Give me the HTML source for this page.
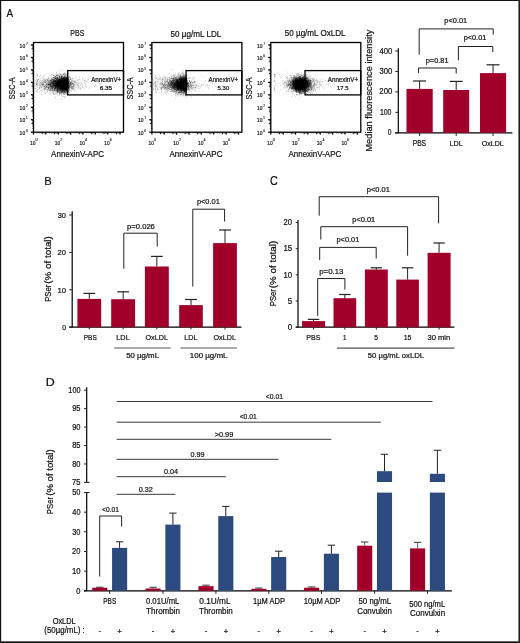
<!DOCTYPE html>
<html><head><meta charset="utf-8"><style>
html,body{margin:0;padding:0;background:#fff;width:520px;height:643px;overflow:hidden}
svg{display:block;will-change:transform}
text{font-family:"Liberation Sans",sans-serif;stroke:#111;stroke-width:0.22px}
</style></head><body>
<svg width="520" height="643" viewBox="0 0 520 643">
<rect width="520" height="643" fill="#fff"/>
<rect x="0.00" y="0.00" width="520.00" height="1.00" fill="#111"/>
<rect x="0.00" y="0.00" width="1.00" height="643.00" fill="#151515"/>
<rect x="1.00" y="1.00" width="0.40" height="641.00" fill="#888"/>
<rect x="519.00" y="0.00" width="1.00" height="643.00" fill="#222"/>
<rect x="518.30" y="0.00" width="0.70" height="643.00" fill="#444"/>
<rect x="0.00" y="642.00" width="520.00" height="1.00" fill="#111"/>
<rect x="0.00" y="641.20" width="520.00" height="0.80" fill="#444"/>
<text transform="translate(6.50,17.10) scale(0.856,1)" font-size="11.59" fill="#111">A</text>
<text transform="translate(44.20,184.60) scale(0.955,1)" font-size="11.74" fill="#111">B</text>
<text transform="translate(269.96,184.90) scale(0.903,1)" font-size="12.03" fill="#111">C</text>
<text transform="translate(45.71,385.80) scale(1.073,1)" font-size="11.59" fill="#111">D</text>
<path d="M60.0 90.1h.4M60.1 84.4h.4M55.9 80.9h.4M64.5 76.6h.4M59.9 81.1h.4M61.9 89.4h.4M65.2 82.4h.4M64.3 87.4h.4M61.8 85.3h.4M65.4 84.2h.4M62.0 82.9h.4M52.4 83.4h.4M62.9 82.5h.4M60.8 81.2h.4M62.7 84.2h.4M66.3 88.0h.4M43.9 86.2h.4M57.8 78.0h.4M67.4 86.3h.4M61.4 85.5h.4M65.0 81.8h.4M65.9 87.4h.4M61.5 86.5h.4M64.4 91.4h.4M56.0 75.7h.4M65.5 87.0h.4M64.4 79.8h.4M66.2 84.6h.4M62.2 86.1h.4M63.6 89.9h.4M60.5 84.9h.4M66.3 81.0h.4M64.2 87.3h.4M57.1 86.1h.4M60.6 88.7h.4M63.5 73.6h.4M57.2 84.3h.4M56.0 72.4h.4M67.2 85.1h.4M64.1 84.0h.4M61.0 80.9h.4M66.6 85.7h.4M57.7 84.9h.4M62.1 88.3h.4M59.2 89.7h.4M60.6 84.6h.4M63.3 83.4h.4M68.1 81.2h.4M61.9 89.0h.4M60.1 83.9h.4M56.3 83.3h.4M57.8 86.6h.4M59.8 81.9h.4M67.2 83.3h.4M62.6 84.2h.4M61.2 88.0h.4M56.4 80.1h.4M62.0 79.6h.4M59.2 81.8h.4M57.8 81.4h.4M67.2 81.1h.4M58.2 87.1h.4M66.0 82.2h.4M58.4 91.3h.4M64.4 88.0h.4M58.8 84.3h.4M60.4 83.7h.4M65.6 86.9h.4M65.9 93.6h.4M66.4 85.9h.4M50.8 80.5h.4M62.3 84.4h.4M64.0 97.5h.4M59.5 80.6h.4M66.5 83.1h.4M64.7 84.5h.4M65.8 82.1h.4M48.9 89.5h.4M61.2 81.7h.4M62.1 83.9h.4M63.2 86.3h.4M60.7 86.5h.4M57.8 83.3h.4M60.9 84.9h.4M62.7 84.0h.4M61.4 70.9h.4M61.1 87.2h.4M56.5 85.1h.4M66.5 83.7h.4M52.2 87.8h.4M61.1 77.3h.4M66.4 89.2h.4M61.6 82.0h.4M61.1 80.5h.4M53.1 80.2h.4M68.4 85.8h.4M67.4 81.8h.4M61.1 87.2h.4M66.2 78.7h.4M44.2 89.0h.4M59.8 83.5h.4M62.2 91.5h.4M46.1 85.9h.4M63.5 82.6h.4M64.9 83.3h.4M64.6 76.9h.4M66.5 83.3h.4M63.1 79.4h.4M61.7 81.7h.4M57.1 92.7h.4M62.7 80.1h.4M64.5 86.5h.4M58.9 86.4h.4M65.3 83.1h.4M59.7 83.9h.4M60.6 81.7h.4M57.0 91.4h.4M66.4 86.5h.4M63.0 88.4h.4M67.4 77.3h.4M64.8 83.7h.4M58.2 79.9h.4M60.2 88.6h.4M62.4 83.2h.4M65.3 81.2h.4M64.2 84.6h.4M61.6 84.9h.4M63.2 83.9h.4M58.1 90.6h.4M66.1 88.2h.4M66.9 85.1h.4M62.3 86.7h.4M65.8 82.9h.4M60.1 78.7h.4M65.2 74.9h.4M62.3 87.9h.4M58.1 82.6h.4M64.2 76.8h.4M59.1 84.8h.4M59.4 94.8h.4M65.0 81.6h.4M63.2 83.8h.4M55.1 86.2h.4M56.9 79.6h.4M60.5 90.4h.4M57.8 82.8h.4M63.6 85.7h.4M62.9 87.7h.4M65.1 83.9h.4M63.5 87.2h.4M62.0 78.2h.4M55.5 78.8h.4M51.0 85.1h.4M65.5 81.7h.4M62.6 81.9h.4M62.2 84.4h.4M51.4 86.8h.4M64.9 89.6h.4M63.9 92.0h.4M66.2 90.1h.4M63.0 88.2h.4M55.6 81.2h.4M62.0 81.0h.4M66.9 79.6h.4M62.2 82.9h.4M49.2 85.5h.4M60.6 92.6h.4M58.3 81.7h.4M64.3 87.2h.4M58.2 82.5h.4M65.4 84.4h.4M56.1 77.6h.4M67.5 94.3h.4M59.6 85.6h.4M63.7 84.6h.4M66.2 84.9h.4M64.3 79.0h.4M55.1 88.1h.4M62.3 86.2h.4M53.4 88.4h.4M66.6 91.2h.4M57.2 88.0h.4M67.5 82.9h.4M52.0 83.7h.4M66.6 79.1h.4M55.0 94.2h.4M58.7 79.3h.4M50.1 89.8h.4M55.2 81.3h.4M63.0 85.9h.4M53.9 84.8h.4M65.3 81.0h.4M57.0 88.6h.4M63.3 87.9h.4M67.5 85.4h.4M60.7 88.4h.4M57.2 91.9h.4M64.6 80.4h.4M58.6 82.9h.4M59.8 79.5h.4M66.1 81.8h.4M57.0 83.7h.4M63.6 83.7h.4M54.7 85.1h.4M65.2 91.4h.4M61.4 88.3h.4M61.7 83.3h.4M58.2 87.0h.4M63.7 82.5h.4M64.8 88.7h.4M59.5 83.1h.4M64.4 84.2h.4M61.1 79.2h.4M65.0 82.7h.4M61.8 92.6h.4M66.4 74.6h.4M65.0 84.2h.4M51.6 82.0h.4M59.9 82.4h.4M61.8 89.5h.4M42.7 81.5h.4M63.4 78.3h.4M64.3 83.6h.4M63.0 83.9h.4M46.5 87.0h.4M51.8 90.0h.4M61.6 87.3h.4M57.4 87.8h.4M60.5 81.8h.4M63.2 80.9h.4M61.2 85.5h.4M65.7 86.5h.4M67.2 87.6h.4M58.1 86.4h.4M60.4 82.1h.4M65.0 81.6h.4M58.9 89.1h.4M59.7 87.9h.4M62.5 76.9h.4M52.7 86.4h.4M65.5 86.1h.4M61.1 81.1h.4M60.5 79.4h.4M63.9 87.7h.4M68.0 86.1h.4M61.9 78.9h.4M42.1 84.1h.4M66.3 89.1h.4M54.1 82.6h.4M57.8 91.0h.4M60.6 78.9h.4M64.8 89.6h.4M66.8 83.5h.4M62.9 80.6h.4M60.6 83.1h.4M66.2 87.8h.4M58.5 79.2h.4M49.9 88.8h.4M65.3 87.1h.4M51.4 75.0h.4M64.6 85.5h.4M58.2 89.2h.4M66.7 81.4h.4M46.0 73.8h.4M55.2 87.6h.4M55.3 88.5h.4M57.2 90.5h.4M54.0 80.5h.4M66.3 80.1h.4M53.1 82.0h.4M64.6 89.4h.4M67.2 80.5h.4M52.2 84.6h.4M60.7 77.6h.4M60.7 90.3h.4M56.0 84.3h.4M55.7 84.8h.4M61.1 98.0h.4M62.9 88.5h.4M54.6 86.7h.4M61.0 84.4h.4M59.7 83.6h.4M57.7 78.3h.4M61.9 88.0h.4M67.7 83.5h.4M62.7 83.6h.4M57.6 78.0h.4M55.5 89.4h.4M65.1 85.0h.4M65.8 85.1h.4M66.2 82.4h.4M68.5 86.7h.4M63.7 88.0h.4M67.2 86.8h.4M64.5 80.1h.4M59.8 77.3h.4M65.6 83.9h.4M45.8 86.4h.4M60.2 74.3h.4M62.2 80.6h.4M67.0 82.2h.4M42.1 84.5h.4M62.0 88.8h.4M61.3 82.6h.4M63.3 88.0h.4M57.4 83.0h.4M47.9 88.2h.4M63.5 81.7h.4M65.6 84.3h.4M63.6 87.9h.4M46.4 84.3h.4M63.6 74.6h.4M67.8 83.0h.4M55.5 86.1h.4M64.3 84.4h.4M57.8 79.9h.4M59.7 82.2h.4M61.9 87.1h.4M65.2 87.8h.4M67.6 86.1h.4M64.6 81.4h.4M61.1 80.5h.4M66.2 92.9h.4M64.0 79.7h.4M67.1 89.1h.4M55.0 84.8h.4M63.2 86.6h.4M61.0 85.8h.4M68.0 83.2h.4M46.7 86.9h.4M53.7 80.5h.4M64.0 82.8h.4M56.9 85.0h.4M64.5 73.8h.4M65.7 89.7h.4M65.9 83.5h.4M66.3 83.1h.4M60.6 79.9h.4M65.5 83.4h.4M56.5 78.4h.4M66.2 79.9h.4M59.2 81.2h.4M63.6 84.1h.4M65.2 83.8h.4M67.5 81.3h.4M64.6 82.0h.4M64.5 86.4h.4M64.7 81.0h.4M66.3 90.1h.4M49.6 86.6h.4M64.6 81.4h.4M66.4 78.6h.4M62.0 84.5h.4M55.5 88.2h.4M63.9 84.6h.4M65.4 84.4h.4M64.8 78.1h.4M55.3 87.3h.4M56.5 79.6h.4M52.6 90.3h.4M60.5 84.3h.4M66.4 90.6h.4M60.5 86.8h.4M58.4 76.2h.4M63.0 83.7h.4M64.5 86.5h.4M55.5 89.8h.4M53.5 83.6h.4M66.8 86.2h.4M66.5 77.4h.4M53.3 84.9h.4M64.8 83.3h.4M61.0 86.6h.4M61.3 83.8h.4M64.6 83.2h.4M61.2 83.6h.4M65.6 86.7h.4M60.9 89.9h.4M66.1 87.8h.4M55.8 88.6h.4M65.3 80.2h.4M62.4 78.5h.4M63.8 79.8h.4M63.4 79.9h.4M63.4 86.4h.4M63.5 83.7h.4M65.0 83.1h.4M67.3 93.3h.4M62.5 83.2h.4M66.6 87.8h.4M61.9 84.5h.4M47.2 79.9h.4M66.5 77.5h.4M52.5 81.9h.4M65.1 86.0h.4M56.1 86.4h.4M61.5 89.4h.4M58.8 86.4h.4M66.7 91.8h.4M64.3 81.5h.4M62.3 81.6h.4M65.9 87.5h.4M65.0 83.8h.4M62.7 88.7h.4M64.9 90.9h.4M55.0 85.9h.4M63.6 83.1h.4M60.8 74.5h.4M61.1 83.4h.4M59.6 85.6h.4M58.8 79.1h.4M60.7 86.2h.4M63.4 85.5h.4M66.6 85.2h.4M62.6 88.2h.4M58.3 90.7h.4M53.8 80.4h.4M62.0 83.9h.4M64.3 85.8h.4M56.1 90.8h.4M64.0 84.9h.4M61.7 87.1h.4M49.7 85.0h.4M63.9 85.4h.4M57.3 85.6h.4M65.0 89.2h.4M61.9 86.7h.4M51.7 88.3h.4M66.1 85.1h.4M60.8 83.4h.4M60.6 84.3h.4M59.6 88.5h.4M66.9 85.0h.4M60.7 78.4h.4M63.1 86.4h.4M52.7 79.9h.4M65.4 75.5h.4M60.0 84.0h.4M63.7 91.2h.4M43.1 87.8h.4M61.8 86.8h.4M57.4 81.1h.4M66.4 80.0h.4M65.7 80.2h.4M54.2 82.7h.4M62.8 81.3h.4M62.4 84.7h.4M67.0 85.2h.4M63.6 80.7h.4M62.8 86.4h.4M53.2 75.5h.4M67.0 81.9h.4M67.0 82.1h.4M61.3 81.3h.4M55.0 83.4h.4M64.0 83.3h.4M62.8 85.3h.4M61.1 85.8h.4M63.4 77.3h.4M64.1 87.9h.4M65.4 86.0h.4M61.6 89.3h.4M57.3 90.1h.4M56.9 91.3h.4M67.1 89.6h.4M56.8 84.4h.4M57.5 90.3h.4M56.2 84.6h.4M60.1 83.1h.4M57.8 84.9h.4M61.9 91.8h.4M66.0 88.8h.4M64.3 85.2h.4M58.5 84.7h.4M56.5 81.1h.4M62.0 88.2h.4M63.3 70.1h.4M66.4 85.0h.4M66.7 83.2h.4M56.2 82.1h.4M57.9 88.0h.4M65.3 83.3h.4M56.1 90.5h.4M54.3 79.5h.4M63.3 93.0h.4M66.1 82.2h.4M55.5 87.4h.4M63.8 82.2h.4M63.8 82.1h.4M63.9 84.6h.4M61.0 87.4h.4M62.2 82.4h.4M48.0 81.6h.4M63.5 82.3h.4M65.7 79.2h.4M67.1 79.3h.4M66.9 85.1h.4M62.2 87.7h.4M60.2 87.6h.4M37.0 84.1h.4M62.4 85.1h.4M63.3 74.3h.4M61.7 81.0h.4M57.9 82.5h.4M64.7 86.0h.4M44.6 86.0h.4M59.2 83.9h.4M51.3 84.5h.4M64.3 93.0h.4M63.6 80.9h.4M62.6 84.6h.4M60.4 82.5h.4M58.4 81.7h.4M55.6 83.0h.4M66.6 84.9h.4M65.6 81.4h.4M56.6 91.8h.4M64.6 83.6h.4M60.9 83.6h.4M67.2 90.5h.4M67.3 90.5h.4M51.7 89.5h.4M58.9 88.9h.4M64.8 76.9h.4M53.6 82.2h.4M62.7 83.2h.4M61.2 81.3h.4M65.4 90.2h.4M49.4 88.1h.4M67.0 80.8h.4M66.4 78.8h.4M63.3 78.0h.4M64.8 79.2h.4M65.8 84.8h.4M56.4 86.7h.4M65.5 82.0h.4M59.3 90.2h.4M63.3 83.4h.4M64.0 85.9h.4M64.6 79.7h.4M61.8 83.1h.4M63.2 79.1h.4M65.8 84.4h.4M65.6 87.5h.4M59.9 83.5h.4M56.0 83.7h.4M52.4 89.0h.4M65.4 82.6h.4M61.5 88.7h.4M64.6 85.6h.4M58.0 81.7h.4M62.2 80.8h.4M55.9 85.1h.4M59.0 88.0h.4M62.0 83.5h.4M61.6 79.1h.4M61.5 82.2h.4M60.2 88.0h.4M63.0 85.6h.4M59.5 83.4h.4M66.0 84.0h.4M60.5 92.2h.4M63.7 73.8h.4M60.6 79.2h.4M65.0 88.6h.4M59.9 86.9h.4M67.4 86.0h.4M67.6 81.1h.4M65.6 88.0h.4M67.9 81.2h.4M56.9 82.0h.4M58.3 80.7h.4M44.2 86.5h.4M52.7 79.4h.4M63.5 86.5h.4M50.2 82.1h.4M64.3 86.9h.4M54.1 82.5h.4M62.2 90.8h.4M53.5 83.1h.4M67.7 83.8h.4M66.3 82.1h.4M61.1 82.0h.4M64.4 84.0h.4M61.0 84.9h.4M57.9 77.9h.4M57.5 81.4h.4M54.7 84.6h.4M65.0 81.2h.4M67.0 84.1h.4M58.9 87.5h.4M64.2 87.8h.4M64.7 89.1h.4M64.2 86.5h.4M61.7 89.8h.4M63.5 77.8h.4M46.1 81.8h.4M60.1 80.4h.4M56.6 81.9h.4M50.6 87.2h.4M64.5 83.9h.4M59.6 76.5h.4M39.0 91.7h.4M66.5 87.8h.4M66.9 84.5h.4M57.2 82.3h.4M66.1 80.5h.4M66.0 79.8h.4M57.9 79.6h.4M62.9 87.0h.4M60.8 78.1h.4M62.9 86.7h.4M66.9 89.2h.4M65.1 84.0h.4M53.0 89.0h.4M61.3 87.1h.4M60.4 84.3h.4M57.6 84.2h.4M49.9 91.1h.4M62.6 91.5h.4M59.2 79.3h.4M56.4 84.9h.4M54.1 78.0h.4M62.2 82.8h.4M62.6 89.4h.4M67.4 85.2h.4M52.9 81.5h.4M63.5 87.4h.4M66.2 87.2h.4M58.5 86.9h.4M57.1 88.2h.4M64.3 85.5h.4M65.9 85.4h.4M56.8 86.4h.4M67.9 87.0h.4M50.4 94.1h.4M56.9 80.1h.4M63.7 80.6h.4M59.8 80.6h.4M63.6 77.0h.4M66.5 80.3h.4M64.7 79.5h.4M51.0 87.1h.4M54.4 87.9h.4M57.1 78.5h.4M43.4 83.6h.4M62.6 78.7h.4M63.7 81.1h.4M60.2 84.8h.4M68.3 82.9h.4M59.2 83.0h.4M62.8 89.5h.4M54.9 85.7h.4M50.7 80.9h.4M66.7 80.6h.4M68.3 78.0h.4M52.8 83.3h.4M61.5 89.2h.4M60.7 88.2h.4M60.7 82.8h.4M57.3 79.5h.4M55.1 81.7h.4M56.3 78.1h.4M64.0 73.8h.4M56.0 73.8h.4M48.5 84.4h.4M64.5 80.7h.4M61.5 77.6h.4M40.1 86.8h.4M64.5 86.7h.4M58.4 89.3h.4M65.5 84.0h.4M57.8 81.1h.4M68.4 86.7h.4M63.1 79.4h.4M56.2 82.3h.4M66.1 88.4h.4M63.1 79.3h.4M63.4 84.1h.4M60.3 82.3h.4M53.9 78.8h.4M51.7 90.6h.4M67.8 78.9h.4M65.9 81.0h.4M66.1 83.3h.4M63.4 88.1h.4M65.1 85.4h.4M61.6 80.8h.4M67.8 80.5h.4M66.7 86.7h.4M62.5 83.5h.4M64.0 83.2h.4M67.8 84.0h.4M65.6 85.1h.4M62.2 82.9h.4M62.9 88.9h.4M59.8 92.1h.4M64.1 80.5h.4M66.2 82.5h.4M62.3 87.1h.4M58.7 85.6h.4M60.9 82.2h.4M66.6 80.5h.4M63.6 81.5h.4M57.6 86.8h.4M61.7 87.5h.4M66.3 80.4h.4M63.3 85.2h.4M61.5 79.6h.4M57.9 88.9h.4M64.7 82.7h.4M58.1 81.9h.4M64.5 80.1h.4M60.9 86.3h.4M68.4 87.9h.4M42.3 78.7h.4M58.6 88.6h.4M54.6 80.9h.4M65.6 82.5h.4M65.1 81.1h.4M67.8 88.0h.4M56.4 91.7h.4M61.1 81.4h.4M66.3 88.2h.4M66.3 83.2h.4M66.1 91.0h.4M64.9 85.3h.4M67.3 82.1h.4M62.4 90.5h.4M61.9 85.0h.4M57.1 85.9h.4M64.7 88.0h.4M66.3 82.7h.4M51.3 85.8h.4M67.9 86.1h.4M65.4 85.9h.4M65.7 77.4h.4M59.7 84.2h.4M42.2 87.7h.4M51.8 87.6h.4M64.0 82.6h.4M43.6 84.7h.4M53.3 82.0h.4M58.4 82.0h.4M46.4 79.4h.4M57.0 84.8h.4M62.9 87.3h.4M48.7 85.0h.4M62.0 87.3h.4M64.8 85.0h.4M64.0 85.7h.4M65.4 84.7h.4M65.9 85.2h.4M66.5 80.1h.4M48.7 83.4h.4M65.1 80.2h.4M64.9 79.8h.4M64.7 91.9h.4M51.5 81.2h.4M52.3 80.2h.4M60.7 69.4h.4M62.5 83.8h.4M62.4 84.3h.4M56.2 76.0h.4M52.4 83.4h.4M66.9 86.3h.4M52.4 79.9h.4M54.8 87.9h.4M64.5 83.8h.4M63.8 86.1h.4M60.7 81.0h.4M63.3 84.6h.4M63.9 86.4h.4M68.3 87.3h.4M51.2 81.9h.4M63.9 82.2h.4M66.7 88.8h.4M67.0 82.0h.4M59.7 82.1h.4M58.7 84.1h.4M59.0 80.2h.4M63.4 88.5h.4M66.2 78.2h.4M64.0 81.4h.4M66.2 86.2h.4M36.6 84.1h.4M65.1 80.1h.4M57.7 86.9h.4M58.2 85.9h.4M63.8 84.8h.4M64.2 80.8h.4M61.9 85.6h.4M59.2 76.5h.4M60.0 87.6h.4M67.6 86.8h.4M59.2 77.2h.4M55.1 78.4h.4M64.7 80.5h.4M62.1 83.8h.4M66.4 90.4h.4M55.2 83.1h.4M64.5 89.1h.4M56.3 86.1h.4M43.3 83.9h.4M59.9 80.3h.4M59.8 88.0h.4M65.5 86.3h.4M64.2 78.8h.4M65.3 81.5h.4M62.4 89.0h.4M66.1 81.1h.4M64.4 88.0h.4M37.0 85.6h.4M48.4 85.8h.4M67.4 83.0h.4M67.3 84.5h.4M63.2 89.3h.4M57.6 87.0h.4M64.1 73.1h.4M61.9 80.9h.4M60.6 88.7h.4M62.7 79.1h.4M66.4 82.4h.4M48.1 81.1h.4M57.7 89.1h.4M60.1 80.2h.4M63.5 86.6h.4M60.3 86.4h.4M58.5 91.2h.4M57.4 86.5h.4M64.9 85.0h.4M57.5 85.7h.4M68.3 84.2h.4M63.1 84.0h.4M56.4 87.9h.4M63.9 76.7h.4M66.8 79.8h.4M59.3 85.9h.4M64.7 90.4h.4M55.6 84.7h.4M52.5 82.8h.4M66.8 83.1h.4M67.8 78.8h.4M57.0 85.5h.4M62.3 88.5h.4M52.8 87.2h.4M56.8 86.4h.4M63.8 89.1h.4M64.8 83.7h.4M49.6 86.6h.4M66.9 84.9h.4M58.0 80.6h.4M53.7 83.3h.4M64.9 84.2h.4M54.1 90.3h.4M62.6 85.5h.4M59.8 85.0h.4M56.9 89.9h.4M65.7 78.5h.4M65.7 78.2h.4M65.2 84.3h.4M65.8 86.3h.4M65.1 85.5h.4M59.9 86.4h.4M59.2 85.8h.4M59.7 75.1h.4M62.6 84.0h.4M57.8 80.4h.4M48.0 87.7h.4M66.4 87.4h.4M53.8 80.2h.4M57.7 82.8h.4M43.1 80.2h.4M50.1 91.1h.4M64.2 86.0h.4M50.4 90.3h.4M65.6 88.6h.4M36.1 84.2h.4M51.2 85.4h.4M52.5 79.7h.4M63.1 84.3h.4M58.5 83.4h.4M60.5 81.0h.4M66.3 77.9h.4M62.1 86.2h.4M59.0 80.7h.4M58.8 71.3h.4M61.4 82.8h.4M51.5 88.5h.4M63.6 88.4h.4M62.4 85.7h.4M64.6 81.9h.4M64.6 84.2h.4M43.1 85.9h.4M63.7 80.7h.4M67.6 80.7h.4M58.7 81.3h.4M67.3 83.4h.4M66.1 83.4h.4M53.9 80.9h.4M63.6 85.5h.4M54.1 84.7h.4M63.6 87.4h.4M57.1 78.7h.4M63.5 89.6h.4M62.3 75.3h.4M64.9 84.5h.4M57.9 86.3h.4M63.1 88.0h.4M62.3 86.6h.4M60.8 92.1h.4M61.1 83.2h.4M55.3 78.1h.4M66.8 74.4h.4M65.1 82.5h.4M58.6 83.0h.4M60.4 78.5h.4M52.7 87.4h.4M58.5 88.1h.4M56.3 84.7h.4M57.5 84.7h.4M60.7 79.1h.4M60.6 86.0h.4M61.4 88.7h.4M65.3 82.6h.4M67.0 83.0h.4M66.7 80.0h.4M43.9 86.4h.4M44.9 80.6h.4M58.2 85.4h.4M65.5 79.9h.4M64.2 82.5h.4M56.8 85.7h.4M67.2 83.1h.4M65.1 84.4h.4M66.1 82.5h.4M44.9 78.8h.4M57.5 87.5h.4M66.1 76.8h.4M50.6 82.6h.4M48.3 86.7h.4M65.1 82.9h.4M59.6 85.4h.4M63.6 79.8h.4M64.6 86.2h.4M68.4 89.2h.4M64.3 85.0h.4M58.3 79.0h.4M59.4 81.2h.4M58.0 90.5h.4M52.0 87.0h.4M63.3 82.7h.4M66.9 82.2h.4M61.1 85.0h.4M52.8 84.3h.4M66.7 87.4h.4M52.5 85.6h.4M65.9 86.4h.4M62.5 90.7h.4M61.9 82.8h.4M58.6 78.9h.4M62.7 82.2h.4M62.6 88.7h.4M60.2 84.5h.4M65.7 83.0h.4M62.2 83.1h.4M43.4 76.6h.4M56.9 84.1h.4M61.3 79.8h.4M62.2 90.6h.4M60.7 80.5h.4M63.1 80.3h.4M44.3 82.0h.4M63.9 86.9h.4M52.7 79.8h.4M52.1 84.7h.4M62.1 80.3h.4M53.0 93.7h.4M59.5 87.7h.4M63.9 83.8h.4M55.4 83.1h.4M63.7 85.7h.4M61.3 78.5h.4M63.9 85.1h.4M48.5 90.3h.4M64.7 78.4h.4M63.1 79.2h.4M61.5 79.1h.4M57.9 85.2h.4M62.9 82.0h.4M65.6 84.9h.4M56.5 89.4h.4M66.7 85.8h.4M67.3 82.9h.4M67.2 88.8h.4M46.1 79.0h.4M51.9 82.2h.4M57.0 87.6h.4M62.1 84.2h.4M63.4 92.2h.4M59.6 78.2h.4M65.6 80.2h.4M61.7 84.3h.4M50.9 84.6h.4M64.7 88.1h.4M53.7 86.0h.4M63.5 87.2h.4M63.6 86.9h.4M51.7 80.0h.4M63.5 83.2h.4M63.5 82.4h.4M67.0 92.6h.4M61.7 84.8h.4M54.2 88.5h.4M51.7 83.6h.4M59.1 85.4h.4M60.7 86.6h.4M61.5 81.5h.4M65.6 81.9h.4M55.1 86.0h.4M58.5 86.2h.4M63.8 88.7h.4M62.2 82.3h.4M61.6 87.7h.4M64.6 88.4h.4M66.9 82.9h.4M60.4 81.4h.4M62.8 81.6h.4M54.4 85.9h.4M60.0 76.3h.4M62.1 89.9h.4M65.3 76.1h.4M66.1 81.0h.4M64.6 82.5h.4M61.0 84.1h.4M63.9 81.4h.4M48.8 78.7h.4M61.4 82.7h.4M52.7 90.7h.4M53.6 83.6h.4M61.2 88.1h.4M65.2 80.4h.4M63.2 86.3h.4M36.1 90.7h.4M53.6 85.2h.4M43.7 80.2h.4M66.6 88.8h.4M65.9 89.4h.4M60.9 88.6h.4M55.1 83.1h.4M59.5 83.8h.4M65.1 82.9h.4M65.7 82.3h.4M57.1 75.0h.4M66.9 86.7h.4M66.2 83.9h.4M64.0 77.9h.4M66.9 86.8h.4M65.2 77.8h.4M64.9 86.1h.4M61.2 87.1h.4M62.9 89.8h.4M54.8 78.3h.4M60.9 83.6h.4M65.3 86.0h.4M65.1 80.7h.4M52.6 87.3h.4M59.4 82.1h.4M44.1 88.7h.4M64.4 84.8h.4M65.8 88.2h.4M60.9 86.4h.4M60.3 81.8h.4M67.7 85.3h.4M65.7 86.2h.4M42.6 85.8h.4M62.9 88.2h.4M66.8 86.3h.4M54.5 88.3h.4M61.3 81.7h.4M54.5 89.6h.4M61.2 86.3h.4M55.5 82.8h.4M66.3 84.7h.4M67.2 80.7h.4M61.0 81.7h.4M66.0 87.8h.4M50.0 88.3h.4M47.6 83.4h.4M67.1 76.6h.4M53.0 80.5h.4M67.8 87.1h.4M62.8 86.0h.4M68.4 86.1h.4M56.1 79.9h.4M67.8 83.1h.4M48.7 85.6h.4M64.8 86.3h.4M58.4 82.7h.4M60.0 83.5h.4M56.8 85.7h.4M60.1 81.4h.4M67.8 80.5h.4M63.8 86.9h.4M62.7 84.7h.4M50.7 79.4h.4M66.4 89.0h.4M65.0 90.4h.4M64.1 86.5h.4M65.8 83.5h.4M56.4 84.9h.4M62.5 86.1h.4M65.8 82.5h.4M64.5 85.8h.4M62.8 81.1h.4M61.6 84.0h.4M61.2 79.1h.4M61.7 82.2h.4M63.6 82.9h.4M57.2 76.2h.4M49.7 84.5h.4M64.0 85.5h.4M63.4 87.0h.4M68.4 86.5h.4M52.1 84.4h.4M68.2 79.6h.4M50.2 89.0h.4M52.8 83.2h.4M53.6 77.2h.4M58.0 80.6h.4M52.5 83.5h.4M65.3 85.6h.4M57.2 84.7h.4M52.3 89.7h.4M57.2 78.3h.4M56.5 83.3h.4M62.7 78.8h.4M67.5 79.8h.4M62.5 88.2h.4M58.4 84.3h.4M65.7 91.3h.4M62.4 89.1h.4M62.7 87.8h.4M64.9 87.1h.4M60.7 81.3h.4M65.5 82.1h.4M67.1 83.3h.4M63.7 81.7h.4M52.6 83.9h.4M67.2 91.4h.4M63.2 85.8h.4M61.2 83.1h.4M60.4 82.5h.4M53.5 85.0h.4M64.1 89.6h.4M62.8 84.9h.4M62.8 83.0h.4M64.2 90.0h.4M62.2 83.1h.4M64.7 80.8h.4M64.9 82.1h.4M61.0 82.4h.4M63.5 81.0h.4M65.7 85.1h.4M67.5 90.8h.4M62.2 83.8h.4M55.3 77.8h.4M56.1 86.0h.4M58.4 86.9h.4M66.6 81.5h.4M57.7 81.0h.4M48.5 87.4h.4M62.4 92.6h.4M59.9 82.6h.4M63.3 92.2h.4M53.4 90.7h.4M59.3 86.1h.4M59.4 83.0h.4M54.8 77.2h.4M62.2 85.4h.4M61.2 80.5h.4M62.8 89.2h.4M65.5 83.0h.4M59.6 88.5h.4M68.4 81.9h.4M62.9 86.9h.4M61.7 82.8h.4M66.9 87.7h.4M64.7 79.5h.4M62.7 82.0h.4M61.5 81.3h.4M60.1 84.0h.4M67.3 93.2h.4M64.6 85.5h.4M60.2 83.1h.4M60.8 81.1h.4M63.0 93.6h.4M65.0 92.7h.4M61.3 84.5h.4M66.5 79.9h.4M59.5 76.8h.4M63.8 88.3h.4M55.9 89.9h.4M63.0 80.9h.4M59.5 84.3h.4M60.3 86.0h.4M64.1 87.0h.4M66.0 80.3h.4M65.0 82.3h.4M63.1 81.8h.4M59.9 78.9h.4M67.2 85.9h.4M68.1 82.0h.4M57.5 90.2h.4M63.2 86.0h.4M56.0 82.8h.4M66.0 83.8h.4M61.0 82.6h.4M53.4 94.6h.4M60.6 83.5h.4M53.1 80.9h.4M65.6 83.0h.4M64.9 82.3h.4M52.8 81.1h.4M65.4 86.9h.4M51.5 85.6h.4M57.1 85.2h.4M63.8 88.1h.4M63.8 88.5h.4M67.4 82.8h.4M61.2 88.9h.4M54.4 86.0h.4M57.4 84.0h.4M65.4 86.1h.4M60.0 84.6h.4M59.0 79.7h.4M53.1 83.7h.4M64.0 77.7h.4M54.0 86.5h.4M62.3 80.0h.4M66.5 84.8h.4M51.9 85.0h.4M64.4 80.6h.4M55.0 88.5h.4M54.7 82.3h.4M59.6 85.2h.4M54.2 81.3h.4M57.2 87.8h.4M62.4 90.5h.4M45.3 86.3h.4M66.7 86.7h.4M39.5 81.7h.4M54.7 85.7h.4M64.2 83.1h.4M63.5 90.2h.4M58.3 82.0h.4M46.9 86.7h.4M63.7 85.3h.4M60.0 90.2h.4M51.7 87.1h.4M62.2 76.9h.4M63.3 89.7h.4M60.9 80.7h.4M65.3 87.6h.4M58.9 77.8h.4M64.5 84.5h.4M52.9 86.7h.4M54.8 74.6h.4M54.8 78.5h.4M60.3 93.4h.4M57.5 83.4h.4M61.9 91.7h.4M56.2 85.2h.4M54.3 82.0h.4M62.3 82.7h.4M66.6 83.1h.4M62.2 83.9h.4M64.1 86.7h.4M65.9 84.4h.4M58.4 89.5h.4M59.2 84.4h.4M64.7 81.1h.4M62.1 86.3h.4M64.6 83.1h.4M66.9 88.5h.4M67.7 85.3h.4M63.9 82.2h.4M51.9 86.0h.4M55.1 81.7h.4M53.7 84.3h.4M67.8 79.9h.4M55.5 93.0h.4M56.5 83.3h.4M63.0 80.2h.4M56.6 75.6h.4M60.6 90.0h.4M64.8 90.6h.4M63.6 85.6h.4M61.9 81.4h.4M58.2 85.1h.4M51.6 82.1h.4M64.5 80.9h.4M61.3 86.3h.4M66.2 87.0h.4M64.4 81.1h.4M62.4 88.3h.4M61.4 82.4h.4M64.6 72.4h.4M65.3 79.1h.4M40.0 87.0h.4M64.3 85.1h.4M60.1 87.9h.4M62.1 86.5h.4M67.5 89.8h.4M62.5 80.4h.4M57.2 87.8h.4M61.5 92.3h.4M55.4 82.8h.4M63.7 79.5h.4M58.8 84.0h.4M65.4 86.2h.4M67.1 87.1h.4M65.8 86.6h.4M63.4 96.4h.4M61.4 81.1h.4M62.3 81.5h.4M67.2 87.2h.4M52.7 82.3h.4M67.2 82.6h.4M65.2 84.8h.4M59.5 90.7h.4M58.2 82.0h.4M62.2 79.0h.4M61.6 85.9h.4M64.9 86.2h.4M56.1 90.5h.4M59.9 84.4h.4M62.6 84.0h.4M58.7 83.2h.4M60.1 84.2h.4M66.2 80.9h.4M65.3 84.3h.4M67.0 79.5h.4M55.7 86.8h.4M62.7 84.1h.4M66.9 85.6h.4M59.0 81.8h.4M61.1 84.3h.4M53.4 82.2h.4M58.2 91.5h.4M67.8 86.6h.4M58.0 83.4h.4M66.3 86.5h.4M59.7 87.0h.4M64.5 85.0h.4M63.9 79.6h.4M60.2 91.6h.4M63.5 84.2h.4M58.8 82.9h.4M62.6 82.7h.4M65.4 87.5h.4M67.1 83.1h.4M64.7 86.5h.4M52.5 85.4h.4M65.2 86.4h.4M61.0 88.4h.4M67.7 82.2h.4M58.8 77.9h.4M65.1 82.6h.4M60.9 85.1h.4M58.6 86.2h.4M67.8 86.1h.4M64.3 80.5h.4M67.9 82.7h.4M64.3 83.2h.4M55.4 78.1h.4M64.7 77.7h.4M66.2 89.5h.4M63.3 79.6h.4M58.0 83.9h.4M55.4 81.6h.4M63.1 83.9h.4M68.2 83.7h.4M65.1 81.4h.4M66.2 79.0h.4M62.4 83.3h.4M60.4 94.7h.4M55.4 86.8h.4M57.4 81.9h.4M64.0 87.3h.4M50.9 89.3h.4M64.4 80.9h.4M62.0 84.1h.4M66.9 86.5h.4M62.9 83.4h.4M55.3 82.7h.4M65.9 87.0h.4M56.6 83.8h.4M57.4 83.1h.4M59.0 83.0h.4M57.7 85.8h.4M58.9 87.8h.4M49.3 82.5h.4M66.8 89.3h.4M58.0 74.0h.4M45.7 84.6h.4M66.0 87.0h.4M57.9 91.6h.4M66.1 90.0h.4M53.3 77.4h.4M63.6 83.8h.4M57.6 84.7h.4M56.5 79.1h.4M67.9 79.2h.4M60.5 81.1h.4M63.4 81.9h.4M60.6 86.0h.4M58.6 84.9h.4M62.1 78.0h.4M56.5 81.1h.4M65.6 77.5h.4M54.4 89.5h.4M65.0 82.4h.4M59.4 83.0h.4M54.1 84.4h.4M58.3 82.3h.4M64.6 89.3h.4M61.3 86.0h.4M65.5 87.4h.4M47.2 83.3h.4M57.5 86.6h.4M66.9 81.6h.4M49.1 87.0h.4M58.4 85.0h.4M54.7 88.0h.4M57.7 82.0h.4M63.5 84.9h.4M62.8 74.9h.4M63.1 78.7h.4M50.2 84.5h.4M63.8 80.5h.4M52.1 83.8h.4M64.3 91.6h.4M58.2 81.1h.4M62.7 88.0h.4M59.9 81.3h.4M58.8 84.1h.4M56.8 86.0h.4M61.5 83.1h.4M64.5 82.2h.4M64.1 87.9h.4M44.7 89.4h.4M60.4 79.3h.4M66.5 82.2h.4M67.2 85.9h.4M40.2 90.1h.4M59.0 92.5h.4M58.9 83.6h.4M60.7 88.7h.4M42.0 89.4h.4M63.6 82.1h.4M66.5 84.3h.4M50.7 82.4h.4M57.4 87.1h.4M59.5 83.6h.4M67.0 86.6h.4M55.6 81.4h.4M61.9 80.1h.4M65.8 85.1h.4M60.2 83.9h.4M64.2 90.7h.4M62.6 86.8h.4M62.3 89.8h.4M49.5 87.7h.4M60.7 88.0h.4M58.4 76.0h.4M63.0 81.3h.4M57.1 81.2h.4M41.3 84.0h.4M57.9 85.3h.4M52.7 87.5h.4M64.9 85.1h.4M57.4 75.4h.4M54.0 90.8h.4M36.0 84.3h.4M58.9 85.6h.4M54.2 83.0h.4M65.8 88.1h.4M56.6 87.1h.4M60.0 79.7h.4M61.3 83.2h.4M58.2 87.1h.4M65.3 87.1h.4M63.9 89.4h.4M63.9 83.5h.4M66.2 85.7h.4M65.0 84.2h.4M67.2 85.3h.4M63.9 82.9h.4M51.5 88.6h.4M58.9 80.7h.4M57.8 85.3h.4M53.0 80.6h.4M58.9 86.8h.4M55.8 85.1h.4M58.7 94.6h.4M57.6 82.5h.4M65.0 92.7h.4M67.2 83.2h.4M66.1 87.6h.4M64.4 87.1h.4M65.0 80.1h.4M63.9 85.2h.4M59.1 88.7h.4M59.4 80.0h.4M67.7 89.7h.4M57.1 78.8h.4M63.1 86.4h.4M53.4 81.3h.4M63.1 81.4h.4M68.2 87.5h.4M58.4 88.0h.4M58.3 87.0h.4M60.4 83.2h.4M57.0 86.3h.4M65.3 83.8h.4M63.4 88.1h.4M66.8 77.3h.4M66.8 85.3h.4M58.6 89.1h.4M64.8 83.0h.4M59.2 82.6h.4M55.2 80.5h.4M63.9 84.7h.4M57.3 83.1h.4M62.1 87.5h.4M58.2 80.0h.4M61.0 85.6h.4M65.6 81.9h.4M65.6 78.7h.4M55.1 80.2h.4M63.0 77.3h.4M54.8 75.2h.4M34.9 81.4h.4M65.9 92.6h.4M63.2 81.2h.4M52.9 85.4h.4M57.4 82.6h.4M54.6 79.5h.4M63.2 85.5h.4M51.1 78.0h.4M52.6 88.5h.4M61.8 80.5h.4M44.0 90.9h.4M60.7 87.8h.4M63.5 85.3h.4M46.7 83.9h.4M65.0 83.2h.4M66.5 83.6h.4M57.5 85.6h.4M65.4 86.7h.4M58.1 85.2h.4M57.1 83.0h.4M64.7 85.6h.4M61.3 81.9h.4M61.7 88.7h.4M62.1 81.9h.4M54.9 87.7h.4M51.0 82.2h.4M65.4 86.5h.4M61.2 84.8h.4M67.0 85.7h.4M64.9 88.6h.4M62.0 83.4h.4M66.6 81.6h.4M66.6 84.3h.4M61.6 89.0h.4M66.7 92.8h.4M65.8 82.7h.4M62.3 76.8h.4M58.5 81.1h.4M59.1 88.4h.4M66.8 87.1h.4M51.6 90.4h.4M64.7 88.1h.4M61.8 91.9h.4M66.2 88.9h.4M58.3 87.1h.4M57.0 92.5h.4M54.7 86.3h.4M62.7 85.6h.4M46.8 89.1h.4M66.6 79.7h.4M63.0 82.4h.4M57.1 82.4h.4M63.0 86.0h.4M66.5 85.5h.4M62.1 78.6h.4M64.7 89.5h.4M67.0 87.0h.4M64.8 74.9h.4M63.6 86.6h.4M63.8 80.7h.4M60.0 79.6h.4M55.6 80.6h.4M60.8 92.2h.4M63.5 81.7h.4M63.2 87.4h.4M67.3 85.6h.4M64.4 94.0h.4M63.6 85.8h.4M55.8 82.3h.4M56.5 88.3h.4M66.7 90.8h.4M62.3 85.2h.4M62.0 88.5h.4M53.4 80.9h.4M65.4 79.5h.4M57.2 88.7h.4M68.0 84.4h.4M63.9 86.7h.4M61.2 82.4h.4M54.1 80.9h.4M63.6 82.8h.4M57.2 82.6h.4M57.1 83.3h.4M65.4 81.6h.4M64.1 86.2h.4M55.7 80.8h.4M63.1 74.4h.4M49.5 84.7h.4M65.6 89.4h.4M48.4 88.1h.4M66.2 87.3h.4M64.3 82.5h.4M53.9 80.3h.4M61.9 78.4h.4M51.3 84.2h.4M65.6 83.8h.4M55.9 88.1h.4M59.3 90.1h.4M63.9 79.4h.4M63.2 83.0h.4M59.9 81.5h.4M57.2 85.8h.4M67.3 86.2h.4M66.3 83.7h.4M63.7 87.2h.4M67.2 81.6h.4M53.5 90.0h.4M61.1 88.1h.4M65.8 89.2h.4M65.6 89.1h.4M65.0 84.5h.4M53.6 75.6h.4M65.9 93.2h.4M62.0 79.4h.4M58.1 82.3h.4M66.6 90.5h.4M59.1 85.1h.4M62.6 85.0h.4M65.4 89.1h.4M42.0 77.0h.4M62.7 87.5h.4M53.7 77.8h.4M58.4 90.0h.4M59.4 86.0h.4M60.2 85.8h.4M62.4 79.7h.4M53.9 85.3h.4M65.9 81.7h.4M65.1 81.8h.4M67.4 88.9h.4M49.3 84.0h.4M67.8 86.1h.4M64.4 82.7h.4M65.3 88.2h.4M65.6 78.0h.4M59.9 79.5h.4M62.3 83.4h.4M65.5 78.1h.4M60.9 85.2h.4M67.8 86.1h.4M59.4 83.6h.4M61.6 85.6h.4M59.2 84.6h.4M66.6 93.7h.4M57.9 86.7h.4M51.9 78.2h.4M66.4 87.3h.4M66.9 78.5h.4M63.1 89.6h.4M55.9 90.7h.4M65.2 78.3h.4M64.7 84.0h.4M59.8 81.9h.4M35.7 82.5h.4M64.8 81.3h.4M59.7 86.6h.4M67.6 85.4h.4M61.6 81.4h.4M68.3 74.9h.4M60.1 83.8h.4M66.2 81.4h.4M63.9 92.3h.4M34.6 83.9h.4M63.7 86.2h.4M64.8 81.4h.4M59.7 75.1h.4M56.1 83.5h.4M58.8 77.3h.4M63.0 88.9h.4M63.2 86.0h.4M66.1 91.3h.4M67.4 82.6h.4M63.7 83.6h.4M61.2 91.3h.4M63.6 86.3h.4M55.7 85.0h.4M67.3 85.2h.4M56.5 82.4h.4M49.9 80.6h.4M61.2 84.1h.4M64.5 82.1h.4M55.9 79.8h.4M68.0 81.8h.4M62.1 82.0h.4M61.3 78.7h.4M61.3 83.9h.4M59.3 80.6h.4M65.7 85.3h.4M65.7 82.4h.4M65.4 81.2h.4M67.0 84.6h.4M62.0 78.0h.4M47.7 85.7h.4M63.4 82.3h.4M65.9 82.3h.4M62.3 84.4h.4M61.6 90.8h.4M66.2 83.5h.4M62.8 86.4h.4M57.9 82.0h.4M57.6 80.0h.4M66.0 83.3h.4M55.2 87.2h.4M54.8 85.8h.4M58.6 83.4h.4M57.4 89.8h.4M67.1 84.4h.4M63.1 90.5h.4M55.0 81.4h.4M62.7 84.2h.4M59.8 83.1h.4M50.4 84.3h.4M60.3 85.8h.4M63.9 85.7h.4M55.6 81.3h.4M51.6 78.9h.4M57.0 81.7h.4M63.7 82.1h.4M63.8 83.8h.4M67.8 85.1h.4M58.4 83.0h.4M63.8 87.7h.4M63.5 82.6h.4M65.3 78.2h.4M61.2 89.4h.4M63.4 87.9h.4M63.1 83.0h.4M67.5 87.9h.4M65.6 73.4h.4M57.8 82.6h.4M59.0 77.3h.4M61.5 84.5h.4M65.2 83.3h.4M61.9 83.9h.4M66.4 83.9h.4M65.1 82.2h.4M54.5 83.3h.4M63.9 80.5h.4M41.1 84.6h.4M64.6 84.3h.4M66.4 79.6h.4M67.5 91.1h.4M62.4 79.2h.4M66.9 82.0h.4M61.8 79.1h.4M53.7 75.4h.4M61.7 83.1h.4M52.0 88.8h.4M61.8 88.7h.4M58.4 82.8h.4M54.0 89.1h.4M65.3 85.6h.4M67.9 83.1h.4M61.1 78.5h.4M62.6 89.2h.4M63.6 90.6h.4M64.0 86.7h.4M63.7 82.4h.4M66.1 86.5h.4M53.8 85.4h.4M63.1 83.1h.4M58.9 83.7h.4M64.5 82.3h.4M56.2 87.6h.4M61.7 80.9h.4M55.4 76.5h.4M65.5 86.3h.4M64.8 84.8h.4M60.2 87.8h.4M62.3 82.5h.4M65.9 85.3h.4M64.7 88.9h.4M52.7 82.4h.4M66.6 80.2h.4M60.0 81.7h.4M67.9 88.9h.4M53.3 81.1h.4M61.7 84.3h.4M57.8 84.1h.4M61.9 86.7h.4M55.3 84.6h.4M62.2 87.0h.4M61.9 80.8h.4M61.2 91.1h.4M62.4 99.7h.4M64.0 85.3h.4M59.3 83.7h.4M44.8 78.7h.4M61.6 88.7h.4M61.5 80.6h.4M65.6 88.2h.4M49.3 90.7h.4M64.9 88.8h.4M60.6 90.8h.4M64.9 79.5h.4M65.4 77.9h.4M64.3 90.0h.4M59.4 85.0h.4M64.5 85.8h.4M52.3 81.2h.4M50.7 81.0h.4M63.0 80.4h.4M64.6 77.7h.4M54.6 87.4h.4M55.9 88.3h.4M60.6 86.3h.4M67.6 87.7h.4M65.1 82.8h.4M65.4 76.8h.4M58.4 81.0h.4M64.4 89.0h.4M61.0 88.2h.4M61.9 82.4h.4M63.8 84.4h.4M47.9 88.2h.4M62.7 84.6h.4M66.9 81.0h.4M62.5 81.7h.4M60.2 85.6h.4M64.9 82.0h.4M59.3 86.8h.4M59.7 83.2h.4M55.2 85.9h.4M58.7 82.2h.4M66.2 85.1h.4M63.7 86.2h.4M67.3 86.8h.4M66.2 87.4h.4M65.2 93.1h.4M68.0 86.4h.4M67.5 83.7h.4M54.8 85.4h.4M63.8 77.7h.4M67.2 82.9h.4M65.0 81.7h.4M60.7 88.4h.4M60.9 85.2h.4M63.6 89.9h.4M55.3 85.8h.4M64.4 82.0h.4M67.4 85.2h.4M58.0 81.4h.4M63.0 85.9h.4M62.8 86.5h.4M58.1 83.7h.4M67.9 82.2h.4M64.6 80.4h.4M49.9 86.5h.4M54.1 80.2h.4M48.4 89.0h.4M63.3 88.9h.4M61.9 84.9h.4M55.8 86.7h.4M47.6 89.5h.4M50.9 86.5h.4M57.0 84.2h.4M51.2 82.6h.4M61.6 84.7h.4M63.7 85.4h.4M62.0 84.7h.4M58.4 86.6h.4M64.5 77.3h.4M67.9 79.9h.4M56.8 79.9h.4M65.6 84.9h.4M49.6 81.7h.4M58.1 82.3h.4M62.0 89.7h.4M67.1 92.4h.4M67.0 84.8h.4M61.4 81.6h.4M50.0 80.9h.4M66.3 84.9h.4M48.2 77.5h.4M63.9 85.8h.4M64.8 80.3h.4M63.5 90.6h.4M62.8 82.0h.4M54.6 83.6h.4M65.4 80.5h.4M67.0 87.9h.4M64.4 78.9h.4M52.8 84.5h.4M45.6 82.9h.4M56.1 84.2h.4M66.7 84.0h.4M63.5 84.1h.4M63.8 85.9h.4M62.9 84.8h.4M62.8 84.6h.4M66.6 81.9h.4M55.3 80.3h.4M61.1 80.7h.4M63.2 81.2h.4M61.6 77.0h.4M64.0 83.3h.4M67.7 82.5h.4M59.7 83.1h.4M52.4 85.9h.4M68.3 87.2h.4M62.6 81.9h.4M59.3 82.1h.4M56.3 81.9h.4M63.1 88.8h.4M63.7 83.3h.4M59.0 79.6h.4M52.0 81.7h.4M66.6 88.6h.4M64.4 86.3h.4M63.0 84.6h.4M54.3 85.3h.4M65.4 79.2h.4M51.6 81.7h.4M65.6 90.5h.4M62.5 81.2h.4M66.3 84.1h.4M63.1 87.4h.4M64.8 81.0h.4M68.2 86.0h.4M67.0 75.7h.4M54.0 82.5h.4M62.9 80.4h.4M59.0 80.0h.4M57.8 80.8h.4M52.3 82.3h.4M65.6 74.3h.4M47.8 87.2h.4M47.0 80.5h.4M64.8 90.4h.4M64.5 85.3h.4M65.5 85.2h.4M60.3 88.9h.4M55.1 83.0h.4M63.7 87.7h.4M61.1 79.2h.4M56.6 87.2h.4M61.3 80.6h.4M60.8 85.9h.4M56.7 87.7h.4M50.6 86.2h.4M62.8 81.7h.4M65.0 87.5h.4M42.3 80.6h.4M60.8 85.8h.4M50.2 84.1h.4M67.2 87.6h.4M65.0 88.5h.4M62.4 84.1h.4M53.6 80.9h.4M66.8 81.1h.4M62.8 82.4h.4M66.3 82.7h.4M67.3 83.1h.4M66.1 83.5h.4M45.4 81.4h.4M61.3 80.4h.4M64.6 76.2h.4M58.1 82.1h.4M63.6 89.6h.4M53.1 79.2h.4M59.8 83.4h.4M57.5 81.3h.4M64.4 78.3h.4M60.8 84.2h.4M63.4 83.4h.4M39.6 85.9h.4M61.3 90.6h.4M52.0 79.1h.4M55.0 97.4h.4M54.7 86.8h.4M55.6 85.9h.4M66.5 87.3h.4M59.3 85.2h.4M67.7 89.0h.4M63.6 80.7h.4M66.2 78.4h.4M61.3 79.8h.4M66.1 84.0h.4M64.5 84.8h.4M54.5 82.3h.4M54.8 89.5h.4M66.6 87.4h.4M65.6 86.9h.4M48.5 86.9h.4M61.9 85.7h.4M63.5 91.6h.4M63.2 80.1h.4M63.7 89.9h.4M63.5 88.5h.4M62.5 77.3h.4M43.7 83.2h.4M67.0 84.5h.4M61.9 89.4h.4M46.0 84.7h.4M62.8 84.7h.4M63.5 82.7h.4M67.1 83.8h.4M65.6 89.4h.4M67.4 83.1h.4M65.2 80.8h.4M67.3 83.2h.4M56.4 83.5h.4M57.0 78.1h.4M59.6 81.6h.4M42.4 84.5h.4M63.5 85.7h.4M64.5 83.9h.4M63.0 87.7h.4M60.1 80.6h.4M64.7 85.3h.4M62.9 84.9h.4M56.6 75.0h.4M60.5 87.6h.4M65.7 85.5h.4M58.7 85.1h.4M61.3 86.9h.4M62.7 79.4h.4M57.3 78.0h.4M48.6 78.4h.4M61.7 81.0h.4M62.7 88.9h.4M58.9 87.1h.4M48.6 84.1h.4M63.6 82.0h.4M63.5 87.0h.4M57.7 77.8h.4M58.7 88.6h.4M59.7 82.2h.4M59.8 86.1h.4M65.5 83.8h.4M63.7 79.8h.4M60.1 86.6h.4M59.7 92.7h.4M67.2 84.9h.4M52.8 83.7h.4M53.7 81.1h.4M60.6 83.8h.4M65.2 88.1h.4M66.9 77.6h.4M58.1 85.8h.4M43.1 79.4h.4M55.1 86.6h.4M63.5 88.8h.4M58.5 83.0h.4M48.3 78.8h.4M60.1 82.7h.4M61.0 87.7h.4M60.5 82.3h.4M65.5 82.4h.4M61.2 82.3h.4M54.8 88.2h.4M67.9 85.0h.4M57.7 85.0h.4M66.1 79.0h.4M66.2 90.4h.4M67.2 88.3h.4M56.0 79.5h.4M57.2 77.1h.4M54.4 84.3h.4M66.5 83.2h.4M59.4 87.0h.4M58.2 83.9h.4M64.4 90.2h.4M62.0 89.0h.4M54.8 84.3h.4M66.1 83.9h.4M64.2 89.6h.4M58.0 84.9h.4M61.2 84.5h.4M62.2 86.3h.4M56.9 86.4h.4M62.4 90.0h.4M65.0 77.8h.4M58.2 81.7h.4M57.0 81.1h.4M65.0 91.8h.4M58.7 86.7h.4M67.9 84.5h.4M65.7 88.4h.4M64.8 75.4h.4M64.3 83.3h.4M52.7 82.8h.4M64.3 77.1h.4M60.4 83.8h.4M66.7 80.5h.4M62.1 81.3h.4M67.0 87.4h.4M57.6 88.5h.4M64.5 84.9h.4M64.6 86.1h.4M67.1 81.4h.4M61.9 87.5h.4M58.2 86.3h.4M46.1 81.6h.4M62.3 79.3h.4M65.0 87.4h.4M60.2 82.5h.4M55.4 83.8h.4M62.7 88.0h.4M40.4 84.0h.4M47.9 91.3h.4M64.8 83.8h.4M67.8 73.7h.4M62.1 88.2h.4M61.6 83.4h.4M52.9 77.9h.4M60.9 84.5h.4M65.9 83.3h.4M62.1 83.0h.4M58.5 91.8h.4M64.2 78.3h.4M65.3 82.2h.4M62.5 80.0h.4M65.2 79.3h.4M67.2 85.2h.4M64.6 86.9h.4M58.6 87.5h.4M66.5 84.6h.4M67.9 77.5h.4M52.5 84.6h.4M53.3 84.9h.4M64.9 79.1h.4M53.6 84.2h.4M62.5 90.2h.4M39.4 88.6h.4M58.7 83.6h.4M57.7 83.1h.4M62.1 84.0h.4M59.3 82.9h.4M60.4 87.5h.4M66.3 78.9h.4M65.8 83.8h.4M64.2 84.9h.4M58.3 80.6h.4M66.4 88.6h.4M61.9 86.0h.4M50.0 88.6h.4M66.8 86.1h.4M65.4 81.2h.4M64.2 81.4h.4M55.5 88.7h.4M60.4 82.2h.4M60.2 89.1h.4M65.9 86.7h.4M66.4 83.3h.4M60.2 84.7h.4M61.6 87.6h.4M48.2 84.5h.4M61.4 82.5h.4M64.6 88.8h.4M66.0 85.7h.4M63.0 87.6h.4M62.2 83.6h.4M55.1 85.5h.4M59.8 81.9h.4M65.5 81.1h.4M59.6 82.0h.4M61.1 79.6h.4M58.0 86.0h.4M63.7 85.0h.4M67.7 89.5h.4M63.2 87.2h.4M58.0 80.0h.4M50.2 85.1h.4M55.0 86.5h.4M64.3 74.3h.4M61.0 83.0h.4M53.8 83.9h.4M51.0 83.1h.4M60.0 90.2h.4M66.8 83.0h.4M59.9 88.3h.4M56.7 80.7h.4M60.5 85.0h.4M64.6 83.8h.4M39.8 89.4h.4M67.6 82.4h.4M63.2 79.2h.4M61.7 91.6h.4M57.6 77.9h.4M63.7 85.6h.4M62.5 82.0h.4M59.1 84.3h.4M63.4 86.5h.4M64.2 75.9h.4M65.7 87.5h.4M57.4 83.9h.4M62.7 88.1h.4M62.7 83.5h.4M61.3 90.1h.4M67.7 85.8h.4M54.9 81.6h.4M52.9 86.2h.4M62.6 86.2h.4M65.3 83.8h.4M65.9 80.4h.4M57.1 80.3h.4M62.6 81.2h.4M55.5 81.7h.4M48.3 81.9h.4M65.1 80.4h.4M58.1 82.2h.4M65.4 81.2h.4M37.4 89.8h.4M56.0 80.6h.4M59.4 83.9h.4M67.6 79.5h.4M66.4 89.4h.4M67.9 83.8h.4M62.1 88.2h.4M64.5 79.8h.4M61.3 83.2h.4M63.3 79.5h.4M51.3 90.0h.4M59.6 93.0h.4M60.1 83.7h.4M60.4 86.9h.4M65.0 84.1h.4M67.2 90.4h.4M52.9 83.0h.4M57.2 85.7h.4M55.4 81.0h.4M58.8 83.3h.4M64.3 83.8h.4M64.9 88.0h.4M66.0 85.8h.4M66.8 82.4h.4M57.4 86.4h.4M64.8 85.7h.4M55.7 81.3h.4M65.3 82.9h.4M60.0 87.0h.4M63.8 82.8h.4M63.1 82.0h.4M62.4 89.4h.4M58.1 84.3h.4M65.5 84.2h.4M63.9 91.1h.4M59.3 82.1h.4M59.4 85.4h.4M58.9 79.4h.4M56.7 87.3h.4M61.3 79.9h.4M61.9 78.5h.4M62.1 84.7h.4M65.2 84.9h.4M53.3 91.5h.4M53.7 85.5h.4M65.3 82.9h.4M67.5 83.1h.4M56.5 82.6h.4M65.8 86.5h.4M62.6 82.2h.4M65.3 82.0h.4M68.2 83.0h.4M67.2 87.7h.4M62.5 82.7h.4M65.8 85.3h.4M55.4 76.8h.4M62.0 85.1h.4M55.1 87.1h.4M68.0 80.2h.4M61.9 78.1h.4M66.1 89.7h.4M60.7 86.9h.4M58.6 78.5h.4M53.8 83.5h.4M65.7 84.9h.4M66.6 88.7h.4M59.8 88.7h.4M63.4 87.7h.4M64.2 90.0h.4M62.9 83.4h.4M64.1 84.8h.4M64.2 82.5h.4M55.7 87.4h.4M53.0 93.4h.4M66.2 85.5h.4M67.4 78.1h.4M58.2 89.0h.4M68.0 88.5h.4M63.5 90.0h.4M64.0 78.0h.4M64.0 86.3h.4M67.8 78.2h.4M62.1 75.8h.4M61.8 82.5h.4M61.0 82.2h.4M58.0 82.0h.4M63.9 83.5h.4M64.0 84.4h.4M60.0 90.1h.4M61.5 80.9h.4M63.6 79.7h.4M59.0 79.4h.4M56.3 83.6h.4M59.6 76.9h.4M63.3 87.0h.4M59.2 80.0h.4M62.3 81.3h.4M61.7 80.2h.4M65.8 84.2h.4M67.4 80.2h.4M46.2 83.1h.4M55.9 86.7h.4M65.1 88.6h.4M62.4 89.0h.4M52.7 81.9h.4M63.4 85.5h.4M47.6 79.4h.4M60.5 85.7h.4M64.9 84.1h.4M65.6 83.0h.4M60.6 87.9h.4M52.5 88.9h.4M66.7 78.6h.4M59.7 85.5h.4M67.5 82.7h.4M51.3 86.0h.4M58.0 82.7h.4M67.0 85.0h.4M60.9 90.6h.4M63.5 87.5h.4M50.9 79.0h.4M62.7 90.8h.4M66.1 76.9h.4M62.6 80.3h.4M68.3 81.7h.4M65.4 84.2h.4M62.3 86.3h.4M56.1 85.2h.4M55.0 84.6h.4M57.0 84.1h.4M60.3 82.7h.4M59.9 86.1h.4M61.5 81.2h.4M62.4 90.9h.4M65.7 79.3h.4M63.6 82.0h.4M64.5 91.0h.4M64.0 85.6h.4M62.6 80.5h.4M57.6 87.3h.4M64.8 87.5h.4M67.6 84.7h.4M61.3 84.4h.4M57.6 90.3h.4M62.0 80.6h.4M65.6 85.7h.4M55.4 84.6h.4M66.1 77.1h.4M61.4 84.2h.4M57.8 80.7h.4M63.7 86.2h.4M67.7 87.2h.4M65.7 91.0h.4M58.5 81.2h.4M64.9 89.6h.4M61.8 77.2h.4M67.2 79.5h.4M65.4 90.7h.4M64.6 82.8h.4M59.1 85.7h.4M64.2 82.0h.4M66.0 77.4h.4M62.5 88.0h.4M63.3 82.1h.4M62.0 88.3h.4M53.0 84.0h.4M66.6 87.7h.4M62.8 94.0h.4M58.7 85.5h.4M65.5 85.9h.4M56.3 79.0h.4M67.2 87.0h.4M62.6 78.9h.4M61.4 81.1h.4M63.6 81.9h.4M63.8 84.6h.4M61.6 79.4h.4M60.8 86.8h.4M55.5 78.9h.4M66.9 90.8h.4M60.6 85.1h.4M64.4 83.9h.4M61.4 84.6h.4M67.0 83.3h.4M50.0 84.9h.4M52.8 79.4h.4M59.3 85.4h.4M66.4 88.9h.4M66.1 74.0h.4M63.0 77.1h.4M47.1 91.4h.4M58.6 86.4h.4M40.5 80.4h.4M51.1 80.9h.4M67.8 81.2h.4M57.1 80.4h.4M66.0 87.2h.4M62.8 82.3h.4M58.7 80.0h.4M65.8 78.3h.4M63.5 83.8h.4M66.5 85.7h.4M66.0 91.2h.4M61.4 76.7h.4M67.6 84.9h.4M66.1 78.2h.4M63.2 89.3h.4M65.1 76.8h.4M67.3 85.1h.4M64.9 87.4h.4M57.3 82.9h.4M63.1 81.2h.4M59.1 85.7h.4M64.4 89.2h.4M55.4 87.4h.4M66.7 86.1h.4M64.5 92.3h.4M66.8 85.3h.4M60.6 85.5h.4M66.3 81.1h.4M66.9 83.7h.4M67.2 87.2h.4M66.3 81.3h.4M65.7 83.4h.4M58.1 85.9h.4M57.8 82.6h.4M59.0 76.8h.4M66.1 85.0h.4M63.3 87.8h.4M50.8 83.4h.4M52.4 86.0h.4M63.4 78.4h.4M64.4 87.9h.4M66.5 82.5h.4M54.2 84.3h.4M64.8 80.8h.4M63.6 90.7h.4M68.0 85.3h.4M59.0 93.0h.4M65.0 82.5h.4M52.8 86.1h.4M58.2 86.1h.4M63.4 77.7h.4M61.9 82.4h.4M63.7 82.7h.4M67.2 90.8h.4M54.4 85.6h.4M64.8 81.0h.4M56.1 85.9h.4M61.0 77.1h.4M65.7 85.2h.4M63.9 84.8h.4M66.0 89.8h.4M64.3 84.2h.4M62.7 77.8h.4M59.3 86.8h.4M59.3 93.0h.4M65.8 81.9h.4M43.7 84.7h.4M66.3 81.4h.4M60.3 84.9h.4M61.8 78.3h.4M66.4 89.1h.4M55.4 93.5h.4M63.5 80.6h.4M58.2 85.7h.4M65.1 82.3h.4M57.0 84.8h.4M44.2 88.7h.4M64.9 87.4h.4M51.1 90.6h.4M68.0 86.1h.4M56.6 85.6h.4M61.5 95.7h.4M58.3 89.1h.4M63.9 86.1h.4M59.2 82.9h.4M59.8 86.6h.4M56.7 89.2h.4M48.1 87.4h.4M64.3 84.6h.4M65.9 84.7h.4M65.2 84.9h.4M58.1 81.2h.4M60.9 80.7h.4M65.1 78.6h.4M40.7 82.4h.4M49.6 90.0h.4M61.1 84.9h.4M56.8 80.0h.4M64.7 81.2h.4M67.4 77.1h.4M66.8 85.1h.4M59.6 88.2h.4M59.8 80.6h.4M64.5 80.9h.4M64.8 83.6h.4M64.5 86.2h.4M65.1 85.8h.4M57.9 84.3h.4M67.5 86.8h.4M63.8 83.4h.4M61.0 85.4h.4M61.2 90.2h.4M58.1 82.7h.4M61.2 83.0h.4M49.5 88.3h.4M57.0 83.1h.4M63.3 84.5h.4M63.6 78.5h.4M66.8 82.0h.4M64.7 84.4h.4M64.3 85.7h.4M63.3 87.2h.4M49.8 87.7h.4M62.9 86.2h.4M54.2 85.0h.4M67.2 86.8h.4M43.0 86.8h.4M61.1 90.1h.4M53.7 84.1h.4M61.0 85.1h.4M59.2 90.7h.4M64.0 87.9h.4M62.2 80.2h.4M64.9 83.5h.4M58.7 84.3h.4M56.8 84.9h.4M64.2 80.0h.4M65.5 78.1h.4M60.3 87.6h.4M63.5 84.4h.4M58.3 85.3h.4M64.8 81.9h.4M66.9 88.4h.4M64.8 81.8h.4M63.3 92.2h.4M65.8 83.9h.4M63.1 91.7h.4M66.9 85.7h.4M49.6 85.4h.4M61.1 89.4h.4M38.9 84.1h.4M63.5 85.8h.4M65.9 87.7h.4M50.9 78.5h.4M64.6 85.3h.4M64.0 83.4h.4M65.8 87.7h.4M64.0 82.5h.4M53.8 87.5h.4M65.6 82.3h.4M68.2 80.9h.4M61.8 82.9h.4M51.5 90.7h.4M64.6 79.6h.4M64.3 81.2h.4M58.0 86.5h.4M63.8 79.2h.4M66.5 87.4h.4M49.6 82.2h.4M56.7 82.3h.4M62.9 78.3h.4M66.7 82.8h.4M61.8 88.4h.4M66.6 82.9h.4M64.9 85.5h.4M60.2 86.3h.4M66.0 87.6h.4M63.2 81.7h.4M55.0 86.9h.4M56.8 89.9h.4M66.4 84.9h.4M41.6 81.2h.4M65.8 84.3h.4M63.4 79.5h.4M60.7 86.3h.4M56.4 79.2h.4M48.5 82.8h.4M67.4 87.5h.4M61.3 80.0h.4M60.9 83.3h.4M54.8 87.8h.4M63.4 79.6h.4M65.9 82.7h.4M58.5 83.8h.4M61.8 79.1h.4M64.5 86.0h.4M65.8 88.0h.4M66.5 87.5h.4M62.3 81.3h.4M57.3 88.7h.4M58.6 87.2h.4M59.1 83.8h.4M66.4 86.5h.4M66.4 83.0h.4M62.4 85.0h.4M67.4 88.5h.4M56.6 85.7h.4M50.6 89.0h.4M52.8 83.0h.4M57.6 84.0h.4M55.2 81.0h.4M65.2 84.9h.4M66.8 85.9h.4M58.8 75.2h.4M62.8 79.2h.4M62.3 85.2h.4M65.0 83.4h.4M59.8 77.7h.4M60.7 82.8h.4M64.9 90.1h.4M65.2 85.6h.4M63.6 78.9h.4M65.7 83.6h.4M61.1 77.1h.4M67.2 83.5h.4M65.0 82.7h.4M65.7 87.3h.4M56.2 82.3h.4M60.7 80.9h.4M60.3 84.4h.4M57.5 92.1h.4M58.3 81.6h.4M65.4 86.8h.4M65.9 81.1h.4M62.0 80.8h.4M64.0 85.3h.4M61.2 82.8h.4M61.9 87.1h.4M68.1 86.6h.4M57.9 86.9h.4M65.6 84.3h.4M68.5 87.8h.4M48.7 84.4h.4M60.9 86.6h.4M58.5 77.9h.4M65.6 84.4h.4M57.7 85.0h.4M67.8 86.3h.4M60.8 84.3h.4M61.5 87.0h.4M62.6 82.2h.4M60.5 80.7h.4M66.2 85.0h.4M61.6 83.4h.4M57.8 84.6h.4M63.4 77.7h.4M62.0 79.1h.4M56.7 89.7h.4M62.5 87.1h.4M67.1 85.9h.4M64.2 90.1h.4M57.1 84.5h.4M51.5 88.8h.4M58.3 82.8h.4M60.2 92.8h.4M57.4 75.5h.4M64.1 84.3h.4M63.3 75.3h.4M63.4 85.3h.4M64.3 87.7h.4M61.7 86.1h.4M55.1 85.2h.4M53.7 84.7h.4M67.6 83.0h.4M51.9 82.4h.4M61.1 85.2h.4M53.3 85.2h.4M67.2 90.2h.4M66.6 85.8h.4M66.3 86.7h.4M53.7 85.8h.4M58.0 82.3h.4M64.2 81.2h.4M65.8 89.0h.4M59.4 80.1h.4M60.4 86.0h.4M59.0 87.6h.4M67.1 81.8h.4M65.5 91.5h.4M36.4 86.5h.4M64.5 84.2h.4M51.8 83.1h.4M54.2 90.2h.4M58.9 79.1h.4M66.1 86.2h.4M66.9 83.2h.4M62.5 90.3h.4M56.0 85.2h.4M68.4 82.8h.4M62.0 88.9h.4M62.0 82.9h.4M62.2 89.5h.4M58.3 87.4h.4M67.2 85.7h.4M62.3 88.2h.4M68.1 83.0h.4M61.8 87.0h.4M57.9 82.6h.4M59.1 85.6h.4M65.1 79.6h.4M56.0 89.3h.4M68.0 76.9h.4M64.3 79.9h.4M64.3 86.0h.4M63.6 85.0h.4M52.2 87.7h.4M68.5 78.6h.4M66.0 82.4h.4M59.8 85.6h.4M65.9 83.3h.4M50.6 84.4h.4M63.1 86.1h.4M55.8 84.5h.4M67.7 80.7h.4M63.6 77.7h.4M61.9 82.2h.4M66.3 80.1h.4M65.1 77.7h.4M59.6 86.4h.4M63.3 88.0h.4M64.5 83.8h.4M59.0 89.7h.4M45.6 89.5h.4M60.4 86.3h.4M67.6 77.3h.4M61.4 83.5h.4M65.9 90.0h.4M64.5 82.5h.4M63.6 87.8h.4M56.1 86.9h.4M54.6 82.0h.4M67.9 82.3h.4M62.6 85.4h.4M64.8 79.1h.4M46.7 85.0h.4M61.1 84.7h.4M58.5 81.9h.4M66.3 82.4h.4M47.8 79.3h.4M53.8 77.6h.4M61.4 80.2h.4M65.2 93.3h.4M58.5 84.3h.4M63.1 84.5h.4M64.7 82.7h.4M59.4 85.8h.4M55.4 89.9h.4M62.0 82.4h.4M59.2 82.9h.4M58.9 86.5h.4M64.0 85.5h.4M62.2 86.8h.4M51.5 76.2h.4M67.6 81.5h.4M56.4 92.0h.4M67.4 81.6h.4M57.5 86.7h.4M59.4 89.3h.4M65.2 87.3h.4M68.0 87.2h.4M57.7 82.0h.4M61.6 75.7h.4M57.2 83.6h.4M56.7 87.0h.4M61.1 84.8h.4M66.7 85.6h.4M64.7 82.2h.4M67.0 82.0h.4M56.2 83.4h.4M64.1 86.4h.4M66.4 94.7h.4M61.8 84.7h.4M57.0 83.1h.4M54.4 85.0h.4M64.3 87.0h.4M65.3 86.0h.4M61.4 84.5h.4M59.0 81.8h.4M65.3 83.3h.4M60.1 88.0h.4M56.1 88.3h.4M64.9 80.4h.4M62.4 87.8h.4M62.2 80.5h.4M60.6 92.9h.4M68.0 86.3h.4M50.5 88.2h.4M49.7 84.4h.4M55.8 85.1h.4M58.5 90.3h.4M47.9 76.4h.4M67.5 83.0h.4M60.3 89.7h.4M64.9 82.8h.4M60.4 84.9h.4M56.7 80.9h.4M64.7 89.9h.4M55.5 77.3h.4M51.5 75.0h.4M54.9 85.1h.4M59.1 85.9h.4M57.2 82.1h.4M52.8 77.1h.4M64.6 85.3h.4M49.5 84.2h.4M52.3 84.1h.4M50.0 81.5h.4M63.2 81.6h.4M67.2 88.5h.4M57.5 87.9h.4M56.0 84.5h.4M65.5 84.9h.4M61.4 87.2h.4M67.3 91.0h.4M61.6 76.4h.4M62.9 88.6h.4M54.8 83.7h.4M63.8 80.6h.4M55.4 83.2h.4M66.4 85.5h.4M61.5 83.0h.4M50.4 84.4h.4M56.1 84.2h.4M57.8 80.9h.4M59.2 84.9h.4M62.5 84.1h.4M60.2 84.6h.4M58.1 86.4h.4M54.6 86.3h.4M64.6 84.1h.4M66.1 85.6h.4M64.8 87.1h.4M50.8 85.5h.4M65.6 89.4h.4M53.5 81.7h.4M47.8 80.8h.4M62.4 77.0h.4M61.8 87.0h.4M66.5 83.2h.4M60.4 83.0h.4M67.2 90.1h.4M62.2 87.9h.4M62.9 83.1h.4M61.9 83.4h.4M61.3 85.2h.4M64.6 88.9h.4M59.6 84.2h.4M59.2 85.0h.4M61.3 77.6h.4M65.5 86.3h.4M65.8 83.6h.4M38.8 80.2h.4M66.3 78.4h.4M60.4 86.9h.4M65.2 78.5h.4M61.6 93.1h.4M54.7 75.9h.4M61.3 82.3h.4M65.8 78.2h.4M61.2 82.4h.4M66.1 90.1h.4M61.6 80.7h.4M53.1 77.5h.4M63.8 85.9h.4M64.2 87.0h.4M66.0 84.9h.4M62.9 77.2h.4M59.2 86.0h.4M59.4 80.0h.4M60.7 83.8h.4M54.5 91.0h.4M56.0 79.8h.4M59.2 88.8h.4M61.6 86.0h.4M66.1 78.1h.4M64.2 91.9h.4M48.6 80.1h.4M60.4 83.8h.4M67.2 82.5h.4M63.8 87.8h.4M67.7 81.6h.4M62.2 79.8h.4M64.0 88.9h.4M53.6 82.5h.4M50.7 85.5h.4M52.9 85.9h.4M55.6 88.1h.4M55.9 83.3h.4M67.5 82.8h.4M64.3 83.9h.4M59.9 83.4h.4M64.8 86.5h.4M60.0 83.6h.4M60.2 80.3h.4M55.9 81.1h.4M60.8 84.5h.4M63.8 84.8h.4M53.1 82.3h.4M65.3 83.1h.4M66.6 84.8h.4M61.0 85.3h.4M57.4 82.1h.4M65.7 81.7h.4M55.1 88.8h.4M61.3 80.2h.4M53.9 84.0h.4M54.8 85.5h.4M67.7 81.9h.4M60.2 87.0h.4M65.3 80.2h.4M65.0 88.7h.4M58.2 87.2h.4M56.7 83.9h.4M57.8 86.1h.4M48.7 82.7h.4M65.4 87.1h.4M63.5 88.3h.4M53.5 81.6h.4M59.2 85.8h.4M64.3 83.7h.4M59.2 89.2h.4M62.0 81.5h.4M66.6 88.0h.4M63.8 85.0h.4M60.9 85.2h.4M60.3 82.4h.4M61.1 87.4h.4M67.9 90.1h.4M64.5 81.7h.4M65.7 88.4h.4M61.6 92.2h.4M61.3 76.1h.4M61.7 89.3h.4M64.4 85.3h.4M57.6 82.4h.4M57.9 79.3h.4M54.4 82.9h.4M60.0 84.1h.4M65.0 87.7h.4M59.6 78.9h.4M55.2 87.9h.4M62.9 81.4h.4M59.4 89.3h.4M67.2 84.1h.4M61.9 80.5h.4M67.8 84.2h.4M64.4 81.9h.4M62.1 88.6h.4M60.1 83.3h.4M66.1 82.0h.4M63.5 85.1h.4M68.1 91.4h.4M67.5 83.3h.4M63.0 82.7h.4M63.6 79.3h.4M64.7 88.0h.4M63.1 80.2h.4M66.1 81.9h.4M63.8 82.6h.4M62.8 85.4h.4M55.0 87.7h.4M65.2 79.6h.4M63.8 81.3h.4M58.7 86.4h.4M62.8 86.6h.4M53.4 86.2h.4M54.5 89.6h.4M59.2 91.5h.4M64.4 83.3h.4M52.7 79.3h.4M51.9 80.0h.4M50.8 82.3h.4M65.2 86.3h.4M64.2 79.6h.4M56.8 83.3h.4M67.3 85.1h.4M65.8 86.4h.4M59.3 90.8h.4M61.7 91.9h.4M57.0 75.0h.4M55.5 81.2h.4M54.4 88.5h.4M63.4 89.9h.4M60.9 84.4h.4M61.5 85.5h.4M63.0 85.5h.4M50.2 83.0h.4M65.1 88.2h.4M65.5 79.7h.4M60.8 80.5h.4M66.7 89.4h.4M67.0 85.0h.4M54.2 80.0h.4M56.4 77.3h.4M55.6 91.5h.4M66.9 86.6h.4M61.5 79.8h.4M60.1 81.1h.4M64.8 83.4h.4M65.1 87.9h.4M59.1 86.8h.4M56.0 77.9h.4M57.4 90.5h.4M66.7 87.7h.4M60.6 83.2h.4M61.8 78.3h.4M63.4 83.4h.4M44.1 87.2h.4M54.3 80.6h.4M60.3 87.5h.4M58.4 86.3h.4M64.1 82.5h.4M60.6 86.3h.4M66.6 89.3h.4M66.2 85.5h.4M54.7 81.2h.4M55.6 83.4h.4M66.5 81.9h.4M54.9 83.8h.4M63.4 89.9h.4M57.9 80.7h.4M56.1 93.1h.4M59.9 79.6h.4M64.8 96.1h.4M53.6 89.6h.4M59.3 84.5h.4M65.9 81.6h.4M62.4 86.1h.4M55.9 75.4h.4M57.1 80.3h.4M64.5 91.3h.4M67.9 83.8h.4M66.0 84.8h.4M61.8 74.9h.4M57.7 82.5h.4M67.4 77.9h.4M46.3 81.3h.4M59.5 81.3h.4M65.9 80.4h.4M66.5 90.5h.4M62.1 81.0h.4M64.5 85.0h.4M64.4 88.0h.4M61.8 89.6h.4M65.7 86.2h.4M64.9 78.3h.4M62.1 89.0h.4M66.5 84.9h.4M60.5 88.5h.4M61.3 86.7h.4M51.1 86.4h.4M63.6 84.5h.4M63.5 83.8h.4M55.6 78.2h.4M59.1 79.3h.4M63.4 85.0h.4M58.9 85.0h.4M67.6 85.4h.4M56.8 86.0h.4M53.5 83.9h.4M63.8 81.6h.4M66.3 80.3h.4M65.6 84.8h.4M66.0 82.1h.4M57.0 80.8h.4M65.5 82.9h.4M60.8 85.1h.4M65.2 80.2h.4M61.8 86.8h.4M61.0 91.8h.4M50.5 83.6h.4M65.0 88.5h.4M66.1 86.8h.4M65.9 81.6h.4M67.1 92.7h.4M65.4 84.3h.4M60.0 84.6h.4M67.1 84.6h.4M56.4 85.3h.4M66.4 86.3h.4M65.9 86.5h.4M60.7 84.3h.4M64.6 83.1h.4M54.5 89.8h.4M65.1 84.9h.4M49.3 79.6h.4M60.0 84.0h.4M64.4 86.4h.4M65.9 86.0h.4M53.5 82.8h.4M49.7 83.7h.4M58.7 80.0h.4M65.6 85.5h.4M50.9 86.9h.4M61.9 91.9h.4M59.0 81.4h.4M54.2 85.5h.4M60.4 84.7h.4M61.1 76.1h.4M66.2 89.6h.4M65.4 88.8h.4M50.8 86.3h.4M58.5 85.9h.4M62.0 83.7h.4M61.2 85.3h.4M61.7 85.5h.4M67.6 80.8h.4M67.1 76.8h.4M64.4 77.7h.4M66.6 88.1h.4M65.0 91.7h.4M64.4 88.8h.4M64.7 84.3h.4M60.0 79.6h.4M66.2 85.0h.4M66.9 81.6h.4M63.8 85.6h.4M61.4 84.8h.4M64.0 79.5h.4M58.8 87.4h.4M49.8 86.8h.4M56.8 88.1h.4M66.3 84.8h.4M52.7 82.6h.4M58.7 88.9h.4M61.1 84.6h.4M58.5 87.5h.4M60.7 84.2h.4M63.9 80.2h.4M63.3 82.8h.4M62.1 79.3h.4M52.6 80.8h.4M63.3 82.7h.4M58.0 82.0h.4M59.7 93.2h.4M58.7 80.8h.4M60.7 82.8h.4M65.8 86.0h.4M60.9 92.4h.4M56.0 84.7h.4M58.0 86.7h.4M66.6 83.5h.4M44.9 80.8h.4M66.3 81.9h.4M66.5 87.9h.4M60.8 84.0h.4M57.4 84.5h.4M56.9 84.3h.4M67.1 89.3h.4M59.4 90.6h.4M54.7 84.6h.4M65.0 82.5h.4M40.5 82.9h.4M62.5 78.7h.4M58.8 83.3h.4M62.6 86.7h.4M63.4 86.6h.4M59.1 82.2h.4M63.5 84.3h.4M59.8 82.8h.4M63.0 84.6h.4M64.5 88.3h.4M47.8 85.4h.4M44.9 81.5h.4M67.4 82.8h.4M63.2 81.7h.4M64.9 84.9h.4M68.4 83.1h.4M63.8 79.2h.4M55.9 82.1h.4M60.3 87.1h.4M57.1 80.0h.4M54.3 80.4h.4M61.2 85.5h.4M64.3 92.3h.4M66.7 85.6h.4M65.1 81.1h.4M64.5 83.1h.4M52.2 86.3h.4M41.1 90.2h.4M57.1 90.3h.4M66.0 80.4h.4M62.1 82.5h.4M58.0 83.5h.4M63.0 84.4h.4M60.5 86.8h.4M55.5 85.7h.4M57.9 84.0h.4M67.0 90.2h.4M53.5 84.7h.4M62.7 78.8h.4M64.0 84.4h.4M62.6 82.6h.4M65.3 83.7h.4M68.4 91.6h.4M56.0 86.3h.4M58.0 79.4h.4M63.9 85.0h.4M64.7 86.2h.4M64.5 82.7h.4M55.7 87.8h.4M57.8 82.5h.4M53.4 87.1h.4M58.9 82.2h.4M66.1 81.3h.4M54.5 87.7h.4M65.6 78.7h.4M60.3 92.3h.4M50.3 83.8h.4M55.7 76.5h.4M62.2 79.7h.4M51.4 80.9h.4M58.6 75.8h.4M55.7 90.3h.4M63.7 94.7h.4M65.8 81.7h.4M63.5 86.3h.4M58.0 92.2h.4M59.9 82.7h.4M65.9 87.0h.4M63.1 88.2h.4M60.2 78.1h.4M64.9 85.6h.4M61.9 88.7h.4M63.1 84.9h.4M64.6 85.2h.4M66.9 89.2h.4M63.8 89.6h.4M67.7 84.2h.4M64.5 76.9h.4M56.1 83.2h.4M65.3 84.2h.4M50.4 84.5h.4M56.6 85.1h.4M58.6 81.7h.4M36.9 84.6h.4M60.5 78.8h.4M61.1 93.2h.4M63.6 83.1h.4M67.6 82.7h.4M66.9 89.8h.4M64.4 83.8h.4M54.9 85.2h.4M61.6 93.0h.4M56.6 80.9h.4M56.9 84.6h.4M61.5 85.7h.4M56.1 87.9h.4M54.7 81.5h.4M55.6 82.5h.4M65.5 77.8h.4M45.3 87.8h.4M66.1 83.0h.4M53.7 82.3h.4M52.0 85.6h.4M63.6 88.7h.4M43.3 81.5h.4M57.0 77.0h.4M58.6 80.6h.4M64.8 86.5h.4M50.2 85.2h.4M61.8 81.2h.4M59.3 85.6h.4M56.7 82.9h.4M46.5 84.5h.4M62.3 81.1h.4M63.1 79.0h.4M64.3 85.2h.4M64.5 86.2h.4M67.0 84.4h.4M57.8 78.1h.4M65.9 86.9h.4M64.2 88.3h.4M62.1 82.0h.4M55.6 83.8h.4M65.2 84.0h.4M62.0 83.0h.4M64.0 84.3h.4M60.3 88.0h.4M65.6 86.5h.4M63.7 77.4h.4M55.8 83.1h.4M68.1 83.6h.4M54.8 80.0h.4M64.9 74.5h.4M64.9 87.6h.4M59.6 85.8h.4M67.2 85.9h.4M59.9 83.2h.4M57.7 89.2h.4M57.5 90.9h.4M67.6 89.0h.4M59.2 87.1h.4M65.7 90.7h.4M63.9 85.2h.4M61.4 86.7h.4M66.4 79.6h.4M60.9 83.0h.4M68.3 88.4h.4M65.0 87.9h.4M56.5 86.9h.4M60.3 84.2h.4M55.7 77.8h.4M65.3 82.4h.4M64.3 87.7h.4M64.2 78.1h.4M63.0 85.7h.4M57.9 81.4h.4M60.4 82.3h.4M61.2 79.9h.4M64.6 89.5h.4M65.3 85.0h.4M62.4 84.3h.4M64.6 94.0h.4M60.5 81.7h.4M65.3 85.3h.4M60.2 87.2h.4M50.4 85.2h.4M64.3 84.9h.4M67.6 78.8h.4M64.6 81.7h.4M55.9 81.4h.4M50.5 80.1h.4M63.2 85.6h.4M55.2 78.6h.4M60.8 88.2h.4M65.7 88.0h.4M59.5 83.6h.4M60.5 84.6h.4M63.3 85.9h.4M59.3 80.0h.4M47.2 83.6h.4M61.7 88.8h.4M66.8 83.8h.4M63.2 90.0h.4M56.1 87.0h.4M67.1 83.2h.4M48.6 83.1h.4M65.0 87.9h.4M67.6 83.9h.4M66.0 87.8h.4M66.0 75.8h.4M67.2 82.6h.4M43.0 78.3h.4M64.2 86.0h.4M53.8 84.0h.4M57.2 89.1h.4M56.0 80.9h.4M62.9 89.8h.4M60.7 88.5h.4M60.0 81.7h.4M61.2 90.0h.4M67.2 88.5h.4M44.8 80.6h.4M58.2 85.8h.4M67.0 84.8h.4M65.0 85.9h.4M47.9 84.2h.4M59.9 88.7h.4M67.2 83.7h.4M60.9 85.9h.4M62.4 83.5h.4M58.2 82.2h.4M53.9 77.2h.4M64.2 85.9h.4M62.8 84.0h.4M66.1 85.3h.4M62.1 84.4h.4M63.3 81.7h.4M66.7 80.4h.4M66.7 84.2h.4M57.2 78.3h.4M62.4 81.2h.4M48.5 84.6h.4M67.4 83.6h.4M67.5 84.4h.4M60.8 79.3h.4M65.4 82.3h.4M63.6 80.1h.4M52.0 88.3h.4M63.9 84.2h.4M61.4 84.0h.4M66.0 86.9h.4M57.4 89.1h.4M59.3 79.9h.4M64.7 85.6h.4M63.8 80.6h.4M63.4 81.0h.4M59.3 82.6h.4M64.5 81.5h.4M66.3 87.3h.4M65.1 85.1h.4M66.3 79.9h.4M59.0 81.9h.4M64.9 82.2h.4M59.3 88.7h.4M60.4 89.3h.4M59.1 93.3h.4M64.5 77.9h.4M63.4 83.4h.4M62.2 92.1h.4M59.9 84.9h.4M64.8 86.0h.4M64.5 84.9h.4M59.0 83.5h.4M64.6 92.3h.4M58.9 80.0h.4M58.3 92.4h.4M63.5 84.0h.4M62.5 92.2h.4M64.9 81.9h.4M63.8 79.3h.4M65.2 84.1h.4M64.2 86.5h.4M56.9 85.4h.4M67.1 85.4h.4M66.1 82.9h.4M64.4 86.9h.4M46.0 87.3h.4M61.2 94.6h.4M65.1 81.9h.4M59.4 88.6h.4M67.8 90.7h.4M64.6 90.8h.4M62.2 85.7h.4M67.1 85.0h.4M58.6 86.1h.4M61.8 87.6h.4M62.2 83.4h.4M64.8 85.4h.4M66.5 88.4h.4M48.3 88.6h.4M65.4 85.2h.4M54.6 81.1h.4M61.1 87.1h.4M65.9 83.6h.4M52.4 81.4h.4M63.6 86.2h.4M67.4 82.4h.4M56.3 81.3h.4M65.9 83.9h.4M60.1 77.3h.4M64.8 84.1h.4M64.2 86.1h.4M63.3 83.3h.4M57.8 83.3h.4M61.8 83.4h.4M45.4 88.6h.4M67.4 93.4h.4M58.3 80.7h.4M53.3 79.0h.4M66.0 88.4h.4M59.7 79.3h.4M63.9 80.9h.4M51.6 86.6h.4M65.2 83.9h.4M65.7 81.0h.4M68.0 87.4h.4M56.8 78.5h.4M67.2 90.0h.4M58.1 81.0h.4M62.4 85.1h.4M66.5 83.1h.4M58.7 89.5h.4M62.5 80.7h.4M65.8 81.2h.4M51.8 87.0h.4M61.2 90.3h.4M67.4 84.1h.4M51.5 85.4h.4M59.0 88.0h.4M61.7 84.2h.4M62.5 87.1h.4M65.7 78.3h.4M64.2 81.1h.4M64.9 87.0h.4M46.2 84.9h.4M63.7 80.8h.4M55.1 82.1h.4M57.7 88.8h.4M64.9 78.9h.4M58.0 81.5h.4M54.2 89.5h.4M59.8 87.0h.4M60.9 82.7h.4M55.6 83.5h.4M56.9 86.1h.4M64.3 78.3h.4M54.0 90.2h.4M65.2 80.3h.4M55.7 83.5h.4M61.9 86.7h.4M53.8 82.7h.4M63.6 90.0h.4M57.2 83.9h.4M64.8 84.4h.4M66.7 91.0h.4M59.6 81.7h.4M67.4 82.4h.4M52.4 88.5h.4M46.5 80.5h.4M67.4 84.2h.4M56.8 85.3h.4M63.0 87.5h.4M59.9 84.3h.4M57.6 86.4h.4M66.1 80.0h.4M56.4 78.9h.4M67.7 92.6h.4M38.1 83.9h.4M63.1 91.0h.4M58.6 79.5h.4M64.9 83.8h.4M65.8 86.5h.4M50.2 92.9h.4M62.1 90.3h.4M65.1 81.7h.4M57.9 90.0h.4M64.1 87.4h.4M46.4 86.2h.4M65.4 92.0h.4M39.7 85.1h.4M64.7 84.2h.4M44.6 76.3h.4M55.9 86.8h.4M66.0 78.7h.4M53.4 88.1h.4M57.5 77.9h.4M65.1 82.1h.4M65.7 91.1h.4M58.7 83.7h.4M49.6 82.4h.4M66.8 87.5h.4M66.2 77.9h.4M58.1 87.9h.4M47.8 85.5h.4M63.1 87.4h.4M66.5 81.5h.4M56.2 82.8h.4M60.1 77.8h.4M47.3 91.7h.4M53.1 84.2h.4M65.5 79.0h.4M66.2 82.7h.4M66.0 78.5h.4M63.8 78.3h.4M61.0 82.9h.4M45.7 82.9h.4M66.1 81.7h.4M67.1 90.2h.4M62.4 81.3h.4M64.4 86.5h.4M67.7 81.3h.4M60.6 84.8h.4M59.4 76.8h.4M54.2 81.8h.4M53.4 79.2h.4M57.7 89.2h.4M49.9 83.3h.4M63.9 80.8h.4M62.6 88.6h.4M55.0 90.9h.4M65.3 84.1h.4M62.1 82.6h.4M64.6 86.2h.4M58.5 85.8h.4M66.1 80.3h.4M67.0 80.6h.4M65.6 96.5h.4M64.1 82.1h.4M61.9 86.6h.4M60.6 83.4h.4M61.5 79.0h.4M62.4 85.7h.4M55.9 82.4h.4M60.2 82.2h.4M65.3 90.1h.4M63.9 84.8h.4M49.3 84.8h.4M66.7 75.4h.4M61.0 85.7h.4M60.0 84.3h.4M65.3 81.5h.4M62.9 82.7h.4M68.1 86.4h.4M62.7 80.7h.4M64.8 84.1h.4M54.2 77.0h.4M64.0 81.4h.4M65.2 81.8h.4M65.9 84.0h.4M61.8 94.3h.4M65.1 97.0h.4M67.9 79.1h.4M64.2 90.1h.4M65.4 88.4h.4M62.4 89.9h.4M66.5 88.7h.4M65.6 84.3h.4M57.7 86.6h.4M66.1 88.5h.4M66.2 80.5h.4M64.1 84.3h.4M57.2 86.0h.4M66.1 91.6h.4M62.2 88.0h.4M64.7 80.7h.4M57.9 86.3h.4M43.5 84.3h.4M62.3 83.6h.4M54.8 84.5h.4M57.7 83.0h.4M62.9 87.2h.4M61.6 86.8h.4M58.3 84.9h.4M60.2 86.6h.4M57.5 80.8h.4M68.5 86.6h.4M60.5 86.6h.4M65.0 83.6h.4M62.6 85.6h.4M65.9 81.6h.4M58.6 85.5h.4M67.7 81.4h.4M57.6 91.9h.4M57.6 82.4h.4M53.6 87.0h.4M61.4 84.0h.4M64.1 88.3h.4M54.2 82.3h.4M65.6 84.9h.4M59.3 83.1h.4M63.9 84.4h.4M66.5 85.9h.4M62.0 93.8h.4M67.7 90.6h.4M55.5 81.0h.4M43.5 85.5h.4M61.1 89.0h.4M64.9 89.9h.4M60.2 87.7h.4M64.7 85.4h.4M65.8 85.4h.4M64.9 87.6h.4M56.9 83.2h.4M65.7 87.6h.4M66.5 87.5h.4M58.2 84.4h.4M54.4 79.1h.4M57.9 85.9h.4M57.6 82.7h.4M61.4 85.7h.4M59.6 83.5h.4M63.4 85.2h.4M66.7 83.5h.4M61.8 88.7h.4M66.2 81.1h.4M66.0 89.8h.4M56.3 85.5h.4M61.9 83.2h.4M65.8 89.0h.4M63.6 94.0h.4M67.5 80.8h.4M65.9 82.3h.4M56.8 85.3h.4M63.7 87.0h.4M45.3 85.8h.4M66.4 87.4h.4M62.9 83.1h.4M60.0 89.6h.4M54.7 85.3h.4M56.6 93.9h.4M62.3 82.4h.4M63.8 84.7h.4M68.0 85.6h.4M66.7 83.3h.4M67.6 88.4h.4M59.5 80.0h.4M60.0 82.2h.4M64.5 92.7h.4M62.3 84.1h.4M61.6 84.3h.4M49.0 90.1h.4M55.6 82.0h.4M66.2 77.9h.4M56.2 82.9h.4M62.9 80.0h.4M60.2 91.1h.4M61.2 86.1h.4M54.3 82.7h.4M60.9 88.3h.4M63.1 88.2h.4M68.0 79.3h.4M65.5 86.1h.4M65.4 81.2h.4M58.9 88.3h.4M68.3 89.5h.4M52.3 88.2h.4M50.0 85.6h.4M62.4 84.0h.4M61.1 90.3h.4M58.2 82.7h.4M52.7 93.4h.4M61.6 83.2h.4M58.6 84.1h.4M61.9 78.4h.4M67.9 88.5h.4M66.1 83.0h.4M59.5 83.9h.4M59.7 83.2h.4M64.8 86.9h.4M62.8 80.6h.4M63.8 80.0h.4M66.5 84.1h.4M59.3 84.9h.4M61.3 83.6h.4M49.6 82.3h.4M66.2 93.8h.4M59.8 81.7h.4M65.9 84.0h.4M64.0 85.7h.4M66.7 89.6h.4M60.9 85.7h.4M59.6 73.6h.4M55.7 90.2h.4M67.8 83.6h.4M62.6 83.8h.4M66.8 82.8h.4M59.5 83.0h.4M66.7 88.2h.4M67.8 86.3h.4M60.0 85.9h.4M67.1 83.6h.4M50.8 86.9h.4M67.7 87.1h.4M55.2 83.7h.4M63.0 80.6h.4M67.7 91.1h.4M59.8 88.3h.4M66.2 80.3h.4M64.8 85.6h.4M52.1 87.1h.4M55.4 88.7h.4M56.3 87.9h.4M56.7 83.7h.4M67.8 86.3h.4M67.1 92.5h.4M51.5 85.2h.4M62.3 88.1h.4M59.8 89.1h.4M63.9 86.5h.4M56.3 82.5h.4M64.9 81.0h.4M58.3 86.1h.4M68.1 85.4h.4M63.0 84.2h.4M59.4 78.5h.4M58.3 80.1h.4M54.5 84.6h.4M59.9 90.7h.4M61.4 82.1h.4M67.5 83.5h.4M65.3 81.1h.4M61.5 91.5h.4M66.8 88.3h.4M65.0 79.9h.4M54.8 83.4h.4M59.8 81.1h.4M61.4 84.7h.4M55.8 83.8h.4M59.1 91.0h.4M54.5 80.3h.4M57.9 82.1h.4M54.9 83.5h.4M64.9 83.3h.4M64.5 85.2h.4M55.4 84.5h.4M64.8 87.2h.4M67.8 77.7h.4M63.6 83.8h.4M46.1 84.1h.4M63.1 92.5h.4M65.2 85.6h.4M57.2 79.5h.4M67.7 84.7h.4M59.8 80.9h.4M55.0 85.7h.4M63.7 80.4h.4M58.2 86.9h.4M63.9 83.5h.4M64.5 79.9h.4M68.4 82.9h.4M62.6 91.0h.4M63.4 78.7h.4M66.0 83.3h.4M57.8 86.7h.4M67.2 87.9h.4M47.8 81.7h.4M65.3 86.7h.4M64.5 88.5h.4M57.5 82.8h.4M58.8 88.0h.4M51.4 79.4h.4M60.6 88.2h.4M64.4 86.2h.4M66.9 80.3h.4M62.7 78.1h.4M66.1 89.8h.4M59.3 81.9h.4M56.4 90.3h.4M52.4 87.1h.4M54.4 85.9h.4M62.9 85.7h.4M62.4 86.6h.4M65.2 84.4h.4M59.9 80.1h.4M54.3 85.1h.4M65.2 85.5h.4M64.2 83.9h.4M64.4 80.5h.4M57.0 80.6h.4M59.6 82.3h.4M57.9 84.0h.4M54.5 81.4h.4M64.5 89.4h.4M57.5 82.8h.4M64.9 85.8h.4M53.3 80.8h.4M64.9 85.6h.4M63.9 85.7h.4M68.3 85.0h.4M63.2 80.3h.4M50.8 87.0h.4M67.2 82.4h.4M48.9 87.1h.4M62.4 82.7h.4M64.6 83.5h.4M59.1 87.8h.4M66.2 84.5h.4M63.6 84.6h.4M64.9 80.5h.4M59.9 86.5h.4M52.6 86.0h.4M64.0 87.8h.4M58.2 87.0h.4M55.1 86.7h.4M60.9 87.5h.4M65.0 84.8h.4M59.9 81.7h.4M64.8 82.5h.4M63.9 83.2h.4M66.1 82.4h.4M58.2 80.9h.4M63.6 86.7h.4M61.5 76.4h.4M65.8 87.7h.4M67.7 82.7h.4M61.0 86.2h.4M62.7 83.3h.4M63.7 83.0h.4M67.1 76.1h.4M53.7 80.1h.4M67.4 83.4h.4M57.1 83.4h.4M65.5 85.7h.4M65.6 83.3h.4M66.1 88.0h.4M64.6 90.0h.4M64.5 81.7h.4M55.2 78.5h.4M67.0 81.9h.4M65.6 86.8h.4M54.6 88.8h.4M65.1 83.6h.4M65.7 86.5h.4M56.7 83.3h.4M53.5 74.8h.4M59.6 79.8h.4M64.7 82.9h.4M62.7 90.1h.4M58.6 80.1h.4M62.2 82.8h.4M66.3 83.9h.4M64.7 83.0h.4M62.8 84.3h.4M65.6 91.2h.4M67.1 78.9h.4M62.9 87.2h.4M66.0 85.5h.4M59.6 84.0h.4M63.0 81.9h.4M56.5 82.0h.4M57.3 90.4h.4M50.1 89.7h.4M55.4 82.4h.4M66.8 81.9h.4M66.5 84.7h.4M63.7 86.0h.4M64.5 86.3h.4M62.4 82.4h.4M65.2 79.2h.4M63.1 78.3h.4M58.3 82.1h.4M65.4 89.1h.4M64.8 81.7h.4M61.0 85.4h.4M68.0 82.4h.4M66.5 84.4h.4M65.5 88.4h.4M60.6 86.9h.4M57.6 84.1h.4M53.6 85.5h.4M67.7 80.4h.4M59.2 78.4h.4M65.6 84.9h.4M66.2 80.8h.4M65.5 83.7h.4M63.7 82.6h.4M66.5 83.8h.4M57.2 90.7h.4M64.1 86.4h.4M63.7 92.1h.4M52.3 85.0h.4M48.3 84.2h.4M56.2 83.8h.4M53.5 93.2h.4M59.4 87.2h.4M67.1 90.5h.4M60.3 89.9h.4M57.6 86.1h.4M64.1 83.8h.4M51.4 81.1h.4M61.7 83.9h.4M65.9 88.7h.4M62.8 87.9h.4M65.0 82.3h.4M62.1 81.8h.4M59.7 85.4h.4M64.2 86.9h.4M64.6 89.3h.4M63.3 93.5h.4M60.4 79.6h.4M64.8 79.9h.4M57.7 80.4h.4M64.7 86.3h.4M61.7 88.1h.4M65.8 85.4h.4M54.0 85.0h.4M57.7 81.8h.4M63.9 83.2h.4M56.7 82.6h.4M56.8 86.4h.4M59.9 80.7h.4M65.4 85.9h.4M63.8 84.9h.4M65.9 80.5h.4M41.7 83.2h.4M57.5 89.5h.4M45.9 89.2h.4M63.6 86.8h.4M47.9 86.8h.4M59.9 76.6h.4M60.2 81.7h.4M60.3 90.0h.4M57.9 84.4h.4M60.7 88.2h.4M64.0 90.0h.4M60.6 75.1h.4M64.1 85.2h.4M58.2 88.0h.4M62.8 83.6h.4M52.4 89.1h.4M49.2 84.0h.4M67.2 84.3h.4M61.3 85.5h.4M62.8 87.9h.4M57.9 83.2h.4M66.1 86.4h.4M58.9 85.0h.4M50.6 84.0h.4M43.8 81.2h.4M60.4 83.0h.4M50.7 84.4h.4M59.0 78.2h.4M55.4 79.4h.4M64.7 84.1h.4M60.6 85.3h.4M67.5 87.5h.4M59.7 81.3h.4M65.4 82.6h.4M61.1 86.7h.4M63.9 86.1h.4M62.6 82.7h.4M57.1 91.3h.4M64.7 78.9h.4M61.6 83.7h.4M64.8 85.2h.4M59.3 81.5h.4M66.9 87.1h.4M60.1 90.0h.4M55.5 86.7h.4M54.3 84.7h.4M64.1 87.1h.4M51.3 83.1h.4M65.7 86.2h.4M58.6 87.4h.4M64.9 88.4h.4M60.4 77.4h.4M56.6 81.6h.4M43.9 86.2h.4M62.7 87.1h.4M58.1 84.6h.4M61.4 82.4h.4M51.5 83.9h.4M63.4 80.7h.4M66.1 80.2h.4M58.1 86.4h.4M66.5 81.9h.4M49.5 80.6h.4M62.5 92.2h.4M66.2 83.3h.4M50.3 81.1h.4M67.1 84.5h.4M62.1 96.4h.4M66.6 84.1h.4M57.7 88.5h.4M62.3 91.4h.4M59.7 87.8h.4M36.3 81.8h.4M66.2 83.7h.4M66.3 89.1h.4M61.8 90.5h.4M60.3 74.7h.4M64.2 88.9h.4M57.3 83.6h.4M64.4 86.0h.4M64.8 88.2h.4M65.6 82.8h.4M63.6 86.5h.4M59.3 94.0h.4M60.3 91.7h.4M61.9 79.5h.4M49.9 86.8h.4M62.8 78.3h.4M66.5 79.6h.4M62.6 87.5h.4M63.9 80.7h.4M57.2 82.6h.4M67.9 85.3h.4M57.7 87.1h.4M64.9 79.7h.4M53.9 81.1h.4M58.4 84.2h.4M63.5 79.3h.4M63.5 87.4h.4M64.1 87.8h.4M54.2 89.4h.4M66.5 81.3h.4M65.1 86.6h.4M54.7 79.0h.4M62.9 84.3h.4M66.6 81.0h.4M66.7 85.6h.4M64.3 83.2h.4M54.9 78.2h.4M60.9 88.6h.4M56.6 77.5h.4M62.1 90.1h.4M51.6 88.6h.4M60.6 88.1h.4M65.6 85.3h.4M64.0 87.0h.4M63.5 81.8h.4M62.3 81.1h.4M57.8 75.2h.4M61.8 86.3h.4M61.4 79.2h.4M64.4 82.1h.4M57.8 81.1h.4M64.8 87.6h.4M65.6 85.3h.4M61.0 76.5h.4M63.3 85.7h.4M63.8 87.0h.4M67.5 81.7h.4M59.3 79.7h.4M67.3 85.5h.4M67.4 80.1h.4M58.7 84.3h.4M65.4 86.0h.4M53.4 89.4h.4M65.6 76.1h.4M66.6 82.7h.4M61.1 78.3h.4M59.0 83.7h.4M63.6 79.8h.4M59.6 78.2h.4M65.8 81.8h.4M66.7 86.2h.4M63.0 80.7h.4M45.3 82.4h.4M64.9 82.9h.4M44.6 92.9h.4M65.7 88.5h.4M57.5 77.4h.4M58.2 82.7h.4M46.6 86.5h.4M54.9 88.2h.4M65.5 90.3h.4M67.0 88.9h.4M61.2 81.6h.4M66.6 83.0h.4M63.0 90.6h.4M60.2 80.9h.4M65.7 79.3h.4M66.4 84.4h.4M61.2 81.7h.4M65.9 82.5h.4M36.6 82.9h.4M52.1 86.5h.4M63.9 90.0h.4M56.4 81.8h.4M63.3 82.9h.4M62.8 82.4h.4M63.6 81.9h.4M60.5 86.6h.4M66.9 81.2h.4M66.0 90.9h.4M64.2 79.4h.4M45.6 87.9h.4M53.4 92.5h.4M64.3 87.6h.4M62.0 82.8h.4M52.8 81.1h.4M61.6 79.2h.4M48.8 82.8h.4M59.6 84.0h.4M67.5 81.6h.4M63.2 88.4h.4M60.9 82.5h.4M50.7 84.1h.4M66.6 82.5h.4M62.2 85.6h.4M60.4 84.7h.4M68.4 78.8h.4M62.6 78.9h.4M66.2 86.9h.4M64.0 86.4h.4M62.3 83.4h.4M61.4 77.2h.4M56.1 86.4h.4M66.3 87.2h.4M51.7 92.4h.4M61.0 83.6h.4M63.8 83.8h.4M58.0 89.3h.4M65.9 82.1h.4M53.4 87.5h.4M56.6 83.0h.4M58.8 86.1h.4M63.2 88.0h.4M54.0 81.3h.4M62.2 85.6h.4M61.7 86.7h.4M57.7 81.8h.4M65.1 86.8h.4M67.8 86.8h.4M55.6 80.5h.4M59.5 87.0h.4M61.3 83.2h.4M58.1 85.1h.4M54.7 91.9h.4M57.4 82.9h.4M66.9 89.9h.4M54.2 88.3h.4M56.2 86.0h.4M57.1 80.1h.4M62.5 83.8h.4M55.5 85.0h.4M60.6 84.7h.4M59.8 83.8h.4M55.8 78.7h.4M63.7 74.6h.4M58.8 81.9h.4M59.7 77.0h.4M44.9 80.1h.4M66.0 82.5h.4M47.8 86.2h.4M66.9 83.0h.4M59.4 81.4h.4M58.7 84.0h.4M61.9 76.4h.4M57.7 84.7h.4M62.0 81.4h.4M60.6 84.2h.4M57.3 84.3h.4M65.1 82.8h.4M57.1 91.2h.4M63.1 82.3h.4M58.8 85.0h.4M64.3 87.0h.4M66.1 85.1h.4M57.1 93.7h.4M56.6 82.4h.4M60.5 83.5h.4M61.2 83.4h.4M63.7 87.7h.4M65.8 81.1h.4M62.2 82.6h.4M61.8 82.6h.4M50.4 86.9h.4M63.5 86.3h.4M40.1 85.4h.4M57.1 87.1h.4M47.8 87.4h.4M64.8 83.1h.4M50.7 84.4h.4M61.2 86.5h.4M53.7 91.5h.4M57.6 81.4h.4M62.7 85.1h.4M62.9 82.0h.4M62.6 84.6h.4M64.8 85.9h.4M57.4 83.9h.4M45.2 93.5h.4M62.2 86.3h.4M64.4 75.6h.4M61.7 83.1h.4M56.3 81.1h.4M64.2 94.1h.4M49.8 82.4h.4M53.0 85.8h.4M59.6 82.0h.4M56.5 84.0h.4M52.3 83.1h.4M60.9 82.9h.4M60.0 80.8h.4M65.8 89.3h.4M55.5 86.2h.4M66.9 85.0h.4M66.7 88.4h.4M67.0 87.0h.4M56.1 87.2h.4M50.0 81.2h.4M64.0 92.8h.4M62.5 79.9h.4M48.0 84.1h.4M48.4 84.9h.4M38.9 83.2h.4M63.1 81.4h.4M66.0 90.6h.4M63.1 79.8h.4M56.1 72.3h.4M43.9 89.5h.4M60.2 82.8h.4M62.1 87.5h.4M36.1 89.0h.4M58.3 89.1h.4M64.1 82.6h.4M59.3 84.1h.4M54.8 88.3h.4M53.9 90.2h.4M59.9 76.0h.4M62.9 87.3h.4M67.0 91.9h.4M45.1 92.9h.4M65.5 92.7h.4M52.1 82.2h.4M54.3 80.3h.4M46.7 84.4h.4M40.5 85.7h.4M52.0 83.0h.4M40.2 82.6h.4M63.7 86.7h.4M57.9 84.0h.4M63.0 85.2h.4M61.8 90.6h.4M44.7 86.8h.4M63.9 80.5h.4M64.6 85.5h.4M46.9 89.3h.4M61.1 82.3h.4M56.6 79.4h.4M62.8 88.9h.4M59.9 81.3h.4M47.9 83.2h.4M54.7 82.5h.4M53.4 87.2h.4M46.7 86.1h.4M60.2 82.0h.4M61.9 80.7h.4M66.3 81.0h.4M41.1 94.9h.4M45.1 87.6h.4M43.6 81.8h.4M62.6 84.6h.4M62.2 83.6h.4M58.2 84.0h.4M55.2 85.9h.4M48.9 83.3h.4M39.9 78.9h.4M62.4 84.8h.4M51.9 92.3h.4M63.8 88.4h.4M56.3 87.9h.4M57.5 85.7h.4M59.9 85.0h.4M60.0 84.5h.4M41.2 87.7h.4M53.0 86.3h.4M52.7 83.0h.4M55.5 83.5h.4M47.1 84.0h.4M53.3 86.5h.4M64.7 81.0h.4M60.8 88.8h.4M60.9 85.2h.4M63.1 92.2h.4M49.9 80.7h.4M61.1 75.2h.4M63.4 81.7h.4M62.1 77.9h.4M37.9 89.4h.4M62.3 79.8h.4M59.8 74.5h.4M59.2 91.0h.4M62.4 80.1h.4M53.4 84.1h.4M61.6 77.8h.4M64.6 83.2h.4M50.1 75.5h.4M67.0 83.4h.4M62.9 84.7h.4M44.2 81.8h.4M42.2 84.5h.4M59.3 79.4h.4M50.4 77.8h.4M64.8 85.8h.4M63.6 86.4h.4M67.6 84.6h.4M49.4 80.5h.4M62.3 80.5h.4M57.8 84.5h.4M58.9 84.2h.4M58.7 80.3h.4M63.3 77.9h.4M60.5 85.8h.4M47.5 89.6h.4M51.9 89.8h.4M55.8 83.5h.4M58.1 80.2h.4M41.6 83.4h.4M44.0 75.4h.4M60.3 81.0h.4M52.9 79.2h.4M62.9 76.4h.4M42.8 83.7h.4M52.6 79.7h.4M50.9 80.6h.4M65.5 86.0h.4M61.3 84.4h.4M47.4 81.2h.4M60.6 87.2h.4M49.7 84.8h.4M63.0 84.3h.4M55.9 82.0h.4M52.0 84.1h.4M46.4 83.5h.4M36.6 84.4h.4M65.6 81.3h.4M61.1 88.3h.4M51.1 86.9h.4M52.1 82.6h.4M62.3 88.0h.4M56.9 82.6h.4M40.9 84.5h.4M66.0 83.4h.4M45.7 81.3h.4M57.7 84.5h.4M54.6 83.8h.4M57.2 80.0h.4M56.3 81.9h.4M61.0 91.7h.4M65.3 83.5h.4M53.6 84.9h.4M63.2 79.3h.4M58.8 88.6h.4M44.2 82.4h.4M51.7 80.8h.4M48.9 81.5h.4M62.9 87.4h.4M53.6 81.7h.4M53.9 78.1h.4M57.6 88.2h.4M63.9 82.8h.4M62.4 75.7h.4M50.2 86.1h.4M41.8 83.3h.4M55.0 81.8h.4M60.5 78.9h.4M46.7 86.7h.4M51.1 86.8h.4M58.9 81.9h.4M42.6 85.9h.4M43.9 89.0h.4M54.7 88.3h.4M56.9 85.8h.4M38.6 79.5h.4M61.8 84.8h.4M58.7 81.8h.4M58.4 87.4h.4M58.3 89.0h.4M40.4 83.8h.4M35.0 89.2h.4M59.0 92.5h.4M50.5 84.7h.4M63.3 85.4h.4M64.7 83.2h.4M34.9 88.5h.4M64.3 82.2h.4M61.3 78.6h.4M58.7 90.4h.4M45.4 81.8h.4M49.0 89.6h.4M62.0 86.0h.4M50.6 90.8h.4M49.4 83.3h.4M59.1 89.8h.4M52.0 91.8h.4M51.5 80.6h.4M54.3 94.6h.4M52.2 86.5h.4M59.6 89.6h.4M38.2 79.2h.4M58.7 80.6h.4M34.7 86.2h.4M60.4 81.3h.4M55.6 82.7h.4M55.6 97.4h.4M39.1 83.8h.4M54.6 81.1h.4M66.4 77.1h.4M59.2 81.8h.4M57.0 82.3h.4M56.3 77.3h.4M51.2 87.9h.4M47.1 87.7h.4M61.7 82.1h.4M42.5 84.1h.4M59.7 95.7h.4M56.1 79.2h.4M58.9 91.5h.4M58.0 82.6h.4M59.5 80.8h.4M38.9 76.5h.4M67.3 80.3h.4M48.0 84.2h.4M60.7 84.2h.4M65.3 80.0h.4M61.8 80.9h.4M54.8 77.5h.4M57.7 81.3h.4M61.9 86.5h.4M65.5 84.9h.4M38.1 85.6h.4M64.5 91.6h.4M57.6 79.3h.4M53.2 81.1h.4M37.8 79.6h.4M46.5 91.0h.4M48.5 80.0h.4M54.5 83.1h.4M61.8 90.3h.4M42.2 81.2h.4M47.5 84.7h.4M51.0 83.3h.4M53.9 77.1h.4M65.3 86.9h.4M66.1 84.8h.4M50.8 79.6h.4M36.8 84.0h.4M58.6 80.4h.4M39.5 88.0h.4M51.6 86.9h.4M61.9 80.9h.4M52.1 74.1h.4M56.5 85.1h.4M56.1 88.5h.4M58.9 85.5h.4M46.1 87.8h.4M59.5 84.7h.4M62.7 81.4h.4M52.9 82.0h.4M61.8 84.7h.4M56.5 89.1h.4M47.3 86.2h.4M62.7 85.2h.4M43.5 89.1h.4M51.1 84.6h.4M64.1 86.6h.4M62.8 90.1h.4M51.3 81.5h.4M46.6 87.8h.4M54.1 82.4h.4M64.1 79.2h.4M59.8 83.9h.4M66.7 80.0h.4M47.8 80.6h.4M45.4 85.4h.4M42.5 82.8h.4M64.6 84.6h.4M63.8 80.5h.4M61.8 92.1h.4M59.2 85.4h.4M60.9 79.6h.4M56.9 91.9h.4M61.2 89.1h.4M47.7 84.5h.4M61.8 87.0h.4M48.5 88.2h.4M44.3 82.6h.4M48.1 84.3h.4M54.9 87.9h.4M55.6 81.0h.4M35.4 80.3h.4M63.7 80.9h.4M56.1 84.2h.4M45.3 84.2h.4M60.4 87.7h.4M40.0 75.3h.4M57.4 89.7h.4M61.9 91.1h.4M54.8 87.1h.4M36.1 85.8h.4M59.5 84.8h.4M56.6 74.9h.4M67.1 80.3h.4M59.1 85.1h.4M62.2 73.5h.4M53.4 87.7h.4M55.2 83.0h.4M63.2 90.8h.4M38.8 85.7h.4M53.9 81.0h.4M55.4 86.6h.4M57.7 79.8h.4M44.3 80.0h.4M60.9 89.9h.4M50.6 86.4h.4M49.9 83.5h.4M58.8 82.6h.4M57.8 89.7h.4M56.8 80.7h.4M55.9 85.5h.4M40.3 85.8h.4M41.0 94.3h.4M57.2 82.6h.4M45.8 92.7h.4M41.0 90.7h.4M42.7 82.8h.4M60.5 84.4h.4M54.7 83.0h.4M53.2 83.2h.4M62.3 86.2h.4M55.0 76.5h.4M52.3 78.0h.4M58.2 88.2h.4M47.2 79.8h.4M59.3 82.8h.4M51.6 83.0h.4M60.9 79.8h.4M61.4 88.9h.4M49.7 82.5h.4M49.7 85.4h.4M60.1 85.2h.4M38.9 76.7h.4M47.7 90.8h.4M60.9 85.2h.4M50.1 85.8h.4M57.9 84.6h.4M59.4 91.9h.4M66.3 80.3h.4M51.1 79.8h.4M56.8 80.2h.4M57.2 87.3h.4M44.4 90.5h.4M57.0 90.7h.4M65.4 89.6h.4M57.9 75.8h.4M61.4 89.9h.4M66.0 89.1h.4M61.5 85.5h.4M55.7 81.0h.4M59.1 79.4h.4M52.6 86.4h.4M62.5 84.3h.4M65.1 78.5h.4M60.0 85.9h.4M34.7 88.5h.4M56.5 79.1h.4M59.7 82.8h.4M44.7 79.6h.4M54.5 86.0h.4M64.9 82.3h.4M53.3 83.9h.4M59.2 82.7h.4M62.4 87.0h.4M56.9 87.8h.4M48.2 89.0h.4M52.7 83.4h.4M63.9 84.3h.4M51.3 83.5h.4M51.2 83.7h.4M57.5 84.4h.4M57.0 78.8h.4M54.9 79.2h.4M54.7 85.1h.4M55.9 75.3h.4M56.1 80.3h.4M60.2 86.5h.4M52.2 84.7h.4M63.1 86.8h.4M54.2 82.2h.4M55.9 85.2h.4M65.2 80.9h.4M50.9 86.5h.4M56.8 86.0h.4M62.9 81.9h.4M64.3 78.5h.4M56.5 79.7h.4M42.2 85.1h.4M41.0 85.3h.4M64.4 83.5h.4M61.1 82.1h.4M45.1 82.1h.4M55.4 80.6h.4M55.6 76.9h.4M48.3 88.1h.4M50.9 87.6h.4M58.3 80.3h.4M64.4 91.0h.4M54.6 84.7h.4M56.1 86.5h.4M48.5 80.8h.4M54.7 81.0h.4M54.6 85.6h.4M60.2 84.6h.4M64.3 82.9h.4M61.2 87.0h.4M51.8 78.8h.4M41.2 82.5h.4M39.7 88.3h.4M56.7 85.9h.4M59.2 88.7h.4M51.6 82.8h.4M50.4 86.9h.4M53.5 87.6h.4M64.8 81.4h.4M44.2 84.7h.4M44.8 87.9h.4M60.0 88.1h.4M48.9 87.8h.4M60.5 74.9h.4M42.8 85.3h.4M47.6 87.6h.4M64.4 78.4h.4M48.7 84.9h.4M44.1 86.5h.4M58.8 88.6h.4M49.1 83.7h.4M61.8 84.2h.4M53.1 87.2h.4M64.5 83.2h.4M63.2 88.1h.4M67.6 86.0h.4M60.7 85.9h.4M43.6 82.4h.4M59.8 83.7h.4M61.4 88.9h.4M50.7 81.2h.4M54.6 79.5h.4M39.6 81.1h.4M47.7 89.8h.4M55.5 86.6h.4M60.8 86.9h.4M63.0 82.5h.4M39.0 87.6h.4M63.4 85.8h.4M46.9 78.8h.4M47.6 82.7h.4M57.1 85.7h.4M60.4 86.3h.4M60.2 80.5h.4M61.2 78.3h.4M45.1 85.6h.4M49.1 89.8h.4M38.8 83.0h.4M52.9 86.4h.4M52.2 89.7h.4M60.3 81.2h.4M34.8 83.4h.4M39.2 87.1h.4M54.2 86.3h.4M56.4 83.3h.4M43.3 84.7h.4M40.9 77.4h.4M56.4 81.8h.4M34.8 91.0h.4M50.1 85.4h.4M55.6 81.8h.4M56.5 82.6h.4M41.6 87.5h.4M61.0 86.2h.4M50.6 84.1h.4M59.1 86.7h.4M50.6 83.5h.4M61.3 88.4h.4M45.6 87.8h.4M52.2 83.6h.4M55.4 90.4h.4M61.9 80.8h.4M41.1 88.0h.4M62.8 90.6h.4M45.7 82.6h.4M57.0 80.8h.4M61.7 78.7h.4M40.1 80.0h.4M53.3 82.4h.4M50.2 80.5h.4M60.0 81.8h.4M52.0 90.4h.4M65.8 81.1h.4M55.6 85.2h.4M44.1 88.1h.4M64.2 83.5h.4M63.2 82.2h.4M53.0 87.7h.4M59.7 89.4h.4M51.8 81.6h.4M60.9 81.0h.4M66.9 92.4h.4M62.9 85.1h.4M57.6 91.4h.4M65.5 82.5h.4M66.0 84.9h.4M60.9 80.6h.4M47.4 80.7h.4M52.4 83.4h.4M53.1 88.8h.4M59.5 92.0h.4M66.5 84.3h.4M63.6 84.0h.4M54.2 86.5h.4M60.1 80.5h.4M54.9 81.6h.4M50.4 88.2h.4M54.4 90.5h.4M35.1 85.8h.4M65.6 77.9h.4M42.0 91.0h.4M54.1 85.8h.4M54.7 79.1h.4M67.8 86.7h.4M75.9 77.9h.4M73.9 81.3h.4M68.7 91.4h.4M69.4 89.8h.4M67.8 86.8h.4M73.4 78.9h.4M66.8 87.0h.4M70.1 79.1h.4M67.8 86.8h.4M68.4 84.7h.4M67.8 81.3h.4M71.7 90.2h.4M70.1 85.7h.4M68.7 86.3h.4M67.6 84.7h.4M72.8 80.9h.4M71.5 81.3h.4M68.8 85.3h.4M72.6 86.7h.4M72.3 88.7h.4M71.0 87.8h.4M67.1 84.0h.4M71.9 78.8h.4M67.0 85.3h.4M71.2 82.9h.4M84.7 82.9h.4M67.6 86.4h.4M70.1 85.8h.4M67.2 88.6h.4M72.9 84.7h.4M67.2 87.0h.4M74.2 90.6h.4M67.5 90.1h.4M71.6 82.7h.4M68.9 83.8h.4M67.5 80.2h.4M68.6 83.6h.4M70.7 77.6h.4M69.4 78.0h.4M70.3 85.0h.4M71.2 87.1h.4M70.8 88.1h.4M75.7 83.4h.4M67.2 84.4h.4M71.7 87.2h.4M66.8 90.7h.4M68.5 80.3h.4M77.4 79.4h.4M71.0 82.9h.4M69.3 77.1h.4M69.6 83.7h.4M68.8 85.0h.4M67.4 83.1h.4M68.0 82.4h.4M70.0 82.5h.4M71.2 84.4h.4M69.6 85.7h.4M70.2 82.8h.4M68.2 83.8h.4M70.5 84.9h.4M72.7 87.7h.4M68.9 83.2h.4M73.4 84.1h.4M68.6 92.6h.4M71.8 82.3h.4M78.2 81.4h.4M66.7 85.4h.4M68.4 89.6h.4M75.8 83.0h.4M69.3 87.4h.4M69.8 84.3h.4M68.3 86.0h.4M70.0 77.7h.4M74.0 86.6h.4M69.3 90.7h.4M69.5 87.0h.4M70.1 82.8h.4M80.0 88.4h.4M66.9 82.3h.4M78.6 83.0h.4M68.7 85.9h.4M67.2 86.3h.4M67.7 84.1h.4M69.0 89.9h.4M67.1 85.7h.4M70.7 79.4h.4M68.3 90.2h.4M69.1 87.1h.4M71.0 82.4h.4M71.7 79.3h.4M67.0 86.1h.4M73.0 87.8h.4M67.3 89.6h.4M68.3 87.5h.4M69.1 81.6h.4M67.6 81.1h.4M67.8 86.1h.4M66.8 88.6h.4M69.2 84.0h.4M75.6 86.3h.4M67.8 91.1h.4M69.4 81.8h.4M66.9 84.1h.4M69.1 92.6h.4M73.7 86.0h.4M67.4 85.5h.4M68.0 83.6h.4M67.6 80.8h.4M67.0 79.3h.4M70.4 80.9h.4M67.5 85.6h.4M70.3 87.3h.4M75.3 82.0h.4M71.1 85.2h.4M69.6 84.9h.4M74.3 81.3h.4M70.4 83.0h.4M72.7 87.4h.4M73.9 84.0h.4M69.2 81.7h.4M68.9 86.5h.4M72.8 83.3h.4M67.9 82.6h.4M69.1 84.1h.4M67.2 85.4h.4M69.4 80.8h.4M68.3 89.1h.4M67.8 84.1h.4M69.3 82.0h.4M67.3 85.4h.4M68.7 91.6h.4M70.1 82.6h.4M69.2 86.3h.4M77.8 86.0h.4M67.2 81.7h.4M69.9 82.9h.4M69.7 84.1h.4M67.0 82.4h.4M66.8 82.4h.4M67.2 86.4h.4M68.0 87.9h.4M79.3 79.0h.4M70.5 83.4h.4M69.1 90.7h.4M71.4 82.7h.4M71.5 84.0h.4M73.5 83.0h.4M67.2 87.9h.4M73.0 88.2h.4M69.9 86.3h.4M72.3 87.7h.4M71.1 88.6h.4M73.4 86.0h.4M74.6 84.2h.4M68.5 81.2h.4M66.9 80.6h.4M69.7 79.7h.4M69.5 85.7h.4M67.2 83.0h.4M80.6 85.6h.4M67.3 85.6h.4M69.5 92.7h.4M77.9 83.7h.4M67.4 82.0h.4M73.8 85.8h.4M72.0 83.4h.4M70.6 85.0h.4M74.9 82.1h.4M69.8 89.4h.4M73.0 85.8h.4M67.9 85.4h.4M68.7 85.2h.4M72.5 82.9h.4M77.0 80.5h.4M72.7 81.3h.4M70.1 83.1h.4M74.2 88.1h.4M67.1 87.9h.4M88.0 79.5h.4M67.4 88.5h.4M71.5 91.5h.4M67.0 83.1h.4M68.4 85.8h.4M67.3 86.5h.4M72.9 86.6h.4M67.3 81.7h.4M67.8 83.6h.4M78.3 85.2h.4M71.9 82.9h.4M69.5 82.1h.4M77.5 85.4h.4M72.6 88.1h.4M69.6 75.6h.4M69.9 82.3h.4M70.3 83.9h.4M71.2 85.8h.4M74.4 82.5h.4M68.1 79.9h.4M69.4 86.7h.4M69.5 85.0h.4M68.9 84.5h.4M70.1 85.2h.4M72.0 83.5h.4M72.2 89.7h.4M69.5 85.5h.4M68.1 79.9h.4M69.8 87.0h.4M68.5 80.5h.4M67.7 84.2h.4M71.7 84.4h.4M67.0 79.2h.4M71.4 80.7h.4M69.7 87.5h.4M72.5 83.9h.4M69.0 89.5h.4M72.2 78.2h.4M68.6 87.2h.4M68.1 83.5h.4M68.1 86.8h.4M68.5 84.4h.4M66.8 80.9h.4M69.1 80.5h.4M68.2 88.1h.4M68.6 78.7h.4M70.0 79.3h.4M68.6 88.1h.4M67.7 88.8h.4M69.2 83.7h.4M68.5 79.2h.4M81.1 89.5h.4M68.3 79.6h.4M68.4 86.7h.4M72.0 89.0h.4M69.2 79.4h.4M67.7 80.1h.4M70.2 81.6h.4M68.6 82.4h.4M67.3 89.6h.4M70.1 82.8h.4M67.6 86.3h.4M68.7 91.0h.4M70.1 78.9h.4M79.7 79.5h.4M69.4 81.7h.4M68.4 82.2h.4M75.8 85.7h.4M73.9 81.0h.4M68.5 85.6h.4M69.2 86.2h.4M71.4 83.6h.4M73.1 84.5h.4M84.3 80.8h.4M85.1 86.7h.4M70.8 78.4h.4M69.4 87.9h.4M70.6 84.2h.4M68.8 83.3h.4M72.9 88.9h.4M85.4 80.3h.4M71.6 88.2h.4M79.4 83.7h.4M82.8 87.6h.4M82.7 85.3h.4M69.3 85.8h.4M73.0 85.3h.4M88.8 88.8h.4M74.8 81.2h.4M99.4 83.5h.4M67.9 87.6h.4M70.8 86.2h.4M85.0 84.7h.4M83.8 82.2h.4M81.5 83.3h.4M88.4 78.9h.4M70.4 84.9h.4M78.1 87.8h.4M82.0 84.1h.4M74.6 85.9h.4M67.9 84.9h.4M103.0 86.0h.4M76.3 87.3h.4M87.6 79.7h.4M86.6 81.3h.4M71.2 86.7h.4M71.0 80.1h.4M114.7 87.7h.4M72.0 81.0h.4M71.9 86.7h.4M82.3 87.1h.4M71.1 82.0h.4M85.4 83.9h.4M69.5 77.3h.4M67.6 88.2h.4M80.5 82.1h.4M69.9 79.6h.4M73.2 89.1h.4M68.1 82.4h.4M79.9 87.4h.4M72.1 83.5h.4M95.0 84.2h.4M68.5 84.4h.4M68.9 76.1h.4M81.7 83.4h.4M87.8 87.2h.4M88.8 78.1h.4M71.4 84.6h.4M71.7 84.4h.4M78.0 79.3h.4M85.0 78.2h.4M78.0 86.1h.4M92.4 83.8h.4M69.3 88.5h.4M70.0 83.4h.4M77.0 84.2h.4M73.5 85.6h.4M75.3 87.7h.4M72.8 86.5h.4M67.7 90.8h.4M67.4 87.2h.4M77.3 88.8h.4M96.3 86.0h.4M68.3 83.0h.4M110.0 84.5h.4M74.5 88.0h.4M75.2 76.7h.4M76.8 89.9h.4M82.8 80.6h.4M73.8 84.6h.4M69.5 77.5h.4M71.7 85.9h.4M71.3 87.2h.4M71.3 84.3h.4M69.2 81.8h.4M72.1 84.2h.4M74.7 82.6h.4M68.1 83.4h.4M94.5 86.5h.4M82.3 85.3h.4M73.5 89.3h.4M79.9 84.8h.4M77.4 84.8h.4M86.4 81.7h.4M73.6 83.6h.4M78.6 85.8h.4M73.0 78.5h.4M71.8 88.4h.4M87.5 83.2h.4M69.1 88.4h.4M79.0 86.3h.4M69.7 88.7h.4M75.7 81.1h.4M69.9 87.2h.4M74.2 84.6h.4M79.0 76.9h.4M67.8 79.5h.4M95.7 85.5h.4M72.9 81.9h.4M76.4 84.0h.4M68.3 77.3h.4M67.2 88.6h.4M84.8 86.0h.4M78.5 87.7h.4M76.7 82.4h.4M75.9 84.2h.4M69.0 84.5h.4M70.2 87.2h.4M69.6 85.6h.4M87.0 81.2h.4M69.2 95.4h.4M79.4 88.3h.4M70.7 91.0h.4M72.0 85.1h.4M68.1 85.7h.4M73.5 81.1h.4M72.2 80.1h.4M74.8 84.2h.4M103.5 80.4h.4M71.3 89.6h.4M86.2 87.1h.4M100.8 84.9h.4M80.0 88.8h.4M100.6 84.0h.4M82.2 78.1h.4M70.6 88.1h.4M75.2 89.7h.4M67.2 84.2h.4M79.8 82.8h.4M84.3 80.6h.4M74.0 91.1h.4M75.7 80.7h.4M83.4 89.1h.4M82.8 79.2h.4M77.9 80.9h.4M77.3 82.9h.4M69.4 86.8h.4M72.9 88.2h.4M72.9 86.2h.4M69.6 80.0h.4M83.7 79.0h.4M37.3 76.0h.4M37.5 81.7h.4M36.9 80.9h.4M36.7 73.8h.4M37.2 75.1h.4M36.4 92.1h.4M36.5 79.3h.4M36.7 82.2h.4M36.4 78.0h.4M36.7 82.6h.4M37.2 75.0h.4M37.4 80.6h.4M37.2 79.5h.4M36.9 92.1h.4M37.2 91.3h.4M36.7 75.6h.4M37.1 81.0h.4M37.3 87.4h.4M37.6 87.4h.4M37.2 83.2h.4M36.8 74.2h.4M37.4 81.2h.4M37.2 80.0h.4M37.5 80.9h.4M36.9 84.2h.4" stroke="#000" stroke-width=".4" fill="none"/>
<rect x="33.50" y="42.50" width="90" height="89.70" fill="none" stroke="#000" stroke-width="1.3"/>
<rect x="67.70" y="70.6" width="55.80" height="24.3" fill="none" stroke="#000" stroke-width="1.3"/>
<line x1="30.90" y1="132.20" x2="33.50" y2="132.20" stroke="#000" stroke-width="1.3"/>
<line x1="32.40" y1="128.45" x2="33.50" y2="128.45" stroke="#111" stroke-width="0.7"/>
<line x1="32.40" y1="126.26" x2="33.50" y2="126.26" stroke="#111" stroke-width="0.7"/>
<line x1="32.40" y1="124.70" x2="33.50" y2="124.70" stroke="#111" stroke-width="0.7"/>
<line x1="31.50" y1="123.49" x2="33.50" y2="123.49" stroke="#111" stroke-width="1.0"/>
<line x1="32.40" y1="122.51" x2="33.50" y2="122.51" stroke="#111" stroke-width="0.7"/>
<line x1="32.40" y1="121.67" x2="33.50" y2="121.67" stroke="#111" stroke-width="0.7"/>
<line x1="32.40" y1="120.95" x2="33.50" y2="120.95" stroke="#111" stroke-width="0.7"/>
<line x1="32.40" y1="120.31" x2="33.50" y2="120.31" stroke="#111" stroke-width="0.7"/>
<line x1="30.90" y1="119.74" x2="33.50" y2="119.74" stroke="#000" stroke-width="1.3"/>
<line x1="32.40" y1="115.99" x2="33.50" y2="115.99" stroke="#111" stroke-width="0.7"/>
<line x1="32.40" y1="113.80" x2="33.50" y2="113.80" stroke="#111" stroke-width="0.7"/>
<line x1="32.40" y1="112.24" x2="33.50" y2="112.24" stroke="#111" stroke-width="0.7"/>
<line x1="31.50" y1="111.04" x2="33.50" y2="111.04" stroke="#111" stroke-width="1.0"/>
<line x1="32.40" y1="110.05" x2="33.50" y2="110.05" stroke="#111" stroke-width="0.7"/>
<line x1="32.40" y1="109.22" x2="33.50" y2="109.22" stroke="#111" stroke-width="0.7"/>
<line x1="32.40" y1="108.49" x2="33.50" y2="108.49" stroke="#111" stroke-width="0.7"/>
<line x1="32.40" y1="107.86" x2="33.50" y2="107.86" stroke="#111" stroke-width="0.7"/>
<line x1="30.90" y1="107.29" x2="33.50" y2="107.29" stroke="#000" stroke-width="1.3"/>
<line x1="32.40" y1="103.54" x2="33.50" y2="103.54" stroke="#111" stroke-width="0.7"/>
<line x1="32.40" y1="101.34" x2="33.50" y2="101.34" stroke="#111" stroke-width="0.7"/>
<line x1="32.40" y1="99.79" x2="33.50" y2="99.79" stroke="#111" stroke-width="0.7"/>
<line x1="31.50" y1="98.58" x2="33.50" y2="98.58" stroke="#111" stroke-width="1.0"/>
<line x1="32.40" y1="97.59" x2="33.50" y2="97.59" stroke="#111" stroke-width="0.7"/>
<line x1="32.40" y1="96.76" x2="33.50" y2="96.76" stroke="#111" stroke-width="0.7"/>
<line x1="32.40" y1="96.04" x2="33.50" y2="96.04" stroke="#111" stroke-width="0.7"/>
<line x1="32.40" y1="95.40" x2="33.50" y2="95.40" stroke="#111" stroke-width="0.7"/>
<line x1="30.90" y1="94.83" x2="33.50" y2="94.83" stroke="#000" stroke-width="1.3"/>
<line x1="32.40" y1="91.08" x2="33.50" y2="91.08" stroke="#111" stroke-width="0.7"/>
<line x1="32.40" y1="88.89" x2="33.50" y2="88.89" stroke="#111" stroke-width="0.7"/>
<line x1="32.40" y1="87.33" x2="33.50" y2="87.33" stroke="#111" stroke-width="0.7"/>
<line x1="31.50" y1="86.12" x2="33.50" y2="86.12" stroke="#111" stroke-width="1.0"/>
<line x1="32.40" y1="85.14" x2="33.50" y2="85.14" stroke="#111" stroke-width="0.7"/>
<line x1="32.40" y1="84.30" x2="33.50" y2="84.30" stroke="#111" stroke-width="0.7"/>
<line x1="32.40" y1="83.58" x2="33.50" y2="83.58" stroke="#111" stroke-width="0.7"/>
<line x1="32.40" y1="82.94" x2="33.50" y2="82.94" stroke="#111" stroke-width="0.7"/>
<line x1="30.90" y1="82.37" x2="33.50" y2="82.37" stroke="#000" stroke-width="1.3"/>
<line x1="32.40" y1="78.62" x2="33.50" y2="78.62" stroke="#111" stroke-width="0.7"/>
<line x1="32.40" y1="76.43" x2="33.50" y2="76.43" stroke="#111" stroke-width="0.7"/>
<line x1="32.40" y1="74.87" x2="33.50" y2="74.87" stroke="#111" stroke-width="0.7"/>
<line x1="31.50" y1="73.66" x2="33.50" y2="73.66" stroke="#111" stroke-width="1.0"/>
<line x1="32.40" y1="72.68" x2="33.50" y2="72.68" stroke="#111" stroke-width="0.7"/>
<line x1="32.40" y1="71.84" x2="33.50" y2="71.84" stroke="#111" stroke-width="0.7"/>
<line x1="32.40" y1="71.12" x2="33.50" y2="71.12" stroke="#111" stroke-width="0.7"/>
<line x1="32.40" y1="70.48" x2="33.50" y2="70.48" stroke="#111" stroke-width="0.7"/>
<line x1="30.90" y1="69.91" x2="33.50" y2="69.91" stroke="#000" stroke-width="1.3"/>
<line x1="32.40" y1="66.16" x2="33.50" y2="66.16" stroke="#111" stroke-width="0.7"/>
<line x1="32.40" y1="63.97" x2="33.50" y2="63.97" stroke="#111" stroke-width="0.7"/>
<line x1="32.40" y1="62.41" x2="33.50" y2="62.41" stroke="#111" stroke-width="0.7"/>
<line x1="31.50" y1="61.21" x2="33.50" y2="61.21" stroke="#111" stroke-width="1.0"/>
<line x1="32.40" y1="60.22" x2="33.50" y2="60.22" stroke="#111" stroke-width="0.7"/>
<line x1="32.40" y1="59.39" x2="33.50" y2="59.39" stroke="#111" stroke-width="0.7"/>
<line x1="32.40" y1="58.66" x2="33.50" y2="58.66" stroke="#111" stroke-width="0.7"/>
<line x1="32.40" y1="58.03" x2="33.50" y2="58.03" stroke="#111" stroke-width="0.7"/>
<line x1="30.90" y1="57.46" x2="33.50" y2="57.46" stroke="#000" stroke-width="1.3"/>
<line x1="32.40" y1="53.71" x2="33.50" y2="53.71" stroke="#111" stroke-width="0.7"/>
<line x1="32.40" y1="51.51" x2="33.50" y2="51.51" stroke="#111" stroke-width="0.7"/>
<line x1="32.40" y1="49.96" x2="33.50" y2="49.96" stroke="#111" stroke-width="0.7"/>
<line x1="31.50" y1="48.75" x2="33.50" y2="48.75" stroke="#111" stroke-width="1.0"/>
<line x1="32.40" y1="47.76" x2="33.50" y2="47.76" stroke="#111" stroke-width="0.7"/>
<line x1="32.40" y1="46.93" x2="33.50" y2="46.93" stroke="#111" stroke-width="0.7"/>
<line x1="32.40" y1="46.21" x2="33.50" y2="46.21" stroke="#111" stroke-width="0.7"/>
<line x1="32.40" y1="45.57" x2="33.50" y2="45.57" stroke="#111" stroke-width="0.7"/>
<line x1="30.90" y1="45.00" x2="33.50" y2="45.00" stroke="#000" stroke-width="1.3"/>
<line x1="33.50" y1="132.20" x2="33.50" y2="134.60" stroke="#000" stroke-width="1.3"/>
<line x1="37.22" y1="132.20" x2="37.22" y2="133.30" stroke="#111" stroke-width="0.7"/>
<line x1="39.40" y1="132.20" x2="39.40" y2="133.30" stroke="#111" stroke-width="0.7"/>
<line x1="40.95" y1="132.20" x2="40.95" y2="133.30" stroke="#111" stroke-width="0.7"/>
<line x1="42.15" y1="132.20" x2="42.15" y2="134.20" stroke="#111" stroke-width="1.0"/>
<line x1="43.13" y1="132.20" x2="43.13" y2="133.30" stroke="#111" stroke-width="0.7"/>
<line x1="43.95" y1="132.20" x2="43.95" y2="133.30" stroke="#111" stroke-width="0.7"/>
<line x1="44.67" y1="132.20" x2="44.67" y2="133.30" stroke="#111" stroke-width="0.7"/>
<line x1="45.30" y1="132.20" x2="45.30" y2="133.30" stroke="#111" stroke-width="0.7"/>
<line x1="45.87" y1="132.20" x2="45.87" y2="134.60" stroke="#000" stroke-width="1.3"/>
<line x1="49.59" y1="132.20" x2="49.59" y2="133.30" stroke="#111" stroke-width="0.7"/>
<line x1="51.77" y1="132.20" x2="51.77" y2="133.30" stroke="#111" stroke-width="0.7"/>
<line x1="53.32" y1="132.20" x2="53.32" y2="133.30" stroke="#111" stroke-width="0.7"/>
<line x1="54.52" y1="132.20" x2="54.52" y2="134.20" stroke="#111" stroke-width="1.0"/>
<line x1="55.50" y1="132.20" x2="55.50" y2="133.30" stroke="#111" stroke-width="0.7"/>
<line x1="56.32" y1="132.20" x2="56.32" y2="133.30" stroke="#111" stroke-width="0.7"/>
<line x1="57.04" y1="132.20" x2="57.04" y2="133.30" stroke="#111" stroke-width="0.7"/>
<line x1="57.67" y1="132.20" x2="57.67" y2="133.30" stroke="#111" stroke-width="0.7"/>
<line x1="58.24" y1="132.20" x2="58.24" y2="134.60" stroke="#000" stroke-width="1.3"/>
<line x1="61.96" y1="132.20" x2="61.96" y2="133.30" stroke="#111" stroke-width="0.7"/>
<line x1="64.14" y1="132.20" x2="64.14" y2="133.30" stroke="#111" stroke-width="0.7"/>
<line x1="65.69" y1="132.20" x2="65.69" y2="133.30" stroke="#111" stroke-width="0.7"/>
<line x1="66.89" y1="132.20" x2="66.89" y2="134.20" stroke="#111" stroke-width="1.0"/>
<line x1="67.87" y1="132.20" x2="67.87" y2="133.30" stroke="#111" stroke-width="0.7"/>
<line x1="68.69" y1="132.20" x2="68.69" y2="133.30" stroke="#111" stroke-width="0.7"/>
<line x1="69.41" y1="132.20" x2="69.41" y2="133.30" stroke="#111" stroke-width="0.7"/>
<line x1="70.04" y1="132.20" x2="70.04" y2="133.30" stroke="#111" stroke-width="0.7"/>
<line x1="70.61" y1="132.20" x2="70.61" y2="134.60" stroke="#000" stroke-width="1.3"/>
<line x1="74.33" y1="132.20" x2="74.33" y2="133.30" stroke="#111" stroke-width="0.7"/>
<line x1="76.51" y1="132.20" x2="76.51" y2="133.30" stroke="#111" stroke-width="0.7"/>
<line x1="78.06" y1="132.20" x2="78.06" y2="133.30" stroke="#111" stroke-width="0.7"/>
<line x1="79.26" y1="132.20" x2="79.26" y2="134.20" stroke="#111" stroke-width="1.0"/>
<line x1="80.24" y1="132.20" x2="80.24" y2="133.30" stroke="#111" stroke-width="0.7"/>
<line x1="81.06" y1="132.20" x2="81.06" y2="133.30" stroke="#111" stroke-width="0.7"/>
<line x1="81.78" y1="132.20" x2="81.78" y2="133.30" stroke="#111" stroke-width="0.7"/>
<line x1="82.41" y1="132.20" x2="82.41" y2="133.30" stroke="#111" stroke-width="0.7"/>
<line x1="82.98" y1="132.20" x2="82.98" y2="134.60" stroke="#000" stroke-width="1.3"/>
<line x1="86.70" y1="132.20" x2="86.70" y2="133.30" stroke="#111" stroke-width="0.7"/>
<line x1="88.88" y1="132.20" x2="88.88" y2="133.30" stroke="#111" stroke-width="0.7"/>
<line x1="90.43" y1="132.20" x2="90.43" y2="133.30" stroke="#111" stroke-width="0.7"/>
<line x1="91.63" y1="132.20" x2="91.63" y2="134.20" stroke="#111" stroke-width="1.0"/>
<line x1="92.61" y1="132.20" x2="92.61" y2="133.30" stroke="#111" stroke-width="0.7"/>
<line x1="93.43" y1="132.20" x2="93.43" y2="133.30" stroke="#111" stroke-width="0.7"/>
<line x1="94.15" y1="132.20" x2="94.15" y2="133.30" stroke="#111" stroke-width="0.7"/>
<line x1="94.78" y1="132.20" x2="94.78" y2="133.30" stroke="#111" stroke-width="0.7"/>
<line x1="95.35" y1="132.20" x2="95.35" y2="134.60" stroke="#000" stroke-width="1.3"/>
<line x1="99.07" y1="132.20" x2="99.07" y2="133.30" stroke="#111" stroke-width="0.7"/>
<line x1="101.25" y1="132.20" x2="101.25" y2="133.30" stroke="#111" stroke-width="0.7"/>
<line x1="102.80" y1="132.20" x2="102.80" y2="133.30" stroke="#111" stroke-width="0.7"/>
<line x1="104.00" y1="132.20" x2="104.00" y2="134.20" stroke="#111" stroke-width="1.0"/>
<line x1="104.98" y1="132.20" x2="104.98" y2="133.30" stroke="#111" stroke-width="0.7"/>
<line x1="105.80" y1="132.20" x2="105.80" y2="133.30" stroke="#111" stroke-width="0.7"/>
<line x1="106.52" y1="132.20" x2="106.52" y2="133.30" stroke="#111" stroke-width="0.7"/>
<line x1="107.15" y1="132.20" x2="107.15" y2="133.30" stroke="#111" stroke-width="0.7"/>
<line x1="107.72" y1="132.20" x2="107.72" y2="134.60" stroke="#000" stroke-width="1.3"/>
<line x1="111.44" y1="132.20" x2="111.44" y2="133.30" stroke="#111" stroke-width="0.7"/>
<line x1="113.62" y1="132.20" x2="113.62" y2="133.30" stroke="#111" stroke-width="0.7"/>
<line x1="115.17" y1="132.20" x2="115.17" y2="133.30" stroke="#111" stroke-width="0.7"/>
<line x1="116.37" y1="132.20" x2="116.37" y2="134.20" stroke="#111" stroke-width="1.0"/>
<line x1="117.35" y1="132.20" x2="117.35" y2="133.30" stroke="#111" stroke-width="0.7"/>
<line x1="118.17" y1="132.20" x2="118.17" y2="133.30" stroke="#111" stroke-width="0.7"/>
<line x1="118.89" y1="132.20" x2="118.89" y2="133.30" stroke="#111" stroke-width="0.7"/>
<line x1="119.52" y1="132.20" x2="119.52" y2="133.30" stroke="#111" stroke-width="0.7"/>
<line x1="120.09" y1="132.20" x2="120.09" y2="134.60" stroke="#000" stroke-width="1.3"/>
<text transform="translate(19.62,134.70) scale(0.841,1)" font-size="5.94" fill="#222">10</text>
<text transform="translate(25.97,131.80) scale(1.211,1)" font-size="2.75" fill="#333" style="stroke-width:0.1px">0</text>
<text transform="translate(19.62,122.24) scale(0.841,1)" font-size="5.94" fill="#222">10</text>
<text transform="translate(25.82,119.34) scale(1.336,1)" font-size="2.75" fill="#333" style="stroke-width:0.1px">1</text>
<text transform="translate(19.62,109.79) scale(0.841,1)" font-size="5.94" fill="#222">10</text>
<text transform="translate(25.92,106.89) scale(1.277,1)" font-size="2.75" fill="#333" style="stroke-width:0.1px">2</text>
<text transform="translate(19.62,97.33) scale(0.841,1)" font-size="5.94" fill="#222">10</text>
<text transform="translate(25.97,94.43) scale(1.223,1)" font-size="2.75" fill="#333" style="stroke-width:0.1px">3</text>
<text transform="translate(19.62,84.87) scale(0.841,1)" font-size="5.94" fill="#222">10</text>
<text transform="translate(26.04,81.97) scale(1.151,1)" font-size="2.75" fill="#333" style="stroke-width:0.1px">4</text>
<text transform="translate(19.62,72.41) scale(0.841,1)" font-size="5.94" fill="#222">10</text>
<text transform="translate(25.97,69.51) scale(1.223,1)" font-size="2.75" fill="#333" style="stroke-width:0.1px">5</text>
<text transform="translate(19.62,59.96) scale(0.841,1)" font-size="5.94" fill="#222">10</text>
<text transform="translate(25.93,57.06) scale(1.250,1)" font-size="2.75" fill="#333" style="stroke-width:0.1px">6</text>
<text transform="translate(19.62,47.50) scale(0.841,1)" font-size="5.94" fill="#222">10</text>
<text transform="translate(25.92,44.60) scale(1.277,1)" font-size="2.75" fill="#333" style="stroke-width:0.1px">7</text>
<text transform="translate(30.03,144.50) scale(0.805,1)" font-size="6.09" fill="#222">10</text>
<text transform="translate(35.55,141.40) scale(1.362,1)" font-size="2.75" fill="#333" style="stroke-width:0.1px">0</text>
<text transform="translate(54.77,144.50) scale(0.805,1)" font-size="6.09" fill="#222">10</text>
<text transform="translate(60.24,141.40) scale(1.437,1)" font-size="2.75" fill="#333" style="stroke-width:0.1px">2</text>
<text transform="translate(79.51,144.50) scale(0.805,1)" font-size="6.09" fill="#222">10</text>
<text transform="translate(85.11,141.40) scale(1.294,1)" font-size="2.75" fill="#333" style="stroke-width:0.1px">4</text>
<text transform="translate(104.25,144.50) scale(0.805,1)" font-size="6.09" fill="#222">10</text>
<text transform="translate(109.73,141.40) scale(1.406,1)" font-size="2.75" fill="#333" style="stroke-width:0.1px">6</text>
<text transform="translate(70.34,36.10) scale(0.803,1)" font-size="8.70" fill="#111">PBS</text>
<text transform="translate(51.10,156.80) scale(0.877,1)" font-size="9.13" fill="#111">AnnexinV-APC</text>
<text transform="translate(14.50,99.53) rotate(-90) scale(0.797,1)" font-size="9.13" fill="#111">SSC-A</text>
<text transform="translate(91.20,81.80) scale(0.922,1)" font-size="6.67" fill="#111">AnnexinV+</text>
<text transform="translate(99.68,89.50) scale(1.054,1)" font-size="6.09" fill="#111">6.35</text>
<path d="M180.7 86.2h.4M183.2 82.4h.4M168.4 85.0h.4M182.9 88.6h.4M180.2 82.8h.4M175.8 91.5h.4M182.9 80.0h.4M179.2 79.1h.4M178.7 87.8h.4M181.0 83.2h.4M176.7 82.4h.4M179.9 82.2h.4M185.0 90.5h.4M165.6 92.2h.4M186.2 88.1h.4M176.7 89.9h.4M175.0 84.6h.4M180.6 83.9h.4M182.3 86.6h.4M185.2 86.5h.4M180.4 90.2h.4M184.4 84.5h.4M183.7 83.0h.4M182.6 86.3h.4M186.4 87.4h.4M175.3 75.2h.4M180.8 86.8h.4M181.2 77.0h.4M161.8 86.1h.4M182.7 82.9h.4M178.0 84.9h.4M182.3 76.8h.4M178.0 84.8h.4M185.9 85.1h.4M174.0 76.9h.4M171.3 82.9h.4M184.3 90.6h.4M181.9 88.7h.4M184.7 83.5h.4M179.8 81.9h.4M182.7 84.7h.4M176.4 84.0h.4M184.3 82.5h.4M184.7 84.9h.4M174.5 87.6h.4M184.5 83.1h.4M184.1 81.9h.4M184.5 85.6h.4M181.4 87.5h.4M184.2 87.5h.4M184.5 88.3h.4M182.7 85.9h.4M176.3 93.9h.4M160.7 83.1h.4M183.4 86.4h.4M185.1 81.4h.4M184.8 86.1h.4M186.4 79.0h.4M182.3 79.0h.4M169.7 85.1h.4M181.4 86.3h.4M181.8 87.5h.4M177.5 78.0h.4M184.1 87.2h.4M183.6 82.9h.4M183.8 95.3h.4M177.8 81.7h.4M184.5 81.0h.4M183.4 84.4h.4M181.8 89.6h.4M184.8 83.8h.4M180.6 81.6h.4M179.8 81.8h.4M177.9 83.5h.4M169.2 77.7h.4M174.8 92.5h.4M179.4 86.5h.4M183.5 83.3h.4M182.9 83.4h.4M177.4 84.4h.4M182.0 82.9h.4M184.5 85.2h.4M182.6 82.0h.4M176.0 82.9h.4M180.5 79.3h.4M180.0 88.9h.4M184.7 83.1h.4M178.9 82.7h.4M181.0 86.0h.4M174.5 78.3h.4M185.2 85.1h.4M181.1 86.1h.4M171.2 83.8h.4M182.8 75.3h.4M186.5 87.7h.4M176.6 87.2h.4M184.2 80.6h.4M166.7 89.7h.4M185.2 80.2h.4M186.4 81.3h.4M183.8 89.4h.4M184.6 87.8h.4M180.1 83.6h.4M186.5 86.5h.4M173.2 81.9h.4M181.3 80.5h.4M177.4 82.2h.4M180.2 89.4h.4M174.1 88.7h.4M177.6 85.6h.4M186.4 94.8h.4M178.6 87.6h.4M186.3 82.9h.4M183.8 87.5h.4M155.2 87.1h.4M175.9 78.9h.4M178.0 80.1h.4M181.1 89.8h.4M185.5 79.9h.4M178.8 84.3h.4M180.8 88.9h.4M184.6 89.9h.4M186.3 83.3h.4M177.3 75.1h.4M178.1 84.4h.4M183.4 87.2h.4M185.5 83.1h.4M176.7 77.2h.4M184.4 82.1h.4M185.8 87.7h.4M185.6 87.2h.4M185.0 82.0h.4M185.6 85.5h.4M184.9 82.8h.4M182.8 86.0h.4M171.1 81.1h.4M182.6 84.7h.4M184.1 81.4h.4M178.7 89.2h.4M177.3 82.6h.4M186.8 84.9h.4M183.5 81.1h.4M185.1 76.5h.4M178.9 83.5h.4M158.4 79.5h.4M174.4 87.7h.4M180.2 88.7h.4M177.3 83.0h.4M178.3 80.7h.4M184.6 87.5h.4M172.8 82.9h.4M181.8 87.4h.4M171.7 87.8h.4M182.0 83.4h.4M179.3 91.0h.4M185.5 85.8h.4M186.2 87.4h.4M163.7 84.8h.4M180.9 80.6h.4M184.9 85.2h.4M185.2 83.3h.4M183.8 88.5h.4M177.8 81.6h.4M186.3 85.2h.4M177.3 86.8h.4M180.5 90.9h.4M180.9 82.3h.4M181.4 84.9h.4M182.5 81.4h.4M186.1 80.8h.4M181.8 82.4h.4M179.2 88.7h.4M173.5 88.4h.4M180.2 84.4h.4M185.5 81.3h.4M185.8 88.7h.4M175.7 85.4h.4M180.1 86.0h.4M181.3 86.3h.4M181.2 89.5h.4M180.2 86.4h.4M185.6 84.1h.4M182.1 83.1h.4M179.3 83.8h.4M181.8 83.7h.4M173.6 80.9h.4M178.8 81.1h.4M182.4 91.0h.4M177.7 88.7h.4M184.5 82.3h.4M168.5 84.4h.4M180.1 83.4h.4M182.7 86.3h.4M169.1 83.1h.4M184.8 84.4h.4M184.9 85.5h.4M173.5 89.1h.4M185.5 83.6h.4M180.4 84.1h.4M179.6 79.9h.4M184.4 80.7h.4M181.4 83.7h.4M186.8 80.7h.4M178.2 76.2h.4M181.0 80.2h.4M184.5 83.2h.4M172.7 82.2h.4M180.4 83.6h.4M184.2 81.2h.4M185.7 85.8h.4M181.5 87.7h.4M184.7 90.4h.4M183.8 86.9h.4M182.6 83.9h.4M173.2 87.9h.4M172.9 79.3h.4M185.1 75.7h.4M184.0 90.4h.4M183.1 84.5h.4M186.4 79.5h.4M183.8 89.8h.4M185.4 90.1h.4M182.5 86.5h.4M186.2 82.7h.4M184.8 92.8h.4M185.5 82.7h.4M177.6 83.4h.4M183.7 83.0h.4M180.2 84.6h.4M179.6 78.1h.4M178.2 82.2h.4M183.2 86.2h.4M171.2 91.6h.4M176.7 83.3h.4M180.3 83.4h.4M184.4 85.4h.4M180.8 87.8h.4M178.4 89.3h.4M176.8 82.8h.4M183.0 78.2h.4M184.3 74.8h.4M177.8 90.1h.4M185.5 85.6h.4M184.5 87.6h.4M182.5 87.6h.4M186.7 86.8h.4M180.7 92.1h.4M184.6 86.1h.4M172.4 90.0h.4M177.6 82.2h.4M183.4 86.5h.4M183.4 82.4h.4M185.2 82.4h.4M183.2 78.3h.4M185.2 84.8h.4M177.4 84.4h.4M184.2 89.0h.4M180.1 82.6h.4M185.8 81.4h.4M177.2 82.0h.4M183.7 80.9h.4M180.8 87.9h.4M186.1 87.4h.4M180.0 76.6h.4M173.6 87.8h.4M179.9 81.4h.4M177.2 86.2h.4M183.9 79.9h.4M184.5 89.4h.4M186.5 78.3h.4M185.0 81.2h.4M181.8 85.7h.4M167.5 80.2h.4M185.8 86.3h.4M183.9 80.1h.4M184.1 86.5h.4M183.6 88.9h.4M181.6 75.2h.4M182.8 87.3h.4M178.5 86.4h.4M170.4 80.3h.4M181.7 84.6h.4M171.1 84.1h.4M180.8 92.5h.4M183.1 83.5h.4M182.5 86.8h.4M182.3 82.9h.4M179.0 85.0h.4M183.7 86.0h.4M173.7 82.9h.4M183.4 87.3h.4M185.9 82.6h.4M182.7 83.0h.4M185.1 82.5h.4M170.4 82.8h.4M178.0 86.1h.4M182.5 86.8h.4M158.5 77.2h.4M182.9 79.8h.4M184.1 83.8h.4M170.5 84.6h.4M186.2 77.6h.4M179.5 87.3h.4M185.8 92.2h.4M180.3 83.6h.4M179.6 82.2h.4M167.9 79.9h.4M168.4 82.6h.4M182.3 81.0h.4M176.6 83.8h.4M183.4 84.7h.4M169.6 77.6h.4M183.9 86.6h.4M183.4 85.6h.4M180.8 79.8h.4M185.1 88.1h.4M184.0 89.8h.4M173.5 80.9h.4M184.0 86.0h.4M176.4 81.8h.4M180.9 82.2h.4M180.0 83.3h.4M184.2 77.1h.4M181.4 84.0h.4M180.9 81.4h.4M181.7 82.3h.4M184.4 82.6h.4M176.5 80.9h.4M184.6 88.7h.4M171.3 84.0h.4M174.4 89.5h.4M181.6 79.6h.4M186.3 82.2h.4M177.1 80.5h.4M183.8 81.2h.4M185.6 85.1h.4M183.2 86.8h.4M180.8 92.6h.4M161.4 82.3h.4M179.1 86.4h.4M177.1 84.4h.4M178.4 82.6h.4M185.8 83.0h.4M182.4 82.4h.4M180.9 92.2h.4M173.0 85.4h.4M186.6 87.2h.4M184.2 82.2h.4M179.5 86.4h.4M183.1 84.2h.4M174.9 82.7h.4M180.2 84.1h.4M182.1 81.4h.4M184.3 89.7h.4M184.2 82.8h.4M176.8 82.0h.4M174.1 80.8h.4M186.6 81.0h.4M173.6 81.6h.4M183.4 77.1h.4M181.3 81.5h.4M184.0 86.2h.4M183.8 89.8h.4M175.0 87.0h.4M184.8 86.7h.4M184.1 88.6h.4M176.4 80.2h.4M182.5 88.6h.4M172.7 87.1h.4M180.8 85.2h.4M183.3 83.4h.4M168.6 86.3h.4M184.0 87.2h.4M183.1 78.0h.4M182.7 85.4h.4M180.2 86.4h.4M173.2 86.6h.4M186.7 80.3h.4M180.8 82.0h.4M164.4 81.3h.4M182.2 86.9h.4M175.1 93.9h.4M179.1 86.6h.4M184.8 87.5h.4M185.8 79.5h.4M177.8 82.0h.4M176.2 86.6h.4M183.9 83.6h.4M185.2 82.4h.4M183.1 82.6h.4M185.8 83.8h.4M178.2 86.9h.4M179.9 86.1h.4M186.0 88.3h.4M185.0 84.6h.4M179.7 91.0h.4M181.6 73.7h.4M183.8 83.3h.4M175.2 91.0h.4M178.0 83.1h.4M181.2 80.4h.4M176.7 81.3h.4M183.2 84.9h.4M181.5 87.1h.4M180.6 80.9h.4M180.9 85.9h.4M185.5 80.2h.4M180.6 84.8h.4M177.6 83.3h.4M173.2 87.2h.4M183.2 86.0h.4M179.5 89.1h.4M184.6 81.6h.4M172.3 69.8h.4M185.9 87.2h.4M182.5 86.0h.4M180.2 83.7h.4M173.9 81.7h.4M182.0 79.5h.4M172.1 83.8h.4M179.5 86.1h.4M185.4 87.6h.4M176.1 82.0h.4M172.5 79.0h.4M180.6 86.8h.4M180.0 89.1h.4M178.7 85.4h.4M177.9 76.6h.4M176.0 89.1h.4M185.1 77.8h.4M181.5 86.9h.4M183.4 74.1h.4M180.2 79.5h.4M160.9 85.0h.4M180.1 82.2h.4M181.1 84.7h.4M184.3 85.9h.4M185.0 88.2h.4M182.7 87.4h.4M178.5 77.7h.4M182.3 81.9h.4M180.7 91.9h.4M180.2 82.8h.4M181.8 77.1h.4M186.5 87.5h.4M180.0 83.5h.4M174.6 83.5h.4M179.7 89.3h.4M182.5 88.4h.4M176.1 84.5h.4M180.4 90.0h.4M172.5 84.3h.4M181.8 84.7h.4M184.7 87.9h.4M178.4 83.1h.4M181.2 84.8h.4M178.2 86.5h.4M184.4 85.0h.4M183.3 82.5h.4M184.8 92.1h.4M179.3 84.7h.4M176.6 88.5h.4M183.6 82.6h.4M180.0 86.0h.4M177.4 81.6h.4M180.0 90.6h.4M179.5 84.5h.4M185.2 84.8h.4M186.1 96.7h.4M179.6 78.9h.4M184.2 84.7h.4M177.8 84.5h.4M170.8 85.0h.4M184.7 85.9h.4M181.2 80.5h.4M185.8 81.5h.4M183.8 87.1h.4M185.0 82.4h.4M182.7 85.8h.4M170.7 84.9h.4M177.6 88.8h.4M173.6 88.8h.4M180.3 78.4h.4M174.3 86.6h.4M185.6 84.8h.4M185.3 89.0h.4M176.2 85.9h.4M177.1 89.9h.4M181.8 79.6h.4M167.6 92.2h.4M184.7 85.1h.4M174.0 85.8h.4M183.4 83.6h.4M186.8 81.9h.4M175.6 88.0h.4M184.7 83.7h.4M178.9 89.7h.4M184.3 90.3h.4M181.4 89.4h.4M181.2 87.1h.4M184.2 84.3h.4M183.7 82.5h.4M185.1 80.5h.4M178.9 84.0h.4M185.1 88.6h.4M177.1 79.7h.4M186.1 85.1h.4M177.2 83.5h.4M180.3 80.6h.4M172.0 83.3h.4M181.9 83.1h.4M186.5 77.8h.4M186.1 76.2h.4M177.7 75.4h.4M170.9 89.3h.4M178.6 87.0h.4M180.5 81.2h.4M174.0 87.9h.4M182.5 85.2h.4M181.1 82.6h.4M181.2 88.3h.4M185.2 79.3h.4M186.4 77.5h.4M181.6 80.6h.4M185.9 81.6h.4M183.7 89.4h.4M180.2 89.3h.4M181.9 78.8h.4M184.1 83.7h.4M185.1 89.4h.4M178.3 89.6h.4M180.0 79.6h.4M186.0 89.1h.4M184.3 85.9h.4M181.6 84.9h.4M180.1 87.6h.4M181.3 80.2h.4M183.5 85.3h.4M175.8 82.3h.4M172.5 85.3h.4M185.6 82.8h.4M185.8 86.2h.4M172.2 90.0h.4M178.9 84.2h.4M185.9 82.9h.4M186.1 82.3h.4M180.8 83.2h.4M173.6 82.9h.4M180.6 87.3h.4M178.9 82.6h.4M184.5 78.3h.4M185.3 84.6h.4M177.1 85.2h.4M182.6 86.2h.4M181.8 85.4h.4M180.1 81.7h.4M177.2 84.1h.4M183.9 87.4h.4M184.3 87.8h.4M186.1 79.0h.4M177.4 87.8h.4M182.0 80.7h.4M183.9 83.5h.4M186.0 87.5h.4M182.2 86.9h.4M174.9 85.4h.4M178.1 85.4h.4M179.7 86.6h.4M184.0 81.2h.4M183.6 84.3h.4M183.1 84.8h.4M180.9 85.4h.4M183.6 82.3h.4M186.6 94.0h.4M183.4 86.4h.4M178.7 89.5h.4M182.1 84.6h.4M185.3 86.7h.4M186.7 85.1h.4M171.9 84.7h.4M184.9 85.8h.4M186.1 82.9h.4M182.9 87.3h.4M184.0 89.9h.4M180.0 81.5h.4M183.1 81.6h.4M182.2 79.2h.4M181.4 87.1h.4M178.3 89.3h.4M178.2 87.0h.4M181.0 81.2h.4M186.1 84.6h.4M176.7 86.7h.4M185.2 87.8h.4M183.0 87.4h.4M180.8 79.0h.4M176.7 77.1h.4M176.8 82.4h.4M172.8 77.9h.4M181.7 92.1h.4M185.1 81.1h.4M180.9 90.4h.4M174.3 87.4h.4M183.3 83.4h.4M182.8 83.3h.4M185.6 87.2h.4M184.2 88.9h.4M176.6 80.7h.4M178.7 82.5h.4M182.8 78.5h.4M186.4 85.9h.4M181.4 80.5h.4M186.1 83.5h.4M179.3 81.5h.4M185.3 79.9h.4M182.3 84.3h.4M182.3 83.5h.4M184.7 90.3h.4M166.9 84.5h.4M183.7 77.1h.4M184.3 88.3h.4M181.7 83.3h.4M175.3 85.7h.4M174.0 88.2h.4M176.9 77.0h.4M181.6 78.7h.4M182.1 77.9h.4M184.7 85.8h.4M184.5 82.0h.4M177.4 87.0h.4M175.3 87.0h.4M184.3 81.3h.4M174.8 83.3h.4M179.7 88.2h.4M178.1 91.0h.4M184.6 90.7h.4M183.5 84.8h.4M180.7 87.3h.4M178.1 88.2h.4M177.4 88.2h.4M175.4 83.5h.4M182.3 87.9h.4M179.3 83.2h.4M172.8 80.7h.4M180.6 94.5h.4M184.8 80.0h.4M183.5 81.5h.4M185.2 84.2h.4M186.5 82.6h.4M176.6 86.8h.4M182.5 83.2h.4M162.8 80.1h.4M167.2 85.6h.4M182.1 81.2h.4M184.5 83.7h.4M184.2 81.5h.4M176.7 79.4h.4M181.1 88.4h.4M185.3 86.7h.4M185.2 83.0h.4M180.6 84.3h.4M179.7 79.2h.4M185.6 79.9h.4M180.5 84.1h.4M166.8 87.9h.4M178.9 81.7h.4M180.0 82.8h.4M179.3 78.4h.4M185.6 85.1h.4M173.1 80.4h.4M176.8 80.5h.4M184.1 78.2h.4M183.0 83.8h.4M185.8 90.9h.4M174.1 87.9h.4M179.8 78.9h.4M184.2 90.9h.4M181.0 82.4h.4M171.1 86.2h.4M186.1 85.7h.4M182.2 93.9h.4M184.4 79.6h.4M182.1 86.4h.4M184.8 84.2h.4M176.4 82.2h.4M183.2 86.1h.4M185.8 79.5h.4M178.2 92.4h.4M185.1 87.7h.4M186.1 78.1h.4M182.8 85.0h.4M177.5 80.2h.4M180.2 85.9h.4M186.7 83.7h.4M183.3 91.3h.4M181.4 91.0h.4M182.7 80.3h.4M164.4 84.5h.4M180.4 80.1h.4M186.7 87.8h.4M182.7 85.7h.4M184.1 89.2h.4M185.9 91.0h.4M182.9 83.6h.4M182.8 86.3h.4M179.5 76.1h.4M173.3 86.5h.4M184.0 84.6h.4M180.3 86.1h.4M173.7 82.9h.4M175.7 94.5h.4M181.2 80.9h.4M170.0 82.8h.4M182.2 82.8h.4M186.2 89.1h.4M175.1 87.0h.4M179.3 86.7h.4M180.4 80.1h.4M183.3 88.8h.4M185.6 86.0h.4M182.3 81.4h.4M182.9 73.9h.4M179.3 87.6h.4M181.6 84.3h.4M172.0 75.2h.4M183.0 89.1h.4M183.2 89.2h.4M184.0 77.4h.4M185.5 87.5h.4M182.4 87.1h.4M180.7 81.3h.4M180.5 82.6h.4M180.3 83.2h.4M180.4 89.8h.4M184.6 82.6h.4M181.9 84.6h.4M182.7 83.4h.4M185.4 81.2h.4M182.7 85.9h.4M179.7 78.6h.4M180.2 77.7h.4M181.8 77.5h.4M186.6 87.2h.4M165.5 93.5h.4M162.3 86.5h.4M185.0 84.5h.4M177.5 85.0h.4M182.4 86.8h.4M184.7 84.2h.4M182.8 81.7h.4M174.1 89.9h.4M172.4 84.9h.4M184.4 84.0h.4M185.5 87.2h.4M177.4 90.1h.4M175.2 85.0h.4M182.0 87.1h.4M180.5 82.8h.4M174.8 83.0h.4M181.7 87.1h.4M170.0 87.7h.4M174.6 86.2h.4M186.5 88.3h.4M181.8 82.3h.4M180.0 79.1h.4M179.5 79.2h.4M185.0 86.0h.4M166.7 78.0h.4M185.2 87.1h.4M174.0 85.6h.4M177.8 88.0h.4M185.2 82.1h.4M173.9 81.2h.4M181.8 87.1h.4M171.4 81.6h.4M178.5 83.8h.4M185.6 85.0h.4M183.0 84.1h.4M178.8 85.3h.4M186.5 85.9h.4M181.3 83.5h.4M179.8 84.7h.4M182.8 86.3h.4M184.2 77.6h.4M183.7 88.8h.4M182.2 85.6h.4M182.7 81.5h.4M180.0 83.6h.4M185.6 88.0h.4M184.2 83.7h.4M175.1 85.3h.4M178.3 87.6h.4M183.5 88.8h.4M183.6 84.3h.4M185.1 84.5h.4M178.5 82.6h.4M184.1 84.0h.4M166.5 87.3h.4M183.3 85.8h.4M177.8 82.0h.4M184.4 87.7h.4M179.3 82.5h.4M180.8 82.0h.4M185.3 82.3h.4M182.9 79.3h.4M173.9 89.9h.4M184.7 77.0h.4M177.8 84.2h.4M186.3 85.7h.4M181.0 80.0h.4M183.8 87.8h.4M184.1 88.3h.4M179.0 87.3h.4M181.1 83.4h.4M174.9 88.7h.4M182.8 75.5h.4M185.7 90.6h.4M183.8 85.4h.4M179.1 85.4h.4M183.1 83.2h.4M179.8 87.2h.4M186.5 81.3h.4M184.0 84.0h.4M186.7 85.0h.4M181.2 87.4h.4M178.6 78.0h.4M186.0 84.9h.4M175.9 84.8h.4M171.5 88.1h.4M184.6 82.2h.4M176.8 80.4h.4M180.8 84.3h.4M177.7 84.4h.4M181.2 82.1h.4M182.6 82.9h.4M186.5 87.9h.4M184.0 85.2h.4M171.1 87.1h.4M179.4 79.3h.4M184.9 83.5h.4M182.9 79.2h.4M181.2 87.6h.4M182.6 88.6h.4M181.2 94.7h.4M180.7 86.1h.4M184.1 83.2h.4M179.0 91.4h.4M180.7 90.2h.4M177.1 79.9h.4M178.8 82.7h.4M185.8 78.8h.4M184.9 79.7h.4M181.1 77.8h.4M183.3 80.3h.4M186.4 87.9h.4M185.3 87.3h.4M181.5 89.0h.4M185.7 79.9h.4M181.0 85.5h.4M181.1 85.1h.4M184.0 81.2h.4M185.1 88.5h.4M175.1 89.1h.4M178.9 84.6h.4M178.9 87.8h.4M180.6 84.3h.4M182.4 89.4h.4M183.3 89.1h.4M182.9 79.6h.4M183.3 82.0h.4M171.5 88.3h.4M185.9 85.6h.4M177.6 91.7h.4M183.1 83.7h.4M180.2 81.5h.4M179.8 87.2h.4M182.5 83.2h.4M181.5 78.3h.4M185.3 81.5h.4M186.2 87.0h.4M184.0 84.7h.4M184.7 84.5h.4M182.8 85.5h.4M185.1 86.2h.4M182.7 87.0h.4M182.3 83.3h.4M179.3 88.5h.4M185.5 85.3h.4M180.1 81.8h.4M172.9 87.7h.4M181.7 89.9h.4M182.6 80.3h.4M172.5 86.8h.4M173.7 91.1h.4M184.7 86.3h.4M185.4 77.6h.4M177.7 84.9h.4M185.6 88.9h.4M175.6 88.6h.4M181.5 84.5h.4M184.6 84.6h.4M183.6 82.9h.4M177.5 81.0h.4M186.7 81.5h.4M186.4 86.4h.4M179.0 83.6h.4M180.8 79.8h.4M182.2 77.4h.4M182.1 81.8h.4M184.4 89.6h.4M180.7 77.7h.4M177.6 85.2h.4M183.1 72.3h.4M175.5 89.7h.4M185.9 91.0h.4M181.7 87.6h.4M184.7 88.0h.4M182.1 87.0h.4M185.1 84.7h.4M176.2 87.6h.4M174.8 78.6h.4M177.7 83.8h.4M184.7 81.2h.4M184.6 87.8h.4M184.3 89.2h.4M183.1 90.2h.4M182.4 88.7h.4M182.9 85.6h.4M184.7 89.3h.4M170.5 89.5h.4M178.8 86.4h.4M178.6 86.5h.4M182.4 84.5h.4M183.5 81.1h.4M177.9 88.8h.4M185.9 86.2h.4M175.2 87.8h.4M186.1 86.5h.4M167.0 91.0h.4M181.2 79.5h.4M177.0 85.4h.4M178.8 89.2h.4M181.0 90.0h.4M182.2 84.7h.4M179.6 88.7h.4M175.0 85.4h.4M182.5 83.0h.4M186.3 83.8h.4M176.8 85.5h.4M185.3 90.8h.4M185.1 82.0h.4M177.5 82.4h.4M186.0 82.7h.4M181.2 79.3h.4M184.0 84.6h.4M186.2 77.8h.4M180.6 90.3h.4M185.3 87.3h.4M174.8 78.8h.4M179.5 85.2h.4M178.1 81.9h.4M180.8 86.0h.4M183.5 86.8h.4M174.5 84.9h.4M182.7 76.6h.4M186.6 92.5h.4M182.5 88.5h.4M177.3 84.9h.4M177.2 78.8h.4M185.4 83.7h.4M181.6 76.4h.4M177.6 87.8h.4M175.9 85.6h.4M180.6 84.0h.4M186.2 86.7h.4M185.6 92.7h.4M185.5 83.5h.4M169.7 85.7h.4M181.3 83.5h.4M183.2 75.2h.4M176.8 90.9h.4M170.8 87.4h.4M167.2 88.0h.4M174.5 84.9h.4M176.0 92.7h.4M161.9 86.6h.4M182.0 84.1h.4M184.4 88.7h.4M178.2 85.1h.4M183.3 81.0h.4M179.6 85.3h.4M179.7 92.2h.4M185.7 79.3h.4M177.4 83.7h.4M179.3 84.0h.4M180.2 83.6h.4M175.5 86.8h.4M177.0 87.4h.4M183.7 79.5h.4M182.7 87.8h.4M182.0 90.2h.4M179.9 80.9h.4M180.6 78.3h.4M176.2 83.9h.4M184.3 82.8h.4M155.6 83.2h.4M186.0 82.6h.4M180.9 79.9h.4M182.5 88.2h.4M161.5 88.8h.4M182.6 80.5h.4M179.3 85.7h.4M182.5 86.8h.4M174.7 86.5h.4M186.7 80.9h.4M177.1 80.1h.4M183.5 92.4h.4M185.0 78.5h.4M180.6 81.8h.4M178.0 83.9h.4M176.6 86.1h.4M182.3 80.1h.4M181.7 82.6h.4M186.2 90.1h.4M185.5 90.1h.4M180.8 84.6h.4M168.4 81.6h.4M171.8 81.5h.4M180.7 87.0h.4M166.6 80.3h.4M182.6 87.7h.4M181.9 81.7h.4M186.1 79.1h.4M181.8 79.6h.4M168.6 90.5h.4M186.4 81.2h.4M172.8 83.7h.4M174.6 83.8h.4M183.0 78.2h.4M181.0 84.6h.4M178.8 85.4h.4M180.8 87.9h.4M174.9 81.5h.4M184.7 81.3h.4M185.3 84.4h.4M184.2 86.0h.4M185.3 88.0h.4M180.1 77.5h.4M184.6 81.0h.4M184.7 86.6h.4M174.9 85.1h.4M173.7 91.9h.4M186.4 88.3h.4M178.0 78.1h.4M186.3 91.1h.4M183.3 83.9h.4M181.9 84.3h.4M182.5 85.0h.4M184.6 80.3h.4M183.1 91.1h.4M178.3 81.1h.4M173.1 80.5h.4M172.2 86.0h.4M184.7 86.3h.4M176.3 89.7h.4M183.1 79.7h.4M178.9 85.5h.4M182.7 84.4h.4M179.9 80.0h.4M165.9 80.8h.4M179.7 91.2h.4M181.6 79.9h.4M185.6 85.1h.4M180.9 78.6h.4M183.9 84.1h.4M179.6 87.9h.4M180.7 76.5h.4M184.7 83.7h.4M185.1 92.0h.4M181.5 84.7h.4M182.3 86.3h.4M175.2 79.1h.4M183.3 83.8h.4M170.4 81.1h.4M179.9 88.0h.4M184.2 82.7h.4M186.2 82.0h.4M182.0 84.2h.4M182.7 77.9h.4M183.0 83.2h.4M183.1 81.7h.4M182.8 84.0h.4M182.7 84.5h.4M177.1 84.6h.4M182.6 86.3h.4M181.3 85.5h.4M184.1 79.6h.4M168.6 73.6h.4M178.7 87.8h.4M180.4 87.2h.4M184.4 87.3h.4M184.3 83.8h.4M175.6 89.3h.4M184.2 80.7h.4M183.7 79.9h.4M182.0 95.8h.4M177.6 82.1h.4M175.6 86.5h.4M184.8 86.2h.4M184.1 87.7h.4M177.5 84.5h.4M183.8 87.3h.4M185.5 89.2h.4M185.4 80.9h.4M182.7 75.2h.4M184.4 87.2h.4M185.9 76.4h.4M182.6 86.7h.4M179.1 85.3h.4M183.1 89.7h.4M177.5 86.1h.4M186.7 90.3h.4M185.3 84.0h.4M172.5 78.0h.4M168.2 88.6h.4M180.5 87.8h.4M176.9 85.5h.4M180.9 87.9h.4M181.2 85.3h.4M186.2 79.9h.4M179.9 81.5h.4M178.1 86.2h.4M185.3 93.4h.4M171.5 87.5h.4M178.4 73.0h.4M185.8 83.2h.4M175.3 77.8h.4M179.1 81.0h.4M182.1 77.7h.4M165.7 85.7h.4M183.5 85.1h.4M179.1 84.6h.4M178.1 86.0h.4M181.7 83.9h.4M185.0 85.8h.4M184.4 91.4h.4M180.9 84.9h.4M170.8 81.5h.4M182.2 89.3h.4M179.4 81.1h.4M184.2 92.4h.4M184.0 86.1h.4M177.9 88.8h.4M185.3 83.5h.4M184.5 91.3h.4M180.4 83.9h.4M167.8 81.8h.4M184.0 84.2h.4M173.5 84.1h.4M183.3 85.3h.4M182.1 87.3h.4M173.3 88.4h.4M173.1 86.7h.4M176.3 85.9h.4M184.2 83.8h.4M186.2 79.5h.4M183.7 84.0h.4M183.1 88.8h.4M179.1 86.1h.4M177.3 88.5h.4M176.9 86.7h.4M183.4 89.9h.4M178.5 79.7h.4M183.6 79.7h.4M185.4 74.9h.4M175.9 79.4h.4M186.8 84.3h.4M183.4 79.2h.4M178.8 92.7h.4M183.3 83.9h.4M181.7 82.2h.4M180.7 88.0h.4M184.1 87.5h.4M184.0 90.1h.4M178.1 84.2h.4M177.7 84.3h.4M179.3 87.2h.4M178.6 90.1h.4M165.5 87.9h.4M184.5 86.2h.4M176.5 81.4h.4M184.8 79.7h.4M178.1 88.6h.4M174.3 83.2h.4M181.1 85.7h.4M185.2 79.8h.4M183.7 90.3h.4M183.7 89.5h.4M181.4 85.6h.4M176.1 88.6h.4M176.5 80.6h.4M179.7 80.3h.4M182.4 78.2h.4M183.1 89.9h.4M177.3 85.5h.4M181.1 86.0h.4M182.3 87.1h.4M184.3 84.7h.4M177.7 81.2h.4M180.1 72.9h.4M186.7 84.4h.4M174.4 86.9h.4M174.5 84.1h.4M181.8 79.4h.4M182.7 82.2h.4M179.0 88.4h.4M176.9 85.5h.4M183.3 79.5h.4M179.6 85.1h.4M185.5 92.2h.4M178.0 81.4h.4M179.8 78.9h.4M182.8 84.8h.4M181.1 83.7h.4M183.5 89.7h.4M182.7 81.5h.4M180.5 79.3h.4M182.9 85.5h.4M185.9 80.3h.4M183.7 86.6h.4M185.9 78.3h.4M180.3 81.9h.4M185.9 81.3h.4M170.8 85.2h.4M184.0 91.8h.4M183.7 90.2h.4M178.7 78.6h.4M170.8 91.8h.4M180.1 76.3h.4M179.2 89.9h.4M183.4 81.0h.4M176.8 83.9h.4M182.0 85.4h.4M183.6 84.8h.4M185.0 75.5h.4M182.6 92.1h.4M180.9 87.8h.4M186.0 86.6h.4M184.2 77.7h.4M185.3 83.5h.4M164.9 79.7h.4M179.1 86.7h.4M183.0 82.8h.4M175.0 92.6h.4M185.4 82.9h.4M183.6 85.5h.4M184.9 86.3h.4M181.2 81.8h.4M179.0 85.1h.4M184.8 81.0h.4M186.4 82.8h.4M185.5 78.1h.4M185.7 83.3h.4M171.8 81.6h.4M180.9 87.9h.4M175.7 81.9h.4M181.8 80.8h.4M163.6 84.9h.4M184.8 77.3h.4M172.0 83.9h.4M177.3 76.5h.4M185.2 82.0h.4M181.3 85.5h.4M182.3 81.9h.4M184.0 82.2h.4M177.0 87.2h.4M172.1 82.1h.4M185.6 87.9h.4M178.3 87.6h.4M183.8 86.1h.4M177.2 79.4h.4M171.8 87.7h.4M180.1 79.7h.4M179.9 79.5h.4M165.6 82.2h.4M179.0 79.5h.4M169.2 88.1h.4M166.7 79.2h.4M175.7 84.1h.4M182.1 86.9h.4M184.9 87.8h.4M167.2 88.4h.4M175.4 84.5h.4M185.1 89.2h.4M184.3 90.8h.4M183.2 86.8h.4M181.8 89.3h.4M183.5 86.5h.4M183.8 84.7h.4M180.4 86.2h.4M184.7 81.0h.4M181.6 86.1h.4M181.5 78.3h.4M177.7 88.0h.4M180.4 84.9h.4M179.2 88.9h.4M184.9 81.0h.4M183.3 82.8h.4M178.2 81.8h.4M182.7 80.0h.4M183.1 82.6h.4M177.1 84.5h.4M182.8 78.2h.4M184.1 84.8h.4M174.9 79.7h.4M176.8 82.7h.4M183.7 82.9h.4M166.0 86.6h.4M169.4 82.3h.4M173.7 89.2h.4M178.9 76.3h.4M173.7 86.5h.4M186.1 86.9h.4M174.2 86.6h.4M183.6 88.7h.4M180.7 74.2h.4M178.1 86.6h.4M183.8 85.8h.4M182.5 84.6h.4M183.5 83.6h.4M186.0 75.7h.4M180.3 86.2h.4M180.1 91.0h.4M181.1 84.6h.4M184.0 82.0h.4M166.8 78.2h.4M183.6 89.3h.4M184.5 82.9h.4M185.0 81.8h.4M181.3 80.0h.4M184.4 80.3h.4M184.3 84.4h.4M179.0 81.8h.4M182.9 86.0h.4M181.5 80.7h.4M172.5 76.3h.4M174.2 83.8h.4M180.7 88.9h.4M182.6 86.3h.4M186.7 82.5h.4M171.3 82.6h.4M176.2 84.3h.4M174.3 77.1h.4M181.6 76.8h.4M183.4 87.0h.4M181.5 79.0h.4M184.5 84.9h.4M183.6 84.8h.4M173.4 89.3h.4M156.8 87.4h.4M179.3 81.9h.4M175.1 73.3h.4M178.5 81.3h.4M177.0 83.3h.4M184.4 82.2h.4M173.8 88.4h.4M181.6 78.9h.4M168.1 83.9h.4M177.1 89.9h.4M185.7 81.2h.4M179.1 83.8h.4M185.1 83.4h.4M182.9 85.6h.4M180.0 89.6h.4M186.0 79.9h.4M169.2 86.0h.4M178.5 87.1h.4M177.3 83.8h.4M185.5 84.8h.4M184.1 88.6h.4M182.8 96.0h.4M180.2 86.9h.4M184.9 84.6h.4M184.5 83.5h.4M177.7 94.3h.4M183.2 88.6h.4M174.3 80.0h.4M178.7 93.8h.4M184.1 82.0h.4M177.4 88.0h.4M180.1 80.3h.4M173.8 84.6h.4M163.0 79.1h.4M184.0 88.6h.4M183.5 84.9h.4M177.1 83.3h.4M181.3 88.9h.4M178.5 82.5h.4M178.2 86.4h.4M181.4 87.0h.4M183.9 83.1h.4M181.7 88.6h.4M182.6 82.7h.4M184.0 82.9h.4M181.5 81.0h.4M184.0 83.5h.4M186.6 87.2h.4M178.6 84.1h.4M175.1 85.4h.4M182.0 85.3h.4M183.5 86.7h.4M172.9 82.9h.4M183.6 87.8h.4M185.0 88.7h.4M185.7 80.1h.4M186.1 89.1h.4M184.5 83.2h.4M182.9 78.5h.4M183.3 84.4h.4M181.8 85.7h.4M183.1 86.7h.4M177.0 86.8h.4M179.5 85.2h.4M176.5 90.3h.4M183.1 79.7h.4M186.2 85.3h.4M182.7 76.5h.4M183.4 89.9h.4M180.9 91.6h.4M183.8 79.3h.4M181.8 78.7h.4M164.3 87.2h.4M183.6 79.7h.4M184.3 84.4h.4M183.1 91.4h.4M177.5 86.6h.4M181.7 91.5h.4M179.1 83.1h.4M179.5 84.1h.4M179.5 89.4h.4M186.0 77.2h.4M179.6 87.6h.4M185.7 83.7h.4M180.1 88.3h.4M180.0 80.4h.4M182.6 85.2h.4M179.2 74.8h.4M178.2 88.0h.4M185.4 88.0h.4M176.6 82.4h.4M176.6 86.7h.4M185.6 83.0h.4M184.6 84.6h.4M183.5 87.8h.4M185.5 80.2h.4M185.4 82.2h.4M178.3 90.1h.4M183.6 83.2h.4M185.2 81.8h.4M181.6 83.9h.4M172.9 78.2h.4M185.4 82.2h.4M172.9 77.7h.4M174.2 83.1h.4M183.6 87.9h.4M175.0 95.4h.4M176.5 89.8h.4M185.4 78.9h.4M177.2 85.5h.4M154.8 83.0h.4M179.5 87.0h.4M186.4 85.1h.4M182.3 82.7h.4M175.9 85.6h.4M180.1 83.2h.4M171.0 86.3h.4M181.6 85.5h.4M179.9 85.1h.4M184.5 75.9h.4M179.5 87.1h.4M178.8 81.9h.4M180.6 80.0h.4M178.5 92.2h.4M182.5 89.6h.4M185.4 82.2h.4M179.9 84.9h.4M184.5 85.2h.4M184.6 79.8h.4M181.4 82.0h.4M179.3 83.5h.4M186.7 89.2h.4M182.2 81.6h.4M182.5 83.0h.4M180.5 89.4h.4M182.8 78.6h.4M180.5 92.3h.4M174.4 91.7h.4M184.4 79.0h.4M181.1 89.1h.4M185.2 79.7h.4M169.4 83.6h.4M181.2 87.9h.4M183.9 80.8h.4M184.9 84.3h.4M185.0 84.1h.4M180.5 79.2h.4M180.9 81.0h.4M184.9 82.8h.4M181.6 82.0h.4M176.1 88.3h.4M182.0 93.9h.4M181.3 84.7h.4M164.4 83.4h.4M171.6 77.9h.4M181.7 84.9h.4M182.6 82.6h.4M182.4 78.2h.4M173.6 76.0h.4M178.9 88.0h.4M186.7 81.8h.4M185.5 95.0h.4M176.8 87.2h.4M185.2 86.8h.4M184.9 76.1h.4M183.2 78.1h.4M186.1 85.4h.4M183.6 83.6h.4M176.5 92.0h.4M175.1 77.1h.4M175.9 83.0h.4M178.3 84.1h.4M185.7 83.3h.4M182.9 88.4h.4M182.8 90.4h.4M181.4 89.1h.4M180.8 80.5h.4M184.4 74.1h.4M177.5 87.2h.4M177.5 80.0h.4M182.6 87.2h.4M175.9 82.9h.4M182.6 84.3h.4M182.0 88.9h.4M181.5 88.9h.4M177.7 80.9h.4M181.6 78.0h.4M184.6 88.7h.4M178.7 80.3h.4M184.1 84.9h.4M185.1 78.4h.4M185.9 83.6h.4M168.9 81.9h.4M178.7 86.4h.4M180.3 89.4h.4M179.3 85.4h.4M180.3 83.9h.4M179.4 84.6h.4M180.2 79.4h.4M174.2 81.6h.4M178.5 90.0h.4M179.9 81.9h.4M182.1 79.3h.4M175.6 83.1h.4M162.5 82.2h.4M177.0 82.6h.4M176.0 86.2h.4M180.9 82.0h.4M178.2 83.9h.4M183.2 80.8h.4M182.5 88.1h.4M183.5 85.3h.4M183.8 92.6h.4M185.5 85.6h.4M174.5 79.5h.4M178.1 78.3h.4M174.0 82.0h.4M181.1 84.9h.4M174.6 84.0h.4M182.5 82.8h.4M172.5 85.7h.4M183.6 86.0h.4M174.0 87.8h.4M184.7 91.3h.4M185.6 78.9h.4M178.6 81.4h.4M179.2 85.9h.4M181.7 82.3h.4M186.0 78.5h.4M179.7 88.7h.4M182.3 80.8h.4M180.5 78.4h.4M177.5 86.1h.4M176.7 90.6h.4M180.7 84.0h.4M178.2 74.1h.4M186.4 85.5h.4M185.4 89.4h.4M184.0 93.8h.4M178.5 92.9h.4M166.1 90.1h.4M184.8 82.9h.4M183.2 84.5h.4M175.6 85.8h.4M177.6 83.9h.4M182.8 85.1h.4M183.6 86.5h.4M181.6 83.6h.4M171.3 82.2h.4M181.1 84.6h.4M172.5 84.8h.4M175.6 81.0h.4M176.6 80.8h.4M176.8 84.6h.4M181.2 79.7h.4M177.2 89.3h.4M171.3 86.2h.4M185.0 91.0h.4M175.1 81.5h.4M174.8 83.6h.4M181.3 78.4h.4M176.6 81.5h.4M182.9 85.9h.4M184.4 86.6h.4M180.2 78.3h.4M183.9 80.2h.4M180.2 83.8h.4M178.9 82.8h.4M174.4 86.2h.4M185.0 81.4h.4M183.2 83.7h.4M182.8 78.4h.4M157.0 89.9h.4M178.1 85.6h.4M181.0 86.3h.4M184.6 87.0h.4M178.3 85.5h.4M181.1 87.5h.4M153.4 89.3h.4M177.6 86.7h.4M180.3 89.1h.4M182.1 90.9h.4M172.4 83.3h.4M178.5 90.5h.4M185.6 78.8h.4M185.7 85.3h.4M178.3 86.2h.4M181.5 88.7h.4M176.3 85.0h.4M183.0 84.8h.4M180.5 83.3h.4M186.1 86.2h.4M185.2 87.9h.4M164.0 83.1h.4M182.3 91.2h.4M184.4 84.1h.4M175.3 88.1h.4M185.4 85.3h.4M185.4 81.9h.4M174.3 80.0h.4M185.0 83.2h.4M184.7 79.6h.4M163.0 84.0h.4M178.1 85.0h.4M179.4 85.7h.4M184.8 82.7h.4M186.1 79.5h.4M182.1 84.3h.4M176.0 86.1h.4M182.9 87.0h.4M182.4 85.8h.4M182.7 79.6h.4M185.4 82.2h.4M185.6 85.5h.4M172.7 84.6h.4M176.5 82.5h.4M172.8 82.7h.4M181.1 83.0h.4M180.3 88.2h.4M178.7 80.1h.4M181.9 92.4h.4M183.1 85.0h.4M182.5 89.0h.4M182.4 86.1h.4M176.3 91.5h.4M181.2 85.2h.4M185.0 72.4h.4M174.9 81.8h.4M176.9 91.1h.4M180.7 80.7h.4M176.3 80.1h.4M183.8 75.7h.4M184.3 86.7h.4M177.9 92.7h.4M183.9 81.8h.4M165.3 79.0h.4M172.5 88.2h.4M171.8 85.1h.4M185.1 80.7h.4M180.0 79.9h.4M168.0 86.9h.4M186.5 83.2h.4M169.5 80.3h.4M172.8 79.7h.4M180.7 81.9h.4M179.7 75.6h.4M181.9 88.4h.4M175.4 84.0h.4M179.4 86.8h.4M178.2 85.1h.4M184.3 83.1h.4M176.3 88.1h.4M181.6 78.6h.4M184.9 77.3h.4M185.2 82.4h.4M184.3 81.3h.4M180.7 94.5h.4M183.0 82.7h.4M179.2 84.2h.4M186.1 84.0h.4M186.2 88.6h.4M183.2 83.8h.4M177.4 87.4h.4M164.9 84.8h.4M177.6 86.9h.4M183.1 85.0h.4M183.8 83.2h.4M182.5 85.5h.4M182.3 88.6h.4M183.5 86.1h.4M177.5 81.3h.4M175.2 87.4h.4M184.0 81.2h.4M184.4 82.2h.4M182.9 84.8h.4M175.1 86.0h.4M169.0 87.0h.4M177.8 86.8h.4M175.2 81.0h.4M183.5 87.5h.4M184.5 84.0h.4M176.7 79.9h.4M173.6 87.5h.4M183.0 85.6h.4M181.8 86.5h.4M181.8 82.8h.4M185.4 89.3h.4M182.2 87.6h.4M179.9 94.3h.4M178.3 92.3h.4M185.7 84.3h.4M178.1 84.6h.4M178.5 87.6h.4M186.5 83.0h.4M182.2 82.2h.4M184.5 83.5h.4M185.2 81.4h.4M168.3 84.4h.4M185.2 95.7h.4M181.4 91.3h.4M182.6 83.8h.4M182.2 89.9h.4M174.3 86.6h.4M182.3 86.7h.4M181.6 83.5h.4M186.3 87.5h.4M184.0 86.7h.4M182.9 82.6h.4M178.8 88.5h.4M179.0 82.2h.4M180.9 78.7h.4M182.2 80.6h.4M185.8 87.4h.4M182.3 81.1h.4M164.8 81.9h.4M184.2 83.4h.4M183.5 73.9h.4M185.4 86.4h.4M163.8 84.6h.4M185.6 86.5h.4M185.9 86.3h.4M175.2 80.7h.4M181.0 84.1h.4M181.5 83.7h.4M170.8 84.5h.4M186.0 77.7h.4M176.0 87.7h.4M183.3 82.1h.4M180.8 87.5h.4M176.9 73.3h.4M174.2 79.1h.4M170.1 83.1h.4M174.5 85.3h.4M182.5 86.5h.4M174.1 88.2h.4M184.4 81.1h.4M179.8 85.3h.4M181.8 82.9h.4M183.9 79.5h.4M175.2 77.6h.4M177.8 80.1h.4M181.7 84.4h.4M185.1 83.6h.4M183.6 89.8h.4M180.2 83.0h.4M179.9 85.1h.4M180.1 79.3h.4M181.9 82.3h.4M174.5 90.6h.4M170.5 86.0h.4M184.7 85.4h.4M180.0 85.7h.4M182.6 76.4h.4M177.5 88.4h.4M183.2 87.4h.4M181.7 84.2h.4M181.7 85.6h.4M176.4 85.5h.4M182.6 83.5h.4M182.5 88.2h.4M173.5 81.5h.4M180.8 83.7h.4M182.7 85.3h.4M182.2 85.6h.4M181.3 84.7h.4M165.4 80.8h.4M183.8 82.7h.4M184.3 86.6h.4M170.9 83.7h.4M185.3 86.4h.4M183.6 81.5h.4M181.3 84.2h.4M183.6 85.0h.4M175.8 84.1h.4M184.6 88.5h.4M185.3 82.9h.4M185.6 85.3h.4M177.8 83.7h.4M181.0 84.5h.4M185.7 81.3h.4M162.8 85.8h.4M178.5 79.5h.4M186.6 83.4h.4M179.1 86.5h.4M183.3 84.0h.4M178.5 86.3h.4M183.8 83.8h.4M180.9 82.5h.4M181.4 85.4h.4M180.3 84.3h.4M182.8 82.0h.4M177.5 79.5h.4M186.0 80.8h.4M176.8 83.2h.4M183.8 86.8h.4M183.6 77.9h.4M184.1 84.4h.4M186.6 89.8h.4M183.4 79.8h.4M179.9 81.9h.4M182.1 82.5h.4M181.9 82.3h.4M183.7 84.3h.4M180.1 81.4h.4M185.2 86.2h.4M181.7 77.2h.4M182.7 87.9h.4M182.5 85.6h.4M173.1 90.7h.4M170.1 80.6h.4M180.0 83.8h.4M180.3 89.7h.4M184.6 94.9h.4M177.4 92.2h.4M185.4 82.6h.4M172.5 85.2h.4M177.0 82.0h.4M179.8 78.2h.4M185.4 80.8h.4M180.3 85.7h.4M183.2 79.5h.4M184.5 83.1h.4M178.1 84.1h.4M181.3 82.5h.4M178.8 86.8h.4M185.7 74.5h.4M182.4 84.3h.4M176.8 86.2h.4M182.1 87.2h.4M182.0 83.7h.4M172.8 83.3h.4M179.5 84.1h.4M181.9 81.5h.4M184.6 84.2h.4M171.0 85.5h.4M186.1 82.1h.4M172.9 90.2h.4M175.1 84.4h.4M182.6 88.1h.4M182.7 77.4h.4M185.3 83.6h.4M183.6 91.0h.4M175.8 83.6h.4M186.3 84.2h.4M185.9 90.0h.4M182.4 83.5h.4M183.5 83.0h.4M184.7 85.3h.4M181.7 81.4h.4M184.6 83.1h.4M178.5 82.4h.4M180.0 80.5h.4M186.2 88.5h.4M184.1 83.5h.4M177.9 86.0h.4M182.6 86.2h.4M182.2 88.5h.4M184.3 88.5h.4M186.7 83.5h.4M181.2 83.0h.4M183.7 86.0h.4M185.4 80.8h.4M162.3 87.7h.4M186.2 87.2h.4M184.9 79.0h.4M185.9 95.7h.4M183.4 84.9h.4M186.6 89.3h.4M184.1 78.4h.4M185.6 86.0h.4M176.9 87.0h.4M183.8 91.0h.4M184.4 82.5h.4M171.8 90.6h.4M178.5 81.7h.4M172.5 83.7h.4M178.7 90.0h.4M185.4 82.7h.4M171.3 78.4h.4M171.4 82.3h.4M185.2 83.9h.4M184.9 87.5h.4M177.3 89.0h.4M185.5 85.5h.4M181.4 92.2h.4M185.3 79.0h.4M182.5 82.2h.4M180.8 86.5h.4M181.2 83.8h.4M184.5 79.5h.4M184.1 85.8h.4M184.5 86.5h.4M176.8 83.5h.4M177.9 83.4h.4M179.2 83.2h.4M181.2 78.7h.4M183.9 86.6h.4M185.3 82.4h.4M183.3 86.6h.4M185.2 88.3h.4M178.1 82.4h.4M181.8 84.4h.4M181.6 89.8h.4M180.9 85.5h.4M174.8 83.0h.4M163.2 79.1h.4M184.4 77.8h.4M182.5 87.2h.4M180.9 79.7h.4M183.8 84.6h.4M184.6 89.1h.4M174.6 88.2h.4M181.0 81.3h.4M185.7 90.4h.4M184.3 75.0h.4M183.5 84.3h.4M176.2 85.3h.4M183.0 85.2h.4M182.7 86.2h.4M182.0 85.4h.4M173.3 84.1h.4M170.2 83.5h.4M181.6 82.1h.4M176.3 82.3h.4M169.5 89.4h.4M177.1 88.9h.4M185.8 81.0h.4M186.0 83.9h.4M178.2 76.1h.4M183.9 82.4h.4M180.1 83.4h.4M181.3 82.3h.4M180.1 87.2h.4M183.7 85.6h.4M185.3 82.9h.4M172.7 80.8h.4M170.1 83.4h.4M183.9 92.7h.4M183.3 78.2h.4M178.2 83.1h.4M184.1 88.4h.4M183.3 83.6h.4M182.2 81.6h.4M180.8 81.8h.4M180.5 86.9h.4M185.7 89.6h.4M174.3 73.9h.4M185.9 85.8h.4M182.6 83.2h.4M176.8 89.4h.4M184.0 87.2h.4M183.0 88.0h.4M179.7 86.3h.4M184.0 84.1h.4M176.9 80.5h.4M185.0 83.3h.4M164.3 85.5h.4M183.0 91.2h.4M184.9 85.2h.4M183.1 80.1h.4M173.3 85.5h.4M182.9 87.8h.4M175.1 90.1h.4M181.7 89.0h.4M177.0 83.4h.4M177.0 83.5h.4M178.1 75.8h.4M178.5 82.6h.4M177.1 77.3h.4M176.0 83.7h.4M175.7 89.2h.4M163.6 85.8h.4M182.0 78.2h.4M179.9 87.3h.4M182.2 86.3h.4M174.9 78.4h.4M169.8 81.2h.4M178.1 87.4h.4M177.9 85.0h.4M186.3 86.0h.4M182.9 77.8h.4M180.8 84.5h.4M184.4 87.4h.4M182.3 81.6h.4M185.5 83.7h.4M184.7 82.9h.4M169.2 83.8h.4M176.1 85.1h.4M176.4 79.1h.4M184.2 85.1h.4M183.4 82.9h.4M179.9 91.9h.4M183.2 83.8h.4M179.3 84.8h.4M173.1 81.9h.4M185.4 83.7h.4M184.4 80.2h.4M181.3 82.7h.4M184.5 81.9h.4M183.0 77.3h.4M183.8 79.2h.4M171.8 82.7h.4M181.0 86.2h.4M178.9 80.9h.4M178.7 81.7h.4M183.5 81.4h.4M183.4 79.1h.4M179.1 83.3h.4M176.5 89.3h.4M184.4 82.9h.4M176.9 81.1h.4M171.6 85.3h.4M182.0 88.7h.4M183.8 88.7h.4M179.2 85.3h.4M178.7 88.7h.4M172.5 79.5h.4M177.1 81.1h.4M184.3 82.7h.4M182.6 87.9h.4M184.0 76.3h.4M173.3 84.5h.4M180.7 82.6h.4M177.6 89.7h.4M178.4 81.4h.4M179.5 87.2h.4M174.1 85.1h.4M176.3 86.6h.4M180.2 88.4h.4M183.8 86.7h.4M185.1 84.9h.4M184.7 84.0h.4M181.3 81.1h.4M185.6 81.0h.4M176.6 86.4h.4M181.1 79.3h.4M178.2 82.8h.4M166.9 76.0h.4M181.4 84.9h.4M176.0 86.6h.4M179.2 83.6h.4M182.2 80.9h.4M180.8 83.6h.4M181.3 85.8h.4M181.7 78.2h.4M183.8 86.6h.4M181.5 80.6h.4M183.5 88.7h.4M183.5 85.0h.4M178.1 84.2h.4M180.8 83.6h.4M180.0 80.4h.4M185.7 85.1h.4M183.2 80.6h.4M181.5 86.1h.4M179.4 82.9h.4M183.9 81.1h.4M181.0 81.3h.4M169.0 86.3h.4M183.6 91.4h.4M176.0 77.8h.4M182.0 88.2h.4M177.4 86.0h.4M184.6 76.3h.4M176.6 83.2h.4M185.3 79.0h.4M184.0 80.7h.4M186.2 83.0h.4M181.3 88.0h.4M184.9 79.7h.4M173.7 91.2h.4M155.4 84.6h.4M185.4 86.6h.4M184.2 85.7h.4M175.5 79.0h.4M184.8 81.3h.4M184.0 84.2h.4M177.0 86.9h.4M184.0 77.5h.4M180.5 82.4h.4M185.8 88.6h.4M172.1 83.0h.4M175.3 91.5h.4M180.3 75.2h.4M178.3 77.9h.4M182.3 78.0h.4M185.0 91.2h.4M185.3 82.8h.4M176.9 89.7h.4M171.0 87.5h.4M185.7 81.0h.4M176.4 78.9h.4M176.3 84.8h.4M176.9 93.5h.4M180.5 82.7h.4M171.9 90.6h.4M182.4 78.7h.4M184.9 89.3h.4M181.4 80.8h.4M183.8 81.3h.4M174.0 84.6h.4M175.4 86.6h.4M181.1 82.0h.4M185.1 87.4h.4M175.1 85.2h.4M179.7 78.8h.4M185.9 84.2h.4M184.3 85.1h.4M185.8 85.0h.4M167.1 80.5h.4M178.6 90.6h.4M179.6 85.8h.4M177.4 87.1h.4M177.5 86.1h.4M184.7 83.3h.4M182.1 79.5h.4M182.8 89.0h.4M172.6 82.6h.4M182.9 86.6h.4M186.2 87.5h.4M183.4 84.6h.4M181.6 83.2h.4M184.0 83.8h.4M169.8 80.3h.4M179.5 88.7h.4M182.6 83.7h.4M177.8 87.1h.4M173.7 92.5h.4M183.5 82.0h.4M174.1 89.4h.4M181.7 84.3h.4M182.2 87.5h.4M184.6 78.9h.4M175.4 88.2h.4M183.8 77.0h.4M181.5 81.4h.4M180.5 84.4h.4M183.0 91.0h.4M168.6 87.9h.4M183.5 78.3h.4M185.4 90.1h.4M185.3 90.6h.4M185.4 78.4h.4M174.6 75.2h.4M175.0 83.5h.4M168.2 82.9h.4M186.3 84.2h.4M176.5 83.2h.4M179.7 82.7h.4M183.8 79.6h.4M179.7 82.6h.4M184.4 83.8h.4M184.3 77.4h.4M183.5 87.9h.4M179.4 91.1h.4M186.5 89.0h.4M185.1 81.9h.4M185.8 84.5h.4M173.8 82.4h.4M166.9 82.4h.4M181.7 87.9h.4M180.4 76.9h.4M182.3 84.1h.4M181.1 94.0h.4M185.7 84.7h.4M184.8 90.6h.4M182.0 89.1h.4M182.6 83.5h.4M168.6 83.1h.4M179.1 90.3h.4M172.0 89.0h.4M179.6 87.7h.4M184.7 80.6h.4M177.5 84.0h.4M186.0 84.0h.4M185.6 83.5h.4M182.0 85.0h.4M183.1 83.0h.4M185.2 87.4h.4M182.3 75.9h.4M162.7 78.4h.4M181.3 86.4h.4M182.5 83.7h.4M178.8 80.6h.4M175.5 82.6h.4M180.6 79.2h.4M186.3 88.0h.4M178.0 85.3h.4M181.8 86.5h.4M184.9 91.5h.4M173.8 81.9h.4M177.4 87.5h.4M181.8 83.6h.4M182.8 86.0h.4M182.7 87.3h.4M178.3 84.3h.4M179.0 92.3h.4M185.8 85.5h.4M185.1 78.4h.4M179.0 84.2h.4M184.8 79.8h.4M180.5 80.9h.4M180.8 77.6h.4M180.8 86.3h.4M179.0 75.7h.4M184.0 82.1h.4M185.8 87.7h.4M176.4 82.9h.4M183.3 79.4h.4M183.1 84.7h.4M185.6 81.4h.4M178.0 80.2h.4M180.4 86.6h.4M178.0 86.9h.4M175.9 89.2h.4M182.6 87.7h.4M185.3 84.2h.4M177.1 87.5h.4M178.4 83.4h.4M186.0 84.1h.4M183.9 88.9h.4M182.8 82.1h.4M184.4 78.4h.4M186.3 83.0h.4M181.5 91.5h.4M181.2 85.1h.4M178.5 84.7h.4M182.8 86.7h.4M181.0 78.6h.4M169.3 80.7h.4M180.9 86.2h.4M185.8 82.2h.4M180.2 78.9h.4M184.6 79.0h.4M170.7 85.5h.4M184.7 80.7h.4M184.1 83.6h.4M179.2 79.7h.4M179.8 82.3h.4M185.5 77.7h.4M174.5 82.5h.4M176.0 87.7h.4M183.8 83.4h.4M177.4 84.3h.4M180.5 79.9h.4M170.4 85.8h.4M172.8 81.2h.4M177.2 82.9h.4M181.1 81.7h.4M170.5 87.4h.4M179.0 89.6h.4M179.9 82.0h.4M164.1 88.0h.4M173.1 84.8h.4M178.9 89.8h.4M182.8 81.7h.4M177.9 80.7h.4M186.5 86.5h.4M179.0 77.0h.4M181.5 88.1h.4M171.2 88.3h.4M177.7 84.7h.4M182.6 82.6h.4M177.4 79.2h.4M177.7 82.9h.4M173.9 87.1h.4M176.2 87.1h.4M184.0 88.0h.4M170.0 82.2h.4M181.7 89.6h.4M181.2 83.0h.4M182.3 87.5h.4M182.9 83.8h.4M182.7 85.2h.4M179.9 85.8h.4M176.9 85.5h.4M182.3 84.8h.4M183.7 83.9h.4M175.6 84.2h.4M183.5 83.0h.4M185.3 82.8h.4M175.8 91.7h.4M172.1 78.8h.4M179.2 85.9h.4M185.6 81.3h.4M181.9 83.5h.4M180.8 88.0h.4M177.9 81.5h.4M183.2 85.0h.4M183.9 84.3h.4M186.0 90.3h.4M183.5 87.6h.4M179.3 88.1h.4M183.8 82.6h.4M162.1 88.0h.4M181.9 93.5h.4M183.8 81.3h.4M185.0 84.2h.4M179.7 86.1h.4M181.2 87.5h.4M175.5 86.8h.4M185.3 84.8h.4M175.8 80.4h.4M180.7 82.8h.4M174.6 84.4h.4M184.7 80.6h.4M184.8 88.5h.4M179.7 82.4h.4M185.4 89.1h.4M182.9 78.8h.4M174.9 85.0h.4M186.1 80.1h.4M179.6 79.6h.4M183.7 85.4h.4M184.5 89.0h.4M179.1 81.8h.4M179.8 87.6h.4M184.3 83.5h.4M182.4 84.2h.4M184.0 83.7h.4M185.5 85.5h.4M180.3 87.0h.4M172.6 83.5h.4M181.3 85.1h.4M179.5 85.2h.4M183.5 87.6h.4M181.2 86.5h.4M181.6 82.5h.4M170.6 87.4h.4M167.5 85.5h.4M181.1 85.2h.4M173.8 80.4h.4M168.9 82.7h.4M173.5 83.9h.4M182.6 83.7h.4M183.0 80.2h.4M183.6 89.6h.4M182.7 81.0h.4M172.7 87.6h.4M171.5 83.9h.4M178.1 78.4h.4M179.5 90.4h.4M183.7 88.0h.4M171.4 82.9h.4M161.7 89.3h.4M177.2 86.0h.4M181.5 82.1h.4M182.3 85.5h.4M183.4 88.4h.4M186.0 87.5h.4M175.7 83.8h.4M183.1 82.4h.4M181.5 79.5h.4M178.7 85.9h.4M181.7 90.7h.4M186.6 83.4h.4M186.3 80.0h.4M186.5 83.3h.4M184.1 85.2h.4M184.4 89.4h.4M175.2 84.0h.4M186.2 86.0h.4M185.7 84.4h.4M171.7 81.3h.4M186.2 83.2h.4M175.3 82.8h.4M177.2 81.4h.4M184.2 83.2h.4M181.6 84.1h.4M185.5 78.5h.4M184.5 91.9h.4M185.7 89.9h.4M175.2 85.0h.4M185.9 81.1h.4M180.5 80.9h.4M183.1 82.0h.4M185.1 81.0h.4M185.1 86.3h.4M182.1 73.6h.4M184.8 80.8h.4M180.6 78.5h.4M157.6 83.6h.4M178.2 80.3h.4M183.8 86.0h.4M181.9 78.0h.4M176.3 88.3h.4M180.5 84.8h.4M176.0 92.2h.4M180.4 85.6h.4M183.6 86.9h.4M181.8 85.8h.4M171.8 73.5h.4M183.0 86.2h.4M179.2 80.0h.4M169.9 78.8h.4M170.1 90.9h.4M175.3 87.5h.4M184.9 83.7h.4M184.3 88.9h.4M171.1 80.1h.4M171.8 88.1h.4M181.6 85.2h.4M167.3 82.2h.4M179.8 89.2h.4M179.8 85.4h.4M185.6 78.9h.4M175.8 77.0h.4M183.7 76.9h.4M175.6 79.6h.4M186.5 89.6h.4M169.2 81.9h.4M183.1 85.1h.4M179.5 82.0h.4M179.4 84.1h.4M179.1 85.2h.4M180.8 89.7h.4M184.0 92.5h.4M185.3 80.6h.4M182.2 80.8h.4M180.4 84.2h.4M184.7 90.0h.4M183.2 80.8h.4M178.9 86.9h.4M183.5 83.9h.4M184.0 83.8h.4M180.9 82.0h.4M179.3 89.6h.4M181.4 81.3h.4M170.5 80.7h.4M183.0 75.4h.4M184.4 85.9h.4M174.3 76.2h.4M180.5 74.7h.4M164.7 83.8h.4M183.1 86.4h.4M180.9 92.9h.4M181.2 81.1h.4M173.8 78.8h.4M178.4 86.9h.4M175.2 81.1h.4M184.1 79.9h.4M183.9 80.2h.4M184.3 76.1h.4M177.7 90.5h.4M183.0 86.1h.4M183.4 80.4h.4M171.6 87.1h.4M182.7 85.2h.4M162.9 85.4h.4M172.3 85.7h.4M184.4 82.9h.4M179.3 81.7h.4M166.7 87.8h.4M183.4 94.4h.4M184.2 86.5h.4M181.3 84.6h.4M181.1 89.7h.4M182.2 87.6h.4M184.1 85.1h.4M183.7 93.4h.4M179.6 83.9h.4M181.8 82.6h.4M180.6 80.2h.4M185.0 87.8h.4M180.0 83.1h.4M179.1 86.1h.4M153.1 89.8h.4M173.1 75.4h.4M183.8 78.4h.4M182.8 83.4h.4M179.3 79.4h.4M185.5 79.5h.4M179.0 83.7h.4M184.6 81.3h.4M180.7 90.0h.4M181.2 90.3h.4M179.6 85.0h.4M176.9 83.6h.4M184.8 81.4h.4M186.8 84.8h.4M169.0 80.4h.4M183.3 83.6h.4M181.4 87.2h.4M185.2 82.3h.4M183.0 84.8h.4M182.6 82.5h.4M177.8 83.3h.4M182.7 87.4h.4M182.5 86.5h.4M182.9 85.7h.4M181.8 81.5h.4M171.9 86.9h.4M182.8 75.2h.4M177.5 85.4h.4M184.4 83.7h.4M185.0 84.9h.4M160.9 87.6h.4M167.0 86.0h.4M184.5 83.7h.4M177.3 81.4h.4M181.7 84.0h.4M182.9 85.4h.4M182.6 89.6h.4M184.6 83.3h.4M176.8 77.8h.4M179.2 78.8h.4M185.1 88.1h.4M184.3 80.4h.4M171.2 82.9h.4M179.9 86.7h.4M183.2 80.4h.4M182.9 89.1h.4M180.6 88.2h.4M184.4 89.8h.4M176.2 86.7h.4M183.2 89.4h.4M183.0 85.7h.4M183.2 81.8h.4M177.7 84.9h.4M182.9 90.2h.4M183.7 87.0h.4M183.9 79.6h.4M186.4 85.4h.4M183.0 86.5h.4M184.7 79.6h.4M183.0 76.6h.4M163.4 85.9h.4M179.2 89.1h.4M182.4 84.7h.4M186.4 78.0h.4M183.7 81.9h.4M174.6 80.4h.4M178.0 86.6h.4M184.8 81.6h.4M168.6 88.2h.4M180.8 82.5h.4M173.2 88.6h.4M179.6 87.5h.4M181.8 82.4h.4M183.0 94.8h.4M183.4 84.3h.4M161.1 79.8h.4M181.7 87.0h.4M183.9 76.0h.4M186.4 87.9h.4M183.5 86.0h.4M182.0 88.2h.4M168.7 86.4h.4M186.1 79.7h.4M181.7 79.5h.4M182.4 87.3h.4M183.9 85.0h.4M183.3 85.9h.4M183.1 85.6h.4M178.4 79.4h.4M182.0 80.2h.4M184.2 91.4h.4M182.7 87.1h.4M182.8 79.4h.4M185.4 86.3h.4M178.3 82.0h.4M186.4 75.6h.4M181.9 82.4h.4M185.0 87.6h.4M182.1 86.9h.4M185.5 78.7h.4M183.7 82.5h.4M183.8 84.7h.4M181.2 84.3h.4M178.2 81.6h.4M186.4 80.6h.4M182.7 81.0h.4M179.1 85.0h.4M176.7 87.6h.4M168.6 84.0h.4M181.0 82.5h.4M180.6 83.1h.4M175.8 90.7h.4M186.7 84.2h.4M182.8 85.4h.4M173.7 80.7h.4M179.8 85.1h.4M184.6 77.8h.4M172.9 76.3h.4M176.0 84.4h.4M178.0 85.4h.4M176.9 84.1h.4M176.6 89.6h.4M182.1 88.5h.4M181.1 83.9h.4M185.1 80.8h.4M185.4 81.0h.4M185.9 85.4h.4M181.3 81.6h.4M163.1 76.7h.4M184.9 88.0h.4M182.4 92.3h.4M181.5 84.0h.4M167.4 89.6h.4M178.0 94.1h.4M179.4 84.5h.4M185.2 85.0h.4M184.5 91.4h.4M185.2 84.6h.4M183.0 88.4h.4M183.0 78.9h.4M178.6 84.4h.4M184.4 82.2h.4M173.6 84.8h.4M176.8 82.6h.4M175.6 78.4h.4M181.6 83.8h.4M175.7 75.1h.4M173.9 89.4h.4M175.4 89.0h.4M183.4 84.5h.4M183.3 78.3h.4M185.7 80.6h.4M179.8 92.3h.4M182.3 87.8h.4M177.8 83.6h.4M183.5 84.3h.4M177.2 87.6h.4M182.3 84.8h.4M181.8 88.9h.4M176.3 81.4h.4M177.7 86.2h.4M185.9 85.1h.4M180.3 78.9h.4M174.3 85.1h.4M181.7 82.5h.4M177.8 82.6h.4M172.5 80.4h.4M180.4 87.7h.4M177.8 86.1h.4M180.3 85.7h.4M177.4 84.2h.4M175.7 90.3h.4M182.1 84.3h.4M177.0 82.5h.4M184.9 85.8h.4M183.4 87.9h.4M179.5 87.2h.4M179.9 86.7h.4M181.5 85.8h.4M178.0 87.5h.4M183.5 84.4h.4M181.1 79.7h.4M181.1 77.1h.4M183.0 80.6h.4M174.3 85.6h.4M185.0 86.7h.4M181.8 86.3h.4M173.6 83.5h.4M184.3 84.7h.4M164.3 89.5h.4M185.8 84.2h.4M178.1 84.8h.4M184.0 78.9h.4M183.2 81.9h.4M180.3 82.5h.4M180.0 75.7h.4M181.7 87.1h.4M171.5 88.1h.4M176.8 89.5h.4M173.7 84.9h.4M185.0 88.1h.4M185.6 77.4h.4M174.6 83.9h.4M184.6 82.6h.4M185.5 76.8h.4M177.8 84.0h.4M180.4 87.9h.4M174.7 81.0h.4M183.5 84.9h.4M180.7 80.6h.4M181.4 86.6h.4M184.8 87.0h.4M183.3 78.4h.4M177.2 80.1h.4M174.1 86.1h.4M174.1 85.4h.4M183.1 84.0h.4M184.2 79.1h.4M182.3 87.4h.4M183.3 82.3h.4M184.8 79.3h.4M176.1 88.6h.4M169.5 85.8h.4M174.4 82.4h.4M183.9 82.3h.4M181.7 84.7h.4M172.0 84.0h.4M186.8 84.3h.4M179.8 82.1h.4M185.0 81.7h.4M180.3 87.4h.4M186.8 83.7h.4M182.1 85.3h.4M183.0 84.3h.4M182.9 89.3h.4M183.6 84.3h.4M173.6 89.4h.4M182.2 90.3h.4M183.0 79.9h.4M184.4 81.6h.4M181.2 81.3h.4M178.0 84.9h.4M183.1 84.8h.4M176.3 83.5h.4M182.4 90.3h.4M182.3 82.7h.4M184.1 78.6h.4M183.1 82.5h.4M182.7 88.9h.4M180.9 83.2h.4M173.4 86.3h.4M178.7 83.1h.4M184.4 78.4h.4M184.8 84.1h.4M181.3 82.8h.4M179.5 95.9h.4M177.9 83.1h.4M185.3 78.4h.4M183.4 87.7h.4M186.4 86.4h.4M183.0 81.5h.4M174.2 84.9h.4M175.8 86.4h.4M172.1 84.0h.4M177.3 83.5h.4M178.9 77.6h.4M183.0 85.3h.4M183.0 79.5h.4M181.2 87.4h.4M181.8 82.5h.4M180.9 91.9h.4M180.1 86.2h.4M178.5 87.5h.4M186.1 80.2h.4M186.2 83.0h.4M185.6 79.0h.4M169.7 78.2h.4M180.1 79.2h.4M180.6 80.9h.4M184.8 79.3h.4M185.8 86.0h.4M179.2 85.9h.4M178.3 87.7h.4M180.0 85.9h.4M184.8 84.8h.4M176.0 82.5h.4M174.7 83.6h.4M184.5 83.0h.4M179.7 84.4h.4M183.5 86.0h.4M176.5 83.5h.4M184.9 86.9h.4M170.8 85.1h.4M174.2 85.8h.4M183.2 83.8h.4M180.1 89.5h.4M186.1 82.3h.4M180.7 89.4h.4M176.4 85.7h.4M180.8 87.8h.4M175.8 82.9h.4M180.5 79.7h.4M182.6 85.2h.4M175.9 81.5h.4M180.6 79.0h.4M183.2 84.9h.4M168.1 85.1h.4M173.3 84.8h.4M186.5 80.8h.4M178.9 88.1h.4M182.9 85.5h.4M173.4 78.8h.4M177.7 85.1h.4M185.1 79.4h.4M169.9 85.2h.4M183.3 87.9h.4M181.8 93.3h.4M180.9 83.2h.4M177.3 82.2h.4M185.5 90.1h.4M176.0 85.7h.4M177.3 84.6h.4M177.4 80.6h.4M175.4 81.0h.4M174.9 83.2h.4M181.5 88.5h.4M182.2 89.6h.4M180.6 87.7h.4M183.6 85.0h.4M182.4 92.5h.4M184.2 86.4h.4M176.4 82.7h.4M184.1 84.1h.4M182.8 85.3h.4M183.0 87.8h.4M176.1 79.8h.4M183.5 86.3h.4M173.0 79.5h.4M180.7 81.6h.4M181.6 79.7h.4M177.3 84.4h.4M175.9 85.8h.4M186.5 85.9h.4M181.7 87.6h.4M183.5 88.4h.4M168.8 90.9h.4M181.6 80.9h.4M171.6 85.4h.4M181.9 79.1h.4M185.4 92.4h.4M181.5 81.0h.4M183.6 86.1h.4M186.1 79.8h.4M182.3 82.1h.4M174.0 89.2h.4M180.8 82.9h.4M180.3 86.9h.4M179.0 83.5h.4M182.5 82.6h.4M177.1 85.5h.4M178.6 88.5h.4M181.2 91.2h.4M180.1 79.4h.4M181.2 89.0h.4M176.3 90.4h.4M177.2 84.3h.4M180.3 86.9h.4M181.0 82.3h.4M181.5 81.5h.4M173.5 88.0h.4M180.5 84.3h.4M165.8 87.6h.4M168.0 87.7h.4M180.6 86.1h.4M182.8 82.4h.4M176.1 95.9h.4M181.5 80.5h.4M181.2 88.3h.4M181.2 87.3h.4M181.1 82.6h.4M182.2 88.0h.4M186.0 84.5h.4M170.2 83.7h.4M186.4 75.8h.4M172.2 82.5h.4M181.1 83.5h.4M182.8 90.1h.4M180.2 81.7h.4M184.0 87.0h.4M180.7 77.2h.4M184.1 85.5h.4M182.3 78.8h.4M177.5 88.2h.4M163.4 86.8h.4M179.5 90.8h.4M184.0 85.2h.4M182.5 83.4h.4M181.0 86.1h.4M182.0 81.7h.4M161.1 91.4h.4M182.9 85.8h.4M174.0 81.9h.4M184.3 78.9h.4M170.7 91.0h.4M180.8 90.7h.4M173.8 85.3h.4M180.6 86.5h.4M180.9 78.6h.4M182.2 89.4h.4M185.5 85.6h.4M184.9 88.2h.4M184.1 89.8h.4M184.7 89.1h.4M173.0 83.5h.4M183.3 86.7h.4M181.3 88.2h.4M180.7 75.3h.4M184.7 84.8h.4M173.3 90.0h.4M181.8 89.6h.4M180.6 82.1h.4M184.6 83.0h.4M184.1 89.7h.4M179.8 82.2h.4M180.1 83.8h.4M174.7 84.7h.4M174.6 89.0h.4M181.5 85.8h.4M182.6 84.7h.4M180.2 85.6h.4M184.6 81.6h.4M180.6 80.6h.4M181.7 90.5h.4M171.5 84.6h.4M177.3 80.7h.4M178.0 82.7h.4M185.7 84.3h.4M186.0 92.0h.4M185.0 83.5h.4M185.6 87.3h.4M174.1 90.6h.4M173.9 86.0h.4M182.7 85.7h.4M181.5 83.8h.4M186.7 78.0h.4M183.2 81.9h.4M179.4 81.3h.4M176.7 85.3h.4M185.1 82.3h.4M178.5 83.2h.4M180.7 87.8h.4M185.1 90.3h.4M185.6 81.3h.4M182.8 86.7h.4M185.3 85.2h.4M175.6 81.9h.4M172.0 85.1h.4M180.3 80.4h.4M182.4 84.7h.4M186.3 84.4h.4M179.3 77.7h.4M185.7 86.6h.4M177.3 83.8h.4M181.7 87.1h.4M178.1 85.0h.4M172.8 86.5h.4M183.8 82.9h.4M177.2 84.0h.4M183.0 86.2h.4M183.6 84.9h.4M173.8 86.2h.4M185.3 84.0h.4M183.1 88.5h.4M184.9 85.8h.4M180.7 83.1h.4M182.4 86.5h.4M184.6 82.3h.4M170.5 79.1h.4M179.9 86.0h.4M183.7 83.8h.4M181.3 82.7h.4M178.5 89.5h.4M170.4 87.4h.4M185.9 85.5h.4M184.6 86.0h.4M180.1 83.3h.4M178.5 84.9h.4M181.0 83.4h.4M183.9 84.1h.4M177.3 83.7h.4M179.8 93.9h.4M186.9 85.5h.4M181.0 84.8h.4M183.4 87.2h.4M178.4 82.3h.4M177.3 84.6h.4M178.7 79.5h.4M169.2 82.0h.4M179.7 87.8h.4M180.8 83.9h.4M173.0 83.4h.4M179.1 87.2h.4M184.9 88.9h.4M177.7 89.2h.4M180.9 83.6h.4M184.4 85.5h.4M183.6 89.4h.4M176.4 90.9h.4M184.4 84.3h.4M180.8 86.9h.4M185.4 84.3h.4M185.6 88.9h.4M181.8 78.2h.4M177.6 83.4h.4M176.8 89.3h.4M175.5 79.4h.4M183.3 80.5h.4M176.5 81.9h.4M177.6 85.1h.4M170.4 82.6h.4M182.5 82.4h.4M185.4 88.8h.4M181.2 80.6h.4M184.3 87.7h.4M183.2 85.5h.4M183.5 81.9h.4M180.6 84.9h.4M178.5 81.2h.4M185.3 86.9h.4M186.6 81.5h.4M178.1 89.8h.4M183.0 90.5h.4M185.2 80.8h.4M186.0 86.3h.4M183.0 86.7h.4M161.3 84.0h.4M180.4 87.5h.4M181.5 81.2h.4M183.6 77.3h.4M183.3 79.8h.4M184.2 92.3h.4M172.0 82.3h.4M178.2 80.1h.4M173.1 87.1h.4M183.1 81.3h.4M180.4 79.3h.4M170.8 91.5h.4M178.2 79.4h.4M179.8 91.8h.4M179.9 88.3h.4M162.8 85.7h.4M174.7 83.6h.4M180.9 78.4h.4M184.9 83.7h.4M172.8 82.8h.4M184.5 80.3h.4M179.7 89.7h.4M177.3 82.0h.4M181.9 86.5h.4M168.4 83.1h.4M181.4 86.5h.4M178.3 82.2h.4M185.8 84.4h.4M181.8 82.4h.4M166.3 85.3h.4M185.4 86.0h.4M186.1 80.2h.4M174.5 87.7h.4M163.8 87.2h.4M181.2 79.5h.4M179.3 88.8h.4M178.9 80.9h.4M180.1 79.5h.4M183.7 83.0h.4M179.4 83.6h.4M185.1 85.9h.4M179.7 82.2h.4M184.9 87.4h.4M185.6 86.1h.4M186.7 83.4h.4M181.2 86.5h.4M184.4 81.6h.4M179.4 87.9h.4M175.7 93.7h.4M184.8 86.4h.4M184.0 83.3h.4M181.9 92.3h.4M185.3 90.2h.4M181.8 80.7h.4M181.7 84.1h.4M186.0 84.0h.4M181.3 84.3h.4M179.1 86.2h.4M181.8 83.3h.4M177.9 85.6h.4M182.3 80.4h.4M181.5 82.0h.4M184.4 81.2h.4M179.1 86.5h.4M175.5 81.0h.4M179.0 83.0h.4M175.2 85.4h.4M177.0 88.5h.4M181.4 86.3h.4M181.4 87.3h.4M180.1 88.4h.4M181.5 79.2h.4M175.5 83.7h.4M181.0 90.7h.4M176.0 85.4h.4M183.0 93.3h.4M184.7 88.2h.4M176.4 79.5h.4M182.9 70.4h.4M183.2 83.0h.4M185.3 94.5h.4M185.6 85.8h.4M185.8 87.1h.4M179.0 81.8h.4M173.4 82.1h.4M184.0 90.0h.4M179.7 92.2h.4M179.1 85.2h.4M176.2 89.5h.4M184.6 84.8h.4M176.4 76.7h.4M173.7 76.0h.4M182.3 83.8h.4M185.4 89.4h.4M182.3 82.0h.4M175.1 78.4h.4M170.7 85.0h.4M184.0 83.4h.4M178.3 82.9h.4M182.2 84.1h.4M180.5 83.6h.4M177.4 85.8h.4M183.6 84.6h.4M167.7 85.1h.4M185.2 85.6h.4M183.4 87.9h.4M183.3 85.5h.4M159.2 84.4h.4M181.3 88.2h.4M184.7 80.9h.4M178.2 83.9h.4M177.0 84.4h.4M176.1 83.4h.4M180.9 86.1h.4M182.7 84.2h.4M186.7 89.0h.4M185.5 85.8h.4M181.5 80.2h.4M182.5 81.2h.4M179.2 92.5h.4M180.1 87.2h.4M183.2 80.7h.4M180.3 88.0h.4M178.7 81.2h.4M173.0 78.8h.4M183.1 79.8h.4M180.0 85.5h.4M182.0 88.3h.4M180.6 88.5h.4M183.4 83.4h.4M183.0 82.1h.4M182.4 83.8h.4M184.9 84.0h.4M169.2 81.3h.4M182.3 85.3h.4M177.8 80.7h.4M183.6 90.3h.4M182.4 88.2h.4M179.7 81.4h.4M178.5 79.6h.4M181.3 83.9h.4M182.9 81.3h.4M172.7 86.6h.4M183.3 87.0h.4M184.4 78.0h.4M182.6 82.8h.4M183.8 88.4h.4M178.9 79.4h.4M179.7 81.9h.4M171.7 82.4h.4M186.4 79.4h.4M184.2 78.2h.4M181.9 88.6h.4M180.5 86.1h.4M184.3 82.7h.4M183.3 90.0h.4M181.6 83.8h.4M186.2 88.7h.4M179.8 83.7h.4M181.9 84.0h.4M167.2 81.7h.4M183.2 80.4h.4M182.3 87.1h.4M185.5 93.2h.4M183.2 81.5h.4M176.8 79.9h.4M179.1 83.7h.4M184.4 88.8h.4M177.9 85.0h.4M177.9 74.4h.4M183.0 82.5h.4M177.6 80.7h.4M181.0 83.2h.4M178.4 84.1h.4M185.2 81.6h.4M184.6 85.2h.4M182.8 85.6h.4M182.0 87.7h.4M184.6 79.8h.4M185.1 84.6h.4M174.6 84.6h.4M179.8 86.3h.4M171.6 81.0h.4M171.4 89.0h.4M186.7 81.0h.4M182.3 87.8h.4M185.6 87.7h.4M181.7 90.3h.4M173.0 78.9h.4M183.3 80.1h.4M183.2 80.8h.4M178.9 87.0h.4M182.7 88.9h.4M162.5 83.5h.4M180.8 87.4h.4M169.0 84.2h.4M179.1 82.2h.4M181.4 82.0h.4M184.1 81.4h.4M182.6 80.9h.4M169.0 84.9h.4M175.4 84.1h.4M175.2 84.5h.4M181.3 81.9h.4M182.1 79.5h.4M171.9 83.0h.4M178.5 82.7h.4M172.2 85.1h.4M186.1 84.2h.4M176.7 92.5h.4M155.4 82.1h.4M179.7 92.5h.4M179.0 83.1h.4M171.6 84.6h.4M181.6 90.2h.4M181.4 83.6h.4M184.9 79.1h.4M182.2 82.3h.4M182.5 86.5h.4M167.9 85.7h.4M177.9 88.3h.4M183.8 90.2h.4M185.5 81.2h.4M180.7 86.1h.4M182.3 82.8h.4M185.3 81.8h.4M178.8 85.5h.4M184.8 97.7h.4M179.6 86.6h.4M180.9 82.2h.4M176.9 88.8h.4M172.8 81.3h.4M183.4 85.4h.4M182.3 78.4h.4M177.1 83.5h.4M178.9 85.1h.4M179.9 79.4h.4M181.6 82.2h.4M183.0 83.9h.4M180.1 82.2h.4M182.4 87.9h.4M183.0 85.2h.4M184.6 83.2h.4M178.9 83.9h.4M183.2 85.7h.4M181.0 85.5h.4M181.7 81.1h.4M182.8 88.1h.4M177.5 90.1h.4M177.4 94.5h.4M167.8 82.4h.4M183.0 94.7h.4M171.1 83.2h.4M180.5 81.7h.4M183.0 82.8h.4M183.8 84.4h.4M174.4 84.2h.4M176.5 85.1h.4M182.7 83.7h.4M179.8 87.1h.4M183.2 84.9h.4M184.3 81.4h.4M184.9 83.8h.4M180.4 80.0h.4M164.4 88.8h.4M178.0 86.2h.4M177.4 79.2h.4M180.9 79.7h.4M182.6 84.1h.4M173.2 82.8h.4M171.2 77.0h.4M179.1 83.3h.4M171.9 81.0h.4M182.6 79.4h.4M171.6 78.5h.4M180.1 88.4h.4M179.1 86.3h.4M184.3 88.9h.4M184.4 88.3h.4M180.8 86.8h.4M172.7 86.5h.4M182.1 90.3h.4M183.5 91.9h.4M182.9 82.3h.4M181.3 84.2h.4M181.6 86.8h.4M184.5 87.9h.4M185.0 90.1h.4M169.0 88.3h.4M183.7 85.7h.4M167.8 83.9h.4M173.5 86.7h.4M185.9 90.9h.4M170.9 78.4h.4M184.3 79.9h.4M180.1 87.7h.4M182.5 73.2h.4M182.0 85.4h.4M184.2 79.8h.4M182.1 87.1h.4M184.7 88.1h.4M185.6 84.4h.4M182.6 85.5h.4M184.1 81.0h.4M186.3 89.8h.4M186.2 93.3h.4M184.8 90.2h.4M177.9 81.8h.4M174.0 76.4h.4M186.3 90.4h.4M181.5 80.5h.4M185.5 88.5h.4M184.0 75.7h.4M180.4 78.5h.4M175.7 85.1h.4M172.6 82.0h.4M179.8 87.2h.4M180.2 82.2h.4M175.3 83.4h.4M183.2 92.6h.4M184.3 82.2h.4M172.3 84.5h.4M179.8 85.2h.4M185.9 86.1h.4M178.8 82.1h.4M168.3 89.3h.4M172.1 86.4h.4M175.2 85.9h.4M185.2 88.7h.4M181.4 82.6h.4M180.8 88.2h.4M181.1 82.9h.4M185.5 77.9h.4M179.2 87.9h.4M178.9 86.3h.4M183.2 79.3h.4M173.9 83.0h.4M180.1 83.5h.4M185.8 86.9h.4M172.5 85.9h.4M180.2 88.9h.4M182.2 89.6h.4M185.0 92.0h.4M183.2 84.7h.4M179.4 87.4h.4M185.3 85.5h.4M174.2 83.4h.4M183.9 85.1h.4M179.3 85.8h.4M174.3 88.3h.4M183.2 83.7h.4M176.0 87.2h.4M185.2 82.9h.4M184.4 84.5h.4M178.5 82.1h.4M180.9 77.6h.4M186.2 84.2h.4M185.6 87.2h.4M180.5 87.9h.4M167.0 79.3h.4M182.3 88.3h.4M173.6 79.0h.4M180.5 85.8h.4M180.3 80.1h.4M186.0 77.4h.4M184.0 80.4h.4M184.9 86.9h.4M180.1 76.8h.4M185.5 78.0h.4M186.0 83.7h.4M183.2 74.2h.4M175.6 84.4h.4M175.6 86.3h.4M185.8 85.3h.4M180.4 85.4h.4M182.2 82.0h.4M182.0 87.6h.4M159.7 79.2h.4M180.8 81.0h.4M183.7 86.0h.4M178.5 84.1h.4M182.7 89.2h.4M183.1 82.1h.4M175.7 85.7h.4M183.1 84.1h.4M179.4 84.1h.4M182.8 76.9h.4M178.6 85.1h.4M184.8 79.5h.4M186.1 84.5h.4M185.0 81.8h.4M175.2 84.0h.4M182.6 84.9h.4M183.5 80.0h.4M177.0 83.8h.4M181.6 86.6h.4M177.1 81.5h.4M185.0 78.5h.4M173.5 87.2h.4M171.7 83.5h.4M176.2 82.9h.4M183.6 84.2h.4M184.5 90.3h.4M174.9 92.2h.4M179.8 82.1h.4M183.1 92.7h.4M183.0 78.6h.4M184.6 85.4h.4M183.0 83.3h.4M186.7 83.8h.4M177.0 80.4h.4M179.0 87.0h.4M182.0 80.7h.4M180.6 83.8h.4M183.1 86.2h.4M171.5 85.3h.4M180.0 87.7h.4M182.7 87.5h.4M180.9 84.9h.4M185.5 86.2h.4M181.7 86.1h.4M181.1 88.4h.4M175.4 82.5h.4M183.8 82.6h.4M178.2 84.1h.4M179.0 80.9h.4M176.2 84.8h.4M181.0 80.7h.4M185.1 79.5h.4M183.7 85.9h.4M169.7 84.6h.4M176.7 79.5h.4M176.2 81.1h.4M183.9 80.5h.4M174.8 90.2h.4M181.0 84.0h.4M186.2 83.9h.4M175.5 82.2h.4M183.7 83.8h.4M175.1 87.9h.4M184.8 85.7h.4M171.7 84.7h.4M181.3 85.4h.4M185.1 88.3h.4M175.6 87.9h.4M180.6 89.9h.4M176.0 79.3h.4M180.5 86.0h.4M180.7 83.6h.4M183.3 87.5h.4M177.3 82.7h.4M178.2 86.7h.4M177.2 88.5h.4M182.6 81.2h.4M165.5 85.0h.4M183.9 81.4h.4M182.6 85.7h.4M183.8 78.0h.4M185.9 80.4h.4M183.7 89.9h.4M181.3 87.1h.4M178.6 84.7h.4M180.9 81.8h.4M183.4 81.2h.4M185.3 81.7h.4M186.7 82.5h.4M186.4 82.5h.4M182.3 84.2h.4M181.1 84.3h.4M179.8 85.2h.4M174.7 81.7h.4M184.6 89.8h.4M185.3 82.2h.4M178.4 82.6h.4M176.0 84.7h.4M175.6 89.5h.4M178.5 83.3h.4M181.2 84.0h.4M184.2 81.4h.4M178.9 93.0h.4M166.4 84.4h.4M180.6 79.5h.4M175.8 86.8h.4M182.1 85.5h.4M184.2 85.4h.4M180.7 84.4h.4M179.2 84.0h.4M185.7 83.2h.4M174.8 82.4h.4M176.0 78.0h.4M174.5 85.9h.4M177.9 82.5h.4M173.4 88.0h.4M175.9 87.7h.4M170.2 83.6h.4M183.5 81.1h.4M178.3 74.1h.4M184.2 85.6h.4M183.7 84.5h.4M182.6 84.2h.4M183.5 81.2h.4M183.1 80.2h.4M180.7 89.2h.4M174.2 79.9h.4M185.1 84.8h.4M184.7 80.3h.4M184.9 91.9h.4M181.3 80.4h.4M180.6 83.0h.4M186.2 82.2h.4M181.9 84.4h.4M173.0 80.8h.4M183.7 86.4h.4M180.4 83.4h.4M183.8 79.9h.4M184.7 86.6h.4M184.7 81.5h.4M185.6 91.3h.4M186.3 79.9h.4M174.9 85.9h.4M181.7 86.2h.4M177.9 88.8h.4M181.9 90.2h.4M174.2 79.3h.4M183.9 79.5h.4M176.5 80.3h.4M186.5 83.2h.4M184.9 94.5h.4M185.7 81.8h.4M180.2 87.8h.4M186.8 83.8h.4M183.4 81.1h.4M183.6 85.9h.4M184.4 77.8h.4M178.0 80.1h.4M170.2 83.5h.4M160.5 83.8h.4M184.5 88.4h.4M186.8 82.9h.4M184.1 84.3h.4M183.9 87.0h.4M179.2 88.0h.4M184.8 85.5h.4M175.9 81.6h.4M174.0 88.0h.4M178.1 87.5h.4M185.4 81.0h.4M169.2 83.8h.4M182.4 87.4h.4M176.3 86.0h.4M181.4 85.3h.4M176.4 78.7h.4M172.0 87.3h.4M185.6 85.0h.4M174.8 82.6h.4M182.2 81.1h.4M184.8 80.9h.4M182.8 85.4h.4M183.9 83.1h.4M159.7 86.6h.4M183.4 76.7h.4M185.3 88.0h.4M176.5 84.1h.4M178.8 83.0h.4M183.5 88.1h.4M185.6 89.5h.4M172.7 80.4h.4M182.3 79.1h.4M183.4 81.2h.4M168.0 82.8h.4M179.9 84.5h.4M185.0 83.6h.4M185.5 84.1h.4M184.9 81.7h.4M184.5 84.4h.4M174.0 85.1h.4M176.6 83.9h.4M183.3 83.1h.4M176.2 81.1h.4M178.4 92.4h.4M184.1 89.7h.4M184.2 81.5h.4M184.0 89.3h.4M181.1 79.4h.4M184.8 86.4h.4M172.9 81.6h.4M184.4 83.4h.4M185.9 88.8h.4M183.0 83.1h.4M179.7 85.9h.4M167.3 78.2h.4M154.1 86.5h.4M181.0 87.3h.4M179.4 93.7h.4M178.4 86.4h.4M183.7 81.0h.4M181.8 83.7h.4M181.3 81.7h.4M183.6 79.3h.4M182.5 87.0h.4M176.7 78.2h.4M181.1 80.2h.4M179.8 86.3h.4M171.3 81.3h.4M176.5 83.7h.4M181.6 83.2h.4M186.1 84.9h.4M175.1 86.1h.4M184.0 85.2h.4M165.5 77.6h.4M185.1 83.1h.4M183.2 81.8h.4M177.7 81.5h.4M183.9 84.5h.4M181.4 83.9h.4M180.4 85.2h.4M179.9 83.0h.4M186.1 81.4h.4M180.4 88.6h.4M178.3 85.2h.4M186.6 85.8h.4M179.8 77.3h.4M181.2 78.0h.4M180.4 83.9h.4M180.8 82.1h.4M181.1 87.7h.4M179.9 88.5h.4M178.7 85.6h.4M186.7 84.2h.4M177.7 82.1h.4M173.2 85.3h.4M173.4 82.8h.4M171.3 83.2h.4M185.9 87.4h.4M177.9 88.0h.4M175.5 87.4h.4M179.0 84.9h.4M170.1 85.6h.4M183.6 82.6h.4M182.0 89.4h.4M179.7 77.8h.4M173.9 82.7h.4M182.0 83.9h.4M185.0 84.8h.4M182.6 76.5h.4M185.3 85.1h.4M174.5 77.6h.4M181.1 81.7h.4M179.1 82.6h.4M182.7 83.8h.4M176.3 81.2h.4M172.9 79.8h.4M172.9 83.4h.4M181.7 87.2h.4M182.5 85.3h.4M178.9 84.3h.4M182.8 86.2h.4M186.3 85.4h.4M175.9 80.3h.4M185.0 86.6h.4M180.1 88.7h.4M184.2 91.7h.4M186.2 76.5h.4M186.1 95.6h.4M182.3 88.4h.4M177.9 83.0h.4M182.0 84.6h.4M182.9 84.4h.4M172.6 81.1h.4M180.4 90.7h.4M184.4 84.2h.4M175.4 79.8h.4M185.6 82.9h.4M185.9 88.7h.4M179.9 83.9h.4M179.1 91.3h.4M180.0 83.1h.4M183.6 83.6h.4M186.6 78.6h.4M178.8 78.2h.4M181.6 80.4h.4M175.3 82.3h.4M182.3 82.1h.4M169.6 82.2h.4M186.7 88.1h.4M186.8 78.3h.4M171.7 83.0h.4M178.4 84.5h.4M183.1 85.0h.4M185.3 83.9h.4M174.1 87.2h.4M181.7 80.7h.4M178.3 90.0h.4M183.2 87.1h.4M174.7 84.6h.4M178.3 84.5h.4M183.1 84.4h.4M178.5 82.5h.4M180.5 89.4h.4M176.3 88.0h.4M177.7 88.4h.4M179.7 81.4h.4M180.7 85.6h.4M180.7 92.4h.4M183.1 79.2h.4M185.7 87.5h.4M184.1 85.7h.4M186.7 87.5h.4M170.3 86.9h.4M169.1 86.3h.4M183.3 92.5h.4M173.8 84.5h.4M181.5 84.9h.4M183.3 88.0h.4M180.6 76.9h.4M175.9 84.6h.4M184.6 87.1h.4M183.0 83.6h.4M171.5 82.9h.4M181.8 90.7h.4M182.2 82.6h.4M181.7 85.3h.4M183.2 85.9h.4M182.3 86.8h.4M184.8 90.7h.4M174.9 89.4h.4M177.1 83.4h.4M184.6 83.4h.4M185.5 88.4h.4M178.7 82.7h.4M184.1 83.2h.4M153.8 83.7h.4M185.0 84.0h.4M173.4 79.8h.4M179.4 82.3h.4M164.6 83.9h.4M178.2 78.7h.4M179.4 83.4h.4M168.6 83.7h.4M173.6 86.5h.4M176.2 88.0h.4M169.2 89.2h.4M181.5 94.4h.4M184.6 83.6h.4M184.7 82.4h.4M183.6 86.2h.4M177.1 83.8h.4M170.7 82.7h.4M174.5 84.8h.4M178.2 83.7h.4M183.8 81.2h.4M180.5 79.9h.4M179.8 80.4h.4M177.5 81.9h.4M186.6 87.7h.4M176.3 87.1h.4M178.0 87.3h.4M179.7 81.8h.4M180.0 81.0h.4M179.0 92.9h.4M174.3 86.8h.4M183.8 83.7h.4M184.1 81.8h.4M179.8 87.8h.4M182.0 84.1h.4M178.8 84.3h.4M185.2 81.8h.4M180.2 83.8h.4M182.4 83.6h.4M184.8 87.5h.4M183.4 91.4h.4M185.0 90.2h.4M181.1 71.9h.4M166.6 87.3h.4M181.7 88.3h.4M181.9 81.1h.4M178.4 84.4h.4M176.5 82.6h.4M181.7 79.6h.4M175.1 80.5h.4M185.5 80.5h.4M183.5 79.9h.4M186.4 91.5h.4M178.4 82.6h.4M179.6 83.3h.4M182.0 84.7h.4M183.2 85.9h.4M179.9 87.3h.4M184.6 82.1h.4M181.2 81.0h.4M179.3 86.6h.4M186.0 91.3h.4M178.5 88.6h.4M178.0 91.8h.4M181.6 84.8h.4M162.3 84.5h.4M177.6 89.3h.4M178.5 83.4h.4M185.5 85.2h.4M172.3 80.8h.4M168.5 86.3h.4M183.5 89.5h.4M179.1 78.8h.4M182.0 81.7h.4M171.9 91.8h.4M185.3 86.3h.4M181.9 82.7h.4M178.5 88.1h.4M185.7 78.4h.4M175.1 82.7h.4M178.5 84.5h.4M170.1 83.2h.4M184.2 87.2h.4M175.4 83.3h.4M184.0 81.2h.4M185.7 87.3h.4M181.6 86.8h.4M185.1 87.0h.4M183.4 86.5h.4M165.9 88.8h.4M183.3 86.3h.4M166.6 88.0h.4M180.4 82.0h.4M181.8 83.5h.4M183.1 87.6h.4M183.4 83.1h.4M183.4 82.9h.4M172.2 86.4h.4M178.6 84.8h.4M183.8 81.9h.4M165.8 91.3h.4M173.5 82.2h.4M180.4 88.3h.4M176.1 87.1h.4M183.8 82.5h.4M180.5 82.6h.4M157.3 81.3h.4M172.6 80.2h.4M174.7 83.0h.4M183.6 78.8h.4M156.2 84.3h.4M175.6 77.5h.4M155.3 85.6h.4M174.1 80.5h.4M183.4 79.5h.4M164.8 87.7h.4M174.3 88.1h.4M169.2 79.4h.4M175.1 83.3h.4M182.0 93.0h.4M152.9 88.9h.4M177.8 83.9h.4M174.7 87.7h.4M181.8 82.4h.4M170.8 84.2h.4M176.1 86.1h.4M172.5 81.8h.4M174.7 87.0h.4M167.4 81.4h.4M182.4 80.5h.4M163.9 82.8h.4M181.6 83.0h.4M178.8 82.2h.4M153.4 84.7h.4M180.5 85.3h.4M155.6 88.2h.4M180.7 81.3h.4M177.4 89.0h.4M182.1 82.5h.4M171.1 82.0h.4M176.4 84.6h.4M175.9 81.4h.4M180.9 86.4h.4M173.2 81.2h.4M176.9 86.4h.4M182.4 85.9h.4M184.7 89.8h.4M164.1 92.2h.4M180.3 83.3h.4M181.0 85.1h.4M159.2 83.1h.4M160.9 88.7h.4M157.7 81.3h.4M167.9 88.6h.4M162.5 90.1h.4M164.7 77.1h.4M164.7 85.3h.4M167.8 85.7h.4M173.2 84.7h.4M171.7 83.0h.4M165.7 81.5h.4M153.6 80.9h.4M167.5 86.9h.4M167.3 84.0h.4M185.0 82.5h.4M161.7 83.6h.4M184.1 82.2h.4M181.9 84.1h.4M180.3 86.1h.4M182.5 72.5h.4M179.4 85.0h.4M181.4 88.4h.4M176.5 84.2h.4M177.5 83.8h.4M161.8 83.5h.4M173.7 87.4h.4M163.9 84.8h.4M182.6 84.5h.4M172.7 85.0h.4M180.0 89.8h.4M185.6 79.9h.4M184.3 86.1h.4M176.4 83.5h.4M156.9 79.0h.4M184.4 83.0h.4M164.1 88.3h.4M178.0 80.9h.4M185.8 80.7h.4M169.7 79.3h.4M165.9 94.6h.4M175.4 78.3h.4M170.8 86.2h.4M181.7 92.1h.4M182.5 86.8h.4M174.5 86.0h.4M183.1 83.8h.4M172.1 88.8h.4M164.9 83.8h.4M158.8 89.1h.4M161.5 77.9h.4M173.2 87.2h.4M169.9 86.6h.4M153.5 83.6h.4M162.9 77.3h.4M178.4 87.5h.4M178.8 84.9h.4M163.4 87.0h.4M168.5 79.4h.4M165.9 81.4h.4M186.0 85.4h.4M184.6 93.8h.4M176.8 81.0h.4M168.0 87.0h.4M178.1 81.8h.4M174.3 88.1h.4M176.3 85.1h.4M170.0 87.9h.4M184.3 79.3h.4M182.8 87.6h.4M183.3 82.0h.4M176.1 89.4h.4M177.3 79.7h.4M162.4 84.5h.4M170.5 84.6h.4M158.0 80.3h.4M172.4 84.6h.4M169.9 85.4h.4M157.2 89.3h.4M162.8 87.5h.4M176.3 84.3h.4M179.8 81.6h.4M184.9 84.0h.4M183.9 85.9h.4M179.8 78.9h.4M170.0 81.0h.4M165.8 87.4h.4M182.2 90.4h.4M175.5 84.8h.4M174.6 82.6h.4M175.0 84.7h.4M183.1 79.5h.4M153.6 79.7h.4M177.5 88.0h.4M175.8 84.4h.4M176.0 84.1h.4M185.9 86.5h.4M182.0 88.1h.4M175.2 84.8h.4M165.6 88.6h.4M153.2 87.3h.4M165.8 92.1h.4M166.0 84.6h.4M173.7 78.5h.4M163.9 86.2h.4M162.4 87.6h.4M176.7 83.5h.4M160.9 89.3h.4M179.4 87.0h.4M160.0 82.1h.4M182.9 83.4h.4M180.4 77.5h.4M176.8 79.6h.4M171.8 85.8h.4M171.0 76.4h.4M157.6 88.7h.4M176.3 83.5h.4M173.5 82.5h.4M164.9 86.8h.4M180.1 89.6h.4M175.2 85.6h.4M174.1 86.1h.4M184.8 85.7h.4M179.9 95.0h.4M167.4 87.2h.4M170.3 86.0h.4M162.0 83.4h.4M167.5 80.1h.4M182.8 89.7h.4M166.3 81.8h.4M169.8 89.2h.4M178.2 80.9h.4M172.3 78.7h.4M179.2 85.8h.4M177.7 86.1h.4M179.0 82.5h.4M168.7 83.6h.4M176.4 84.1h.4M180.4 82.3h.4M173.6 83.5h.4M168.5 78.7h.4M161.9 80.1h.4M170.9 81.4h.4M167.7 87.6h.4M157.9 89.6h.4M181.7 79.2h.4M180.0 89.8h.4M178.6 88.8h.4M170.2 85.9h.4M178.6 88.0h.4M183.0 90.6h.4M165.0 85.2h.4M183.0 83.3h.4M174.6 82.2h.4M172.4 85.3h.4M169.2 84.8h.4M184.4 84.5h.4M159.2 87.2h.4M174.2 83.3h.4M183.9 87.2h.4M172.2 83.2h.4M176.1 86.2h.4M185.1 82.6h.4M157.0 85.1h.4M161.7 81.9h.4M184.5 85.7h.4M177.4 79.7h.4M174.5 86.5h.4M163.7 81.8h.4M183.5 85.5h.4M182.8 82.7h.4M173.7 78.2h.4M171.1 86.1h.4M184.3 91.3h.4M171.5 85.8h.4M178.6 84.1h.4M165.5 81.7h.4M177.3 88.0h.4M165.5 85.5h.4M179.7 82.6h.4M176.8 83.3h.4M158.8 81.8h.4M181.9 85.7h.4M165.1 87.5h.4M173.7 85.8h.4M181.2 88.8h.4M167.5 83.5h.4M154.5 83.1h.4M172.4 91.1h.4M170.6 81.6h.4M153.2 85.2h.4M178.0 89.4h.4M176.1 81.4h.4M157.3 79.3h.4M181.8 79.9h.4M174.1 84.3h.4M177.6 83.2h.4M167.1 82.0h.4M173.6 86.0h.4M161.7 89.9h.4M178.6 88.9h.4M178.5 82.1h.4M173.2 85.4h.4M177.8 81.2h.4M178.5 87.9h.4M177.8 89.8h.4M179.2 85.1h.4M186.0 83.5h.4M179.0 83.7h.4M161.0 88.9h.4M181.6 76.8h.4M171.7 82.7h.4M172.4 91.6h.4M161.9 83.8h.4M182.1 83.5h.4M178.3 80.3h.4M177.7 93.0h.4M182.6 89.0h.4M176.9 86.8h.4M181.1 79.0h.4M181.1 87.2h.4M167.7 91.5h.4M172.4 87.4h.4M176.9 83.3h.4M161.4 87.2h.4M176.2 82.4h.4M175.3 84.1h.4M170.0 83.0h.4M179.4 78.8h.4M164.9 82.3h.4M171.3 95.9h.4M177.9 80.5h.4M181.8 84.2h.4M180.6 80.4h.4M175.2 87.3h.4M160.2 78.2h.4M184.7 87.1h.4M174.4 86.2h.4M181.0 88.6h.4M161.0 88.5h.4M183.9 78.7h.4M155.8 86.3h.4M181.5 84.6h.4M173.3 87.2h.4M167.2 79.7h.4M170.3 85.9h.4M175.3 89.4h.4M173.3 78.8h.4M183.4 94.1h.4M172.3 88.1h.4M183.9 89.4h.4M177.3 85.5h.4M161.2 84.9h.4M173.6 91.5h.4M169.6 85.4h.4M182.2 92.2h.4M173.8 91.4h.4M162.3 79.5h.4M168.9 80.7h.4M175.7 85.0h.4M173.4 81.5h.4M178.2 84.8h.4M170.7 84.9h.4M159.3 77.1h.4M177.1 80.9h.4M169.4 84.4h.4M165.2 84.9h.4M162.1 78.4h.4M180.5 82.3h.4M185.2 76.8h.4M185.0 83.2h.4M181.4 91.4h.4M177.6 86.1h.4M179.8 79.4h.4M181.2 85.4h.4M184.0 82.3h.4M179.2 82.4h.4M171.1 78.2h.4M167.7 83.4h.4M184.4 82.0h.4M171.4 81.9h.4M173.7 85.1h.4M178.0 84.5h.4M181.0 89.1h.4M173.6 84.3h.4M160.4 79.9h.4M163.5 88.9h.4M184.4 90.8h.4M178.5 85.6h.4M156.4 85.5h.4M185.0 89.0h.4M158.1 92.5h.4M179.8 88.8h.4M177.3 78.9h.4M178.9 83.3h.4M176.7 80.2h.4M160.6 85.0h.4M179.5 77.1h.4M164.9 90.2h.4M177.7 86.2h.4M159.9 79.7h.4M163.0 87.8h.4M166.5 85.4h.4M179.3 83.3h.4M156.2 81.2h.4M168.0 85.1h.4M176.2 85.9h.4M157.6 81.8h.4M170.9 85.0h.4M185.3 81.8h.4M180.6 87.2h.4M180.5 82.9h.4M180.4 89.3h.4M177.3 82.6h.4M172.4 87.9h.4M171.8 90.2h.4M165.4 83.8h.4M174.0 81.1h.4M182.5 80.4h.4M175.4 81.5h.4M180.4 80.3h.4M156.8 86.1h.4M169.0 77.8h.4M165.7 79.1h.4M175.4 97.8h.4M175.3 84.3h.4M169.6 84.0h.4M176.7 90.7h.4M180.8 89.6h.4M174.6 80.4h.4M175.8 89.6h.4M166.3 84.7h.4M171.7 82.6h.4M176.3 83.5h.4M162.0 81.5h.4M175.6 89.0h.4M174.5 85.8h.4M182.4 82.8h.4M177.0 81.6h.4M177.7 86.5h.4M167.6 89.1h.4M161.3 87.1h.4M176.3 88.0h.4M173.9 80.4h.4M182.3 84.9h.4M180.2 75.4h.4M181.0 85.3h.4M161.9 83.1h.4M172.3 86.9h.4M176.7 81.1h.4M166.7 84.5h.4M166.6 85.7h.4M164.4 86.7h.4M182.4 88.8h.4M180.3 92.3h.4M179.2 84.8h.4M167.3 86.4h.4M171.0 81.7h.4M182.7 81.2h.4M154.1 77.6h.4M164.5 77.3h.4M181.0 83.9h.4M178.5 86.3h.4M185.2 85.2h.4M176.6 79.9h.4M164.6 87.1h.4M170.3 89.7h.4M174.8 91.4h.4M184.3 86.9h.4M171.3 90.4h.4M182.8 76.3h.4M176.7 90.2h.4M171.1 80.0h.4M173.1 85.6h.4M169.0 88.8h.4M182.0 81.2h.4M160.7 83.0h.4M171.2 82.3h.4M170.5 80.0h.4M170.2 78.4h.4M174.6 84.5h.4M177.9 89.0h.4M180.9 84.1h.4M177.6 87.5h.4M172.9 80.6h.4M164.8 79.2h.4M162.9 86.1h.4M166.0 89.0h.4M179.4 80.2h.4M175.3 83.2h.4M172.5 85.2h.4M175.8 86.5h.4M170.6 83.3h.4M178.8 85.0h.4M174.2 83.7h.4M178.2 95.3h.4M168.2 82.4h.4M171.0 81.1h.4M167.9 85.9h.4M156.9 77.2h.4M176.7 81.3h.4M165.5 87.8h.4M169.5 87.5h.4M163.9 86.9h.4M176.4 80.0h.4M181.4 88.1h.4M161.7 80.4h.4M171.0 84.3h.4M185.0 84.6h.4M167.6 90.8h.4M173.5 78.3h.4M166.4 82.0h.4M168.7 88.6h.4M167.5 86.6h.4M169.9 87.7h.4M166.9 89.0h.4M182.9 85.9h.4M158.8 84.1h.4M172.5 78.1h.4M163.9 85.0h.4M172.7 87.4h.4M165.0 87.1h.4M178.1 86.8h.4M169.0 84.1h.4M180.2 83.1h.4M169.5 85.3h.4M172.2 80.6h.4M182.9 85.3h.4M177.6 87.6h.4M173.9 91.8h.4M176.5 80.5h.4M164.3 80.5h.4M159.2 78.7h.4M165.8 89.1h.4M179.4 85.6h.4M174.4 88.3h.4M162.7 84.0h.4M178.2 84.9h.4M179.7 84.9h.4M164.8 82.9h.4M161.2 92.1h.4M170.5 82.7h.4M180.8 89.9h.4M179.1 83.7h.4M172.5 88.6h.4M185.7 89.7h.4M170.9 89.2h.4M182.0 86.2h.4M180.4 84.2h.4M176.8 86.7h.4M173.5 84.7h.4M170.3 75.0h.4M171.3 88.2h.4M175.9 80.4h.4M160.1 88.3h.4M160.1 77.1h.4M180.6 79.8h.4M174.9 79.1h.4M162.1 79.6h.4M178.8 79.2h.4M173.4 87.0h.4M177.5 91.1h.4M172.6 87.5h.4M164.9 88.7h.4M168.9 86.4h.4M179.4 91.9h.4M173.4 87.4h.4M171.6 89.6h.4M176.4 85.0h.4M174.0 86.8h.4M164.9 77.7h.4M160.0 87.6h.4M160.6 84.4h.4M175.3 86.6h.4M191.3 86.9h.4M185.9 87.1h.4M187.3 89.1h.4M189.9 83.9h.4M188.0 87.9h.4M186.5 88.6h.4M187.9 88.3h.4M186.0 77.7h.4M186.8 84.1h.4M187.9 90.1h.4M186.4 86.6h.4M186.5 85.2h.4M189.2 81.6h.4M185.8 79.0h.4M185.5 77.9h.4M187.2 89.9h.4M185.7 82.5h.4M186.8 84.8h.4M190.1 82.7h.4M187.7 84.9h.4M189.6 86.7h.4M185.5 81.4h.4M186.0 88.0h.4M187.2 86.1h.4M187.5 82.9h.4M192.7 78.8h.4M187.5 87.7h.4M188.3 90.1h.4M186.7 88.5h.4M185.3 86.3h.4M188.6 85.7h.4M185.5 84.3h.4M185.4 86.9h.4M185.8 81.4h.4M185.3 89.5h.4M186.7 87.7h.4M186.9 85.7h.4M188.4 83.4h.4M186.2 75.7h.4M185.7 86.8h.4M187.6 84.5h.4M189.5 88.8h.4M186.2 83.6h.4M188.0 87.5h.4M185.9 84.3h.4M185.8 86.3h.4M186.9 84.0h.4M186.5 83.2h.4M186.3 81.3h.4M186.5 81.3h.4M186.7 87.6h.4M186.4 83.5h.4M188.3 82.9h.4M190.0 84.2h.4M188.8 85.7h.4M196.2 85.6h.4M187.5 81.9h.4M188.6 88.1h.4M190.8 86.2h.4M193.2 82.1h.4M185.9 81.0h.4M187.9 83.9h.4M193.2 85.7h.4M191.4 86.3h.4M187.0 87.1h.4M194.4 82.0h.4M188.6 86.9h.4M188.0 85.6h.4M189.4 90.8h.4M186.6 85.0h.4M187.8 86.7h.4M185.8 86.0h.4M186.2 82.8h.4M192.1 84.3h.4M186.8 82.9h.4M188.9 84.1h.4M185.6 82.9h.4M185.8 84.0h.4M192.0 88.5h.4M185.8 94.4h.4M191.8 83.3h.4M187.3 81.9h.4M187.1 86.8h.4M188.5 82.8h.4M188.1 85.6h.4M185.5 80.6h.4M185.9 83.8h.4M192.4 82.6h.4M191.4 85.8h.4M189.5 86.2h.4M189.7 81.2h.4M186.2 88.3h.4M188.1 86.5h.4M187.4 83.4h.4M188.1 89.5h.4M190.6 82.3h.4M188.6 78.1h.4M185.7 89.4h.4M187.2 87.8h.4M187.6 86.5h.4M189.9 86.2h.4M193.5 87.8h.4M187.1 85.8h.4M192.2 85.2h.4M186.5 80.6h.4M186.0 83.7h.4M191.0 88.6h.4M192.4 87.8h.4M192.2 85.5h.4M187.2 85.9h.4M187.2 80.5h.4M186.4 87.8h.4M186.9 83.5h.4M186.7 83.5h.4M186.1 83.8h.4M185.9 84.2h.4M186.3 83.5h.4M185.6 83.1h.4M194.2 83.1h.4M188.0 88.5h.4M185.8 83.2h.4M187.0 85.2h.4M186.2 86.4h.4M186.8 82.9h.4M186.3 84.9h.4M185.5 91.5h.4M189.4 89.2h.4M185.6 84.0h.4M200.4 87.9h.4M187.0 83.8h.4M186.2 85.5h.4M186.4 88.2h.4M194.0 84.8h.4M187.7 80.1h.4M189.2 83.9h.4M186.7 78.6h.4M186.3 82.6h.4M187.7 79.1h.4M186.3 86.7h.4M194.1 88.8h.4M185.3 85.3h.4M187.7 80.5h.4M186.2 86.7h.4M187.0 83.1h.4M190.4 87.6h.4M186.3 83.8h.4M188.5 83.2h.4M188.9 87.1h.4M190.2 85.3h.4M190.2 83.0h.4M187.1 86.0h.4M187.0 88.9h.4M187.6 75.7h.4M188.4 83.3h.4M185.8 80.6h.4M185.7 86.6h.4M187.2 89.8h.4M191.4 85.1h.4M195.3 86.0h.4M194.1 78.2h.4M189.6 89.0h.4M185.3 87.1h.4M190.0 84.8h.4M188.7 85.0h.4M185.1 78.5h.4M192.6 87.0h.4M189.8 83.4h.4M185.5 86.6h.4M185.6 82.3h.4M187.9 83.9h.4M189.1 77.8h.4M186.7 84.6h.4M186.7 84.1h.4M186.9 84.1h.4M186.3 84.9h.4M185.4 83.9h.4M186.0 88.4h.4M186.6 83.4h.4M192.3 82.9h.4M185.4 83.8h.4M185.7 84.6h.4M194.9 90.6h.4M186.4 81.0h.4M185.2 85.9h.4M185.1 89.0h.4M186.1 84.6h.4M187.3 78.9h.4M185.9 83.7h.4M187.9 86.9h.4M186.0 82.7h.4M189.0 84.3h.4M187.7 86.6h.4M188.4 88.7h.4M187.4 89.3h.4M186.2 85.4h.4M188.5 85.6h.4M186.8 84.8h.4M185.5 76.5h.4M187.7 81.6h.4M186.7 81.9h.4M190.7 83.6h.4M194.4 81.1h.4M185.6 83.3h.4M190.8 84.5h.4M189.2 81.7h.4M185.3 85.9h.4M188.4 85.3h.4M191.2 80.3h.4M188.7 86.2h.4M187.8 84.7h.4M186.9 84.4h.4M188.1 85.6h.4M189.1 77.9h.4M193.0 87.1h.4M188.1 84.1h.4M189.0 90.8h.4M192.7 87.7h.4M190.1 84.2h.4M196.1 85.2h.4M185.4 87.0h.4M186.2 87.9h.4M187.8 84.8h.4M188.2 83.5h.4M187.3 83.2h.4M195.2 88.7h.4M187.9 89.8h.4M185.5 88.1h.4M192.5 85.5h.4M187.6 81.6h.4M188.4 88.1h.4M191.1 86.9h.4M198.4 86.1h.4M196.2 85.0h.4M188.6 85.9h.4M206.4 85.1h.4M189.4 82.5h.4M185.4 94.7h.4M192.0 81.8h.4M189.3 80.5h.4M188.6 78.3h.4M192.9 84.1h.4M190.9 91.9h.4M186.9 83.4h.4M215.4 82.3h.4M191.3 84.8h.4M207.6 85.2h.4M189.8 81.6h.4M193.5 81.6h.4M204.9 82.2h.4M186.4 87.9h.4M215.7 86.5h.4M186.7 88.0h.4M190.3 89.7h.4M208.4 88.7h.4M194.2 82.8h.4M207.5 86.6h.4M191.6 81.8h.4M208.3 87.3h.4M208.8 80.8h.4M189.2 87.1h.4M193.6 85.7h.4M204.8 77.6h.4M191.5 86.4h.4M195.1 85.0h.4M196.5 86.2h.4M193.6 85.5h.4M187.7 86.7h.4M194.3 81.8h.4M219.7 81.5h.4M189.4 80.9h.4M210.9 78.5h.4M189.9 87.4h.4M214.6 83.0h.4M191.1 89.5h.4M195.5 81.7h.4M187.4 85.4h.4M190.0 85.4h.4M187.8 84.4h.4M188.8 87.4h.4M202.9 90.2h.4M199.3 91.0h.4M201.7 85.1h.4M192.0 89.7h.4M185.4 90.2h.4M201.4 80.8h.4M197.0 86.7h.4M191.5 82.9h.4M199.6 88.2h.4M191.5 88.1h.4M189.1 89.9h.4M198.9 86.4h.4M187.8 83.3h.4M195.5 87.4h.4M185.3 83.5h.4M191.6 96.9h.4M191.4 87.3h.4M187.9 82.8h.4M188.1 85.7h.4M192.9 89.3h.4M187.2 82.7h.4M205.7 86.0h.4M204.3 83.7h.4M200.9 76.0h.4M190.2 87.2h.4M186.9 86.0h.4M185.7 81.9h.4M201.4 85.6h.4M195.6 81.9h.4M195.1 90.8h.4M205.5 80.6h.4M195.0 87.2h.4M190.8 91.1h.4M209.9 82.0h.4M190.6 85.6h.4M189.9 81.8h.4M192.9 77.8h.4M185.6 89.6h.4M207.5 84.5h.4M186.4 89.3h.4M187.2 88.9h.4M186.7 90.4h.4M195.0 84.1h.4M208.7 85.0h.4M189.9 80.7h.4M196.9 88.3h.4M190.3 78.0h.4M188.2 83.3h.4M191.4 81.7h.4M194.3 86.7h.4M210.3 80.9h.4M194.1 90.4h.4M191.2 85.2h.4M187.2 86.8h.4M189.1 85.6h.4M211.8 83.8h.4M199.0 83.8h.4M192.7 79.6h.4M191.5 88.5h.4M197.8 85.4h.4M201.0 84.5h.4M193.7 77.1h.4M190.6 82.5h.4M194.2 81.6h.4M187.9 81.1h.4M195.5 87.5h.4M202.3 85.5h.4M190.6 88.2h.4M186.7 84.9h.4M187.2 83.7h.4M188.1 86.0h.4M203.6 85.1h.4M186.0 84.1h.4M189.5 80.0h.4M185.8 90.8h.4M189.0 81.7h.4M194.8 87.4h.4M200.7 86.6h.4M194.9 88.0h.4M190.2 82.5h.4M185.3 87.3h.4M198.1 80.2h.4M190.2 86.7h.4M209.3 86.4h.4M192.0 82.9h.4M188.4 92.3h.4M194.9 78.8h.4M186.9 82.3h.4M193.1 82.1h.4M194.3 82.0h.4M198.5 88.3h.4M155.4 81.4h.4M155.6 82.0h.4M154.9 79.1h.4M154.7 74.8h.4M156.2 78.4h.4M155.7 88.9h.4M156.5 77.6h.4M155.3 76.5h.4M154.8 82.5h.4M155.6 89.8h.4M155.9 75.6h.4M156.2 78.6h.4M155.3 88.1h.4M155.3 85.2h.4M155.3 89.6h.4M155.2 78.0h.4M155.9 91.3h.4M155.1 92.2h.4M155.4 83.0h.4M155.9 92.0h.4M155.9 90.2h.4M156.2 92.7h.4M155.8 86.8h.4M155.0 85.5h.4M155.8 86.3h.4" stroke="#000" stroke-width=".4" fill="none"/>
<rect x="151.90" y="42.50" width="90" height="89.70" fill="none" stroke="#000" stroke-width="1.3"/>
<rect x="186.10" y="70.6" width="55.80" height="24.3" fill="none" stroke="#000" stroke-width="1.3"/>
<line x1="149.30" y1="132.20" x2="151.90" y2="132.20" stroke="#000" stroke-width="1.3"/>
<line x1="150.80" y1="128.45" x2="151.90" y2="128.45" stroke="#111" stroke-width="0.7"/>
<line x1="150.80" y1="126.26" x2="151.90" y2="126.26" stroke="#111" stroke-width="0.7"/>
<line x1="150.80" y1="124.70" x2="151.90" y2="124.70" stroke="#111" stroke-width="0.7"/>
<line x1="149.90" y1="123.49" x2="151.90" y2="123.49" stroke="#111" stroke-width="1.0"/>
<line x1="150.80" y1="122.51" x2="151.90" y2="122.51" stroke="#111" stroke-width="0.7"/>
<line x1="150.80" y1="121.67" x2="151.90" y2="121.67" stroke="#111" stroke-width="0.7"/>
<line x1="150.80" y1="120.95" x2="151.90" y2="120.95" stroke="#111" stroke-width="0.7"/>
<line x1="150.80" y1="120.31" x2="151.90" y2="120.31" stroke="#111" stroke-width="0.7"/>
<line x1="149.30" y1="119.74" x2="151.90" y2="119.74" stroke="#000" stroke-width="1.3"/>
<line x1="150.80" y1="115.99" x2="151.90" y2="115.99" stroke="#111" stroke-width="0.7"/>
<line x1="150.80" y1="113.80" x2="151.90" y2="113.80" stroke="#111" stroke-width="0.7"/>
<line x1="150.80" y1="112.24" x2="151.90" y2="112.24" stroke="#111" stroke-width="0.7"/>
<line x1="149.90" y1="111.04" x2="151.90" y2="111.04" stroke="#111" stroke-width="1.0"/>
<line x1="150.80" y1="110.05" x2="151.90" y2="110.05" stroke="#111" stroke-width="0.7"/>
<line x1="150.80" y1="109.22" x2="151.90" y2="109.22" stroke="#111" stroke-width="0.7"/>
<line x1="150.80" y1="108.49" x2="151.90" y2="108.49" stroke="#111" stroke-width="0.7"/>
<line x1="150.80" y1="107.86" x2="151.90" y2="107.86" stroke="#111" stroke-width="0.7"/>
<line x1="149.30" y1="107.29" x2="151.90" y2="107.29" stroke="#000" stroke-width="1.3"/>
<line x1="150.80" y1="103.54" x2="151.90" y2="103.54" stroke="#111" stroke-width="0.7"/>
<line x1="150.80" y1="101.34" x2="151.90" y2="101.34" stroke="#111" stroke-width="0.7"/>
<line x1="150.80" y1="99.79" x2="151.90" y2="99.79" stroke="#111" stroke-width="0.7"/>
<line x1="149.90" y1="98.58" x2="151.90" y2="98.58" stroke="#111" stroke-width="1.0"/>
<line x1="150.80" y1="97.59" x2="151.90" y2="97.59" stroke="#111" stroke-width="0.7"/>
<line x1="150.80" y1="96.76" x2="151.90" y2="96.76" stroke="#111" stroke-width="0.7"/>
<line x1="150.80" y1="96.04" x2="151.90" y2="96.04" stroke="#111" stroke-width="0.7"/>
<line x1="150.80" y1="95.40" x2="151.90" y2="95.40" stroke="#111" stroke-width="0.7"/>
<line x1="149.30" y1="94.83" x2="151.90" y2="94.83" stroke="#000" stroke-width="1.3"/>
<line x1="150.80" y1="91.08" x2="151.90" y2="91.08" stroke="#111" stroke-width="0.7"/>
<line x1="150.80" y1="88.89" x2="151.90" y2="88.89" stroke="#111" stroke-width="0.7"/>
<line x1="150.80" y1="87.33" x2="151.90" y2="87.33" stroke="#111" stroke-width="0.7"/>
<line x1="149.90" y1="86.12" x2="151.90" y2="86.12" stroke="#111" stroke-width="1.0"/>
<line x1="150.80" y1="85.14" x2="151.90" y2="85.14" stroke="#111" stroke-width="0.7"/>
<line x1="150.80" y1="84.30" x2="151.90" y2="84.30" stroke="#111" stroke-width="0.7"/>
<line x1="150.80" y1="83.58" x2="151.90" y2="83.58" stroke="#111" stroke-width="0.7"/>
<line x1="150.80" y1="82.94" x2="151.90" y2="82.94" stroke="#111" stroke-width="0.7"/>
<line x1="149.30" y1="82.37" x2="151.90" y2="82.37" stroke="#000" stroke-width="1.3"/>
<line x1="150.80" y1="78.62" x2="151.90" y2="78.62" stroke="#111" stroke-width="0.7"/>
<line x1="150.80" y1="76.43" x2="151.90" y2="76.43" stroke="#111" stroke-width="0.7"/>
<line x1="150.80" y1="74.87" x2="151.90" y2="74.87" stroke="#111" stroke-width="0.7"/>
<line x1="149.90" y1="73.66" x2="151.90" y2="73.66" stroke="#111" stroke-width="1.0"/>
<line x1="150.80" y1="72.68" x2="151.90" y2="72.68" stroke="#111" stroke-width="0.7"/>
<line x1="150.80" y1="71.84" x2="151.90" y2="71.84" stroke="#111" stroke-width="0.7"/>
<line x1="150.80" y1="71.12" x2="151.90" y2="71.12" stroke="#111" stroke-width="0.7"/>
<line x1="150.80" y1="70.48" x2="151.90" y2="70.48" stroke="#111" stroke-width="0.7"/>
<line x1="149.30" y1="69.91" x2="151.90" y2="69.91" stroke="#000" stroke-width="1.3"/>
<line x1="150.80" y1="66.16" x2="151.90" y2="66.16" stroke="#111" stroke-width="0.7"/>
<line x1="150.80" y1="63.97" x2="151.90" y2="63.97" stroke="#111" stroke-width="0.7"/>
<line x1="150.80" y1="62.41" x2="151.90" y2="62.41" stroke="#111" stroke-width="0.7"/>
<line x1="149.90" y1="61.21" x2="151.90" y2="61.21" stroke="#111" stroke-width="1.0"/>
<line x1="150.80" y1="60.22" x2="151.90" y2="60.22" stroke="#111" stroke-width="0.7"/>
<line x1="150.80" y1="59.39" x2="151.90" y2="59.39" stroke="#111" stroke-width="0.7"/>
<line x1="150.80" y1="58.66" x2="151.90" y2="58.66" stroke="#111" stroke-width="0.7"/>
<line x1="150.80" y1="58.03" x2="151.90" y2="58.03" stroke="#111" stroke-width="0.7"/>
<line x1="149.30" y1="57.46" x2="151.90" y2="57.46" stroke="#000" stroke-width="1.3"/>
<line x1="150.80" y1="53.71" x2="151.90" y2="53.71" stroke="#111" stroke-width="0.7"/>
<line x1="150.80" y1="51.51" x2="151.90" y2="51.51" stroke="#111" stroke-width="0.7"/>
<line x1="150.80" y1="49.96" x2="151.90" y2="49.96" stroke="#111" stroke-width="0.7"/>
<line x1="149.90" y1="48.75" x2="151.90" y2="48.75" stroke="#111" stroke-width="1.0"/>
<line x1="150.80" y1="47.76" x2="151.90" y2="47.76" stroke="#111" stroke-width="0.7"/>
<line x1="150.80" y1="46.93" x2="151.90" y2="46.93" stroke="#111" stroke-width="0.7"/>
<line x1="150.80" y1="46.21" x2="151.90" y2="46.21" stroke="#111" stroke-width="0.7"/>
<line x1="150.80" y1="45.57" x2="151.90" y2="45.57" stroke="#111" stroke-width="0.7"/>
<line x1="149.30" y1="45.00" x2="151.90" y2="45.00" stroke="#000" stroke-width="1.3"/>
<line x1="151.90" y1="132.20" x2="151.90" y2="134.60" stroke="#000" stroke-width="1.3"/>
<line x1="155.62" y1="132.20" x2="155.62" y2="133.30" stroke="#111" stroke-width="0.7"/>
<line x1="157.80" y1="132.20" x2="157.80" y2="133.30" stroke="#111" stroke-width="0.7"/>
<line x1="159.35" y1="132.20" x2="159.35" y2="133.30" stroke="#111" stroke-width="0.7"/>
<line x1="160.55" y1="132.20" x2="160.55" y2="134.20" stroke="#111" stroke-width="1.0"/>
<line x1="161.53" y1="132.20" x2="161.53" y2="133.30" stroke="#111" stroke-width="0.7"/>
<line x1="162.35" y1="132.20" x2="162.35" y2="133.30" stroke="#111" stroke-width="0.7"/>
<line x1="163.07" y1="132.20" x2="163.07" y2="133.30" stroke="#111" stroke-width="0.7"/>
<line x1="163.70" y1="132.20" x2="163.70" y2="133.30" stroke="#111" stroke-width="0.7"/>
<line x1="164.27" y1="132.20" x2="164.27" y2="134.60" stroke="#000" stroke-width="1.3"/>
<line x1="167.99" y1="132.20" x2="167.99" y2="133.30" stroke="#111" stroke-width="0.7"/>
<line x1="170.17" y1="132.20" x2="170.17" y2="133.30" stroke="#111" stroke-width="0.7"/>
<line x1="171.72" y1="132.20" x2="171.72" y2="133.30" stroke="#111" stroke-width="0.7"/>
<line x1="172.92" y1="132.20" x2="172.92" y2="134.20" stroke="#111" stroke-width="1.0"/>
<line x1="173.90" y1="132.20" x2="173.90" y2="133.30" stroke="#111" stroke-width="0.7"/>
<line x1="174.72" y1="132.20" x2="174.72" y2="133.30" stroke="#111" stroke-width="0.7"/>
<line x1="175.44" y1="132.20" x2="175.44" y2="133.30" stroke="#111" stroke-width="0.7"/>
<line x1="176.07" y1="132.20" x2="176.07" y2="133.30" stroke="#111" stroke-width="0.7"/>
<line x1="176.64" y1="132.20" x2="176.64" y2="134.60" stroke="#000" stroke-width="1.3"/>
<line x1="180.36" y1="132.20" x2="180.36" y2="133.30" stroke="#111" stroke-width="0.7"/>
<line x1="182.54" y1="132.20" x2="182.54" y2="133.30" stroke="#111" stroke-width="0.7"/>
<line x1="184.09" y1="132.20" x2="184.09" y2="133.30" stroke="#111" stroke-width="0.7"/>
<line x1="185.29" y1="132.20" x2="185.29" y2="134.20" stroke="#111" stroke-width="1.0"/>
<line x1="186.27" y1="132.20" x2="186.27" y2="133.30" stroke="#111" stroke-width="0.7"/>
<line x1="187.09" y1="132.20" x2="187.09" y2="133.30" stroke="#111" stroke-width="0.7"/>
<line x1="187.81" y1="132.20" x2="187.81" y2="133.30" stroke="#111" stroke-width="0.7"/>
<line x1="188.44" y1="132.20" x2="188.44" y2="133.30" stroke="#111" stroke-width="0.7"/>
<line x1="189.01" y1="132.20" x2="189.01" y2="134.60" stroke="#000" stroke-width="1.3"/>
<line x1="192.73" y1="132.20" x2="192.73" y2="133.30" stroke="#111" stroke-width="0.7"/>
<line x1="194.91" y1="132.20" x2="194.91" y2="133.30" stroke="#111" stroke-width="0.7"/>
<line x1="196.46" y1="132.20" x2="196.46" y2="133.30" stroke="#111" stroke-width="0.7"/>
<line x1="197.66" y1="132.20" x2="197.66" y2="134.20" stroke="#111" stroke-width="1.0"/>
<line x1="198.64" y1="132.20" x2="198.64" y2="133.30" stroke="#111" stroke-width="0.7"/>
<line x1="199.46" y1="132.20" x2="199.46" y2="133.30" stroke="#111" stroke-width="0.7"/>
<line x1="200.18" y1="132.20" x2="200.18" y2="133.30" stroke="#111" stroke-width="0.7"/>
<line x1="200.81" y1="132.20" x2="200.81" y2="133.30" stroke="#111" stroke-width="0.7"/>
<line x1="201.38" y1="132.20" x2="201.38" y2="134.60" stroke="#000" stroke-width="1.3"/>
<line x1="205.10" y1="132.20" x2="205.10" y2="133.30" stroke="#111" stroke-width="0.7"/>
<line x1="207.28" y1="132.20" x2="207.28" y2="133.30" stroke="#111" stroke-width="0.7"/>
<line x1="208.83" y1="132.20" x2="208.83" y2="133.30" stroke="#111" stroke-width="0.7"/>
<line x1="210.03" y1="132.20" x2="210.03" y2="134.20" stroke="#111" stroke-width="1.0"/>
<line x1="211.01" y1="132.20" x2="211.01" y2="133.30" stroke="#111" stroke-width="0.7"/>
<line x1="211.83" y1="132.20" x2="211.83" y2="133.30" stroke="#111" stroke-width="0.7"/>
<line x1="212.55" y1="132.20" x2="212.55" y2="133.30" stroke="#111" stroke-width="0.7"/>
<line x1="213.18" y1="132.20" x2="213.18" y2="133.30" stroke="#111" stroke-width="0.7"/>
<line x1="213.75" y1="132.20" x2="213.75" y2="134.60" stroke="#000" stroke-width="1.3"/>
<line x1="217.47" y1="132.20" x2="217.47" y2="133.30" stroke="#111" stroke-width="0.7"/>
<line x1="219.65" y1="132.20" x2="219.65" y2="133.30" stroke="#111" stroke-width="0.7"/>
<line x1="221.20" y1="132.20" x2="221.20" y2="133.30" stroke="#111" stroke-width="0.7"/>
<line x1="222.40" y1="132.20" x2="222.40" y2="134.20" stroke="#111" stroke-width="1.0"/>
<line x1="223.38" y1="132.20" x2="223.38" y2="133.30" stroke="#111" stroke-width="0.7"/>
<line x1="224.20" y1="132.20" x2="224.20" y2="133.30" stroke="#111" stroke-width="0.7"/>
<line x1="224.92" y1="132.20" x2="224.92" y2="133.30" stroke="#111" stroke-width="0.7"/>
<line x1="225.55" y1="132.20" x2="225.55" y2="133.30" stroke="#111" stroke-width="0.7"/>
<line x1="226.12" y1="132.20" x2="226.12" y2="134.60" stroke="#000" stroke-width="1.3"/>
<line x1="229.84" y1="132.20" x2="229.84" y2="133.30" stroke="#111" stroke-width="0.7"/>
<line x1="232.02" y1="132.20" x2="232.02" y2="133.30" stroke="#111" stroke-width="0.7"/>
<line x1="233.57" y1="132.20" x2="233.57" y2="133.30" stroke="#111" stroke-width="0.7"/>
<line x1="234.77" y1="132.20" x2="234.77" y2="134.20" stroke="#111" stroke-width="1.0"/>
<line x1="235.75" y1="132.20" x2="235.75" y2="133.30" stroke="#111" stroke-width="0.7"/>
<line x1="236.57" y1="132.20" x2="236.57" y2="133.30" stroke="#111" stroke-width="0.7"/>
<line x1="237.29" y1="132.20" x2="237.29" y2="133.30" stroke="#111" stroke-width="0.7"/>
<line x1="237.92" y1="132.20" x2="237.92" y2="133.30" stroke="#111" stroke-width="0.7"/>
<line x1="238.49" y1="132.20" x2="238.49" y2="134.60" stroke="#000" stroke-width="1.3"/>
<text transform="translate(138.03,134.70) scale(0.841,1)" font-size="5.94" fill="#222">10</text>
<text transform="translate(144.37,131.80) scale(1.211,1)" font-size="2.75" fill="#333" style="stroke-width:0.1px">0</text>
<text transform="translate(138.03,122.24) scale(0.841,1)" font-size="5.94" fill="#222">10</text>
<text transform="translate(144.22,119.34) scale(1.336,1)" font-size="2.75" fill="#333" style="stroke-width:0.1px">1</text>
<text transform="translate(138.03,109.79) scale(0.841,1)" font-size="5.94" fill="#222">10</text>
<text transform="translate(144.32,106.89) scale(1.277,1)" font-size="2.75" fill="#333" style="stroke-width:0.1px">2</text>
<text transform="translate(138.03,97.33) scale(0.841,1)" font-size="5.94" fill="#222">10</text>
<text transform="translate(144.37,94.43) scale(1.223,1)" font-size="2.75" fill="#333" style="stroke-width:0.1px">3</text>
<text transform="translate(138.03,84.87) scale(0.841,1)" font-size="5.94" fill="#222">10</text>
<text transform="translate(144.44,81.97) scale(1.151,1)" font-size="2.75" fill="#333" style="stroke-width:0.1px">4</text>
<text transform="translate(138.03,72.41) scale(0.841,1)" font-size="5.94" fill="#222">10</text>
<text transform="translate(144.37,69.51) scale(1.223,1)" font-size="2.75" fill="#333" style="stroke-width:0.1px">5</text>
<text transform="translate(138.03,59.96) scale(0.841,1)" font-size="5.94" fill="#222">10</text>
<text transform="translate(144.33,57.06) scale(1.250,1)" font-size="2.75" fill="#333" style="stroke-width:0.1px">6</text>
<text transform="translate(138.03,47.50) scale(0.841,1)" font-size="5.94" fill="#222">10</text>
<text transform="translate(144.32,44.60) scale(1.277,1)" font-size="2.75" fill="#333" style="stroke-width:0.1px">7</text>
<text transform="translate(148.43,144.50) scale(0.805,1)" font-size="6.09" fill="#222">10</text>
<text transform="translate(153.95,141.40) scale(1.362,1)" font-size="2.75" fill="#333" style="stroke-width:0.1px">0</text>
<text transform="translate(173.17,144.50) scale(0.805,1)" font-size="6.09" fill="#222">10</text>
<text transform="translate(178.64,141.40) scale(1.437,1)" font-size="2.75" fill="#333" style="stroke-width:0.1px">2</text>
<text transform="translate(197.91,144.50) scale(0.805,1)" font-size="6.09" fill="#222">10</text>
<text transform="translate(203.51,141.40) scale(1.294,1)" font-size="2.75" fill="#333" style="stroke-width:0.1px">4</text>
<text transform="translate(222.65,144.50) scale(0.805,1)" font-size="6.09" fill="#222">10</text>
<text transform="translate(228.13,141.40) scale(1.406,1)" font-size="2.75" fill="#333" style="stroke-width:0.1px">6</text>
<text transform="translate(170.58,37.20) scale(0.900,1)" font-size="8.99" fill="#111">50 µg/mL LDL</text>
<text transform="translate(169.50,156.80) scale(0.877,1)" font-size="9.13" fill="#111">AnnexinV-APC</text>
<text transform="translate(132.90,99.53) rotate(-90) scale(0.797,1)" font-size="9.13" fill="#111">SSC-A</text>
<text transform="translate(208.60,81.80) scale(0.910,1)" font-size="6.67" fill="#111">AnnexinV+</text>
<text transform="translate(217.56,89.50) scale(0.984,1)" font-size="6.09" fill="#111">5.30</text>
<path d="M308.6 77.8h.4M289.3 83.2h.4M301.8 90.4h.4M297.6 82.9h.4M298.1 82.7h.4M299.1 84.0h.4M291.5 87.5h.4M299.0 78.2h.4M296.4 90.9h.4M314.0 86.6h.4M300.9 87.1h.4M298.5 84.5h.4M298.8 91.5h.4M297.2 83.0h.4M295.6 87.4h.4M298.4 84.9h.4M302.0 80.0h.4M299.0 84.0h.4M304.0 87.1h.4M299.2 83.5h.4M300.1 83.1h.4M306.5 84.4h.4M302.3 81.4h.4M297.9 80.6h.4M299.2 84.8h.4M302.3 81.2h.4M308.1 86.5h.4M298.9 87.0h.4M299.0 89.1h.4M304.2 88.0h.4M296.3 83.5h.4M298.8 86.0h.4M303.7 80.4h.4M302.4 86.0h.4M300.4 82.8h.4M302.8 89.3h.4M288.1 82.0h.4M304.3 85.1h.4M296.0 81.8h.4M293.0 86.7h.4M301.2 86.8h.4M302.9 81.0h.4M298.1 91.5h.4M295.5 86.3h.4M300.1 79.5h.4M299.8 81.3h.4M305.9 78.0h.4M303.1 77.4h.4M300.8 84.0h.4M304.7 77.1h.4M299.1 85.8h.4M296.1 78.7h.4M302.5 83.1h.4M302.4 90.6h.4M299.1 83.2h.4M296.7 84.4h.4M301.0 88.9h.4M289.5 83.4h.4M302.9 86.4h.4M302.1 81.6h.4M293.1 83.1h.4M300.3 84.9h.4M296.0 84.5h.4M303.2 81.7h.4M291.5 85.3h.4M296.2 86.6h.4M303.0 86.7h.4M304.9 84.6h.4M290.9 81.1h.4M297.9 86.9h.4M301.4 87.5h.4M297.4 80.9h.4M306.7 76.3h.4M295.0 83.8h.4M301.5 88.0h.4M295.6 87.5h.4M305.9 80.2h.4M299.9 89.1h.4M298.4 81.2h.4M292.8 87.7h.4M307.1 82.9h.4M303.2 87.8h.4M303.2 86.2h.4M304.8 83.6h.4M301.5 86.9h.4M297.3 82.0h.4M296.6 83.0h.4M296.6 83.2h.4M305.8 81.3h.4M293.9 87.7h.4M297.5 87.7h.4M298.7 84.3h.4M300.9 80.9h.4M302.4 86.0h.4M294.8 85.3h.4M292.7 86.6h.4M300.0 84.3h.4M305.1 83.5h.4M303.2 89.3h.4M300.9 82.1h.4M298.7 83.6h.4M301.2 78.0h.4M299.0 82.9h.4M303.4 82.6h.4M296.7 83.1h.4M300.6 86.3h.4M299.5 82.1h.4M302.3 85.7h.4M300.9 82.9h.4M310.7 82.7h.4M306.3 77.6h.4M306.3 85.7h.4M291.4 86.4h.4M298.6 80.7h.4M297.4 82.1h.4M302.2 77.7h.4M290.4 82.9h.4M304.9 80.2h.4M304.5 85.4h.4M294.5 83.7h.4M295.9 86.2h.4M296.6 81.1h.4M300.2 78.0h.4M302.7 83.7h.4M308.6 81.9h.4M299.2 90.5h.4M303.2 84.8h.4M300.7 89.1h.4M307.4 85.9h.4M303.1 82.9h.4M305.7 78.6h.4M295.5 83.2h.4M299.2 86.2h.4M296.6 84.3h.4M306.3 85.2h.4M302.8 85.1h.4M298.7 79.3h.4M298.1 85.1h.4M302.0 81.2h.4M297.1 83.9h.4M296.1 88.9h.4M302.0 77.0h.4M310.3 83.1h.4M299.0 85.3h.4M297.7 87.9h.4M295.1 84.3h.4M294.4 81.1h.4M302.2 86.8h.4M303.6 86.1h.4M300.0 77.8h.4M301.4 84.3h.4M300.5 78.0h.4M300.6 74.7h.4M293.6 80.5h.4M298.1 80.8h.4M300.5 76.5h.4M296.7 90.7h.4M298.0 79.5h.4M296.6 85.5h.4M298.6 86.7h.4M303.6 91.9h.4M298.3 83.0h.4M299.4 89.9h.4M303.4 80.2h.4M302.7 84.1h.4M307.1 82.8h.4M291.2 80.7h.4M303.6 85.5h.4M298.0 91.1h.4M300.6 91.9h.4M303.5 86.7h.4M304.5 80.3h.4M304.4 81.4h.4M300.7 86.5h.4M306.8 86.4h.4M298.8 86.3h.4M299.4 83.4h.4M303.4 81.1h.4M297.7 86.0h.4M309.1 84.3h.4M304.3 89.4h.4M309.1 81.9h.4M299.9 87.4h.4M298.4 89.2h.4M300.7 91.4h.4M303.1 91.4h.4M297.5 80.7h.4M301.6 80.1h.4M299.9 84.9h.4M306.8 81.3h.4M297.2 75.8h.4M304.4 89.7h.4M297.3 86.2h.4M296.0 88.1h.4M297.0 85.1h.4M295.0 88.6h.4M300.6 85.4h.4M304.3 84.9h.4M300.7 91.3h.4M302.6 80.3h.4M306.9 86.4h.4M301.1 78.7h.4M300.8 89.8h.4M298.8 83.6h.4M293.2 80.1h.4M303.2 77.9h.4M292.6 83.6h.4M302.7 91.5h.4M299.9 86.2h.4M304.7 78.8h.4M299.7 77.0h.4M296.5 94.6h.4M301.5 82.3h.4M297.6 79.1h.4M299.2 84.9h.4M300.2 86.5h.4M299.4 90.1h.4M299.2 83.6h.4M296.5 81.8h.4M299.2 86.8h.4M291.0 81.4h.4M299.3 85.7h.4M295.0 85.0h.4M304.7 87.9h.4M305.3 81.8h.4M291.8 81.9h.4M300.6 85.4h.4M299.5 86.0h.4M295.6 79.0h.4M302.2 81.4h.4M298.1 84.9h.4M292.6 83.0h.4M298.9 92.6h.4M299.4 86.9h.4M300.4 88.9h.4M294.8 84.0h.4M302.6 84.6h.4M303.1 84.8h.4M295.2 88.2h.4M297.2 83.1h.4M299.7 90.0h.4M297.6 81.7h.4M307.3 88.0h.4M300.9 85.3h.4M295.8 83.0h.4M296.7 90.1h.4M299.8 87.9h.4M309.6 83.7h.4M299.3 81.6h.4M300.5 87.3h.4M302.2 81.4h.4M299.8 86.3h.4M309.6 81.1h.4M297.8 84.7h.4M303.1 81.2h.4M300.7 83.6h.4M302.6 90.3h.4M295.1 90.6h.4M307.4 82.6h.4M299.5 83.4h.4M300.1 78.3h.4M296.1 85.4h.4M296.9 88.4h.4M302.4 81.3h.4M304.1 81.0h.4M303.2 85.6h.4M305.1 82.3h.4M303.0 85.0h.4M300.1 90.0h.4M303.5 86.0h.4M302.5 86.8h.4M299.6 91.2h.4M303.0 85.2h.4M305.4 86.9h.4M301.0 84.6h.4M298.5 81.6h.4M303.0 90.2h.4M308.0 79.3h.4M299.1 84.7h.4M299.6 80.2h.4M299.4 81.4h.4M305.1 79.7h.4M292.3 83.4h.4M301.5 86.1h.4M305.0 89.1h.4M296.6 77.6h.4M306.3 85.2h.4M302.2 82.9h.4M297.7 82.1h.4M300.9 84.0h.4M293.6 85.1h.4M297.6 84.0h.4M307.7 84.4h.4M296.2 92.3h.4M307.7 84.8h.4M299.7 85.6h.4M304.2 80.3h.4M300.2 88.3h.4M290.6 82.5h.4M297.6 84.1h.4M300.8 81.6h.4M295.2 84.1h.4M294.3 81.0h.4M301.5 79.7h.4M297.3 79.4h.4M292.9 83.0h.4M297.1 84.4h.4M303.6 87.0h.4M298.0 90.4h.4M303.9 91.1h.4M306.4 82.1h.4M300.1 81.9h.4M295.3 87.1h.4M294.5 81.2h.4M299.9 88.5h.4M303.7 88.2h.4M301.1 81.0h.4M302.3 87.2h.4M298.1 89.7h.4M301.3 86.1h.4M298.0 83.5h.4M298.6 83.9h.4M294.6 86.2h.4M293.4 81.9h.4M298.0 85.8h.4M295.3 83.7h.4M296.0 81.9h.4M302.8 81.0h.4M299.6 86.6h.4M312.2 81.3h.4M303.9 85.4h.4M297.3 77.9h.4M303.3 83.8h.4M301.5 84.9h.4M297.1 85.8h.4M304.6 87.9h.4M296.7 86.4h.4M287.2 86.6h.4M303.3 83.6h.4M297.4 80.8h.4M306.2 80.4h.4M297.3 81.8h.4M295.0 85.4h.4M306.5 88.2h.4M295.5 85.8h.4M300.9 85.3h.4M306.1 87.3h.4M300.5 83.4h.4M299.7 85.2h.4M300.4 84.2h.4M303.5 85.3h.4M296.6 83.8h.4M302.6 79.9h.4M302.4 83.2h.4M309.8 81.7h.4M298.6 90.7h.4M296.2 89.7h.4M303.1 82.3h.4M298.3 81.5h.4M301.2 84.6h.4M300.6 79.2h.4M304.9 89.0h.4M297.2 84.3h.4M299.6 82.8h.4M289.3 88.3h.4M296.3 89.1h.4M306.5 85.0h.4M297.1 88.1h.4M297.1 78.6h.4M294.9 81.8h.4M302.4 81.5h.4M300.7 78.7h.4M295.0 87.6h.4M302.8 93.0h.4M301.1 79.7h.4M303.2 82.4h.4M297.3 88.2h.4M307.3 83.4h.4M301.7 84.4h.4M299.5 81.6h.4M297.8 85.6h.4M299.0 80.9h.4M303.6 87.1h.4M298.9 86.3h.4M304.5 85.7h.4M302.4 81.7h.4M305.7 83.6h.4M303.4 86.1h.4M299.7 81.2h.4M292.0 80.9h.4M301.3 76.3h.4M303.3 82.5h.4M300.7 83.9h.4M302.3 87.8h.4M298.0 80.1h.4M298.4 79.2h.4M296.0 88.7h.4M305.7 88.3h.4M300.7 80.3h.4M297.9 82.6h.4M294.4 77.9h.4M299.4 84.1h.4M306.1 89.0h.4M301.9 87.2h.4M297.0 80.6h.4M306.0 85.4h.4M306.0 81.8h.4M304.1 85.5h.4M303.3 82.4h.4M304.9 86.6h.4M302.3 88.9h.4M303.3 85.5h.4M296.7 85.7h.4M306.3 85.8h.4M301.0 87.5h.4M308.5 82.9h.4M291.4 83.8h.4M303.0 83.9h.4M304.1 89.1h.4M298.6 85.0h.4M301.9 86.4h.4M303.1 83.1h.4M302.4 79.6h.4M297.7 83.3h.4M299.4 86.1h.4M304.3 83.3h.4M305.4 82.4h.4M300.4 83.1h.4M300.3 86.3h.4M300.8 86.0h.4M304.4 84.4h.4M295.6 81.1h.4M294.4 82.0h.4M300.5 97.3h.4M295.4 83.8h.4M297.5 86.6h.4M300.4 85.5h.4M302.0 79.5h.4M295.5 89.1h.4M303.4 84.7h.4M292.6 81.3h.4M302.3 87.1h.4M293.4 82.4h.4M294.6 85.5h.4M302.7 79.7h.4M298.3 83.8h.4M296.7 86.8h.4M298.1 82.7h.4M302.0 79.4h.4M299.8 81.5h.4M299.9 86.8h.4M304.4 78.8h.4M297.0 79.5h.4M298.0 87.1h.4M297.8 84.8h.4M304.9 84.2h.4M304.2 82.8h.4M305.4 85.8h.4M299.9 87.3h.4M299.3 86.0h.4M303.6 78.2h.4M298.3 86.6h.4M303.5 78.5h.4M303.0 90.5h.4M297.1 82.8h.4M299.7 86.5h.4M299.5 85.5h.4M307.3 82.1h.4M310.9 88.6h.4M299.6 85.2h.4M300.1 91.9h.4M290.4 86.8h.4M300.9 85.6h.4M300.0 93.4h.4M295.5 89.4h.4M303.3 84.5h.4M293.4 81.7h.4M299.1 91.4h.4M300.6 88.9h.4M294.8 88.9h.4M303.6 83.4h.4M304.4 82.4h.4M294.2 81.4h.4M294.1 88.6h.4M302.5 84.0h.4M299.9 86.9h.4M294.9 76.8h.4M298.8 88.2h.4M299.5 82.0h.4M299.4 74.8h.4M303.5 79.9h.4M301.6 86.0h.4M307.4 89.9h.4M305.8 74.6h.4M302.8 79.6h.4M304.5 84.9h.4M305.6 78.9h.4M303.0 82.8h.4M294.9 80.7h.4M303.6 84.7h.4M300.3 79.0h.4M306.8 83.1h.4M300.4 81.3h.4M302.2 84.8h.4M301.4 84.1h.4M307.1 87.9h.4M300.7 85.1h.4M298.9 90.6h.4M301.3 78.6h.4M298.2 83.4h.4M300.7 87.1h.4M300.0 84.7h.4M301.1 74.9h.4M308.1 85.5h.4M298.3 82.6h.4M300.2 93.2h.4M299.2 84.0h.4M302.8 86.8h.4M295.0 80.9h.4M297.1 86.9h.4M299.8 74.3h.4M302.3 80.7h.4M299.8 83.0h.4M297.9 78.6h.4M296.4 87.9h.4M302.1 84.4h.4M306.1 90.3h.4M301.4 79.3h.4M300.8 81.4h.4M301.9 86.7h.4M296.0 82.6h.4M298.7 87.4h.4M298.9 86.7h.4M301.2 81.7h.4M299.9 84.8h.4M294.9 86.3h.4M304.7 85.3h.4M307.1 83.7h.4M298.9 82.7h.4M301.7 83.6h.4M301.1 88.0h.4M303.3 91.9h.4M293.8 79.3h.4M306.8 80.8h.4M298.0 83.8h.4M305.3 89.7h.4M300.3 81.3h.4M298.4 92.9h.4M299.4 92.7h.4M303.8 75.8h.4M296.4 86.9h.4M298.4 86.7h.4M298.0 82.9h.4M292.8 77.8h.4M305.5 85.5h.4M302.4 83.1h.4M299.9 88.8h.4M304.9 86.6h.4M296.0 81.1h.4M299.7 91.6h.4M307.2 91.2h.4M304.1 90.0h.4M290.7 84.8h.4M286.0 88.0h.4M295.6 85.0h.4M304.5 82.6h.4M298.0 77.8h.4M299.1 85.6h.4M302.6 77.4h.4M296.3 87.2h.4M300.9 79.7h.4M303.3 85.4h.4M302.0 83.6h.4M301.7 80.5h.4M297.5 80.9h.4M302.2 82.5h.4M298.2 90.1h.4M305.5 86.0h.4M310.8 83.6h.4M296.9 87.6h.4M290.9 80.4h.4M298.2 79.1h.4M301.6 81.3h.4M304.4 88.3h.4M304.5 83.5h.4M296.7 85.0h.4M296.7 84.9h.4M305.3 83.0h.4M295.4 89.0h.4M304.6 87.1h.4M299.0 81.3h.4M303.2 80.7h.4M303.0 84.3h.4M303.3 81.1h.4M303.4 84.4h.4M295.8 87.1h.4M301.2 84.6h.4M300.1 85.1h.4M301.3 82.6h.4M305.2 81.5h.4M298.9 80.7h.4M297.0 89.1h.4M296.9 81.6h.4M298.7 84.7h.4M303.2 84.8h.4M296.6 86.0h.4M304.9 83.2h.4M301.2 78.5h.4M299.1 92.0h.4M294.4 80.5h.4M301.0 86.6h.4M302.9 80.4h.4M292.6 86.8h.4M305.0 80.5h.4M306.9 90.6h.4M301.4 86.1h.4M302.1 78.6h.4M310.1 90.6h.4M305.2 77.4h.4M296.2 83.1h.4M299.9 88.5h.4M299.3 82.9h.4M299.4 89.1h.4M290.1 84.5h.4M303.2 82.2h.4M297.3 89.0h.4M300.7 84.5h.4M299.4 82.6h.4M303.7 87.8h.4M298.8 83.4h.4M296.7 79.3h.4M302.2 81.7h.4M305.9 93.5h.4M298.7 92.8h.4M305.8 78.6h.4M301.1 87.3h.4M297.8 88.9h.4M306.4 83.3h.4M296.6 86.8h.4M304.3 80.6h.4M297.9 83.1h.4M301.9 88.2h.4M294.8 84.1h.4M296.5 83.7h.4M304.5 83.4h.4M300.8 79.3h.4M300.2 80.5h.4M298.2 82.3h.4M301.9 83.8h.4M294.1 81.0h.4M295.3 91.2h.4M299.3 77.7h.4M296.5 80.2h.4M297.1 81.8h.4M299.7 86.2h.4M299.4 78.9h.4M299.1 85.2h.4M307.0 81.1h.4M304.2 81.3h.4M305.2 85.8h.4M299.9 87.3h.4M297.9 88.1h.4M293.9 79.9h.4M298.5 88.1h.4M291.2 88.2h.4M297.5 85.5h.4M303.2 86.0h.4M306.8 84.5h.4M304.1 83.8h.4M296.4 87.5h.4M302.1 90.5h.4M296.7 83.4h.4M303.5 85.7h.4M299.5 87.8h.4M303.6 79.2h.4M310.8 90.5h.4M303.9 85.8h.4M309.8 89.8h.4M300.7 83.4h.4M298.6 81.2h.4M305.6 83.9h.4M307.2 85.6h.4M297.7 81.0h.4M300.3 87.8h.4M294.0 85.5h.4M299.2 80.5h.4M303.7 86.2h.4M299.6 83.9h.4M297.6 84.6h.4M294.1 83.0h.4M301.5 81.9h.4M303.3 80.0h.4M302.5 85.0h.4M301.1 84.7h.4M294.6 86.3h.4M307.4 81.9h.4M299.8 86.2h.4M299.4 87.7h.4M303.1 80.2h.4M290.9 85.3h.4M299.7 92.7h.4M299.4 82.7h.4M301.6 83.4h.4M305.7 84.3h.4M302.0 82.6h.4M292.3 87.7h.4M298.6 84.2h.4M300.9 84.1h.4M300.6 81.6h.4M294.6 86.5h.4M293.0 84.1h.4M302.3 82.9h.4M301.4 83.3h.4M299.9 90.3h.4M292.8 84.4h.4M307.5 85.4h.4M287.8 89.4h.4M298.5 84.1h.4M308.8 88.0h.4M299.3 80.7h.4M301.0 86.9h.4M295.0 76.6h.4M305.7 85.0h.4M294.6 82.8h.4M301.1 81.8h.4M300.6 88.4h.4M295.6 87.1h.4M303.7 87.6h.4M294.1 90.0h.4M297.1 86.4h.4M299.9 86.5h.4M298.3 84.2h.4M302.0 91.4h.4M303.9 87.7h.4M298.8 81.5h.4M297.7 81.2h.4M297.8 81.7h.4M298.5 81.7h.4M303.4 89.1h.4M299.1 85.5h.4M301.7 88.3h.4M299.6 81.6h.4M296.5 81.6h.4M303.6 88.9h.4M295.6 77.0h.4M300.0 80.0h.4M306.2 76.6h.4M295.4 81.9h.4M299.8 93.8h.4M293.3 81.5h.4M297.9 88.2h.4M293.7 90.4h.4M298.5 81.9h.4M297.7 81.7h.4M300.6 85.6h.4M306.7 86.8h.4M301.2 78.6h.4M302.8 81.4h.4M299.8 90.4h.4M299.0 81.4h.4M296.5 85.7h.4M292.4 88.1h.4M300.3 83.1h.4M306.8 83.7h.4M302.0 82.3h.4M297.8 81.9h.4M306.9 82.1h.4M298.2 78.4h.4M297.4 82.5h.4M294.9 83.5h.4M296.0 87.0h.4M299.0 82.8h.4M308.4 81.9h.4M299.1 91.3h.4M295.7 84.3h.4M297.5 83.5h.4M299.1 82.4h.4M292.8 84.3h.4M300.5 81.2h.4M302.9 82.5h.4M301.3 81.2h.4M302.5 79.9h.4M294.6 82.7h.4M292.9 79.3h.4M305.4 90.7h.4M304.6 80.1h.4M293.5 90.8h.4M300.9 85.5h.4M300.1 87.6h.4M302.3 89.7h.4M300.9 78.3h.4M297.9 90.4h.4M300.8 86.2h.4M300.7 82.6h.4M299.8 81.7h.4M292.2 85.7h.4M287.4 78.6h.4M296.7 90.9h.4M293.1 83.9h.4M301.1 87.3h.4M303.0 84.9h.4M301.1 83.0h.4M298.4 83.1h.4M300.3 81.4h.4M304.9 89.1h.4M296.9 84.5h.4M303.9 86.5h.4M303.0 86.3h.4M301.1 87.1h.4M306.1 86.2h.4M297.0 89.2h.4M304.0 82.3h.4M296.1 81.0h.4M296.8 84.2h.4M295.5 83.4h.4M301.9 84.9h.4M296.1 88.9h.4M300.2 88.2h.4M295.2 86.7h.4M304.5 81.9h.4M307.7 86.5h.4M300.9 85.3h.4M306.9 87.4h.4M302.4 84.7h.4M309.1 83.3h.4M300.4 85.2h.4M293.4 82.1h.4M306.3 81.5h.4M299.5 85.5h.4M295.6 84.7h.4M297.2 88.3h.4M293.2 85.2h.4M299.3 80.5h.4M295.5 89.6h.4M306.2 90.6h.4M302.8 80.7h.4M293.0 82.5h.4M293.7 88.2h.4M297.6 85.3h.4M291.9 79.3h.4M299.5 88.7h.4M299.8 85.0h.4M296.8 85.8h.4M297.7 88.8h.4M302.1 82.2h.4M306.0 82.0h.4M306.3 87.0h.4M300.1 87.9h.4M303.6 85.0h.4M296.9 88.7h.4M301.7 86.1h.4M296.0 88.5h.4M303.1 81.6h.4M294.8 83.8h.4M295.9 88.4h.4M300.0 81.5h.4M302.3 81.7h.4M294.0 85.0h.4M297.7 83.5h.4M300.6 81.2h.4M301.0 78.6h.4M296.5 89.4h.4M300.4 84.7h.4M298.9 89.6h.4M305.9 81.3h.4M302.3 84.7h.4M294.4 83.9h.4M290.8 84.8h.4M300.4 78.9h.4M305.0 88.9h.4M300.7 83.5h.4M303.7 85.2h.4M298.0 80.9h.4M294.3 89.9h.4M303.1 79.0h.4M300.4 91.2h.4M302.9 83.0h.4M294.2 83.2h.4M300.8 82.0h.4M297.4 89.4h.4M303.4 81.3h.4M297.6 81.3h.4M297.4 81.0h.4M297.5 86.1h.4M305.3 86.3h.4M300.1 81.8h.4M296.8 86.2h.4M295.7 89.9h.4M295.6 86.9h.4M306.1 85.7h.4M292.4 80.7h.4M296.4 89.9h.4M302.7 86.8h.4M304.9 79.3h.4M299.4 81.7h.4M303.3 74.5h.4M303.2 86.2h.4M304.1 79.9h.4M300.2 83.4h.4M307.0 89.3h.4M300.9 79.2h.4M306.5 87.4h.4M295.5 83.2h.4M304.0 80.4h.4M294.8 88.9h.4M293.8 85.7h.4M302.2 81.8h.4M296.6 86.1h.4M302.0 82.1h.4M295.6 81.1h.4M306.9 82.9h.4M300.2 87.8h.4M295.4 78.5h.4M300.9 79.5h.4M303.9 87.4h.4M296.9 79.2h.4M302.4 83.5h.4M308.8 83.1h.4M303.8 79.6h.4M300.2 81.5h.4M297.8 83.7h.4M302.6 83.9h.4M293.8 86.4h.4M287.5 84.9h.4M297.4 87.4h.4M295.7 84.9h.4M307.6 82.6h.4M300.8 86.4h.4M296.1 85.8h.4M295.4 87.3h.4M302.3 83.6h.4M296.8 83.7h.4M297.8 83.8h.4M299.9 78.9h.4M300.6 85.8h.4M300.7 81.8h.4M300.8 81.5h.4M305.7 82.9h.4M307.4 91.7h.4M293.3 81.4h.4M311.1 89.6h.4M300.8 76.7h.4M305.5 83.2h.4M297.2 91.1h.4M301.7 84.9h.4M301.2 85.6h.4M300.8 82.2h.4M303.9 77.2h.4M303.0 86.1h.4M296.1 87.6h.4M299.8 88.1h.4M303.4 91.2h.4M303.2 84.0h.4M298.9 86.2h.4M299.1 76.7h.4M299.7 83.1h.4M295.7 84.9h.4M294.9 88.9h.4M306.9 91.0h.4M298.7 90.1h.4M300.7 86.0h.4M297.2 83.9h.4M305.8 84.1h.4M307.7 84.2h.4M299.4 84.9h.4M302.5 88.6h.4M297.1 83.7h.4M307.7 78.4h.4M304.2 80.1h.4M296.8 94.9h.4M305.6 89.2h.4M301.8 82.6h.4M302.1 83.4h.4M301.8 87.0h.4M297.5 85.5h.4M298.1 85.5h.4M302.9 77.3h.4M300.1 79.4h.4M296.3 84.9h.4M308.8 86.9h.4M299.4 85.5h.4M297.9 90.1h.4M297.4 84.6h.4M303.2 85.3h.4M304.4 84.6h.4M301.3 87.9h.4M303.9 82.2h.4M294.0 91.7h.4M298.7 80.6h.4M298.3 87.2h.4M300.3 87.0h.4M302.3 90.1h.4M291.7 80.4h.4M313.4 81.2h.4M296.6 83.4h.4M301.7 87.0h.4M303.7 87.5h.4M303.8 75.2h.4M301.3 83.3h.4M288.0 85.3h.4M295.7 85.7h.4M303.4 85.7h.4M296.4 83.9h.4M295.8 84.8h.4M290.3 77.6h.4M305.3 87.5h.4M302.3 75.7h.4M296.4 83.7h.4M299.6 81.0h.4M299.7 85.5h.4M295.5 80.8h.4M299.0 87.4h.4M301.2 85.5h.4M302.5 86.5h.4M305.4 88.2h.4M300.2 88.4h.4M298.2 83.6h.4M301.8 87.2h.4M297.5 86.0h.4M294.8 87.0h.4M304.9 84.8h.4M298.5 75.2h.4M300.6 83.3h.4M302.8 84.2h.4M295.4 82.4h.4M302.8 81.7h.4M302.0 84.7h.4M299.7 81.7h.4M301.7 86.5h.4M296.9 88.7h.4M290.8 84.2h.4M298.9 87.2h.4M296.3 80.0h.4M303.7 80.6h.4M301.2 83.1h.4M297.9 80.8h.4M300.3 84.4h.4M305.8 84.5h.4M304.8 89.9h.4M301.6 82.3h.4M301.9 88.7h.4M298.9 80.6h.4M299.5 83.4h.4M302.5 87.2h.4M299.6 85.4h.4M301.3 75.6h.4M295.4 84.1h.4M293.1 85.9h.4M292.9 78.9h.4M298.2 82.7h.4M305.6 83.2h.4M305.0 85.7h.4M295.9 88.8h.4M293.5 79.4h.4M303.4 81.1h.4M302.0 89.9h.4M294.3 88.5h.4M304.5 90.4h.4M300.8 84.2h.4M305.6 88.0h.4M301.5 75.8h.4M303.8 85.9h.4M301.4 80.9h.4M296.1 79.3h.4M299.1 80.5h.4M297.2 87.9h.4M303.6 89.6h.4M295.9 82.6h.4M293.6 83.1h.4M302.9 88.5h.4M304.9 81.9h.4M306.1 85.2h.4M304.6 86.5h.4M293.7 88.6h.4M297.1 83.4h.4M297.8 74.4h.4M300.0 83.6h.4M291.0 86.8h.4M300.0 82.7h.4M301.2 82.3h.4M296.1 80.9h.4M300.5 85.9h.4M305.1 84.9h.4M300.2 85.3h.4M304.5 84.3h.4M304.3 88.9h.4M301.8 85.5h.4M301.7 84.1h.4M298.5 80.4h.4M305.3 82.9h.4M298.1 84.3h.4M297.1 89.6h.4M303.0 86.1h.4M297.0 83.2h.4M301.8 87.0h.4M304.5 86.6h.4M300.4 82.8h.4M300.5 86.0h.4M303.9 80.5h.4M303.2 84.7h.4M293.6 91.5h.4M294.5 87.9h.4M305.6 86.6h.4M301.7 87.5h.4M291.3 86.9h.4M294.4 80.3h.4M300.2 82.8h.4M295.9 82.0h.4M302.0 86.1h.4M300.4 87.7h.4M302.1 91.6h.4M295.2 83.9h.4M302.7 80.4h.4M308.3 85.5h.4M296.7 84.3h.4M305.6 85.4h.4M304.2 84.5h.4M302.8 86.2h.4M299.8 82.4h.4M295.2 85.5h.4M296.4 87.9h.4M303.3 85.1h.4M304.2 86.4h.4M305.2 82.2h.4M304.1 87.5h.4M303.9 84.1h.4M298.3 82.1h.4M295.0 83.7h.4M301.0 83.1h.4M302.2 83.9h.4M300.5 82.5h.4M293.7 90.5h.4M297.9 87.6h.4M293.9 86.1h.4M300.7 86.1h.4M295.7 84.1h.4M299.4 87.3h.4M301.5 83.6h.4M300.7 84.2h.4M305.9 81.7h.4M295.5 88.7h.4M290.9 88.6h.4M304.1 88.3h.4M306.0 88.3h.4M306.1 76.1h.4M301.3 84.7h.4M302.4 88.0h.4M300.6 86.2h.4M294.7 78.9h.4M297.7 85.4h.4M302.2 86.8h.4M297.7 82.5h.4M308.1 80.3h.4M293.7 82.2h.4M298.3 73.9h.4M304.8 85.2h.4M297.6 81.3h.4M295.4 83.1h.4M294.4 83.7h.4M297.1 83.9h.4M306.5 89.8h.4M301.8 81.2h.4M302.3 83.4h.4M298.0 76.7h.4M303.7 81.8h.4M300.6 77.4h.4M296.3 86.8h.4M298.2 84.0h.4M301.0 82.0h.4M305.1 87.2h.4M299.9 80.5h.4M302.2 83.5h.4M308.6 81.2h.4M296.8 80.8h.4M294.9 83.3h.4M304.3 82.0h.4M302.0 83.6h.4M299.7 80.2h.4M301.3 78.6h.4M298.8 88.9h.4M302.3 85.5h.4M298.7 82.9h.4M303.5 84.9h.4M295.2 80.6h.4M296.7 85.5h.4M300.6 79.0h.4M298.2 85.8h.4M303.1 85.5h.4M300.0 84.0h.4M297.9 86.7h.4M301.0 84.0h.4M297.9 90.2h.4M293.6 86.5h.4M295.4 78.9h.4M296.8 80.7h.4M298.2 90.1h.4M300.6 82.3h.4M304.0 85.5h.4M302.5 82.4h.4M307.6 89.6h.4M305.5 88.2h.4M299.4 87.2h.4M307.1 82.9h.4M305.1 83.3h.4M298.3 89.2h.4M301.5 82.4h.4M304.8 76.8h.4M301.2 89.9h.4M304.5 87.8h.4M301.9 79.8h.4M303.1 85.4h.4M298.9 86.6h.4M301.8 85.2h.4M298.7 90.3h.4M303.0 88.9h.4M293.1 81.7h.4M301.6 83.9h.4M305.4 87.7h.4M302.6 87.8h.4M300.1 83.3h.4M302.5 88.5h.4M296.6 81.5h.4M296.7 87.4h.4M298.7 78.2h.4M299.6 86.2h.4M304.3 91.7h.4M296.4 89.8h.4M304.4 81.6h.4M293.6 74.0h.4M296.9 85.5h.4M300.0 88.3h.4M305.1 84.8h.4M297.6 85.3h.4M291.2 79.5h.4M302.0 82.5h.4M300.1 79.9h.4M295.7 79.8h.4M295.8 82.4h.4M297.3 89.4h.4M300.6 85.6h.4M303.0 81.6h.4M294.0 83.7h.4M309.8 80.9h.4M300.0 82.2h.4M298.6 84.9h.4M303.0 78.9h.4M300.6 85.3h.4M310.0 82.0h.4M304.8 88.1h.4M298.6 80.9h.4M298.5 85.0h.4M298.1 81.2h.4M298.8 86.0h.4M303.0 78.0h.4M297.5 82.3h.4M307.0 81.1h.4M299.8 78.5h.4M299.6 82.9h.4M304.2 83.5h.4M291.9 82.1h.4M296.3 80.6h.4M302.7 81.7h.4M300.2 81.6h.4M300.1 87.9h.4M301.8 86.1h.4M297.7 88.9h.4M299.5 87.6h.4M294.5 90.7h.4M292.3 84.5h.4M305.5 85.4h.4M296.3 84.8h.4M297.2 83.1h.4M306.0 86.8h.4M304.6 85.9h.4M298.0 86.3h.4M297.9 85.5h.4M299.8 88.3h.4M296.2 79.6h.4M302.5 86.6h.4M300.8 84.5h.4M300.7 82.4h.4M303.3 83.5h.4M303.2 86.4h.4M307.9 87.5h.4M306.5 83.9h.4M293.0 87.2h.4M303.9 86.0h.4M295.5 88.3h.4M294.2 88.3h.4M303.1 87.4h.4M297.2 83.4h.4M298.8 80.8h.4M304.7 89.6h.4M297.4 81.8h.4M296.4 87.6h.4M301.5 85.0h.4M305.3 90.5h.4M302.4 84.3h.4M293.6 83.6h.4M297.4 77.5h.4M299.5 86.9h.4M308.3 84.7h.4M303.9 82.6h.4M303.7 83.3h.4M305.2 89.2h.4M298.9 86.1h.4M302.2 87.7h.4M302.2 83.9h.4M296.1 85.9h.4M300.1 88.1h.4M302.5 83.8h.4M295.6 89.3h.4M303.6 84.0h.4M303.3 91.6h.4M304.5 82.9h.4M296.9 83.3h.4M300.6 85.3h.4M306.3 83.7h.4M303.5 84.5h.4M296.8 84.8h.4M301.1 89.2h.4M306.1 83.2h.4M299.8 89.0h.4M301.8 88.0h.4M310.9 85.4h.4M300.0 84.2h.4M299.7 91.6h.4M295.9 76.0h.4M297.4 83.3h.4M306.4 84.5h.4M299.6 86.8h.4M295.2 85.1h.4M296.2 88.2h.4M300.2 86.9h.4M303.4 88.7h.4M297.0 82.8h.4M303.1 86.6h.4M298.1 90.8h.4M301.6 82.7h.4M302.3 85.6h.4M302.7 80.0h.4M298.3 86.3h.4M299.4 82.2h.4M302.2 87.1h.4M294.7 80.9h.4M300.8 85.0h.4M302.2 81.3h.4M304.4 84.7h.4M299.9 86.3h.4M299.3 92.9h.4M300.6 86.3h.4M297.0 86.5h.4M299.2 91.3h.4M301.7 88.6h.4M301.2 81.1h.4M295.6 86.7h.4M298.6 85.2h.4M291.1 87.7h.4M303.4 86.6h.4M297.8 78.5h.4M301.0 82.7h.4M295.4 91.1h.4M299.6 87.7h.4M301.8 81.6h.4M304.1 82.9h.4M294.2 83.6h.4M303.5 79.8h.4M299.3 72.7h.4M296.7 86.3h.4M301.9 80.6h.4M298.7 81.9h.4M298.7 81.6h.4M297.0 82.9h.4M300.9 82.7h.4M300.1 89.8h.4M299.2 83.1h.4M295.9 86.4h.4M297.8 84.1h.4M301.6 88.8h.4M305.3 84.6h.4M299.8 77.0h.4M305.9 90.7h.4M299.9 90.2h.4M295.3 86.7h.4M302.6 78.5h.4M295.9 89.0h.4M301.6 85.5h.4M304.4 81.3h.4M298.6 82.2h.4M299.5 88.4h.4M310.3 81.9h.4M300.9 83.6h.4M301.0 81.5h.4M303.2 86.1h.4M299.5 81.0h.4M299.5 86.3h.4M301.5 83.1h.4M289.9 91.6h.4M305.9 82.6h.4M295.4 84.6h.4M295.4 87.7h.4M302.2 87.4h.4M300.0 78.8h.4M294.7 84.9h.4M300.8 85.7h.4M295.1 86.8h.4M297.0 83.7h.4M293.6 89.7h.4M296.5 89.3h.4M301.6 83.0h.4M300.4 80.5h.4M301.2 84.1h.4M303.8 86.5h.4M299.7 88.4h.4M297.2 80.3h.4M298.8 82.2h.4M306.8 77.5h.4M300.1 81.1h.4M301.3 88.6h.4M299.5 92.3h.4M301.0 87.4h.4M301.7 84.3h.4M299.9 83.8h.4M299.3 91.9h.4M296.6 89.2h.4M296.4 85.6h.4M301.6 83.0h.4M303.1 82.1h.4M303.8 84.9h.4M300.1 91.4h.4M296.5 84.1h.4M302.6 83.6h.4M302.5 85.9h.4M293.6 83.9h.4M303.3 88.3h.4M302.4 81.2h.4M306.9 85.1h.4M295.2 82.3h.4M294.6 87.8h.4M303.2 85.3h.4M292.4 82.0h.4M296.9 82.7h.4M295.4 84.4h.4M295.7 89.8h.4M291.9 86.5h.4M298.9 85.6h.4M304.0 80.9h.4M301.8 79.0h.4M301.8 78.8h.4M298.4 82.2h.4M306.0 85.8h.4M302.2 84.5h.4M304.3 88.4h.4M293.5 80.4h.4M301.4 83.6h.4M295.2 83.4h.4M301.4 80.7h.4M300.8 76.4h.4M295.2 81.3h.4M300.7 87.6h.4M304.8 78.0h.4M302.1 87.3h.4M302.5 87.4h.4M296.4 83.7h.4M297.1 85.3h.4M295.3 83.8h.4M300.5 84.3h.4M305.0 89.5h.4M301.8 88.4h.4M300.0 87.9h.4M295.3 85.2h.4M301.9 83.9h.4M299.0 85.2h.4M292.0 79.7h.4M292.8 81.1h.4M298.6 84.6h.4M296.3 77.8h.4M306.9 84.3h.4M300.2 83.8h.4M295.7 83.6h.4M298.0 83.8h.4M306.7 81.8h.4M296.0 91.7h.4M303.2 77.2h.4M301.8 81.5h.4M306.2 77.7h.4M302.2 85.3h.4M298.3 87.4h.4M302.2 90.6h.4M300.3 81.5h.4M304.1 86.5h.4M299.8 80.8h.4M308.3 83.8h.4M299.6 86.4h.4M301.9 78.7h.4M297.3 83.4h.4M300.6 81.8h.4M300.2 85.4h.4M300.8 87.0h.4M303.8 78.7h.4M297.8 83.6h.4M296.5 79.0h.4M304.7 75.7h.4M298.9 80.0h.4M297.3 81.6h.4M304.9 79.6h.4M303.3 80.0h.4M289.0 88.7h.4M298.5 84.4h.4M303.3 88.0h.4M303.6 89.2h.4M297.9 84.7h.4M306.6 93.4h.4M296.8 85.8h.4M299.1 84.7h.4M300.6 81.3h.4M300.1 83.0h.4M303.5 85.5h.4M304.4 84.6h.4M299.9 85.1h.4M305.9 85.5h.4M297.2 79.3h.4M299.2 81.4h.4M307.3 82.8h.4M300.5 82.3h.4M304.6 79.3h.4M298.3 83.9h.4M299.0 81.0h.4M299.7 87.7h.4M300.8 81.2h.4M298.7 85.0h.4M300.2 76.9h.4M302.9 83.5h.4M305.2 87.7h.4M300.6 84.3h.4M302.8 86.4h.4M303.9 84.8h.4M295.6 83.0h.4M293.6 85.9h.4M306.9 85.6h.4M305.7 85.5h.4M300.4 82.0h.4M301.6 82.3h.4M296.2 74.2h.4M294.4 84.4h.4M301.5 80.2h.4M293.9 81.3h.4M304.0 87.0h.4M297.3 84.7h.4M301.4 85.4h.4M308.2 81.4h.4M308.0 85.8h.4M299.0 84.1h.4M304.6 84.7h.4M295.8 83.6h.4M297.7 90.0h.4M301.7 80.0h.4M305.9 84.9h.4M297.7 85.1h.4M302.4 87.5h.4M300.5 86.0h.4M294.8 82.4h.4M299.6 84.7h.4M306.4 89.6h.4M299.7 88.0h.4M302.2 82.8h.4M303.6 84.9h.4M297.0 83.7h.4M305.3 89.0h.4M306.4 82.7h.4M306.8 89.0h.4M305.6 90.2h.4M298.2 83.8h.4M297.7 92.4h.4M296.8 83.5h.4M296.3 83.6h.4M296.8 87.0h.4M304.3 82.5h.4M306.2 84.7h.4M297.4 80.1h.4M303.5 82.9h.4M294.8 84.6h.4M298.7 79.5h.4M295.9 86.9h.4M293.3 87.0h.4M300.3 83.9h.4M300.4 86.7h.4M298.4 86.7h.4M297.9 81.5h.4M295.9 86.3h.4M299.5 85.1h.4M297.5 82.0h.4M301.1 85.7h.4M295.0 80.5h.4M301.0 74.2h.4M302.2 85.9h.4M305.3 85.2h.4M304.5 90.9h.4M300.8 83.2h.4M297.2 87.6h.4M292.4 81.3h.4M300.0 80.3h.4M306.0 83.3h.4M307.0 85.2h.4M289.4 84.4h.4M296.9 88.5h.4M298.6 88.8h.4M295.7 80.0h.4M300.8 82.8h.4M300.2 91.1h.4M297.9 89.6h.4M299.9 80.6h.4M293.3 82.1h.4M296.0 91.9h.4M296.3 81.4h.4M303.8 89.3h.4M293.2 77.7h.4M299.1 84.2h.4M303.3 81.2h.4M299.8 86.2h.4M303.4 89.6h.4M297.3 86.7h.4M301.9 88.6h.4M303.8 89.2h.4M309.4 91.0h.4M303.1 86.2h.4M306.0 78.0h.4M300.1 79.3h.4M300.4 88.2h.4M306.6 87.2h.4M302.5 88.8h.4M306.0 83.7h.4M303.0 83.1h.4M309.0 78.0h.4M310.1 80.6h.4M296.5 84.1h.4M307.9 82.1h.4M301.9 78.6h.4M302.1 89.7h.4M299.6 84.5h.4M303.1 85.4h.4M295.4 84.8h.4M297.0 84.3h.4M296.9 80.5h.4M301.3 87.5h.4M304.0 82.3h.4M303.2 80.7h.4M301.7 88.9h.4M297.6 84.7h.4M292.7 86.6h.4M301.8 77.5h.4M300.7 90.7h.4M301.6 81.3h.4M306.1 80.2h.4M299.4 82.9h.4M299.3 80.8h.4M290.4 81.1h.4M302.5 86.1h.4M299.9 89.6h.4M297.0 83.5h.4M301.7 84.4h.4M295.7 84.6h.4M297.8 85.1h.4M308.4 79.8h.4M303.3 90.5h.4M304.0 79.2h.4M303.3 82.0h.4M302.8 91.8h.4M300.9 84.0h.4M309.7 80.8h.4M299.8 84.8h.4M303.2 92.9h.4M299.2 84.7h.4M298.6 80.4h.4M289.9 85.3h.4M292.0 85.6h.4M306.6 81.5h.4M306.4 85.4h.4M298.3 76.4h.4M300.0 86.2h.4M302.7 85.3h.4M295.9 84.9h.4M307.5 82.2h.4M295.7 89.5h.4M297.1 87.0h.4M288.5 89.5h.4M306.4 82.4h.4M300.3 87.3h.4M306.9 90.9h.4M295.9 89.8h.4M301.5 81.2h.4M300.4 84.5h.4M300.9 82.2h.4M308.8 83.5h.4M309.6 84.5h.4M305.9 90.9h.4M298.4 90.1h.4M303.8 84.0h.4M305.7 87.8h.4M302.4 82.4h.4M302.4 80.0h.4M302.1 77.7h.4M296.3 81.4h.4M301.1 91.8h.4M306.8 85.2h.4M295.9 86.5h.4M300.4 88.3h.4M303.6 77.4h.4M294.3 83.6h.4M299.5 84.6h.4M292.9 89.1h.4M297.5 86.0h.4M294.1 78.3h.4M296.3 78.2h.4M298.0 85.6h.4M298.9 85.2h.4M299.2 79.3h.4M289.9 79.4h.4M306.7 84.7h.4M298.9 79.6h.4M295.4 85.7h.4M297.4 83.5h.4M301.3 83.4h.4M295.8 91.5h.4M298.3 81.4h.4M298.0 80.3h.4M302.3 82.5h.4M296.9 75.6h.4M301.9 87.2h.4M301.5 86.7h.4M299.4 84.7h.4M305.2 84.2h.4M300.1 84.0h.4M295.1 78.7h.4M301.3 83.7h.4M300.5 84.1h.4M299.8 87.3h.4M301.0 85.3h.4M309.9 88.0h.4M301.0 86.7h.4M301.9 77.0h.4M299.0 81.5h.4M305.5 86.6h.4M299.8 82.7h.4M296.6 84.2h.4M294.9 87.4h.4M302.2 80.7h.4M303.1 85.0h.4M293.3 90.2h.4M297.0 84.5h.4M302.7 81.7h.4M304.3 84.4h.4M294.5 83.0h.4M298.3 79.8h.4M303.5 86.7h.4M297.8 84.4h.4M298.1 77.6h.4M297.7 88.7h.4M294.5 80.9h.4M300.2 84.6h.4M301.3 86.0h.4M294.1 83.9h.4M300.4 79.8h.4M304.6 75.8h.4M300.9 82.3h.4M304.0 85.2h.4M297.7 79.9h.4M305.7 82.9h.4M296.7 89.0h.4M307.9 80.7h.4M298.1 98.9h.4M297.0 85.7h.4M296.2 80.0h.4M298.3 85.9h.4M297.9 83.5h.4M297.1 89.2h.4M298.6 79.8h.4M302.8 86.9h.4M303.7 80.4h.4M298.6 85.6h.4M305.2 89.9h.4M295.8 84.9h.4M295.7 89.3h.4M295.2 83.3h.4M302.5 87.8h.4M293.5 82.0h.4M294.1 83.5h.4M305.4 84.5h.4M307.2 79.0h.4M305.6 81.0h.4M293.7 82.2h.4M300.0 90.6h.4M303.5 84.9h.4M300.4 80.1h.4M293.2 79.9h.4M298.5 84.0h.4M292.8 80.2h.4M294.8 85.0h.4M309.0 80.3h.4M302.8 80.5h.4M293.8 87.4h.4M293.7 77.5h.4M301.9 92.7h.4M297.4 81.6h.4M302.4 78.9h.4M297.2 86.5h.4M299.1 88.3h.4M301.0 89.1h.4M295.6 86.3h.4M291.9 81.8h.4M294.9 83.8h.4M297.0 84.9h.4M299.1 87.6h.4M299.7 87.9h.4M299.7 87.0h.4M302.1 87.6h.4M296.2 76.2h.4M305.8 82.4h.4M308.4 88.7h.4M301.5 82.7h.4M300.7 84.1h.4M305.2 81.8h.4M302.7 83.9h.4M300.7 82.0h.4M299.2 76.9h.4M296.8 85.8h.4M295.0 86.0h.4M302.7 81.1h.4M304.9 76.8h.4M295.5 83.1h.4M299.6 79.7h.4M300.8 88.0h.4M298.1 83.3h.4M296.7 78.3h.4M298.3 81.6h.4M291.7 90.9h.4M299.7 83.4h.4M298.7 81.1h.4M308.8 83.1h.4M303.9 79.7h.4M298.5 87.2h.4M299.9 78.9h.4M307.1 86.3h.4M306.7 87.9h.4M300.7 87.5h.4M299.4 83.7h.4M293.9 82.6h.4M298.6 84.3h.4M299.2 85.1h.4M296.8 86.3h.4M307.2 84.2h.4M292.0 85.2h.4M299.4 82.6h.4M301.6 81.3h.4M301.8 88.4h.4M307.0 85.9h.4M294.1 86.9h.4M296.8 90.4h.4M300.3 81.7h.4M300.5 82.1h.4M298.3 82.9h.4M296.7 87.5h.4M304.4 79.1h.4M295.5 81.8h.4M297.5 87.3h.4M306.0 78.6h.4M307.2 86.9h.4M303.6 90.2h.4M296.3 85.9h.4M296.3 81.3h.4M296.1 82.7h.4M295.2 80.7h.4M298.2 84.1h.4M305.3 87.9h.4M300.9 88.1h.4M296.7 76.1h.4M296.7 81.5h.4M295.0 85.6h.4M305.0 83.1h.4M291.4 75.4h.4M301.1 85.2h.4M293.9 86.4h.4M295.5 84.4h.4M293.6 84.1h.4M303.9 87.8h.4M299.5 79.2h.4M311.4 83.3h.4M295.5 85.9h.4M295.3 96.9h.4M302.4 81.7h.4M302.2 87.3h.4M298.7 90.8h.4M291.4 87.2h.4M305.9 87.6h.4M302.2 89.0h.4M301.5 77.9h.4M297.4 86.3h.4M302.5 82.8h.4M297.5 90.1h.4M300.0 86.0h.4M299.0 85.4h.4M305.1 85.1h.4M297.8 79.8h.4M298.4 87.8h.4M304.4 78.5h.4M300.8 83.7h.4M299.7 83.1h.4M298.8 88.1h.4M303.8 84.5h.4M297.1 81.3h.4M301.8 87.0h.4M308.3 90.9h.4M301.5 80.7h.4M296.5 89.6h.4M294.7 82.0h.4M300.4 83.6h.4M294.6 83.7h.4M293.1 80.6h.4M296.6 90.5h.4M295.1 87.4h.4M303.4 86.7h.4M293.6 79.4h.4M306.4 86.9h.4M296.6 81.2h.4M300.2 89.6h.4M302.6 77.9h.4M300.7 87.2h.4M302.8 78.7h.4M295.6 79.0h.4M290.2 85.3h.4M298.9 87.7h.4M292.6 88.6h.4M297.3 83.0h.4M303.7 82.4h.4M298.9 87.9h.4M297.2 80.2h.4M294.9 80.3h.4M298.5 86.4h.4M298.9 86.2h.4M293.0 84.8h.4M300.9 89.1h.4M295.1 78.4h.4M300.6 86.2h.4M297.8 92.7h.4M303.8 83.0h.4M303.3 79.8h.4M299.7 89.1h.4M299.2 86.6h.4M301.5 89.0h.4M305.5 87.2h.4M304.2 82.9h.4M300.4 83.8h.4M301.0 80.2h.4M306.4 94.3h.4M292.9 81.1h.4M302.0 83.3h.4M296.0 82.0h.4M305.5 86.2h.4M297.7 89.9h.4M299.3 82.7h.4M295.3 86.3h.4M299.9 87.3h.4M303.2 92.7h.4M306.9 83.8h.4M294.6 85.6h.4M298.0 90.7h.4M316.3 79.2h.4M303.9 84.5h.4M299.9 84.9h.4M302.1 80.4h.4M288.7 83.8h.4M306.7 85.4h.4M300.6 88.8h.4M293.9 88.0h.4M304.9 82.6h.4M297.3 81.1h.4M295.7 88.1h.4M302.2 79.0h.4M301.7 82.6h.4M298.1 80.4h.4M299.7 78.7h.4M294.3 85.5h.4M293.9 79.3h.4M303.8 82.2h.4M305.5 89.1h.4M301.8 90.3h.4M301.6 79.5h.4M298.3 81.1h.4M299.5 81.3h.4M296.1 79.5h.4M307.4 89.3h.4M297.6 87.7h.4M301.7 86.3h.4M300.0 80.9h.4M294.1 87.2h.4M308.1 85.2h.4M298.4 84.3h.4M296.8 86.6h.4M300.5 89.5h.4M296.2 84.2h.4M300.1 82.9h.4M296.0 80.7h.4M302.4 89.6h.4M300.2 86.2h.4M294.3 75.6h.4M304.4 84.9h.4M300.8 87.4h.4M295.4 78.6h.4M301.5 79.0h.4M301.8 88.3h.4M307.8 83.4h.4M296.4 79.0h.4M303.6 84.5h.4M299.6 85.7h.4M302.6 80.9h.4M298.9 81.5h.4M299.8 84.5h.4M302.1 84.2h.4M295.0 90.9h.4M291.2 89.3h.4M300.0 86.3h.4M298.2 81.9h.4M300.4 82.1h.4M302.8 76.2h.4M299.1 84.1h.4M305.1 82.9h.4M299.9 81.9h.4M300.6 87.0h.4M303.6 89.0h.4M302.6 77.6h.4M299.7 85.9h.4M300.6 86.0h.4M296.9 82.1h.4M297.5 81.7h.4M300.6 90.7h.4M303.6 87.1h.4M298.3 92.2h.4M303.7 81.6h.4M308.3 80.5h.4M309.2 83.4h.4M300.3 87.5h.4M304.6 89.2h.4M302.7 91.6h.4M303.5 82.0h.4M303.7 79.1h.4M302.4 88.0h.4M303.7 87.7h.4M301.0 86.5h.4M299.1 89.7h.4M301.3 81.4h.4M302.3 78.4h.4M305.4 91.9h.4M301.8 85.5h.4M303.4 83.3h.4M306.2 87.4h.4M296.3 92.6h.4M299.1 85.1h.4M302.5 90.8h.4M300.3 84.8h.4M296.0 91.5h.4M304.4 85.1h.4M299.9 88.9h.4M296.0 84.4h.4M308.2 86.7h.4M294.8 85.3h.4M300.2 82.9h.4M297.4 84.8h.4M300.7 87.0h.4M302.6 84.0h.4M296.8 82.5h.4M299.8 86.0h.4M299.7 89.8h.4M296.0 84.1h.4M305.1 80.7h.4M300.9 81.2h.4M299.0 84.5h.4M297.4 90.5h.4M298.8 80.6h.4M300.8 88.6h.4M298.2 83.7h.4M305.4 81.9h.4M289.5 82.5h.4M291.2 88.6h.4M299.1 82.7h.4M292.4 89.4h.4M299.9 91.9h.4M297.4 81.2h.4M302.6 79.6h.4M301.9 77.9h.4M305.7 86.4h.4M304.1 81.1h.4M305.5 82.1h.4M302.4 81.5h.4M304.7 89.3h.4M302.3 86.8h.4M297.7 86.6h.4M294.9 78.0h.4M295.1 81.2h.4M302.2 84.1h.4M290.2 83.9h.4M300.9 85.5h.4M297.0 90.2h.4M303.3 86.8h.4M301.0 87.3h.4M297.0 83.8h.4M300.2 82.8h.4M290.6 82.6h.4M301.3 83.9h.4M302.2 78.2h.4M292.5 82.2h.4M303.8 84.4h.4M299.7 82.5h.4M300.9 84.1h.4M294.2 77.5h.4M302.7 82.2h.4M302.6 84.3h.4M300.1 88.5h.4M296.1 84.7h.4M303.4 83.4h.4M305.5 82.1h.4M301.9 84.4h.4M304.4 82.4h.4M297.8 86.9h.4M300.9 82.3h.4M301.8 86.7h.4M300.9 81.9h.4M312.1 78.8h.4M302.0 78.9h.4M297.9 87.5h.4M303.8 82.1h.4M295.7 82.4h.4M301.9 93.5h.4M303.6 79.9h.4M298.3 84.0h.4M299.0 79.2h.4M296.4 81.9h.4M300.9 86.1h.4M297.5 83.1h.4M307.7 91.1h.4M303.1 80.7h.4M299.5 81.6h.4M294.4 79.0h.4M309.0 84.2h.4M305.9 81.3h.4M302.4 83.6h.4M301.3 81.2h.4M301.2 85.8h.4M298.5 81.8h.4M308.3 84.5h.4M301.3 83.7h.4M294.4 81.4h.4M297.7 84.2h.4M289.6 84.2h.4M303.2 86.1h.4M303.7 77.0h.4M307.9 89.6h.4M309.3 84.7h.4M297.1 85.8h.4M302.3 86.2h.4M304.6 79.2h.4M303.8 86.9h.4M298.3 85.3h.4M303.8 82.5h.4M302.5 87.2h.4M306.1 83.3h.4M300.3 80.6h.4M299.4 87.5h.4M298.3 87.1h.4M298.8 85.5h.4M297.2 83.8h.4M299.0 90.1h.4M302.5 82.2h.4M302.3 85.1h.4M305.9 83.7h.4M305.0 83.7h.4M303.0 86.1h.4M295.5 80.8h.4M302.7 86.2h.4M305.2 85.4h.4M294.9 83.2h.4M295.6 81.8h.4M296.3 79.4h.4M295.9 84.7h.4M299.1 90.5h.4M296.4 82.1h.4M301.9 81.0h.4M295.2 82.0h.4M299.7 85.4h.4M298.2 86.2h.4M296.2 85.7h.4M304.6 84.2h.4M300.4 80.0h.4M302.5 88.1h.4M298.8 83.2h.4M303.2 85.8h.4M302.8 84.7h.4M299.6 84.4h.4M292.8 87.3h.4M303.7 84.9h.4M303.1 92.0h.4M301.0 89.7h.4M301.3 87.7h.4M300.8 83.5h.4M301.1 87.4h.4M296.0 85.8h.4M300.0 87.1h.4M301.6 84.8h.4M297.7 80.8h.4M296.2 81.1h.4M308.1 84.3h.4M302.8 87.6h.4M299.0 84.3h.4M298.2 82.4h.4M289.1 83.9h.4M294.3 86.9h.4M299.2 82.8h.4M305.7 82.6h.4M291.6 84.9h.4M297.3 86.9h.4M308.3 80.2h.4M303.1 83.1h.4M302.0 84.5h.4M305.3 82.9h.4M299.7 86.3h.4M299.5 87.6h.4M303.3 81.8h.4M303.8 93.1h.4M295.8 85.9h.4M306.7 90.2h.4M292.9 87.2h.4M297.3 77.9h.4M313.2 80.0h.4M298.1 85.5h.4M303.0 86.4h.4M296.0 86.7h.4M298.9 77.4h.4M297.2 82.2h.4M298.6 86.2h.4M303.0 89.1h.4M307.6 86.4h.4M303.9 79.5h.4M306.8 82.5h.4M298.1 83.3h.4M306.4 82.9h.4M302.6 88.2h.4M306.0 88.7h.4M298.5 89.1h.4M299.3 80.5h.4M306.0 79.9h.4M302.8 79.0h.4M300.7 83.5h.4M297.4 84.8h.4M299.8 79.5h.4M302.3 85.4h.4M303.3 85.3h.4M297.9 83.7h.4M298.8 86.1h.4M302.0 80.9h.4M295.5 80.6h.4M304.1 89.7h.4M300.1 83.1h.4M299.6 87.9h.4M290.0 82.1h.4M293.4 76.3h.4M295.7 86.4h.4M297.6 80.0h.4M295.4 81.3h.4M301.6 87.6h.4M300.6 78.9h.4M298.9 83.4h.4M291.5 88.5h.4M305.9 91.7h.4M298.8 80.9h.4M302.5 85.0h.4M297.2 82.0h.4M300.0 88.8h.4M302.9 82.7h.4M301.0 89.2h.4M304.0 79.9h.4M299.2 87.2h.4M308.4 89.8h.4M292.0 86.8h.4M297.7 84.5h.4M304.1 82.6h.4M298.9 79.7h.4M298.1 87.8h.4M292.5 87.8h.4M305.0 85.7h.4M292.0 79.9h.4M302.1 81.1h.4M300.8 83.9h.4M303.6 90.5h.4M306.1 91.1h.4M297.0 87.9h.4M296.5 79.2h.4M298.6 76.9h.4M292.7 84.4h.4M303.4 85.9h.4M298.2 90.2h.4M300.6 81.1h.4M295.2 88.3h.4M299.9 83.0h.4M297.3 86.3h.4M299.6 82.1h.4M295.3 82.4h.4M304.2 82.0h.4M297.1 83.4h.4M289.1 80.6h.4M302.6 81.1h.4M298.6 85.1h.4M296.1 79.6h.4M310.4 82.7h.4M299.6 81.9h.4M294.2 83.2h.4M297.2 88.5h.4M301.4 81.5h.4M298.9 90.1h.4M305.0 77.4h.4M304.3 80.9h.4M296.5 86.8h.4M300.0 75.4h.4M302.5 83.3h.4M298.1 85.8h.4M297.9 79.1h.4M303.5 89.6h.4M301.7 91.0h.4M293.9 84.5h.4M297.5 84.4h.4M298.1 87.3h.4M299.3 87.9h.4M296.8 82.8h.4M305.5 82.9h.4M295.8 91.8h.4M295.3 85.3h.4M300.7 83.8h.4M290.4 81.3h.4M295.5 73.7h.4M302.5 83.8h.4M294.3 84.6h.4M296.3 84.1h.4M304.4 83.7h.4M301.8 87.3h.4M300.1 85.4h.4M300.9 85.1h.4M297.0 83.7h.4M301.2 83.1h.4M299.0 84.8h.4M310.4 81.9h.4M302.1 88.5h.4M298.5 85.4h.4M299.7 84.4h.4M300.1 91.8h.4M294.1 87.4h.4M296.4 80.2h.4M306.3 81.3h.4M294.0 84.1h.4M297.5 82.6h.4M304.2 89.2h.4M306.2 87.2h.4M295.6 87.7h.4M306.0 88.3h.4M298.4 87.8h.4M306.9 77.9h.4M302.0 79.4h.4M298.7 80.8h.4M303.0 86.3h.4M302.3 85.2h.4M296.7 91.1h.4M309.0 89.1h.4M298.5 89.3h.4M304.8 82.0h.4M297.9 84.2h.4M292.3 88.0h.4M295.2 80.4h.4M299.5 82.0h.4M302.8 91.0h.4M307.3 92.2h.4M300.3 78.0h.4M298.8 84.2h.4M294.8 80.0h.4M299.7 77.1h.4M301.2 81.3h.4M290.6 86.3h.4M305.4 86.7h.4M304.7 85.3h.4M309.5 89.1h.4M296.1 81.3h.4M300.1 83.3h.4M300.0 89.8h.4M294.4 87.0h.4M296.4 81.4h.4M295.8 79.8h.4M302.1 84.4h.4M301.7 85.0h.4M305.6 85.4h.4M298.2 83.7h.4M294.0 84.7h.4M301.8 82.0h.4M301.5 84.0h.4M302.7 81.9h.4M305.2 79.6h.4M297.5 84.7h.4M303.3 81.3h.4M295.7 81.3h.4M300.6 86.3h.4M302.8 85.5h.4M299.4 91.1h.4M300.8 90.5h.4M294.1 82.9h.4M297.2 83.2h.4M300.5 81.8h.4M294.8 79.2h.4M296.3 89.9h.4M310.1 86.7h.4M301.0 82.2h.4M296.4 90.8h.4M295.5 86.8h.4M305.7 87.1h.4M288.1 82.6h.4M298.3 75.6h.4M302.3 86.7h.4M297.2 81.5h.4M301.8 78.8h.4M295.2 86.3h.4M299.5 86.4h.4M299.7 80.8h.4M299.6 84.1h.4M300.1 86.1h.4M299.7 84.4h.4M304.2 82.2h.4M298.4 89.8h.4M297.0 83.2h.4M298.3 88.6h.4M298.2 84.0h.4M293.1 83.2h.4M291.4 89.0h.4M293.8 82.0h.4M300.6 85.6h.4M296.6 86.2h.4M297.7 88.5h.4M311.5 84.1h.4M304.2 78.6h.4M298.6 78.0h.4M296.8 77.8h.4M305.2 80.1h.4M296.2 83.8h.4M304.6 83.1h.4M301.9 82.4h.4M305.3 83.8h.4M296.4 81.5h.4M303.2 84.0h.4M291.8 84.6h.4M298.7 92.1h.4M304.0 83.3h.4M302.4 83.3h.4M291.7 83.1h.4M302.3 81.2h.4M301.3 87.2h.4M299.2 79.5h.4M296.4 91.7h.4M298.2 78.4h.4M297.0 84.0h.4M303.4 87.9h.4M301.4 86.2h.4M303.9 87.0h.4M302.3 78.7h.4M294.0 87.5h.4M300.0 86.4h.4M308.4 90.1h.4M294.7 84.3h.4M300.6 84.7h.4M296.1 78.4h.4M295.7 86.4h.4M300.3 80.4h.4M303.3 85.8h.4M302.6 90.9h.4M301.4 81.1h.4M303.4 85.3h.4M292.6 82.4h.4M302.8 82.2h.4M301.1 77.4h.4M298.6 82.8h.4M299.4 85.6h.4M295.8 89.1h.4M304.3 90.1h.4M296.2 83.8h.4M293.2 87.8h.4M299.4 84.0h.4M297.0 81.1h.4M299.1 82.6h.4M305.8 87.5h.4M298.8 86.9h.4M299.9 78.1h.4M308.9 86.3h.4M293.5 83.2h.4M301.0 86.6h.4M304.3 85.0h.4M305.8 79.7h.4M308.9 79.4h.4M296.7 84.1h.4M302.0 84.4h.4M299.0 84.8h.4M297.5 80.0h.4M296.4 89.5h.4M293.3 75.6h.4M300.8 89.2h.4M302.6 83.7h.4M295.0 82.4h.4M302.7 90.6h.4M297.1 83.9h.4M295.2 84.5h.4M288.4 82.4h.4M304.1 86.3h.4M302.5 86.4h.4M298.1 89.8h.4M297.8 88.7h.4M294.0 84.4h.4M301.6 82.1h.4M299.2 82.8h.4M301.8 81.6h.4M300.2 82.8h.4M293.5 82.3h.4M292.9 85.6h.4M301.3 84.8h.4M292.4 81.7h.4M300.7 85.3h.4M303.3 76.2h.4M294.1 84.0h.4M302.4 75.8h.4M299.7 82.9h.4M301.8 86.6h.4M296.9 85.0h.4M299.5 80.2h.4M301.4 83.5h.4M307.4 83.7h.4M302.8 82.0h.4M301.8 84.7h.4M294.2 81.7h.4M301.1 81.1h.4M296.8 80.5h.4M299.4 85.8h.4M300.9 80.7h.4M303.8 78.6h.4M302.3 87.0h.4M300.6 81.3h.4M299.5 78.8h.4M305.5 86.3h.4M296.0 81.8h.4M300.0 81.9h.4M305.6 80.9h.4M299.0 86.4h.4M303.3 86.5h.4M303.6 87.6h.4M308.2 81.5h.4M304.6 92.7h.4M292.8 81.8h.4M299.8 79.9h.4M301.0 82.8h.4M303.3 77.5h.4M301.4 81.1h.4M307.8 82.5h.4M304.4 84.7h.4M294.8 88.9h.4M297.1 85.8h.4M291.0 83.2h.4M307.0 84.4h.4M299.1 79.9h.4M299.0 89.6h.4M292.9 85.0h.4M297.7 86.0h.4M301.4 82.3h.4M297.8 81.2h.4M297.8 80.6h.4M296.8 81.1h.4M307.8 82.1h.4M297.1 87.3h.4M293.2 81.7h.4M297.2 86.4h.4M297.8 87.3h.4M298.9 85.6h.4M298.2 87.4h.4M294.5 76.0h.4M298.4 85.3h.4M300.9 82.7h.4M293.3 89.2h.4M307.6 85.6h.4M306.4 83.2h.4M291.5 84.5h.4M297.6 85.2h.4M303.5 90.8h.4M304.9 83.0h.4M306.8 85.4h.4M291.3 82.4h.4M294.5 85.4h.4M297.0 85.7h.4M301.5 85.1h.4M294.6 83.9h.4M301.1 90.0h.4M301.2 88.4h.4M302.3 86.3h.4M293.8 82.4h.4M300.1 86.1h.4M299.6 85.1h.4M297.5 87.9h.4M304.9 86.6h.4M298.1 82.2h.4M305.5 86.7h.4M296.8 91.3h.4M306.7 86.6h.4M306.4 80.7h.4M295.9 83.1h.4M300.9 88.2h.4M300.8 89.2h.4M295.3 79.2h.4M302.8 88.6h.4M302.0 90.9h.4M295.8 90.1h.4M300.0 80.1h.4M303.3 84.9h.4M298.9 89.7h.4M296.5 87.7h.4M306.6 83.5h.4M295.4 81.4h.4M301.1 84.7h.4M304.4 86.8h.4M303.0 81.3h.4M291.8 84.3h.4M298.3 89.5h.4M299.1 89.7h.4M298.8 85.6h.4M302.4 89.8h.4M302.1 84.4h.4M300.3 82.6h.4M300.9 82.4h.4M304.1 80.9h.4M305.1 83.1h.4M291.7 83.5h.4M309.2 92.5h.4M297.5 88.4h.4M303.2 93.0h.4M292.9 81.1h.4M297.7 87.3h.4M294.5 83.1h.4M304.5 79.5h.4M303.7 86.9h.4M299.9 82.3h.4M299.2 87.5h.4M301.6 94.1h.4M295.9 85.1h.4M297.3 84.3h.4M296.7 82.2h.4M303.4 79.2h.4M300.0 83.8h.4M294.5 81.6h.4M301.4 85.3h.4M302.2 83.4h.4M305.9 85.8h.4M297.6 86.4h.4M301.7 89.0h.4M308.8 80.5h.4M298.5 81.7h.4M298.4 89.8h.4M302.1 87.9h.4M297.8 82.0h.4M299.9 93.8h.4M297.8 74.4h.4M296.6 83.1h.4M303.7 83.4h.4M298.3 86.3h.4M295.6 79.7h.4M298.7 84.5h.4M299.3 85.3h.4M301.2 88.7h.4M303.9 77.6h.4M307.4 82.0h.4M294.7 82.2h.4M298.8 88.0h.4M292.1 91.4h.4M300.8 90.6h.4M302.1 81.8h.4M297.1 85.2h.4M296.0 83.7h.4M295.6 84.2h.4M293.4 81.8h.4M302.5 85.0h.4M307.9 84.0h.4M294.9 86.4h.4M306.7 83.8h.4M299.3 93.6h.4M293.8 78.4h.4M302.2 82.2h.4M303.0 82.3h.4M301.4 85.0h.4M298.6 87.8h.4M306.8 84.2h.4M298.5 95.4h.4M302.4 85.8h.4M302.5 89.7h.4M295.9 84.2h.4M291.8 81.8h.4M292.3 93.5h.4M298.0 81.4h.4M301.2 79.0h.4M292.1 81.9h.4M296.6 85.2h.4M306.2 89.6h.4M292.0 83.5h.4M301.6 83.6h.4M301.1 85.5h.4M303.0 87.4h.4M293.4 81.5h.4M301.1 85.6h.4M293.7 82.5h.4M305.3 86.1h.4M295.9 86.4h.4M301.2 88.2h.4M296.2 91.1h.4M300.2 82.7h.4M293.1 81.3h.4M300.8 85.1h.4M302.2 84.8h.4M299.5 84.8h.4M306.5 87.7h.4M301.2 85.3h.4M302.9 87.9h.4M301.7 85.0h.4M307.6 84.4h.4M296.8 81.7h.4M298.4 87.2h.4M298.7 84.9h.4M302.2 89.2h.4M300.7 87.1h.4M303.2 82.9h.4M300.9 85.6h.4M297.4 84.4h.4M299.4 84.2h.4M301.5 79.8h.4M289.9 85.4h.4M305.6 85.0h.4M297.2 80.3h.4M298.1 85.7h.4M300.8 86.0h.4M298.6 80.6h.4M293.5 80.6h.4M298.7 85.5h.4M305.6 87.3h.4M304.2 85.7h.4M305.0 78.2h.4M297.4 80.7h.4M298.8 86.5h.4M304.3 80.9h.4M306.1 88.3h.4M299.9 88.5h.4M295.7 81.6h.4M291.5 85.4h.4M305.9 87.0h.4M293.3 86.2h.4M301.7 82.9h.4M303.7 83.8h.4M313.8 84.2h.4M300.7 90.2h.4M299.4 86.8h.4M301.9 88.6h.4M302.1 85.4h.4M305.7 86.5h.4M302.9 87.6h.4M296.7 83.9h.4M290.9 81.9h.4M301.2 85.9h.4M297.0 83.1h.4M306.0 82.5h.4M294.3 81.8h.4M300.8 79.6h.4M296.8 84.9h.4M296.2 81.1h.4M307.2 81.7h.4M300.7 83.4h.4M299.2 80.1h.4M303.2 86.3h.4M296.6 87.6h.4M298.4 80.5h.4M297.2 83.2h.4M308.6 83.6h.4M301.4 83.6h.4M302.7 84.7h.4M304.8 85.7h.4M299.2 82.2h.4M299.3 87.0h.4M292.9 77.6h.4M302.1 80.8h.4M301.1 87.7h.4M298.2 82.9h.4M305.2 85.7h.4M292.2 88.6h.4M301.8 90.5h.4M294.0 80.6h.4M295.0 81.8h.4M299.1 81.8h.4M305.8 81.9h.4M294.8 85.4h.4M295.6 77.6h.4M294.7 85.9h.4M308.7 84.3h.4M302.3 89.6h.4M301.7 79.0h.4M309.0 86.7h.4M301.1 83.0h.4M290.8 81.9h.4M297.8 87.4h.4M294.8 87.5h.4M308.8 79.6h.4M293.8 87.3h.4M301.3 83.4h.4M297.7 83.0h.4M298.1 82.7h.4M300.1 84.1h.4M299.4 82.3h.4M297.0 84.7h.4M294.6 75.8h.4M297.1 87.6h.4M295.4 85.4h.4M296.0 82.4h.4M300.5 85.7h.4M299.3 83.6h.4M302.0 86.5h.4M298.9 88.1h.4M308.3 86.0h.4M296.8 73.6h.4M295.6 89.0h.4M304.4 84.6h.4M296.9 86.7h.4M300.5 81.6h.4M304.2 83.8h.4M299.5 83.5h.4M298.4 86.3h.4M304.2 86.9h.4M301.4 85.6h.4M297.6 85.2h.4M294.7 87.4h.4M298.3 88.3h.4M292.7 86.7h.4M296.1 83.1h.4M295.2 87.2h.4M301.2 82.2h.4M303.3 85.2h.4M297.1 89.5h.4M298.0 79.1h.4M295.1 80.2h.4M293.9 76.4h.4M298.0 90.9h.4M302.4 84.7h.4M302.0 85.8h.4M302.5 85.1h.4M298.7 83.7h.4M288.0 81.0h.4M304.0 84.9h.4M305.7 80.7h.4M303.9 86.3h.4M303.9 89.6h.4M304.7 92.1h.4M311.6 80.9h.4M301.3 82.7h.4M306.7 80.9h.4M303.5 78.1h.4M302.9 79.8h.4M299.4 83.5h.4M298.5 87.4h.4M295.1 88.3h.4M302.5 80.8h.4M298.6 86.3h.4M294.7 83.3h.4M296.7 84.8h.4M294.8 87.6h.4M307.0 87.5h.4M298.9 87.4h.4M300.5 85.2h.4M294.7 85.1h.4M295.5 85.1h.4M304.6 86.3h.4M299.0 83.9h.4M301.0 85.8h.4M308.0 84.7h.4M309.1 89.0h.4M303.0 80.8h.4M302.1 82.8h.4M301.0 84.5h.4M298.7 83.9h.4M308.8 76.4h.4M294.7 88.0h.4M299.6 89.4h.4M291.6 78.3h.4M294.5 79.4h.4M301.8 88.8h.4M302.0 78.9h.4M301.5 84.6h.4M298.6 83.8h.4M296.9 82.7h.4M297.6 85.4h.4M298.3 80.4h.4M304.8 78.5h.4M306.4 82.1h.4M301.9 83.5h.4M297.6 84.9h.4M295.9 87.0h.4M301.3 89.4h.4M299.0 86.0h.4M292.0 83.9h.4M306.0 85.8h.4M300.0 79.9h.4M298.6 81.6h.4M296.2 81.4h.4M296.2 78.6h.4M303.9 86.8h.4M295.9 80.4h.4M300.4 79.1h.4M302.8 80.6h.4M308.0 89.3h.4M302.6 88.5h.4M299.9 85.0h.4M298.1 86.4h.4M303.7 77.6h.4M304.4 80.9h.4M298.1 85.1h.4M302.6 80.3h.4M299.4 79.0h.4M292.9 81.4h.4M295.6 86.7h.4M303.5 89.2h.4M306.3 80.4h.4M303.0 88.8h.4M299.1 79.6h.4M296.9 84.4h.4M302.3 83.8h.4M301.4 82.7h.4M292.9 90.0h.4M302.8 86.8h.4M296.9 84.2h.4M302.9 87.7h.4M302.3 81.7h.4M303.2 85.5h.4M304.7 89.1h.4M303.1 85.5h.4M295.4 90.9h.4M295.6 80.3h.4M304.5 79.8h.4M302.1 83.1h.4M293.1 83.4h.4M291.2 82.3h.4M303.9 89.1h.4M309.7 85.4h.4M303.6 80.7h.4M299.0 81.8h.4M301.2 85.7h.4M288.1 79.8h.4M295.7 85.5h.4M304.4 80.5h.4M303.8 83.9h.4M290.7 85.0h.4M305.2 79.0h.4M302.3 82.5h.4M304.1 82.7h.4M299.1 84.5h.4M300.0 86.7h.4M295.3 83.8h.4M301.4 79.3h.4M303.9 82.6h.4M295.9 80.9h.4M301.6 83.3h.4M297.7 87.5h.4M304.6 87.2h.4M304.3 88.1h.4M289.7 81.2h.4M302.0 78.2h.4M304.4 80.8h.4M297.6 84.0h.4M299.1 82.0h.4M299.4 79.9h.4M295.0 83.9h.4M299.5 88.4h.4M306.8 83.0h.4M302.1 85.5h.4M306.7 91.4h.4M304.3 82.2h.4M305.3 87.0h.4M300.5 79.0h.4M303.4 81.2h.4M308.8 83.6h.4M306.4 88.0h.4M301.4 84.7h.4M297.0 82.5h.4M296.0 86.5h.4M301.1 89.6h.4M301.9 89.5h.4M292.0 81.3h.4M301.0 86.5h.4M301.5 82.3h.4M301.3 86.8h.4M297.6 88.2h.4M310.1 80.4h.4M303.8 91.9h.4M294.0 77.6h.4M296.9 84.9h.4M303.5 78.1h.4M302.2 82.5h.4M300.6 89.8h.4M299.9 88.9h.4M299.0 91.1h.4M298.0 83.2h.4M295.5 80.9h.4M302.5 80.9h.4M287.8 94.7h.4M296.7 87.9h.4M305.3 80.9h.4M296.5 84.4h.4M294.7 84.0h.4M308.1 87.7h.4M304.4 82.2h.4M299.2 78.1h.4M297.3 81.6h.4M298.8 86.3h.4M298.3 84.6h.4M298.8 82.3h.4M296.6 79.8h.4M302.2 88.6h.4M297.4 86.5h.4M291.9 81.2h.4M294.2 82.3h.4M299.8 90.8h.4M295.4 83.3h.4M289.0 89.1h.4M306.3 83.8h.4M301.9 83.8h.4M297.7 82.7h.4M297.5 86.5h.4M302.0 86.1h.4M305.7 81.2h.4M297.0 90.5h.4M301.5 82.9h.4M297.0 82.4h.4M301.1 88.6h.4M294.8 81.7h.4M291.7 83.7h.4M300.1 85.3h.4M299.4 87.7h.4M302.8 78.6h.4M296.8 81.0h.4M305.7 75.8h.4M300.1 86.3h.4M306.4 85.3h.4M298.2 86.4h.4M306.2 85.4h.4M299.4 82.0h.4M300.3 86.4h.4M303.9 80.5h.4M292.0 80.9h.4M295.1 83.1h.4M307.7 87.8h.4M293.1 79.6h.4M297.5 94.9h.4M302.1 81.6h.4M306.1 78.6h.4M297.5 84.7h.4M300.3 81.1h.4M294.8 86.6h.4M298.0 87.3h.4M304.2 80.6h.4M301.1 86.0h.4M299.6 82.2h.4M301.6 85.1h.4M300.3 82.4h.4M300.5 83.7h.4M298.2 85.3h.4M295.5 89.3h.4M302.7 82.7h.4M294.7 86.9h.4M304.2 89.7h.4M309.0 81.3h.4M306.3 88.1h.4M309.8 83.1h.4M295.2 85.4h.4M300.8 85.8h.4M296.2 83.2h.4M296.6 89.5h.4M292.3 88.7h.4M294.5 84.7h.4M303.5 84.1h.4M302.9 84.4h.4M305.1 86.2h.4M304.7 86.2h.4M303.2 79.3h.4M296.4 86.6h.4M299.4 86.0h.4M303.1 83.0h.4M305.3 81.5h.4M298.3 78.2h.4M297.8 85.3h.4M298.0 81.8h.4M306.8 82.7h.4M302.4 93.3h.4M298.6 79.0h.4M296.6 77.2h.4M301.8 86.8h.4M292.7 77.8h.4M299.0 82.1h.4M297.5 84.1h.4M297.4 80.6h.4M300.8 88.2h.4M301.8 84.1h.4M313.1 84.5h.4M300.4 81.5h.4M303.0 80.3h.4M296.5 83.1h.4M292.8 90.7h.4M305.0 83.7h.4M308.5 85.9h.4M295.7 85.6h.4M299.7 80.7h.4M304.8 86.6h.4M300.5 82.1h.4M289.7 77.7h.4M304.4 77.3h.4M299.4 86.2h.4M303.2 90.7h.4M295.9 86.3h.4M303.9 87.9h.4M304.6 79.9h.4M296.9 73.6h.4M302.2 90.3h.4M297.3 87.4h.4M297.9 78.2h.4M296.1 84.9h.4M298.2 83.9h.4M297.1 83.5h.4M305.1 80.2h.4M299.1 85.4h.4M295.2 86.5h.4M306.0 79.2h.4M302.4 85.4h.4M304.3 78.7h.4M299.8 86.4h.4M303.1 83.2h.4M299.7 87.3h.4M296.0 85.7h.4M300.6 78.2h.4M300.7 80.2h.4M300.7 84.3h.4M303.7 86.1h.4M292.6 88.4h.4M301.4 79.8h.4M296.7 83.6h.4M298.9 92.6h.4M302.1 84.4h.4M300.4 80.8h.4M297.2 77.7h.4M303.4 85.7h.4M299.9 87.4h.4M304.2 81.3h.4M305.5 87.1h.4M298.6 88.1h.4M295.5 89.3h.4M300.5 86.6h.4M303.7 83.2h.4M301.6 81.6h.4M295.2 87.5h.4M292.9 79.3h.4M296.2 89.7h.4M296.1 86.5h.4M302.9 83.2h.4M300.5 77.6h.4M304.0 81.1h.4M299.9 78.8h.4M307.4 80.3h.4M300.3 85.9h.4M302.6 92.2h.4M298.5 80.4h.4M302.2 81.2h.4M304.9 91.6h.4M303.6 84.5h.4M305.8 85.4h.4M297.7 81.6h.4M302.2 89.8h.4M307.6 84.5h.4M301.4 86.9h.4M299.6 87.1h.4M299.3 89.8h.4M298.0 85.6h.4M300.9 82.1h.4M306.3 86.2h.4M302.2 83.9h.4M300.2 77.9h.4M296.9 82.0h.4M295.4 78.7h.4M310.5 83.6h.4M298.3 82.4h.4M300.7 82.8h.4M298.2 78.2h.4M301.0 86.1h.4M298.4 84.8h.4M300.7 87.9h.4M306.5 79.8h.4M297.1 82.3h.4M302.5 81.7h.4M299.9 85.7h.4M303.3 81.6h.4M297.3 86.0h.4M301.9 80.1h.4M296.0 85.7h.4M292.4 84.6h.4M294.6 83.9h.4M296.1 83.4h.4M295.3 83.7h.4M298.7 87.5h.4M304.8 87.7h.4M295.2 87.3h.4M302.0 84.6h.4M300.7 82.2h.4M297.0 81.9h.4M296.1 83.2h.4M301.9 83.8h.4M302.1 82.0h.4M298.5 79.8h.4M299.4 80.3h.4M300.0 86.7h.4M294.4 81.6h.4M300.5 83.9h.4M301.3 82.5h.4M307.5 85.0h.4M294.6 83.1h.4M296.3 88.0h.4M300.4 84.7h.4M297.5 80.0h.4M298.3 84.0h.4M300.0 80.1h.4M298.8 82.6h.4M299.9 87.2h.4M301.9 79.0h.4M293.1 85.9h.4M302.4 83.7h.4M290.5 87.6h.4M307.2 84.0h.4M303.9 87.3h.4M297.4 84.4h.4M304.3 88.2h.4M299.4 84.8h.4M301.9 81.3h.4M303.2 84.6h.4M301.5 84.1h.4M300.0 90.2h.4M302.7 81.2h.4M299.2 78.5h.4M298.5 88.4h.4M296.0 81.7h.4M292.4 78.0h.4M306.7 80.7h.4M303.4 81.3h.4M294.2 82.5h.4M301.7 91.8h.4M300.9 83.1h.4M290.8 86.2h.4M296.6 85.7h.4M299.6 81.9h.4M307.3 77.7h.4M304.7 90.6h.4M305.4 82.2h.4M301.4 81.0h.4M304.3 85.9h.4M295.1 80.9h.4M302.7 82.0h.4M303.2 87.4h.4M294.8 82.2h.4M301.2 84.6h.4M306.5 82.6h.4M308.2 89.3h.4M306.1 78.2h.4M297.2 74.0h.4M299.8 84.3h.4M298.0 82.8h.4M305.3 94.0h.4M296.6 84.3h.4M295.7 84.3h.4M293.3 86.7h.4M301.0 85.0h.4M302.0 86.2h.4M297.6 80.7h.4M297.0 82.9h.4M299.4 89.2h.4M305.8 79.7h.4M294.5 82.6h.4M300.0 85.3h.4M301.1 86.7h.4M301.8 84.2h.4M305.5 86.3h.4M303.7 86.9h.4M301.4 84.4h.4M306.4 81.4h.4M305.0 85.7h.4M301.4 82.0h.4M301.2 82.1h.4M295.2 88.5h.4M300.8 85.8h.4M296.9 80.1h.4M295.4 77.8h.4M299.0 81.2h.4M292.9 85.0h.4M296.5 86.2h.4M298.0 84.0h.4M301.6 91.2h.4M298.8 83.6h.4M301.8 80.5h.4M306.8 83.7h.4M303.6 87.4h.4M295.3 85.6h.4M292.6 85.3h.4M296.2 88.7h.4M296.3 87.8h.4M291.7 89.7h.4M292.8 82.6h.4M292.8 85.6h.4M297.5 85.1h.4M306.0 84.8h.4M307.1 91.0h.4M295.6 86.1h.4M298.0 86.2h.4M294.1 80.3h.4M293.0 83.4h.4M299.5 86.4h.4M300.0 85.0h.4M297.1 81.1h.4M302.4 86.8h.4M298.3 84.4h.4M304.3 88.3h.4M297.6 86.9h.4M303.3 88.2h.4M298.8 81.6h.4M300.2 82.4h.4M302.3 87.9h.4M294.0 95.2h.4M296.5 87.3h.4M299.3 87.0h.4M298.5 83.6h.4M300.7 92.3h.4M296.2 86.2h.4M294.0 85.0h.4M299.2 86.5h.4M300.8 83.4h.4M296.2 87.5h.4M304.7 85.6h.4M302.5 84.5h.4M303.2 80.1h.4M302.9 81.1h.4M296.1 83.7h.4M308.6 77.0h.4M296.7 81.8h.4M301.3 84.8h.4M302.8 84.7h.4M301.2 92.4h.4M300.7 77.6h.4M296.5 83.9h.4M298.3 83.2h.4M300.1 85.7h.4M305.4 83.6h.4M297.2 81.8h.4M302.9 85.2h.4M301.9 83.6h.4M300.5 92.1h.4M297.8 83.3h.4M299.6 86.2h.4M292.9 87.8h.4M300.7 86.1h.4M301.6 84.0h.4M298.1 84.3h.4M302.5 83.9h.4M301.6 81.5h.4M297.3 84.8h.4M303.9 90.4h.4M298.1 89.8h.4M310.5 81.5h.4M296.1 87.6h.4M297.0 84.6h.4M297.7 84.1h.4M301.4 83.7h.4M305.2 87.6h.4M300.8 81.4h.4M298.7 81.5h.4M308.4 89.0h.4M304.7 78.4h.4M299.2 82.8h.4M299.9 86.1h.4M293.9 84.4h.4M300.5 83.6h.4M307.6 91.2h.4M295.4 89.3h.4M294.4 85.9h.4M300.9 88.2h.4M290.3 84.5h.4M306.1 83.5h.4M293.9 89.0h.4M297.2 89.6h.4M299.6 80.5h.4M305.3 90.2h.4M301.9 92.1h.4M292.2 88.2h.4M293.1 80.8h.4M301.0 87.4h.4M291.3 82.6h.4M298.8 89.2h.4M296.6 84.8h.4M303.4 84.5h.4M305.1 81.7h.4M289.4 84.6h.4M301.8 85.4h.4M302.7 79.9h.4M296.7 82.6h.4M297.4 81.2h.4M294.9 88.4h.4M298.5 85.3h.4M301.6 83.0h.4M305.5 88.5h.4M305.9 85.1h.4M298.7 83.9h.4M296.4 83.3h.4M304.1 88.8h.4M288.3 85.1h.4M294.0 78.5h.4M302.5 82.4h.4M309.2 83.7h.4M296.5 76.4h.4M300.3 88.0h.4M295.1 89.2h.4M299.5 81.4h.4M299.5 88.4h.4M296.7 86.4h.4M301.5 85.5h.4M299.1 81.5h.4M302.0 91.2h.4M299.0 85.9h.4M294.8 82.1h.4M300.5 87.5h.4M303.5 85.1h.4M296.6 81.6h.4M305.5 87.2h.4M301.8 86.0h.4M298.4 77.7h.4M300.1 84.5h.4M298.2 86.1h.4M296.1 87.8h.4M303.8 88.7h.4M303.7 85.2h.4M298.0 85.7h.4M299.2 80.6h.4M299.1 84.2h.4M302.9 82.1h.4M306.1 87.6h.4M297.2 88.9h.4M301.3 82.6h.4M299.9 76.8h.4M302.3 85.7h.4M306.1 88.3h.4M296.3 83.7h.4M291.3 79.5h.4M299.3 87.0h.4M293.3 81.6h.4M307.0 84.8h.4M297.1 83.9h.4M298.8 87.2h.4M301.0 79.7h.4M300.9 88.9h.4M298.3 85.7h.4M300.0 92.3h.4M304.0 80.9h.4M298.8 76.8h.4M307.8 84.1h.4M301.6 79.4h.4M290.2 84.6h.4M303.8 77.4h.4M292.7 87.4h.4M301.5 84.8h.4M309.6 87.0h.4M304.6 84.1h.4M295.3 79.6h.4M296.7 88.3h.4M300.2 89.0h.4M306.2 90.0h.4M297.0 82.7h.4M304.8 85.1h.4M301.4 86.6h.4M299.7 82.6h.4M299.4 84.7h.4M307.2 85.0h.4M293.8 87.8h.4M295.3 78.0h.4M303.9 89.9h.4M304.3 84.8h.4M294.6 85.0h.4M296.2 82.7h.4M295.3 88.4h.4M302.4 87.1h.4M297.3 85.0h.4M306.1 88.2h.4M303.3 82.7h.4M301.2 87.6h.4M301.0 81.7h.4M302.4 83.5h.4M303.7 91.2h.4M300.2 82.5h.4M301.2 82.1h.4M303.4 84.1h.4M299.8 85.5h.4M304.3 86.7h.4M299.5 85.2h.4M296.9 84.9h.4M300.9 85.0h.4M307.0 94.1h.4M306.4 79.2h.4M293.4 86.0h.4M301.4 88.0h.4M298.0 81.6h.4M298.7 87.1h.4M298.6 87.1h.4M299.1 75.4h.4M297.8 92.0h.4M298.9 88.8h.4M301.0 86.8h.4M295.0 82.1h.4M294.8 84.4h.4M295.3 82.6h.4M295.2 82.5h.4M302.5 88.8h.4M295.4 77.3h.4M299.7 76.9h.4M300.3 82.8h.4M303.0 87.7h.4M300.1 81.3h.4M304.4 87.6h.4M299.8 82.5h.4M301.0 84.6h.4M303.2 84.7h.4M293.9 86.2h.4M301.6 87.0h.4M306.3 84.3h.4M300.5 81.5h.4M299.0 79.8h.4M308.0 89.4h.4M300.4 86.3h.4M305.2 88.8h.4M290.0 82.5h.4M300.4 87.2h.4M297.9 88.3h.4M301.6 89.6h.4M305.0 84.8h.4M299.4 89.8h.4M299.1 80.3h.4M288.2 84.2h.4M303.3 81.4h.4M305.6 80.3h.4M300.6 85.4h.4M298.0 88.4h.4M301.5 82.3h.4M304.4 83.2h.4M302.7 82.9h.4M308.7 83.0h.4M297.7 87.9h.4M294.3 88.6h.4M302.1 79.6h.4M305.3 86.7h.4M298.1 86.5h.4M300.0 83.2h.4M297.3 78.7h.4M294.7 84.1h.4M296.9 80.4h.4M291.3 86.3h.4M301.1 86.2h.4M301.9 90.0h.4M303.7 82.9h.4M296.5 85.6h.4M297.3 83.7h.4M292.9 86.5h.4M293.9 82.7h.4M303.7 83.1h.4M311.8 80.9h.4M295.5 85.0h.4M298.3 85.2h.4M303.9 91.1h.4M297.0 86.3h.4M302.4 84.0h.4M298.7 88.6h.4M298.7 88.4h.4M303.8 83.3h.4M298.9 85.5h.4M294.6 83.7h.4M303.4 84.0h.4M300.1 85.1h.4M297.6 84.0h.4M296.6 82.4h.4M302.4 86.1h.4M297.0 82.8h.4M300.5 78.0h.4M304.2 82.4h.4M299.5 88.5h.4M304.6 85.8h.4M294.2 86.7h.4M302.5 85.4h.4M302.2 81.7h.4M307.9 79.1h.4M300.1 79.6h.4M303.7 84.5h.4M299.3 83.5h.4M295.5 85.0h.4M296.3 82.4h.4M297.0 92.6h.4M303.3 81.6h.4M296.7 89.5h.4M300.2 83.2h.4M303.8 89.3h.4M305.2 91.5h.4M303.9 91.1h.4M306.3 90.0h.4M295.2 86.6h.4M297.9 79.2h.4M301.3 78.6h.4M304.7 85.5h.4M302.1 88.0h.4M296.8 79.7h.4M299.2 88.9h.4M293.1 84.8h.4M303.4 80.7h.4M292.5 85.5h.4M300.9 93.0h.4M304.5 82.5h.4M303.8 85.8h.4M293.2 86.0h.4M300.9 83.3h.4M298.5 88.8h.4M298.8 90.0h.4M306.9 87.0h.4M301.2 90.3h.4M294.0 85.3h.4M295.5 87.6h.4M303.0 80.8h.4M300.9 88.8h.4M295.2 84.1h.4M292.9 78.2h.4M297.7 84.3h.4M298.1 79.2h.4M303.4 80.4h.4M297.4 87.2h.4M302.8 87.1h.4M305.1 80.5h.4M293.2 75.9h.4M297.5 86.4h.4M306.5 79.7h.4M298.1 86.8h.4M299.9 86.8h.4M304.0 85.7h.4M296.7 91.7h.4M298.2 86.9h.4M293.0 83.7h.4M302.2 82.4h.4M297.8 84.1h.4M298.3 85.3h.4M289.1 79.3h.4M303.9 83.0h.4M302.8 84.2h.4M296.5 78.4h.4M305.0 79.1h.4M289.5 85.1h.4M299.5 78.7h.4M292.7 88.5h.4M311.3 86.0h.4M288.8 85.1h.4M294.6 81.6h.4M296.6 80.2h.4M303.1 84.8h.4M303.2 85.4h.4M301.4 87.8h.4M298.7 74.2h.4M308.7 85.9h.4M296.7 87.0h.4M301.0 81.7h.4M307.1 85.5h.4M294.5 81.9h.4M296.3 82.3h.4M304.3 78.8h.4M301.6 86.8h.4M294.2 84.5h.4M299.8 82.8h.4M307.8 82.8h.4M298.6 85.3h.4M303.1 89.5h.4M300.2 89.5h.4M296.8 84.8h.4M306.5 81.1h.4M303.8 86.4h.4M304.7 78.0h.4M299.0 89.9h.4M300.1 87.1h.4M300.6 82.3h.4M301.6 83.5h.4M298.2 81.5h.4M297.5 85.6h.4M305.2 80.8h.4M295.0 84.4h.4M297.8 81.8h.4M298.1 77.6h.4M297.5 84.1h.4M294.5 82.6h.4M296.4 80.8h.4M303.0 79.4h.4M298.1 82.2h.4M296.5 82.3h.4M306.7 81.1h.4M294.0 81.7h.4M304.0 83.0h.4M301.1 80.7h.4M293.9 87.1h.4M297.9 85.2h.4M298.0 86.4h.4M305.1 80.8h.4M303.5 82.4h.4M298.4 84.7h.4M294.7 83.9h.4M292.5 81.7h.4M298.9 81.9h.4M293.7 86.3h.4M298.9 87.5h.4M298.7 89.9h.4M301.2 83.2h.4M303.8 86.9h.4M300.1 87.2h.4M301.6 85.3h.4M298.9 84.8h.4M304.0 84.3h.4M303.1 87.4h.4M306.3 87.4h.4M305.4 81.3h.4M296.5 83.2h.4M293.5 81.3h.4M302.3 85.0h.4M304.4 82.6h.4M296.8 85.6h.4M305.9 89.3h.4M300.0 82.6h.4M299.2 88.2h.4M301.1 85.2h.4M293.7 83.8h.4M292.7 83.9h.4M298.1 84.0h.4M294.6 86.9h.4M299.5 91.2h.4M299.5 84.8h.4M288.7 83.3h.4M296.1 88.7h.4M301.7 86.9h.4M289.7 81.8h.4M298.1 87.5h.4M293.8 83.3h.4M291.2 85.4h.4M304.2 87.1h.4M304.0 82.5h.4M297.7 83.8h.4M297.3 86.1h.4M305.3 79.2h.4M304.5 83.1h.4M299.4 77.9h.4M303.1 85.1h.4M299.9 83.7h.4M298.1 80.6h.4M302.0 81.7h.4M297.6 78.1h.4M301.9 83.8h.4M298.4 81.0h.4M297.5 84.4h.4M297.0 87.4h.4M301.3 82.5h.4M303.4 80.3h.4M301.2 88.7h.4M295.8 82.0h.4M302.0 88.2h.4M295.6 85.8h.4M294.7 88.4h.4M298.6 82.6h.4M302.8 78.2h.4M302.3 82.4h.4M301.8 84.7h.4M305.2 90.6h.4M303.1 81.2h.4M298.0 86.0h.4M302.8 79.5h.4M298.4 83.0h.4M301.2 88.2h.4M302.0 87.8h.4M299.2 85.9h.4M293.3 84.6h.4M298.9 86.0h.4M298.3 87.7h.4M299.1 83.8h.4M297.8 83.8h.4M294.9 84.9h.4M292.9 85.4h.4M302.4 78.0h.4M302.9 83.4h.4M301.2 83.0h.4M299.5 84.0h.4M307.8 81.9h.4M302.4 87.9h.4M299.8 87.0h.4M303.2 84.6h.4M299.4 95.0h.4M302.6 87.2h.4M300.9 89.0h.4M302.0 85.6h.4M300.0 86.5h.4M297.8 88.1h.4M301.9 81.9h.4M304.4 79.1h.4M295.9 91.6h.4M297.6 78.5h.4M295.2 79.6h.4M303.4 83.5h.4M298.9 82.1h.4M303.5 84.8h.4M296.5 90.0h.4M303.2 87.3h.4M297.4 76.9h.4M297.9 82.2h.4M302.0 85.1h.4M298.2 83.8h.4M297.3 77.2h.4M303.5 82.1h.4M299.5 88.2h.4M305.0 84.3h.4M310.4 82.3h.4M297.5 79.5h.4M298.4 87.9h.4M293.5 93.2h.4M294.9 81.5h.4M302.3 87.9h.4M301.1 84.6h.4M301.0 80.5h.4M301.8 79.2h.4M296.3 85.6h.4M292.8 84.0h.4M304.3 81.8h.4M300.9 85.3h.4M304.6 86.0h.4M299.7 93.6h.4M303.0 84.0h.4M297.7 81.8h.4M299.8 80.8h.4M299.2 86.3h.4M301.4 87.4h.4M305.7 83.8h.4M302.5 88.0h.4M287.8 84.9h.4M299.4 83.7h.4M299.9 82.7h.4M303.2 84.7h.4M300.5 85.4h.4M297.0 83.3h.4M296.6 80.8h.4M298.5 80.7h.4M296.9 88.7h.4M305.8 82.5h.4M302.4 91.1h.4M300.1 79.6h.4M303.9 84.2h.4M308.8 83.4h.4M299.0 79.7h.4M299.8 78.1h.4M298.6 81.3h.4M294.8 88.7h.4M297.3 81.2h.4M296.0 85.5h.4M301.9 85.7h.4M301.8 86.5h.4M303.5 75.9h.4M296.7 81.9h.4M304.0 76.8h.4M295.9 85.8h.4M299.2 86.8h.4M305.3 88.1h.4M305.0 86.9h.4M304.4 88.6h.4M308.7 88.0h.4M304.3 85.8h.4M298.9 87.5h.4M299.0 81.2h.4M296.7 85.1h.4M300.9 80.6h.4M296.8 82.1h.4M297.4 84.9h.4M295.9 89.3h.4M293.0 83.6h.4M310.3 86.7h.4M303.7 84.6h.4M291.4 89.2h.4M301.8 86.9h.4M297.7 82.5h.4M291.1 87.9h.4M299.1 85.5h.4M300.9 84.0h.4M302.4 90.5h.4M304.6 84.4h.4M296.5 82.1h.4M299.8 76.6h.4M302.8 78.9h.4M302.2 87.6h.4M301.6 72.5h.4M300.4 87.9h.4M305.1 80.1h.4M294.8 80.0h.4M293.8 87.8h.4M307.2 77.9h.4M301.8 82.1h.4M304.6 80.9h.4M301.0 83.3h.4M298.5 88.4h.4M298.1 91.0h.4M300.6 78.2h.4M298.1 80.5h.4M299.8 93.5h.4M299.7 87.1h.4M303.5 91.7h.4M303.4 91.4h.4M306.7 84.8h.4M297.2 81.6h.4M300.0 87.8h.4M304.1 86.1h.4M301.6 90.2h.4M290.0 86.2h.4M301.7 93.5h.4M300.2 78.7h.4M298.2 78.4h.4M298.5 82.7h.4M297.2 80.3h.4M305.1 84.9h.4M303.1 81.9h.4M301.1 89.2h.4M304.9 85.0h.4M304.2 86.1h.4M296.9 82.5h.4M295.9 84.4h.4M296.1 83.1h.4M303.4 81.1h.4M300.3 85.5h.4M305.4 77.3h.4M302.5 82.7h.4M299.5 82.1h.4M295.2 88.7h.4M299.3 83.2h.4M309.6 78.0h.4M297.6 83.8h.4M297.0 85.7h.4M299.5 86.0h.4M306.0 87.5h.4M300.3 87.2h.4M295.9 86.2h.4M297.9 89.4h.4M299.9 83.2h.4M300.8 86.4h.4M304.6 85.1h.4M310.7 85.9h.4M306.1 86.3h.4M303.1 83.3h.4M300.3 83.6h.4M297.1 84.6h.4M302.8 76.3h.4M305.7 85.7h.4M303.8 87.9h.4M299.9 83.7h.4M303.2 83.0h.4M299.5 83.6h.4M299.8 88.4h.4M299.5 82.5h.4M300.7 88.1h.4M300.1 79.2h.4M304.6 82.1h.4M300.4 89.9h.4M300.0 82.4h.4M304.7 79.1h.4M303.2 85.4h.4M305.0 82.6h.4M297.2 84.1h.4M305.8 86.3h.4M300.3 82.6h.4M296.0 86.0h.4M299.7 83.4h.4M295.2 84.5h.4M296.2 83.4h.4M298.6 79.4h.4M304.2 81.2h.4M294.8 81.9h.4M301.4 87.1h.4M299.2 81.3h.4M306.6 80.7h.4M301.0 84.9h.4M302.7 86.9h.4M306.0 84.7h.4M295.7 83.2h.4M298.8 78.8h.4M294.1 85.9h.4M296.8 88.3h.4M301.5 83.4h.4M299.5 85.2h.4M301.8 81.3h.4M298.5 81.9h.4M297.3 84.9h.4M299.6 83.8h.4M296.5 86.2h.4M295.5 85.1h.4M293.6 82.7h.4M299.5 82.1h.4M301.8 86.3h.4M295.0 80.1h.4M298.1 86.2h.4M290.6 83.0h.4M295.0 79.3h.4M300.1 80.9h.4M294.5 82.9h.4M301.6 93.2h.4M298.2 83.8h.4M301.3 79.7h.4M297.5 87.7h.4M294.0 80.5h.4M299.7 79.4h.4M302.7 85.6h.4M297.6 87.9h.4M301.3 91.5h.4M296.9 85.5h.4M298.3 81.5h.4M304.8 84.5h.4M299.7 89.2h.4M295.9 90.2h.4M302.0 81.3h.4M299.9 90.4h.4M297.6 83.6h.4M302.6 80.1h.4M287.9 86.8h.4M302.1 84.9h.4M307.5 79.1h.4M301.0 80.8h.4M292.1 84.5h.4M305.3 86.0h.4M310.0 80.3h.4M302.1 88.4h.4M295.5 81.2h.4M297.1 80.9h.4M299.3 86.9h.4M300.6 88.8h.4M304.6 83.2h.4M302.1 83.6h.4M290.7 85.6h.4M298.6 88.4h.4M299.2 82.8h.4M307.4 83.7h.4M297.5 82.1h.4M294.2 78.3h.4M298.6 86.7h.4M300.9 82.8h.4M292.4 87.9h.4M304.3 82.5h.4M299.3 89.1h.4M303.2 85.2h.4M302.6 88.0h.4M302.0 79.7h.4M305.5 81.9h.4M306.6 82.3h.4M298.2 91.1h.4M299.6 85.9h.4M304.1 82.5h.4M300.5 76.3h.4M297.4 80.8h.4M300.3 89.1h.4M296.4 82.5h.4M297.8 86.5h.4M285.9 78.3h.4M300.4 85.7h.4M307.4 88.1h.4M302.9 85.9h.4M302.7 80.7h.4M300.7 80.4h.4M296.8 86.4h.4M302.0 80.5h.4M300.2 79.1h.4M299.4 84.8h.4M300.9 80.2h.4M297.6 80.1h.4M300.5 83.5h.4M302.6 83.8h.4M304.0 79.3h.4M300.5 84.3h.4M303.3 88.7h.4M300.7 86.8h.4M290.7 88.0h.4M292.1 87.8h.4M299.1 84.5h.4M295.4 85.1h.4M302.3 80.7h.4M294.6 81.0h.4M298.3 81.5h.4M297.7 80.0h.4M296.9 91.3h.4M297.6 89.0h.4M299.9 78.6h.4M300.3 86.5h.4M297.8 84.6h.4M300.7 85.8h.4M302.2 85.7h.4M299.2 87.7h.4M297.2 80.0h.4M297.2 80.8h.4M298.0 82.7h.4M297.8 87.6h.4M300.3 84.4h.4M311.0 84.1h.4M304.6 83.5h.4M300.1 87.1h.4M302.4 85.7h.4M302.4 89.4h.4M305.2 91.3h.4M305.9 86.7h.4M296.1 81.3h.4M309.2 80.0h.4M296.6 84.0h.4M300.5 85.2h.4M296.7 84.6h.4M293.1 85.5h.4M292.8 84.6h.4M308.2 89.3h.4M306.2 84.3h.4M296.1 88.9h.4M295.6 85.2h.4M306.2 83.2h.4M296.2 84.8h.4M302.0 82.5h.4M308.5 84.9h.4M303.3 76.6h.4M306.3 84.7h.4M301.1 87.9h.4M293.2 88.4h.4M296.8 81.8h.4M292.8 80.6h.4M301.5 88.8h.4M294.7 79.4h.4M300.6 84.0h.4M298.1 83.2h.4M297.2 85.4h.4M302.2 87.6h.4M298.1 89.2h.4M296.7 77.3h.4M304.2 83.0h.4M299.9 76.9h.4M294.0 81.7h.4M304.9 78.7h.4M294.2 83.1h.4M301.0 82.2h.4M302.2 85.1h.4M298.9 86.2h.4M296.6 84.5h.4M298.7 86.6h.4M298.6 88.1h.4M295.5 83.6h.4M303.5 84.0h.4M297.5 81.3h.4M297.0 80.8h.4M305.7 86.6h.4M297.0 89.7h.4M293.7 84.6h.4M299.7 78.7h.4M300.0 81.4h.4M300.1 84.9h.4M308.6 84.4h.4M297.7 80.8h.4M305.6 84.6h.4M303.7 84.5h.4M306.0 79.0h.4M299.6 80.5h.4M298.7 86.2h.4M299.2 80.8h.4M301.3 83.3h.4M304.0 88.5h.4M306.9 87.0h.4M292.8 86.5h.4M304.5 79.7h.4M301.6 81.4h.4M300.3 84.0h.4M295.8 83.9h.4M301.5 86.8h.4M292.6 86.7h.4M305.3 87.9h.4M296.3 89.4h.4M299.6 83.8h.4M299.4 80.6h.4M302.5 87.4h.4M294.6 84.8h.4M303.6 84.9h.4M301.8 82.6h.4M306.6 83.7h.4M301.4 92.7h.4M299.6 77.7h.4M301.0 81.2h.4M298.4 82.2h.4M300.7 80.3h.4M293.2 86.9h.4M296.5 82.6h.4M293.5 88.1h.4M294.7 88.8h.4M293.6 84.4h.4M307.1 81.0h.4M303.4 74.4h.4M300.3 85.7h.4M299.3 86.4h.4M292.9 84.6h.4M286.9 81.0h.4M298.7 88.6h.4M290.4 84.1h.4M292.7 87.0h.4M290.3 87.5h.4M293.3 88.3h.4M292.9 87.0h.4M304.7 78.1h.4M305.9 85.8h.4M296.4 84.0h.4M300.0 82.3h.4M296.1 80.8h.4M298.2 80.6h.4M293.5 82.5h.4M298.8 83.2h.4M286.1 84.6h.4M280.2 76.8h.4M308.4 80.8h.4M297.4 87.0h.4M296.5 88.7h.4M299.9 83.2h.4M297.4 82.4h.4M301.6 91.8h.4M289.2 80.3h.4M292.1 88.5h.4M304.7 87.7h.4M298.1 85.8h.4M291.6 88.6h.4M287.5 87.0h.4M308.0 83.8h.4M303.1 87.3h.4M300.1 94.4h.4M286.9 85.2h.4M292.2 88.5h.4M288.7 92.0h.4M283.8 80.8h.4M292.5 84.4h.4M293.6 80.6h.4M309.9 84.9h.4M287.5 82.4h.4M302.7 89.1h.4M298.4 83.4h.4M300.8 87.2h.4M297.1 85.2h.4M302.6 86.2h.4M295.6 80.9h.4M303.9 88.3h.4M301.1 84.1h.4M290.1 83.6h.4M295.0 81.3h.4M308.2 86.3h.4M307.7 82.5h.4M290.9 81.5h.4M298.7 84.3h.4M307.4 75.5h.4M299.8 89.1h.4M292.4 82.6h.4M300.8 88.3h.4M297.6 79.6h.4M285.7 76.3h.4M299.8 80.7h.4M297.8 85.9h.4M300.8 89.5h.4M308.4 89.9h.4M308.4 88.9h.4M306.9 81.4h.4M307.5 82.3h.4M290.4 85.9h.4M289.8 87.3h.4M299.0 80.6h.4M296.6 80.6h.4M299.5 79.1h.4M293.6 89.1h.4M300.5 80.7h.4M307.1 85.6h.4M295.9 84.7h.4M296.0 86.3h.4M293.2 78.3h.4M283.1 84.6h.4M295.1 88.0h.4M295.1 86.8h.4M298.2 82.9h.4M292.0 87.4h.4M305.7 85.4h.4M303.5 83.1h.4M309.1 84.8h.4M279.0 93.5h.4M292.9 82.6h.4M301.1 78.4h.4M299.7 87.2h.4M299.4 87.6h.4M296.7 86.5h.4M303.8 84.0h.4M294.7 88.5h.4M295.8 92.3h.4M313.3 90.3h.4M295.2 76.3h.4M303.4 81.1h.4M298.1 85.5h.4M302.3 75.9h.4M297.4 91.6h.4M303.4 87.7h.4M304.9 81.4h.4M296.3 80.5h.4M293.8 89.2h.4M293.2 83.2h.4M291.3 85.8h.4M307.0 80.3h.4M309.1 80.1h.4M285.2 82.7h.4M291.9 84.7h.4M298.0 87.8h.4M303.0 82.5h.4M289.3 87.6h.4M293.5 82.7h.4M298.0 81.0h.4M302.8 82.8h.4M291.2 82.6h.4M303.7 79.5h.4M291.3 77.1h.4M303.1 86.5h.4M292.9 85.3h.4M294.7 87.4h.4M302.1 78.2h.4M299.7 83.1h.4M301.8 79.1h.4M296.0 89.7h.4M295.2 91.2h.4M305.0 86.9h.4M309.3 90.1h.4M299.8 78.7h.4M299.8 83.9h.4M291.9 85.4h.4M309.1 86.7h.4M294.5 84.9h.4M299.6 87.4h.4M305.9 85.7h.4M278.6 83.4h.4M294.7 89.5h.4M287.9 82.9h.4M293.9 87.5h.4M296.8 87.0h.4M287.1 80.3h.4M304.1 82.9h.4M312.2 93.0h.4M294.7 84.9h.4M296.6 87.5h.4M307.9 83.0h.4M299.3 89.2h.4M289.4 85.1h.4M300.5 88.8h.4M292.6 88.5h.4M305.3 81.5h.4M292.4 84.9h.4M306.2 87.5h.4M288.4 81.0h.4M295.4 85.2h.4M282.9 84.0h.4M313.5 87.5h.4M297.0 80.8h.4M294.7 86.7h.4M299.5 88.5h.4M297.8 82.9h.4M300.0 83.3h.4M311.8 87.8h.4M307.5 82.9h.4M293.9 86.9h.4M299.0 89.7h.4M296.3 79.7h.4M300.1 86.8h.4M290.0 89.8h.4M294.4 79.2h.4M286.7 85.7h.4M300.4 86.8h.4M292.4 83.4h.4M304.6 85.9h.4M297.9 80.7h.4M287.4 85.0h.4M308.2 81.9h.4M283.3 87.6h.4M315.9 84.9h.4M308.3 85.1h.4M308.0 88.6h.4M308.7 86.4h.4M305.1 82.4h.4M296.4 83.9h.4M292.3 82.1h.4M297.8 87.0h.4M280.6 89.9h.4M299.6 92.5h.4M296.4 88.1h.4M298.3 81.9h.4M293.7 87.8h.4M286.9 80.8h.4M297.2 79.4h.4M293.8 80.8h.4M293.9 86.3h.4M296.9 78.4h.4M302.3 86.9h.4M305.2 84.3h.4M288.6 91.5h.4M297.8 84.8h.4M283.5 83.3h.4M288.7 80.4h.4M289.0 81.5h.4M294.7 85.7h.4M295.9 79.3h.4M298.4 74.3h.4M296.6 82.5h.4M295.6 84.0h.4M287.2 83.7h.4M299.5 83.2h.4M289.7 81.2h.4M300.5 78.6h.4M294.1 90.3h.4M309.6 87.5h.4M289.6 86.0h.4M299.6 82.7h.4M303.6 81.5h.4M293.3 83.6h.4M294.3 87.1h.4M307.6 85.0h.4M302.9 84.5h.4M298.7 86.9h.4M292.9 82.0h.4M293.0 81.2h.4M286.0 83.1h.4M307.7 83.8h.4M297.1 91.5h.4M301.0 93.5h.4M305.9 80.3h.4M302.1 81.4h.4M296.0 84.5h.4M306.2 76.8h.4M284.8 82.1h.4M305.5 89.7h.4M300.3 81.5h.4M296.6 82.6h.4M301.6 88.7h.4M304.6 91.5h.4M292.7 83.6h.4M299.2 84.4h.4M294.8 85.6h.4M296.5 88.0h.4M302.8 77.6h.4M294.5 85.7h.4M290.5 82.8h.4M295.4 85.6h.4M307.7 87.0h.4M306.2 75.1h.4M302.7 88.5h.4M307.9 84.8h.4M296.3 83.1h.4M293.2 86.5h.4M292.0 86.5h.4M300.0 92.7h.4M300.5 87.6h.4M289.4 87.9h.4M313.5 85.6h.4M302.8 87.4h.4M287.0 81.1h.4M285.1 87.7h.4M298.3 85.4h.4M297.9 87.9h.4M288.9 88.1h.4M296.4 79.0h.4M296.0 86.3h.4M295.2 87.4h.4M304.4 88.6h.4M287.5 76.8h.4M295.3 86.1h.4M287.6 79.2h.4M296.6 81.7h.4M297.3 85.8h.4M310.6 86.7h.4M289.7 84.9h.4M297.4 83.2h.4M295.0 82.8h.4M296.5 87.5h.4M291.3 87.8h.4M288.0 85.0h.4M291.5 77.6h.4M290.7 75.5h.4M302.3 78.2h.4M294.7 82.5h.4M305.6 87.4h.4M290.1 82.9h.4M284.1 82.2h.4M292.1 83.7h.4M293.5 83.3h.4M309.8 82.5h.4M288.6 81.1h.4M301.6 81.5h.4M293.9 83.5h.4M291.9 84.3h.4M302.5 82.0h.4M292.2 87.6h.4M308.8 80.0h.4M300.7 86.2h.4M301.8 81.5h.4M295.1 86.7h.4M299.3 80.3h.4M303.2 84.2h.4M291.6 88.1h.4M296.1 87.5h.4M290.7 81.0h.4M294.4 81.9h.4M297.7 79.6h.4M284.0 82.9h.4M296.6 78.1h.4M292.2 82.6h.4M301.7 80.9h.4M288.5 83.8h.4M293.8 83.2h.4M294.5 83.9h.4M303.6 84.2h.4M296.2 87.9h.4M306.5 83.2h.4M301.9 82.1h.4M290.0 88.5h.4M287.4 72.0h.4M294.6 80.3h.4M300.0 80.2h.4M294.8 90.3h.4M289.0 86.7h.4M299.0 86.4h.4M293.8 84.3h.4M290.1 85.7h.4M297.3 89.9h.4M294.4 77.6h.4M285.0 80.8h.4M294.7 86.1h.4M298.4 81.0h.4M290.3 87.4h.4M285.8 87.5h.4M299.8 88.8h.4M302.4 77.9h.4M294.1 85.1h.4M296.7 88.6h.4M290.4 82.7h.4M295.7 88.4h.4M286.1 83.3h.4M293.1 79.8h.4M296.7 91.1h.4M291.1 78.7h.4M294.4 84.8h.4M295.8 83.9h.4M303.7 82.0h.4M291.8 82.1h.4M286.1 77.5h.4M290.3 85.4h.4M290.4 80.1h.4M298.2 91.8h.4M303.6 82.7h.4M287.1 77.8h.4M295.9 85.8h.4M298.4 87.8h.4M293.2 89.0h.4M294.0 83.0h.4M289.6 84.1h.4M302.9 83.8h.4M299.3 86.7h.4M288.1 89.9h.4M296.6 88.3h.4M286.6 82.9h.4M297.8 83.7h.4M301.0 84.0h.4M282.5 82.0h.4M292.7 80.2h.4M293.6 82.6h.4M309.2 86.4h.4M299.1 86.4h.4M299.8 80.1h.4M294.6 85.6h.4M296.5 83.4h.4M299.9 85.5h.4M296.7 87.1h.4M299.6 86.2h.4M294.8 88.0h.4M287.6 87.1h.4M297.5 87.6h.4M296.3 83.8h.4M286.2 77.6h.4M289.1 75.5h.4M292.0 83.5h.4M305.0 83.2h.4M299.6 78.0h.4M306.2 78.5h.4M281.2 75.3h.4M298.1 88.8h.4M305.7 74.8h.4M292.8 75.6h.4M298.7 86.3h.4M289.8 87.5h.4M298.2 81.8h.4M295.5 86.0h.4M286.3 86.3h.4M303.1 81.9h.4M296.3 94.6h.4M298.8 86.4h.4M285.0 86.0h.4M301.5 84.5h.4M292.3 86.2h.4M301.0 80.7h.4M288.9 84.1h.4M304.0 85.1h.4M294.1 85.8h.4M296.8 83.0h.4M293.0 85.4h.4M285.4 82.5h.4M295.0 90.0h.4M304.1 79.9h.4M304.4 78.8h.4M294.1 84.3h.4M304.8 87.2h.4M295.6 82.2h.4M288.8 84.6h.4M295.9 84.4h.4M296.8 85.6h.4M303.2 90.3h.4M282.4 80.1h.4M304.3 81.5h.4M302.1 84.3h.4M300.5 83.1h.4M287.6 85.6h.4M286.5 91.0h.4M303.1 87.0h.4M294.6 82.6h.4M303.0 87.5h.4M288.9 86.9h.4M300.7 92.5h.4M299.9 80.7h.4M287.8 85.8h.4M294.5 88.6h.4M308.0 87.8h.4M291.5 85.4h.4M303.7 81.9h.4M296.4 81.0h.4M290.3 80.6h.4M292.8 85.3h.4M289.7 86.4h.4M307.8 83.3h.4M286.3 82.0h.4M288.5 85.2h.4M296.4 78.4h.4M302.7 94.1h.4M287.8 81.5h.4M290.6 85.6h.4M294.8 84.5h.4M294.0 84.5h.4M296.6 85.9h.4M292.0 80.4h.4M296.1 92.3h.4M301.0 85.7h.4M288.7 78.6h.4M285.7 90.4h.4M291.3 87.5h.4M297.0 84.5h.4M313.3 85.6h.4M301.7 81.5h.4M299.6 93.1h.4M277.2 85.5h.4M284.0 82.7h.4M300.4 78.5h.4M292.4 80.8h.4M291.5 77.3h.4M301.3 83.9h.4M304.0 82.5h.4M299.9 81.0h.4M297.4 83.4h.4M284.4 85.7h.4M294.8 84.3h.4M301.7 82.1h.4M294.8 86.9h.4M286.5 83.7h.4M280.4 85.3h.4M293.8 83.7h.4M299.8 82.7h.4M291.3 91.9h.4M294.8 81.0h.4M298.9 77.0h.4M292.8 78.3h.4M295.4 79.9h.4M292.1 92.0h.4M291.4 96.4h.4M299.3 76.6h.4M299.9 88.2h.4M294.8 84.3h.4M286.9 92.4h.4M298.9 86.3h.4M301.5 82.4h.4M301.0 88.4h.4M300.9 85.4h.4M296.3 85.2h.4M294.8 77.5h.4M299.9 85.9h.4M300.4 85.5h.4M300.3 85.0h.4M290.8 83.7h.4M284.6 86.4h.4M298.8 84.0h.4M298.6 79.5h.4M298.2 86.0h.4M299.8 78.9h.4M286.5 85.6h.4M292.3 85.3h.4M300.6 91.8h.4M293.3 88.4h.4M295.3 89.3h.4M305.7 88.7h.4M301.3 83.1h.4M293.2 87.9h.4M298.3 88.3h.4M291.8 80.1h.4M299.3 82.7h.4M287.8 90.8h.4M285.8 91.4h.4M306.3 92.1h.4M303.0 89.9h.4M290.7 76.5h.4M299.6 81.4h.4M280.9 77.7h.4M296.8 78.6h.4M303.8 87.1h.4M301.4 82.4h.4M297.6 81.4h.4M296.2 81.1h.4M298.1 81.5h.4M309.9 79.9h.4M293.7 79.2h.4M298.1 88.2h.4M301.6 84.2h.4M291.0 77.5h.4M306.4 82.1h.4M284.3 84.3h.4M295.2 81.0h.4M293.8 86.4h.4M296.2 82.1h.4M288.3 85.7h.4M294.2 86.8h.4M298.5 84.8h.4M291.3 83.0h.4M302.3 86.7h.4M283.9 88.2h.4M295.6 90.1h.4M306.9 86.2h.4M290.5 78.6h.4M297.1 90.2h.4M294.2 78.3h.4M292.9 80.2h.4M300.8 93.2h.4M288.1 85.8h.4M299.9 92.9h.4M287.6 84.8h.4M294.8 84.2h.4M301.5 75.5h.4M292.8 84.3h.4M296.7 87.1h.4M310.9 85.9h.4M297.5 94.6h.4M298.3 88.1h.4M300.7 86.8h.4M300.2 89.0h.4M296.5 86.7h.4M294.8 87.1h.4M298.0 81.8h.4M298.7 77.3h.4M305.1 83.7h.4M297.0 83.0h.4M301.6 85.6h.4M309.1 87.7h.4M285.9 84.5h.4M295.1 79.3h.4M294.8 85.4h.4M295.4 88.1h.4M305.5 80.2h.4M294.7 88.0h.4M297.7 81.8h.4M307.1 82.5h.4M282.8 90.2h.4M288.3 84.1h.4M289.0 88.2h.4M296.6 87.7h.4M299.8 85.8h.4M290.8 92.2h.4M305.3 87.5h.4M306.9 89.1h.4M311.2 87.6h.4M304.4 82.7h.4M309.7 81.2h.4M314.7 86.6h.4M309.2 89.5h.4M311.2 89.7h.4M306.3 72.4h.4M311.4 85.2h.4M317.2 82.8h.4M304.2 79.1h.4M305.7 84.3h.4M308.1 84.3h.4M304.5 87.1h.4M306.1 77.4h.4M305.6 80.2h.4M305.8 82.9h.4M308.6 90.0h.4M313.2 90.5h.4M304.2 87.9h.4M310.0 88.4h.4M310.5 83.3h.4M307.3 84.9h.4M308.4 85.7h.4M306.2 84.3h.4M306.8 81.8h.4M312.6 87.7h.4M306.4 89.1h.4M312.0 78.9h.4M305.7 84.2h.4M307.8 91.8h.4M308.9 81.9h.4M306.2 82.2h.4M316.6 82.0h.4M305.1 78.8h.4M310.8 90.1h.4M306.9 88.6h.4M310.2 85.0h.4M310.9 93.0h.4M310.4 79.1h.4M306.4 84.6h.4M307.9 85.6h.4M309.3 82.7h.4M305.4 85.1h.4M310.6 85.3h.4M310.1 82.8h.4M307.1 87.8h.4M305.4 89.9h.4M320.3 82.0h.4M306.3 83.4h.4M318.1 81.5h.4M311.0 76.5h.4M304.6 81.9h.4M306.8 83.6h.4M308.4 89.0h.4M308.1 81.8h.4M316.0 81.9h.4M304.6 88.6h.4M306.2 82.4h.4M306.2 86.2h.4M304.9 82.1h.4M307.0 74.6h.4M308.4 80.7h.4M316.7 80.2h.4M304.9 85.3h.4M315.7 84.1h.4M323.5 94.6h.4M308.8 80.5h.4M306.8 82.7h.4M309.9 84.4h.4M310.8 93.7h.4M310.6 80.5h.4M306.4 91.4h.4M315.0 80.6h.4M306.2 82.5h.4M305.4 90.1h.4M304.6 81.0h.4M324.9 80.6h.4M309.3 83.9h.4M308.4 87.2h.4M310.3 80.6h.4M305.4 85.7h.4M319.1 81.4h.4M307.9 79.0h.4M311.2 84.7h.4M306.9 90.7h.4M331.7 87.8h.4M315.0 81.1h.4M313.3 80.4h.4M308.4 85.8h.4M330.6 86.6h.4M306.0 80.5h.4M309.9 89.1h.4M306.0 83.8h.4M311.4 86.4h.4M310.3 87.8h.4M313.6 88.6h.4M305.3 85.8h.4M309.4 83.9h.4M307.2 81.5h.4M306.2 84.6h.4M309.3 90.1h.4M311.2 81.3h.4M308.4 80.6h.4M305.7 77.8h.4M313.5 85.8h.4M304.4 83.2h.4M307.7 80.1h.4M310.3 86.5h.4M317.7 85.2h.4M309.9 84.2h.4M317.0 80.6h.4M313.9 85.1h.4M312.6 78.9h.4M311.3 82.6h.4M313.4 86.8h.4M304.9 85.4h.4M305.5 81.6h.4M318.2 82.2h.4M308.0 82.4h.4M307.9 81.0h.4M306.0 82.6h.4M304.2 81.9h.4M304.8 81.1h.4M310.6 84.8h.4M306.9 78.6h.4M316.7 80.0h.4M308.0 80.8h.4M308.6 81.8h.4M307.7 77.8h.4M305.6 87.5h.4M308.4 90.3h.4M312.5 93.1h.4M311.8 79.5h.4M307.3 83.6h.4M312.1 82.1h.4M309.7 83.5h.4M319.4 87.3h.4M307.5 83.7h.4M314.4 79.3h.4M305.3 84.5h.4M307.0 91.6h.4M306.2 85.4h.4M311.7 90.7h.4M306.2 85.0h.4M308.4 86.7h.4M311.5 91.3h.4M306.3 80.7h.4M306.5 90.7h.4M306.4 90.2h.4M305.3 83.7h.4M304.4 88.2h.4M304.9 84.1h.4M312.5 86.7h.4M313.4 85.3h.4M305.8 81.8h.4M308.1 91.0h.4M313.4 90.7h.4M309.6 85.3h.4M309.2 88.3h.4M317.6 87.8h.4M306.2 84.1h.4M309.2 90.9h.4M308.0 87.5h.4M307.9 79.9h.4M309.1 76.3h.4M309.0 82.7h.4M312.0 85.6h.4M310.8 84.4h.4M311.8 83.6h.4M307.9 81.5h.4M333.3 83.0h.4M311.4 88.1h.4M310.0 87.3h.4M309.6 83.1h.4M313.8 82.3h.4M310.7 87.3h.4M307.0 81.7h.4M304.5 85.8h.4M310.1 85.5h.4M308.1 81.4h.4M310.0 83.6h.4M310.1 84.7h.4M310.5 81.6h.4M305.9 79.3h.4M306.9 83.7h.4M310.8 83.2h.4M308.2 86.7h.4M305.9 84.4h.4M312.8 85.7h.4M310.2 76.1h.4M306.6 80.0h.4M309.7 85.4h.4M309.4 86.4h.4M306.0 79.1h.4M305.0 83.3h.4M314.4 88.8h.4M314.2 80.0h.4M310.7 78.5h.4M308.7 83.6h.4M308.6 89.6h.4M308.6 85.2h.4M305.4 86.2h.4M306.5 88.0h.4M307.0 82.8h.4M309.7 84.4h.4M306.0 81.3h.4M304.1 85.1h.4M310.4 84.7h.4M309.1 85.2h.4M314.6 83.1h.4M305.1 86.7h.4M308.1 82.0h.4M321.1 86.2h.4M307.7 89.3h.4M305.7 82.9h.4M304.5 85.5h.4M305.4 80.8h.4M315.2 82.9h.4M307.4 86.9h.4M305.6 81.0h.4M305.9 82.0h.4M306.7 78.0h.4M307.1 81.3h.4M310.0 87.3h.4M305.3 87.7h.4M305.2 86.6h.4M310.1 80.5h.4M308.4 83.6h.4M322.2 87.2h.4M306.3 86.5h.4M315.8 85.3h.4M314.2 87.8h.4M304.3 81.0h.4M307.0 85.7h.4M307.0 86.1h.4M305.6 81.0h.4M305.2 82.5h.4M309.8 89.1h.4M307.9 86.2h.4M305.5 80.3h.4M314.5 83.9h.4M314.3 83.9h.4M318.9 83.7h.4M316.9 87.6h.4M307.2 87.5h.4M312.4 89.3h.4M309.5 80.8h.4M305.1 87.6h.4M322.0 81.3h.4M305.3 87.8h.4M311.2 87.0h.4M307.5 90.1h.4M318.4 87.5h.4M309.1 84.2h.4M310.9 86.0h.4M313.8 87.6h.4M305.3 78.8h.4M307.4 81.0h.4M315.7 85.2h.4M305.0 86.6h.4M309.1 86.8h.4M307.0 80.8h.4M309.8 88.8h.4M308.6 84.5h.4M313.2 86.4h.4M305.8 86.1h.4M307.5 82.5h.4M306.6 81.0h.4M306.9 91.0h.4M307.6 84.8h.4M310.5 90.4h.4M311.5 80.7h.4M319.9 82.2h.4M310.0 81.7h.4M311.9 87.9h.4M320.7 84.2h.4M304.3 81.4h.4M304.6 87.3h.4M307.6 81.0h.4M307.3 78.7h.4M312.8 81.5h.4M314.3 81.0h.4M306.0 81.0h.4M306.4 82.2h.4M313.2 79.1h.4M312.3 84.1h.4M306.8 81.4h.4M308.3 85.3h.4M306.4 85.3h.4M305.6 84.4h.4M307.7 82.2h.4M305.4 83.3h.4M309.1 82.0h.4M309.0 83.5h.4M308.8 87.1h.4M308.8 87.9h.4M311.2 88.8h.4M308.1 84.8h.4M310.8 87.9h.4M305.3 78.7h.4M305.5 89.4h.4M311.8 87.6h.4M306.9 81.4h.4M308.8 84.7h.4M305.9 85.3h.4M309.0 82.9h.4M306.8 82.3h.4M306.3 82.3h.4M311.0 84.1h.4M309.9 82.8h.4M312.2 80.8h.4M309.2 85.7h.4M316.3 86.2h.4M304.8 85.2h.4M310.9 86.0h.4M305.1 90.8h.4M307.8 86.5h.4M307.3 83.9h.4M306.5 82.0h.4M307.4 85.3h.4M304.3 87.8h.4M311.5 81.7h.4M304.6 86.1h.4M313.4 81.7h.4M308.1 79.0h.4M307.5 82.5h.4M308.7 89.3h.4M306.3 84.5h.4M309.2 80.2h.4M310.1 85.5h.4M304.3 86.2h.4M308.8 85.8h.4M307.3 80.3h.4M316.6 87.3h.4M317.2 81.9h.4M315.6 90.8h.4M308.0 78.6h.4M306.2 81.2h.4M306.2 83.1h.4M307.2 80.0h.4M326.0 83.7h.4M313.7 80.5h.4M305.7 80.4h.4M306.2 85.8h.4M312.0 78.2h.4M306.6 86.8h.4M305.2 83.9h.4M311.6 78.4h.4M306.3 86.8h.4M311.2 88.9h.4M308.7 85.7h.4M313.0 88.7h.4M319.3 86.2h.4M315.3 89.6h.4M311.6 83.1h.4M305.5 91.0h.4M307.0 79.7h.4M311.1 88.4h.4M306.4 84.0h.4M328.3 83.7h.4M313.4 81.2h.4M305.9 82.9h.4M311.6 87.2h.4M322.1 81.8h.4M305.1 85.6h.4M307.6 81.9h.4M307.1 78.0h.4M307.4 86.8h.4M312.0 82.2h.4M319.4 84.2h.4M312.3 89.9h.4M313.6 90.0h.4M307.7 81.4h.4M316.7 84.5h.4M307.9 88.2h.4M304.7 83.5h.4M329.2 79.4h.4M312.2 88.7h.4M310.0 92.0h.4M314.0 86.8h.4M310.6 82.8h.4M316.3 80.6h.4M317.0 81.9h.4M311.3 82.9h.4M314.1 83.1h.4M308.0 81.0h.4M305.4 81.9h.4M307.1 87.1h.4M311.6 83.5h.4M305.5 84.6h.4M310.6 84.7h.4M307.8 89.0h.4M311.4 89.0h.4M314.1 84.8h.4M304.4 79.0h.4M314.5 89.1h.4M319.2 86.8h.4M313.1 83.5h.4M306.0 88.8h.4M320.1 85.4h.4M349.3 83.2h.4M314.9 91.9h.4M306.0 91.1h.4M309.2 74.5h.4M311.1 89.5h.4M308.9 84.0h.4M312.9 91.1h.4M310.0 80.1h.4M312.1 86.4h.4M304.5 82.5h.4M319.5 84.3h.4M320.9 84.4h.4M308.7 86.4h.4M308.0 80.7h.4M314.3 82.3h.4M304.8 85.3h.4M341.1 81.1h.4M306.3 84.9h.4M305.2 80.2h.4M315.3 84.5h.4M321.0 79.6h.4M335.8 78.2h.4M316.0 83.2h.4M315.4 89.4h.4M305.5 87.3h.4M319.3 89.0h.4M306.8 86.0h.4M314.6 84.3h.4M304.8 86.6h.4M311.0 80.4h.4M307.0 84.1h.4M307.2 81.3h.4M323.4 88.9h.4M307.5 85.8h.4M309.6 82.4h.4M328.1 84.4h.4M307.6 87.7h.4M306.6 84.1h.4M320.7 85.0h.4M308.5 86.3h.4M307.8 84.2h.4M330.0 92.9h.4M307.9 85.9h.4M309.4 82.1h.4M308.1 82.3h.4M310.3 93.3h.4M309.3 85.2h.4M310.0 80.6h.4M313.8 78.1h.4M308.3 86.8h.4M316.8 93.8h.4M307.1 86.8h.4M308.7 83.6h.4M307.2 88.9h.4M309.5 83.4h.4M305.8 83.4h.4M306.1 83.7h.4M319.0 82.5h.4M307.0 79.5h.4M314.3 85.2h.4M308.2 92.3h.4M313.0 79.3h.4M352.5 80.5h.4M309.6 86.4h.4M314.6 83.4h.4M309.9 84.1h.4M311.1 85.5h.4M312.0 86.9h.4M313.9 85.2h.4M306.4 86.9h.4M274.7 77.2h.4M274.2 88.2h.4M274.8 74.1h.4M274.4 90.0h.4M274.0 76.4h.4M275.0 75.9h.4M274.2 85.4h.4M274.7 76.7h.4M274.2 88.1h.4M274.9 74.3h.4M273.8 80.8h.4M274.3 90.0h.4M274.3 80.2h.4M274.2 75.1h.4M275.3 83.8h.4M273.8 81.4h.4M274.1 74.5h.4M274.3 86.9h.4M275.0 81.0h.4M274.4 74.4h.4M274.0 74.6h.4M274.5 89.2h.4M274.1 82.0h.4M274.2 80.0h.4M275.2 91.0h.4" stroke="#000" stroke-width=".4" fill="none"/>
<rect x="270.80" y="42.50" width="90" height="89.70" fill="none" stroke="#000" stroke-width="1.3"/>
<rect x="305.00" y="70.6" width="55.80" height="24.3" fill="none" stroke="#000" stroke-width="1.3"/>
<line x1="268.20" y1="132.20" x2="270.80" y2="132.20" stroke="#000" stroke-width="1.3"/>
<line x1="269.70" y1="128.45" x2="270.80" y2="128.45" stroke="#111" stroke-width="0.7"/>
<line x1="269.70" y1="126.26" x2="270.80" y2="126.26" stroke="#111" stroke-width="0.7"/>
<line x1="269.70" y1="124.70" x2="270.80" y2="124.70" stroke="#111" stroke-width="0.7"/>
<line x1="268.80" y1="123.49" x2="270.80" y2="123.49" stroke="#111" stroke-width="1.0"/>
<line x1="269.70" y1="122.51" x2="270.80" y2="122.51" stroke="#111" stroke-width="0.7"/>
<line x1="269.70" y1="121.67" x2="270.80" y2="121.67" stroke="#111" stroke-width="0.7"/>
<line x1="269.70" y1="120.95" x2="270.80" y2="120.95" stroke="#111" stroke-width="0.7"/>
<line x1="269.70" y1="120.31" x2="270.80" y2="120.31" stroke="#111" stroke-width="0.7"/>
<line x1="268.20" y1="119.74" x2="270.80" y2="119.74" stroke="#000" stroke-width="1.3"/>
<line x1="269.70" y1="115.99" x2="270.80" y2="115.99" stroke="#111" stroke-width="0.7"/>
<line x1="269.70" y1="113.80" x2="270.80" y2="113.80" stroke="#111" stroke-width="0.7"/>
<line x1="269.70" y1="112.24" x2="270.80" y2="112.24" stroke="#111" stroke-width="0.7"/>
<line x1="268.80" y1="111.04" x2="270.80" y2="111.04" stroke="#111" stroke-width="1.0"/>
<line x1="269.70" y1="110.05" x2="270.80" y2="110.05" stroke="#111" stroke-width="0.7"/>
<line x1="269.70" y1="109.22" x2="270.80" y2="109.22" stroke="#111" stroke-width="0.7"/>
<line x1="269.70" y1="108.49" x2="270.80" y2="108.49" stroke="#111" stroke-width="0.7"/>
<line x1="269.70" y1="107.86" x2="270.80" y2="107.86" stroke="#111" stroke-width="0.7"/>
<line x1="268.20" y1="107.29" x2="270.80" y2="107.29" stroke="#000" stroke-width="1.3"/>
<line x1="269.70" y1="103.54" x2="270.80" y2="103.54" stroke="#111" stroke-width="0.7"/>
<line x1="269.70" y1="101.34" x2="270.80" y2="101.34" stroke="#111" stroke-width="0.7"/>
<line x1="269.70" y1="99.79" x2="270.80" y2="99.79" stroke="#111" stroke-width="0.7"/>
<line x1="268.80" y1="98.58" x2="270.80" y2="98.58" stroke="#111" stroke-width="1.0"/>
<line x1="269.70" y1="97.59" x2="270.80" y2="97.59" stroke="#111" stroke-width="0.7"/>
<line x1="269.70" y1="96.76" x2="270.80" y2="96.76" stroke="#111" stroke-width="0.7"/>
<line x1="269.70" y1="96.04" x2="270.80" y2="96.04" stroke="#111" stroke-width="0.7"/>
<line x1="269.70" y1="95.40" x2="270.80" y2="95.40" stroke="#111" stroke-width="0.7"/>
<line x1="268.20" y1="94.83" x2="270.80" y2="94.83" stroke="#000" stroke-width="1.3"/>
<line x1="269.70" y1="91.08" x2="270.80" y2="91.08" stroke="#111" stroke-width="0.7"/>
<line x1="269.70" y1="88.89" x2="270.80" y2="88.89" stroke="#111" stroke-width="0.7"/>
<line x1="269.70" y1="87.33" x2="270.80" y2="87.33" stroke="#111" stroke-width="0.7"/>
<line x1="268.80" y1="86.12" x2="270.80" y2="86.12" stroke="#111" stroke-width="1.0"/>
<line x1="269.70" y1="85.14" x2="270.80" y2="85.14" stroke="#111" stroke-width="0.7"/>
<line x1="269.70" y1="84.30" x2="270.80" y2="84.30" stroke="#111" stroke-width="0.7"/>
<line x1="269.70" y1="83.58" x2="270.80" y2="83.58" stroke="#111" stroke-width="0.7"/>
<line x1="269.70" y1="82.94" x2="270.80" y2="82.94" stroke="#111" stroke-width="0.7"/>
<line x1="268.20" y1="82.37" x2="270.80" y2="82.37" stroke="#000" stroke-width="1.3"/>
<line x1="269.70" y1="78.62" x2="270.80" y2="78.62" stroke="#111" stroke-width="0.7"/>
<line x1="269.70" y1="76.43" x2="270.80" y2="76.43" stroke="#111" stroke-width="0.7"/>
<line x1="269.70" y1="74.87" x2="270.80" y2="74.87" stroke="#111" stroke-width="0.7"/>
<line x1="268.80" y1="73.66" x2="270.80" y2="73.66" stroke="#111" stroke-width="1.0"/>
<line x1="269.70" y1="72.68" x2="270.80" y2="72.68" stroke="#111" stroke-width="0.7"/>
<line x1="269.70" y1="71.84" x2="270.80" y2="71.84" stroke="#111" stroke-width="0.7"/>
<line x1="269.70" y1="71.12" x2="270.80" y2="71.12" stroke="#111" stroke-width="0.7"/>
<line x1="269.70" y1="70.48" x2="270.80" y2="70.48" stroke="#111" stroke-width="0.7"/>
<line x1="268.20" y1="69.91" x2="270.80" y2="69.91" stroke="#000" stroke-width="1.3"/>
<line x1="269.70" y1="66.16" x2="270.80" y2="66.16" stroke="#111" stroke-width="0.7"/>
<line x1="269.70" y1="63.97" x2="270.80" y2="63.97" stroke="#111" stroke-width="0.7"/>
<line x1="269.70" y1="62.41" x2="270.80" y2="62.41" stroke="#111" stroke-width="0.7"/>
<line x1="268.80" y1="61.21" x2="270.80" y2="61.21" stroke="#111" stroke-width="1.0"/>
<line x1="269.70" y1="60.22" x2="270.80" y2="60.22" stroke="#111" stroke-width="0.7"/>
<line x1="269.70" y1="59.39" x2="270.80" y2="59.39" stroke="#111" stroke-width="0.7"/>
<line x1="269.70" y1="58.66" x2="270.80" y2="58.66" stroke="#111" stroke-width="0.7"/>
<line x1="269.70" y1="58.03" x2="270.80" y2="58.03" stroke="#111" stroke-width="0.7"/>
<line x1="268.20" y1="57.46" x2="270.80" y2="57.46" stroke="#000" stroke-width="1.3"/>
<line x1="269.70" y1="53.71" x2="270.80" y2="53.71" stroke="#111" stroke-width="0.7"/>
<line x1="269.70" y1="51.51" x2="270.80" y2="51.51" stroke="#111" stroke-width="0.7"/>
<line x1="269.70" y1="49.96" x2="270.80" y2="49.96" stroke="#111" stroke-width="0.7"/>
<line x1="268.80" y1="48.75" x2="270.80" y2="48.75" stroke="#111" stroke-width="1.0"/>
<line x1="269.70" y1="47.76" x2="270.80" y2="47.76" stroke="#111" stroke-width="0.7"/>
<line x1="269.70" y1="46.93" x2="270.80" y2="46.93" stroke="#111" stroke-width="0.7"/>
<line x1="269.70" y1="46.21" x2="270.80" y2="46.21" stroke="#111" stroke-width="0.7"/>
<line x1="269.70" y1="45.57" x2="270.80" y2="45.57" stroke="#111" stroke-width="0.7"/>
<line x1="268.20" y1="45.00" x2="270.80" y2="45.00" stroke="#000" stroke-width="1.3"/>
<line x1="270.80" y1="132.20" x2="270.80" y2="134.60" stroke="#000" stroke-width="1.3"/>
<line x1="274.52" y1="132.20" x2="274.52" y2="133.30" stroke="#111" stroke-width="0.7"/>
<line x1="276.70" y1="132.20" x2="276.70" y2="133.30" stroke="#111" stroke-width="0.7"/>
<line x1="278.25" y1="132.20" x2="278.25" y2="133.30" stroke="#111" stroke-width="0.7"/>
<line x1="279.45" y1="132.20" x2="279.45" y2="134.20" stroke="#111" stroke-width="1.0"/>
<line x1="280.43" y1="132.20" x2="280.43" y2="133.30" stroke="#111" stroke-width="0.7"/>
<line x1="281.25" y1="132.20" x2="281.25" y2="133.30" stroke="#111" stroke-width="0.7"/>
<line x1="281.97" y1="132.20" x2="281.97" y2="133.30" stroke="#111" stroke-width="0.7"/>
<line x1="282.60" y1="132.20" x2="282.60" y2="133.30" stroke="#111" stroke-width="0.7"/>
<line x1="283.17" y1="132.20" x2="283.17" y2="134.60" stroke="#000" stroke-width="1.3"/>
<line x1="286.89" y1="132.20" x2="286.89" y2="133.30" stroke="#111" stroke-width="0.7"/>
<line x1="289.07" y1="132.20" x2="289.07" y2="133.30" stroke="#111" stroke-width="0.7"/>
<line x1="290.62" y1="132.20" x2="290.62" y2="133.30" stroke="#111" stroke-width="0.7"/>
<line x1="291.82" y1="132.20" x2="291.82" y2="134.20" stroke="#111" stroke-width="1.0"/>
<line x1="292.80" y1="132.20" x2="292.80" y2="133.30" stroke="#111" stroke-width="0.7"/>
<line x1="293.62" y1="132.20" x2="293.62" y2="133.30" stroke="#111" stroke-width="0.7"/>
<line x1="294.34" y1="132.20" x2="294.34" y2="133.30" stroke="#111" stroke-width="0.7"/>
<line x1="294.97" y1="132.20" x2="294.97" y2="133.30" stroke="#111" stroke-width="0.7"/>
<line x1="295.54" y1="132.20" x2="295.54" y2="134.60" stroke="#000" stroke-width="1.3"/>
<line x1="299.26" y1="132.20" x2="299.26" y2="133.30" stroke="#111" stroke-width="0.7"/>
<line x1="301.44" y1="132.20" x2="301.44" y2="133.30" stroke="#111" stroke-width="0.7"/>
<line x1="302.99" y1="132.20" x2="302.99" y2="133.30" stroke="#111" stroke-width="0.7"/>
<line x1="304.19" y1="132.20" x2="304.19" y2="134.20" stroke="#111" stroke-width="1.0"/>
<line x1="305.17" y1="132.20" x2="305.17" y2="133.30" stroke="#111" stroke-width="0.7"/>
<line x1="305.99" y1="132.20" x2="305.99" y2="133.30" stroke="#111" stroke-width="0.7"/>
<line x1="306.71" y1="132.20" x2="306.71" y2="133.30" stroke="#111" stroke-width="0.7"/>
<line x1="307.34" y1="132.20" x2="307.34" y2="133.30" stroke="#111" stroke-width="0.7"/>
<line x1="307.91" y1="132.20" x2="307.91" y2="134.60" stroke="#000" stroke-width="1.3"/>
<line x1="311.63" y1="132.20" x2="311.63" y2="133.30" stroke="#111" stroke-width="0.7"/>
<line x1="313.81" y1="132.20" x2="313.81" y2="133.30" stroke="#111" stroke-width="0.7"/>
<line x1="315.36" y1="132.20" x2="315.36" y2="133.30" stroke="#111" stroke-width="0.7"/>
<line x1="316.56" y1="132.20" x2="316.56" y2="134.20" stroke="#111" stroke-width="1.0"/>
<line x1="317.54" y1="132.20" x2="317.54" y2="133.30" stroke="#111" stroke-width="0.7"/>
<line x1="318.36" y1="132.20" x2="318.36" y2="133.30" stroke="#111" stroke-width="0.7"/>
<line x1="319.08" y1="132.20" x2="319.08" y2="133.30" stroke="#111" stroke-width="0.7"/>
<line x1="319.71" y1="132.20" x2="319.71" y2="133.30" stroke="#111" stroke-width="0.7"/>
<line x1="320.28" y1="132.20" x2="320.28" y2="134.60" stroke="#000" stroke-width="1.3"/>
<line x1="324.00" y1="132.20" x2="324.00" y2="133.30" stroke="#111" stroke-width="0.7"/>
<line x1="326.18" y1="132.20" x2="326.18" y2="133.30" stroke="#111" stroke-width="0.7"/>
<line x1="327.73" y1="132.20" x2="327.73" y2="133.30" stroke="#111" stroke-width="0.7"/>
<line x1="328.93" y1="132.20" x2="328.93" y2="134.20" stroke="#111" stroke-width="1.0"/>
<line x1="329.91" y1="132.20" x2="329.91" y2="133.30" stroke="#111" stroke-width="0.7"/>
<line x1="330.73" y1="132.20" x2="330.73" y2="133.30" stroke="#111" stroke-width="0.7"/>
<line x1="331.45" y1="132.20" x2="331.45" y2="133.30" stroke="#111" stroke-width="0.7"/>
<line x1="332.08" y1="132.20" x2="332.08" y2="133.30" stroke="#111" stroke-width="0.7"/>
<line x1="332.65" y1="132.20" x2="332.65" y2="134.60" stroke="#000" stroke-width="1.3"/>
<line x1="336.37" y1="132.20" x2="336.37" y2="133.30" stroke="#111" stroke-width="0.7"/>
<line x1="338.55" y1="132.20" x2="338.55" y2="133.30" stroke="#111" stroke-width="0.7"/>
<line x1="340.10" y1="132.20" x2="340.10" y2="133.30" stroke="#111" stroke-width="0.7"/>
<line x1="341.30" y1="132.20" x2="341.30" y2="134.20" stroke="#111" stroke-width="1.0"/>
<line x1="342.28" y1="132.20" x2="342.28" y2="133.30" stroke="#111" stroke-width="0.7"/>
<line x1="343.10" y1="132.20" x2="343.10" y2="133.30" stroke="#111" stroke-width="0.7"/>
<line x1="343.82" y1="132.20" x2="343.82" y2="133.30" stroke="#111" stroke-width="0.7"/>
<line x1="344.45" y1="132.20" x2="344.45" y2="133.30" stroke="#111" stroke-width="0.7"/>
<line x1="345.02" y1="132.20" x2="345.02" y2="134.60" stroke="#000" stroke-width="1.3"/>
<line x1="348.74" y1="132.20" x2="348.74" y2="133.30" stroke="#111" stroke-width="0.7"/>
<line x1="350.92" y1="132.20" x2="350.92" y2="133.30" stroke="#111" stroke-width="0.7"/>
<line x1="352.47" y1="132.20" x2="352.47" y2="133.30" stroke="#111" stroke-width="0.7"/>
<line x1="353.67" y1="132.20" x2="353.67" y2="134.20" stroke="#111" stroke-width="1.0"/>
<line x1="354.65" y1="132.20" x2="354.65" y2="133.30" stroke="#111" stroke-width="0.7"/>
<line x1="355.47" y1="132.20" x2="355.47" y2="133.30" stroke="#111" stroke-width="0.7"/>
<line x1="356.19" y1="132.20" x2="356.19" y2="133.30" stroke="#111" stroke-width="0.7"/>
<line x1="356.82" y1="132.20" x2="356.82" y2="133.30" stroke="#111" stroke-width="0.7"/>
<line x1="357.39" y1="132.20" x2="357.39" y2="134.60" stroke="#000" stroke-width="1.3"/>
<text transform="translate(256.93,134.70) scale(0.841,1)" font-size="5.94" fill="#222">10</text>
<text transform="translate(263.27,131.80) scale(1.211,1)" font-size="2.75" fill="#333" style="stroke-width:0.1px">0</text>
<text transform="translate(256.93,122.24) scale(0.841,1)" font-size="5.94" fill="#222">10</text>
<text transform="translate(263.12,119.34) scale(1.336,1)" font-size="2.75" fill="#333" style="stroke-width:0.1px">1</text>
<text transform="translate(256.93,109.79) scale(0.841,1)" font-size="5.94" fill="#222">10</text>
<text transform="translate(263.22,106.89) scale(1.277,1)" font-size="2.75" fill="#333" style="stroke-width:0.1px">2</text>
<text transform="translate(256.93,97.33) scale(0.841,1)" font-size="5.94" fill="#222">10</text>
<text transform="translate(263.27,94.43) scale(1.223,1)" font-size="2.75" fill="#333" style="stroke-width:0.1px">3</text>
<text transform="translate(256.93,84.87) scale(0.841,1)" font-size="5.94" fill="#222">10</text>
<text transform="translate(263.34,81.97) scale(1.151,1)" font-size="2.75" fill="#333" style="stroke-width:0.1px">4</text>
<text transform="translate(256.93,72.41) scale(0.841,1)" font-size="5.94" fill="#222">10</text>
<text transform="translate(263.27,69.51) scale(1.223,1)" font-size="2.75" fill="#333" style="stroke-width:0.1px">5</text>
<text transform="translate(256.93,59.96) scale(0.841,1)" font-size="5.94" fill="#222">10</text>
<text transform="translate(263.23,57.06) scale(1.250,1)" font-size="2.75" fill="#333" style="stroke-width:0.1px">6</text>
<text transform="translate(256.93,47.50) scale(0.841,1)" font-size="5.94" fill="#222">10</text>
<text transform="translate(263.22,44.60) scale(1.277,1)" font-size="2.75" fill="#333" style="stroke-width:0.1px">7</text>
<text transform="translate(267.33,144.50) scale(0.805,1)" font-size="6.09" fill="#222">10</text>
<text transform="translate(272.85,141.40) scale(1.362,1)" font-size="2.75" fill="#333" style="stroke-width:0.1px">0</text>
<text transform="translate(292.07,144.50) scale(0.805,1)" font-size="6.09" fill="#222">10</text>
<text transform="translate(297.54,141.40) scale(1.437,1)" font-size="2.75" fill="#333" style="stroke-width:0.1px">2</text>
<text transform="translate(316.81,144.50) scale(0.805,1)" font-size="6.09" fill="#222">10</text>
<text transform="translate(322.41,141.40) scale(1.294,1)" font-size="2.75" fill="#333" style="stroke-width:0.1px">4</text>
<text transform="translate(341.55,144.50) scale(0.805,1)" font-size="6.09" fill="#222">10</text>
<text transform="translate(347.03,141.40) scale(1.406,1)" font-size="2.75" fill="#333" style="stroke-width:0.1px">6</text>
<text transform="translate(284.78,36.30) scale(0.883,1)" font-size="9.13" fill="#111">50 µg/mL OxLDL</text>
<text transform="translate(288.40,156.80) scale(0.877,1)" font-size="9.13" fill="#111">AnnexinV-APC</text>
<text transform="translate(251.80,99.53) rotate(-90) scale(0.797,1)" font-size="9.13" fill="#111">SSC-A</text>
<text transform="translate(327.80,81.80) scale(0.935,1)" font-size="6.67" fill="#111">AnnexinV+</text>
<text transform="translate(336.96,89.50) scale(0.970,1)" font-size="6.09" fill="#111">17.5</text>
<line x1="398.30" y1="48.30" x2="398.30" y2="132.80" stroke="#000" stroke-width="1.2"/>
<line x1="395.00" y1="132.80" x2="512.40" y2="132.80" stroke="#000" stroke-width="1.2"/>
<line x1="395.30" y1="132.80" x2="398.30" y2="132.80" stroke="#222" stroke-width="1.0"/>
<line x1="395.30" y1="112.35" x2="398.30" y2="112.35" stroke="#222" stroke-width="1.0"/>
<line x1="395.30" y1="91.90" x2="398.30" y2="91.90" stroke="#222" stroke-width="1.0"/>
<line x1="395.30" y1="71.45" x2="398.30" y2="71.45" stroke="#222" stroke-width="1.0"/>
<line x1="395.30" y1="51.00" x2="398.30" y2="51.00" stroke="#222" stroke-width="1.0"/>
<text transform="translate(379.55,53.60) scale(0.925,1)" font-size="8.26" fill="#111">400</text>
<text transform="translate(379.39,74.00) scale(0.936,1)" font-size="8.26" fill="#111">300</text>
<text transform="translate(379.31,94.40) scale(0.942,1)" font-size="8.26" fill="#111">200</text>
<text transform="translate(379.88,114.80) scale(0.841,1)" font-size="8.26" fill="#111">100</text>
<text transform="translate(387.73,135.30) scale(0.807,1)" font-size="8.26" fill="#111">0</text>
<rect x="406.50" y="88.90" width="26.20" height="43.90" fill="#a1002b"/>
<line x1="419.60" y1="88.90" x2="419.60" y2="80.80" stroke="#222" stroke-width="1.0"/>
<line x1="413.10" y1="81.00" x2="426.10" y2="81.00" stroke="#222" stroke-width="1.2"/>
<line x1="419.60" y1="132.80" x2="419.60" y2="136.00" stroke="#222" stroke-width="1.0"/>
<rect x="443.20" y="90.00" width="26.00" height="42.80" fill="#a1002b"/>
<line x1="456.20" y1="90.00" x2="456.20" y2="81.20" stroke="#222" stroke-width="1.0"/>
<line x1="449.70" y1="81.40" x2="462.70" y2="81.40" stroke="#222" stroke-width="1.2"/>
<line x1="456.20" y1="132.80" x2="456.20" y2="136.00" stroke="#222" stroke-width="1.0"/>
<rect x="480.00" y="73.10" width="26.10" height="59.70" fill="#a1002b"/>
<line x1="493.05" y1="73.10" x2="493.05" y2="64.60" stroke="#222" stroke-width="1.0"/>
<line x1="486.55" y1="64.80" x2="499.55" y2="64.80" stroke="#222" stroke-width="1.2"/>
<line x1="493.05" y1="132.80" x2="493.05" y2="136.00" stroke="#222" stroke-width="1.0"/>
<text transform="translate(412.66,145.60) scale(0.813,1)" font-size="8.26" fill="#111">PBS</text>
<text transform="translate(449.52,145.60) scale(0.893,1)" font-size="8.12" fill="#111">LDL</text>
<text transform="translate(481.68,145.60) scale(0.877,1)" font-size="8.12" fill="#111">OxLDL</text>
<text transform="translate(372.10,151.64) rotate(-90) scale(0.970,1)" font-size="9.57" fill="#111">Median fluorescence intensity</text>
<polyline points="418.50,73.10 418.50,68.00 456.20,68.00 456.20,73.50" fill="none" stroke="#222" stroke-width="1.0"/>
<text transform="translate(425.72,62.60) scale(1.000,1)" font-size="7.39" fill="#111">p=0.81</text>
<polyline points="458.40,60.30 458.40,46.50 492.80,46.50 492.80,52.00" fill="none" stroke="#222" stroke-width="1.0"/>
<text transform="translate(463.72,40.40) scale(1.011,1)" font-size="7.25" fill="#111">p&lt;0.01</text>
<polyline points="419.20,54.60 419.20,28.90 493.20,28.90 493.20,34.60" fill="none" stroke="#222" stroke-width="1.0"/>
<text transform="translate(444.32,23.40) scale(1.025,1)" font-size="7.25" fill="#111">p&lt;0.01</text>
<line x1="72.20" y1="211.20" x2="72.20" y2="327.20" stroke="#000" stroke-width="1.2"/>
<line x1="69.20" y1="327.20" x2="241.50" y2="327.20" stroke="#000" stroke-width="1.2"/>
<line x1="69.20" y1="327.20" x2="72.20" y2="327.20" stroke="#222" stroke-width="1.0"/>
<text transform="translate(62.23,329.90) scale(0.852,1)" font-size="7.83" fill="#111">0</text>
<line x1="69.20" y1="289.80" x2="72.20" y2="289.80" stroke="#222" stroke-width="1.0"/>
<text transform="translate(57.42,292.50) scale(0.984,1)" font-size="7.83" fill="#111">10</text>
<line x1="69.20" y1="252.40" x2="72.20" y2="252.40" stroke="#222" stroke-width="1.0"/>
<text transform="translate(57.62,255.10) scale(0.960,1)" font-size="7.83" fill="#111">20</text>
<line x1="69.20" y1="215.00" x2="72.20" y2="215.00" stroke="#222" stroke-width="1.0"/>
<text transform="translate(57.70,217.70) scale(0.951,1)" font-size="7.83" fill="#111">30</text>
<rect x="77.40" y="298.90" width="23.80" height="28.30" fill="#a1002b"/>
<line x1="89.30" y1="298.90" x2="89.30" y2="293.10" stroke="#222" stroke-width="1.0"/>
<line x1="83.40" y1="293.40" x2="95.20" y2="293.40" stroke="#222" stroke-width="1.2"/>
<line x1="89.30" y1="327.20" x2="89.30" y2="329.40" stroke="#222" stroke-width="1.0"/>
<rect x="111.20" y="299.20" width="23.90" height="28.00" fill="#a1002b"/>
<line x1="123.15" y1="299.20" x2="123.15" y2="291.50" stroke="#222" stroke-width="1.0"/>
<line x1="117.25" y1="291.80" x2="129.05" y2="291.80" stroke="#222" stroke-width="1.2"/>
<line x1="123.15" y1="327.20" x2="123.15" y2="329.40" stroke="#222" stroke-width="1.0"/>
<rect x="144.90" y="266.50" width="23.90" height="60.70" fill="#a1002b"/>
<line x1="156.85" y1="266.50" x2="156.85" y2="256.10" stroke="#222" stroke-width="1.0"/>
<line x1="150.95" y1="256.40" x2="162.75" y2="256.40" stroke="#222" stroke-width="1.2"/>
<line x1="156.85" y1="327.20" x2="156.85" y2="329.40" stroke="#222" stroke-width="1.0"/>
<rect x="179.20" y="305.10" width="23.60" height="22.10" fill="#a1002b"/>
<line x1="191.00" y1="305.10" x2="191.00" y2="299.20" stroke="#222" stroke-width="1.0"/>
<line x1="185.10" y1="299.50" x2="196.90" y2="299.50" stroke="#222" stroke-width="1.2"/>
<line x1="191.00" y1="327.20" x2="191.00" y2="329.40" stroke="#222" stroke-width="1.0"/>
<rect x="213.10" y="243.10" width="23.80" height="84.10" fill="#a1002b"/>
<line x1="225.00" y1="243.10" x2="225.00" y2="229.70" stroke="#222" stroke-width="1.0"/>
<line x1="219.10" y1="230.00" x2="230.90" y2="230.00" stroke="#222" stroke-width="1.2"/>
<line x1="225.00" y1="327.20" x2="225.00" y2="329.40" stroke="#222" stroke-width="1.0"/>
<text transform="translate(83.68,340.30) scale(0.823,1)" font-size="7.97" fill="#111">PBS</text>
<text transform="translate(116.32,340.30) scale(0.916,1)" font-size="7.97" fill="#111">LDL</text>
<text transform="translate(145.48,340.30) scale(0.905,1)" font-size="7.97" fill="#111">OxLDL</text>
<text transform="translate(184.32,340.30) scale(0.909,1)" font-size="7.97" fill="#111">LDL</text>
<text transform="translate(213.47,340.30) scale(0.909,1)" font-size="7.97" fill="#111">OxLDL</text>
<line x1="114.20" y1="348.00" x2="170.80" y2="348.00" stroke="#555" stroke-width="1.2"/>
<line x1="180.50" y1="348.00" x2="236.90" y2="348.00" stroke="#555" stroke-width="1.2"/>
<text transform="translate(126.19,358.30) scale(1.104,1)" font-size="7.10" fill="#111">50 µg/mL</text>
<text transform="translate(189.80,358.30) scale(1.123,1)" font-size="7.10" fill="#111">100 µg/mL</text>
<text transform="translate(51.00,301.82) rotate(-90) scale(0.832,1)" font-size="9.28" fill="#111">PSer</text>
<text transform="translate(51.00,283.69) rotate(-90) scale(1.060,1)" font-size="9.28" fill="#111">(% of total)</text>
<polyline points="123.80,268.80 123.80,233.20 157.20,233.20 157.20,246.50" fill="none" stroke="#222" stroke-width="1.0"/>
<text transform="translate(127.10,228.50) scale(1.033,1)" font-size="7.39" fill="#111">p=0.026</text>
<polyline points="192.80,286.60 192.80,209.20 224.60,209.20 224.60,221.50" fill="none" stroke="#222" stroke-width="1.0"/>
<text transform="translate(196.92,204.30) scale(1.005,1)" font-size="7.39" fill="#111">p&lt;0.01</text>
<line x1="298.00" y1="220.00" x2="298.00" y2="327.20" stroke="#000" stroke-width="1.2"/>
<line x1="295.70" y1="327.20" x2="454.40" y2="327.20" stroke="#000" stroke-width="1.2"/>
<line x1="295.70" y1="327.20" x2="298.00" y2="327.20" stroke="#222" stroke-width="1.0"/>
<text transform="translate(287.68,329.90) scale(0.942,1)" font-size="8.41" fill="#111">0</text>
<line x1="295.70" y1="301.02" x2="298.00" y2="301.02" stroke="#222" stroke-width="1.0"/>
<text transform="translate(287.68,303.72) scale(0.952,1)" font-size="8.41" fill="#111">5</text>
<line x1="295.70" y1="274.85" x2="298.00" y2="274.85" stroke="#222" stroke-width="1.0"/>
<text transform="translate(283.42,277.55) scale(0.928,1)" font-size="8.41" fill="#111">10</text>
<line x1="295.70" y1="248.67" x2="298.00" y2="248.67" stroke="#222" stroke-width="1.0"/>
<text transform="translate(283.41,251.37) scale(0.933,1)" font-size="8.41" fill="#111">15</text>
<line x1="295.70" y1="222.50" x2="298.00" y2="222.50" stroke="#222" stroke-width="1.0"/>
<text transform="translate(283.62,225.20) scale(0.905,1)" font-size="8.41" fill="#111">20</text>
<rect x="302.00" y="321.10" width="23.10" height="6.10" fill="#a1002b"/>
<line x1="313.55" y1="321.10" x2="313.55" y2="319.20" stroke="#222" stroke-width="1.0"/>
<line x1="307.85" y1="319.40" x2="319.25" y2="319.40" stroke="#222" stroke-width="1.2"/>
<line x1="313.55" y1="327.20" x2="313.55" y2="329.60" stroke="#222" stroke-width="1.0"/>
<rect x="333.50" y="298.20" width="22.70" height="29.00" fill="#a1002b"/>
<line x1="344.85" y1="298.20" x2="344.85" y2="294.30" stroke="#222" stroke-width="1.0"/>
<line x1="339.15" y1="294.50" x2="350.55" y2="294.50" stroke="#222" stroke-width="1.2"/>
<line x1="344.85" y1="327.20" x2="344.85" y2="329.60" stroke="#222" stroke-width="1.0"/>
<rect x="364.90" y="269.50" width="22.90" height="57.70" fill="#a1002b"/>
<line x1="376.35" y1="269.50" x2="376.35" y2="267.60" stroke="#222" stroke-width="1.0"/>
<line x1="370.65" y1="267.80" x2="382.05" y2="267.80" stroke="#222" stroke-width="1.2"/>
<line x1="376.35" y1="327.20" x2="376.35" y2="329.60" stroke="#222" stroke-width="1.0"/>
<rect x="396.30" y="279.60" width="22.60" height="47.60" fill="#a1002b"/>
<line x1="407.60" y1="279.60" x2="407.60" y2="267.60" stroke="#222" stroke-width="1.0"/>
<line x1="401.90" y1="267.80" x2="413.30" y2="267.80" stroke="#222" stroke-width="1.2"/>
<line x1="407.60" y1="327.20" x2="407.60" y2="329.60" stroke="#222" stroke-width="1.0"/>
<rect x="427.60" y="252.80" width="23.00" height="74.40" fill="#a1002b"/>
<line x1="439.10" y1="252.80" x2="439.10" y2="242.80" stroke="#222" stroke-width="1.0"/>
<line x1="433.40" y1="243.00" x2="444.80" y2="243.00" stroke="#222" stroke-width="1.2"/>
<line x1="439.10" y1="327.20" x2="439.10" y2="329.60" stroke="#222" stroke-width="1.0"/>
<text transform="translate(306.34,340.30) scale(0.861,1)" font-size="8.12" fill="#111">PBS</text>
<text transform="translate(343.03,340.30) scale(0.765,1)" font-size="8.12" fill="#111">1</text>
<text transform="translate(374.23,340.30) scale(0.830,1)" font-size="8.12" fill="#111">5</text>
<text transform="translate(403.68,340.30) scale(0.854,1)" font-size="8.12" fill="#111">15</text>
<text transform="translate(427.39,340.30) scale(0.941,1)" font-size="8.12" fill="#111">30 min</text>
<line x1="336.90" y1="348.10" x2="454.40" y2="348.10" stroke="#555" stroke-width="1.2"/>
<text transform="translate(367.79,357.90) scale(0.982,1)" font-size="7.83" fill="#111">50 µg/mL oxLDL</text>
<text transform="translate(276.30,306.21) rotate(-90) scale(0.827,1)" font-size="9.28" fill="#111">PSer</text>
<text transform="translate(276.30,288.19) rotate(-90) scale(1.058,1)" font-size="9.28" fill="#111">(% of total)</text>
<polyline points="317.70,315.90 317.70,278.50 344.90,278.50 344.90,289.50" fill="none" stroke="#222" stroke-width="1.0"/>
<text transform="translate(319.19,273.60) scale(1.003,1)" font-size="7.83" fill="#111">p=0.13</text>
<polyline points="319.70,260.00 319.70,247.40 376.20,247.40 376.20,258.50" fill="none" stroke="#222" stroke-width="1.0"/>
<text transform="translate(336.52,242.30) scale(0.963,1)" font-size="7.68" fill="#111">p&lt;0.01</text>
<polyline points="320.80,239.50 320.80,226.70 407.60,226.70 407.60,255.70" fill="none" stroke="#222" stroke-width="1.0"/>
<text transform="translate(352.31,222.00) scale(0.971,1)" font-size="7.68" fill="#111">p&lt;0.01</text>
<polyline points="319.20,215.70 319.20,196.70 438.60,196.70 438.60,223.40" fill="none" stroke="#222" stroke-width="1.0"/>
<text transform="translate(366.71,192.00) scale(0.980,1)" font-size="7.68" fill="#111">p&lt;0.01</text>
<line x1="86.70" y1="387.30" x2="86.70" y2="482.40" stroke="#000" stroke-width="1.2"/>
<line x1="86.70" y1="492.50" x2="86.70" y2="590.80" stroke="#000" stroke-width="1.2"/>
<line x1="84.00" y1="482.40" x2="89.60" y2="482.40" stroke="#222" stroke-width="1.0"/>
<line x1="84.00" y1="492.50" x2="89.60" y2="492.50" stroke="#222" stroke-width="1.0"/>
<line x1="84.00" y1="390.20" x2="86.70" y2="390.20" stroke="#222" stroke-width="1.0"/>
<line x1="84.00" y1="408.64" x2="86.70" y2="408.64" stroke="#222" stroke-width="1.0"/>
<line x1="84.00" y1="427.08" x2="86.70" y2="427.08" stroke="#222" stroke-width="1.0"/>
<line x1="84.00" y1="445.52" x2="86.70" y2="445.52" stroke="#222" stroke-width="1.0"/>
<line x1="84.00" y1="463.96" x2="86.70" y2="463.96" stroke="#222" stroke-width="1.0"/>
<line x1="84.00" y1="590.80" x2="86.70" y2="590.80" stroke="#222" stroke-width="1.0"/>
<line x1="84.00" y1="571.14" x2="86.70" y2="571.14" stroke="#222" stroke-width="1.0"/>
<line x1="84.00" y1="551.48" x2="86.70" y2="551.48" stroke="#222" stroke-width="1.0"/>
<line x1="84.00" y1="531.82" x2="86.70" y2="531.82" stroke="#222" stroke-width="1.0"/>
<line x1="84.00" y1="512.16" x2="86.70" y2="512.16" stroke="#222" stroke-width="1.0"/>
<line x1="84.00" y1="590.80" x2="451.80" y2="590.80" stroke="#000" stroke-width="1.2"/>
<text transform="translate(68.35,392.60) scale(0.865,1)" font-size="8.41" fill="#111">100</text>
<text transform="translate(72.16,411.44) scale(0.894,1)" font-size="8.41" fill="#111">95</text>
<text transform="translate(72.16,429.88) scale(0.889,1)" font-size="8.41" fill="#111">90</text>
<text transform="translate(72.16,448.32) scale(0.894,1)" font-size="8.41" fill="#111">85</text>
<text transform="translate(72.16,466.76) scale(0.889,1)" font-size="8.41" fill="#111">80</text>
<text transform="translate(72.12,485.20) scale(0.898,1)" font-size="8.41" fill="#111">75</text>
<text transform="translate(72.20,495.30) scale(0.885,1)" font-size="8.41" fill="#111">50</text>
<text transform="translate(72.35,514.96) scale(0.868,1)" font-size="8.41" fill="#111">40</text>
<text transform="translate(72.20,534.62) scale(0.885,1)" font-size="8.41" fill="#111">30</text>
<text transform="translate(72.12,554.28) scale(0.894,1)" font-size="8.41" fill="#111">20</text>
<text transform="translate(71.92,573.94) scale(0.916,1)" font-size="8.41" fill="#111">10</text>
<text transform="translate(76.30,593.60) scale(0.892,1)" font-size="8.41" fill="#111">0</text>
<text transform="translate(52.80,514.22) rotate(-90) scale(0.842,1)" font-size="9.28" fill="#111">PSer</text>
<text transform="translate(52.80,495.78) rotate(-90) scale(1.035,1)" font-size="9.28" fill="#111">(% of total)</text>
<rect x="92.25" y="587.70" width="15.10" height="3.10" fill="#a1002b"/>
<line x1="99.80" y1="587.70" x2="99.80" y2="587.20" stroke="#222" stroke-width="0.7"/>
<line x1="96.10" y1="587.20" x2="103.50" y2="587.20" stroke="#222" stroke-width="0.9"/>
<rect x="112.05" y="547.90" width="15.10" height="42.90" fill="#2d4a7e"/>
<line x1="119.60" y1="547.90" x2="119.60" y2="541.80" stroke="#222" stroke-width="1.0"/>
<line x1="115.90" y1="541.80" x2="123.30" y2="541.80" stroke="#222" stroke-width="1.0"/>
<line x1="109.70" y1="590.80" x2="109.70" y2="593.80" stroke="#222" stroke-width="1.0"/>
<text transform="translate(98.50,633.00) scale(1.293,1)" font-size="6.00" fill="#111">-</text>
<text transform="translate(117.43,633.50) scale(1.142,1)" font-size="6.50" fill="#111">+</text>
<rect x="145.55" y="588.50" width="15.10" height="2.30" fill="#a1002b"/>
<line x1="153.10" y1="588.50" x2="153.10" y2="587.30" stroke="#222" stroke-width="0.7"/>
<line x1="149.40" y1="587.30" x2="156.80" y2="587.30" stroke="#222" stroke-width="0.9"/>
<rect x="165.35" y="524.60" width="15.10" height="66.20" fill="#2d4a7e"/>
<line x1="172.90" y1="524.60" x2="172.90" y2="513.10" stroke="#222" stroke-width="1.0"/>
<line x1="169.20" y1="513.10" x2="176.60" y2="513.10" stroke="#222" stroke-width="1.0"/>
<line x1="163.00" y1="590.80" x2="163.00" y2="593.80" stroke="#222" stroke-width="1.0"/>
<text transform="translate(151.80,633.00) scale(1.293,1)" font-size="6.00" fill="#111">-</text>
<text transform="translate(170.73,633.50) scale(1.142,1)" font-size="6.50" fill="#111">+</text>
<rect x="198.45" y="586.10" width="15.10" height="4.70" fill="#a1002b"/>
<line x1="206.00" y1="586.10" x2="206.00" y2="585.20" stroke="#222" stroke-width="0.7"/>
<line x1="202.30" y1="585.20" x2="209.70" y2="585.20" stroke="#222" stroke-width="0.9"/>
<rect x="218.25" y="516.10" width="15.10" height="74.70" fill="#2d4a7e"/>
<line x1="225.80" y1="516.10" x2="225.80" y2="506.40" stroke="#222" stroke-width="1.0"/>
<line x1="222.10" y1="506.40" x2="229.50" y2="506.40" stroke="#222" stroke-width="1.0"/>
<line x1="215.90" y1="590.80" x2="215.90" y2="593.80" stroke="#222" stroke-width="1.0"/>
<text transform="translate(204.70,633.00) scale(1.293,1)" font-size="6.00" fill="#111">-</text>
<text transform="translate(223.63,633.50) scale(1.142,1)" font-size="6.50" fill="#111">+</text>
<rect x="251.35" y="588.80" width="15.10" height="2.00" fill="#a1002b"/>
<line x1="258.90" y1="588.80" x2="258.90" y2="588.00" stroke="#222" stroke-width="0.7"/>
<line x1="255.20" y1="588.00" x2="262.60" y2="588.00" stroke="#222" stroke-width="0.9"/>
<rect x="271.15" y="557.00" width="15.10" height="33.80" fill="#2d4a7e"/>
<line x1="278.70" y1="557.00" x2="278.70" y2="551.20" stroke="#222" stroke-width="1.0"/>
<line x1="275.00" y1="551.20" x2="282.40" y2="551.20" stroke="#222" stroke-width="1.0"/>
<line x1="268.80" y1="590.80" x2="268.80" y2="593.80" stroke="#222" stroke-width="1.0"/>
<text transform="translate(257.60,633.00) scale(1.293,1)" font-size="6.00" fill="#111">-</text>
<text transform="translate(276.53,633.50) scale(1.142,1)" font-size="6.50" fill="#111">+</text>
<rect x="304.05" y="587.70" width="15.10" height="3.10" fill="#a1002b"/>
<line x1="311.60" y1="587.70" x2="311.60" y2="586.90" stroke="#222" stroke-width="0.7"/>
<line x1="307.90" y1="586.90" x2="315.30" y2="586.90" stroke="#222" stroke-width="0.9"/>
<rect x="323.85" y="553.70" width="15.10" height="37.10" fill="#2d4a7e"/>
<line x1="331.40" y1="553.70" x2="331.40" y2="545.20" stroke="#222" stroke-width="1.0"/>
<line x1="327.70" y1="545.20" x2="335.10" y2="545.20" stroke="#222" stroke-width="1.0"/>
<line x1="321.50" y1="590.80" x2="321.50" y2="593.80" stroke="#222" stroke-width="1.0"/>
<text transform="translate(310.30,633.00) scale(1.293,1)" font-size="6.00" fill="#111">-</text>
<text transform="translate(329.23,633.50) scale(1.142,1)" font-size="6.50" fill="#111">+</text>
<rect x="357.15" y="545.70" width="15.10" height="45.10" fill="#a1002b"/>
<line x1="364.70" y1="545.70" x2="364.70" y2="542.00" stroke="#222" stroke-width="0.7"/>
<line x1="361.00" y1="542.00" x2="368.40" y2="542.00" stroke="#222" stroke-width="0.9"/>
<rect x="376.95" y="471.20" width="15.10" height="10.80" fill="#2d4a7e"/>
<rect x="376.95" y="492.60" width="15.10" height="98.20" fill="#2d4a7e"/>
<line x1="384.50" y1="471.20" x2="384.50" y2="454.25" stroke="#222" stroke-width="1.0"/>
<line x1="380.80" y1="454.25" x2="388.20" y2="454.25" stroke="#222" stroke-width="1.0"/>
<line x1="374.60" y1="590.80" x2="374.60" y2="593.80" stroke="#222" stroke-width="1.0"/>
<text transform="translate(363.40,633.00) scale(1.293,1)" font-size="6.00" fill="#111">-</text>
<text transform="translate(382.33,633.50) scale(1.142,1)" font-size="6.50" fill="#111">+</text>
<rect x="410.05" y="548.40" width="15.10" height="42.40" fill="#a1002b"/>
<line x1="417.60" y1="548.40" x2="417.60" y2="542.30" stroke="#222" stroke-width="0.7"/>
<line x1="413.90" y1="542.30" x2="421.30" y2="542.30" stroke="#222" stroke-width="0.9"/>
<rect x="429.85" y="473.80" width="15.10" height="8.20" fill="#2d4a7e"/>
<rect x="429.85" y="492.60" width="15.10" height="98.20" fill="#2d4a7e"/>
<line x1="437.40" y1="473.80" x2="437.40" y2="450.25" stroke="#222" stroke-width="1.0"/>
<line x1="433.70" y1="450.25" x2="441.10" y2="450.25" stroke="#222" stroke-width="1.0"/>
<line x1="427.50" y1="590.80" x2="427.50" y2="593.80" stroke="#222" stroke-width="1.0"/>
<text transform="translate(416.30,633.00) scale(1.293,1)" font-size="6.00" fill="#111">-</text>
<text transform="translate(435.23,633.50) scale(1.142,1)" font-size="6.50" fill="#111">+</text>
<polyline points="99.70,576.50 99.70,516.00 121.60,516.00 121.60,526.60" fill="none" stroke="#222" stroke-width="1.0"/>
<text transform="translate(102.06,512.20) scale(0.929,1)" font-size="7.25" fill="#111">&lt;0.01</text>
<line x1="116.70" y1="401.50" x2="432.50" y2="401.50" stroke="#222" stroke-width="0.9"/>
<text transform="translate(265.86,398.50) scale(0.871,1)" font-size="7.83" fill="#111">&lt;0.01</text>
<line x1="116.70" y1="422.20" x2="380.80" y2="422.20" stroke="#222" stroke-width="0.9"/>
<text transform="translate(239.66,419.40) scale(0.866,1)" font-size="7.83" fill="#111">&lt;0.01</text>
<line x1="116.70" y1="439.30" x2="331.30" y2="439.30" stroke="#222" stroke-width="0.9"/>
<text transform="translate(214.63,436.80) scale(0.945,1)" font-size="7.83" fill="#111">&gt;0.99</text>
<line x1="116.70" y1="459.30" x2="278.50" y2="459.30" stroke="#222" stroke-width="0.9"/>
<text transform="translate(190.51,456.50) scale(0.921,1)" font-size="7.83" fill="#111">0.99</text>
<line x1="116.70" y1="476.70" x2="225.80" y2="476.70" stroke="#222" stroke-width="0.9"/>
<text transform="translate(164.11,474.30) scale(0.920,1)" font-size="7.83" fill="#111">0.04</text>
<line x1="116.70" y1="494.30" x2="175.40" y2="494.30" stroke="#222" stroke-width="0.9"/>
<text transform="translate(138.81,491.80) scale(0.923,1)" font-size="7.83" fill="#111">0.32</text>
<text transform="translate(103.28,603.60) scale(0.788,1)" font-size="8.26" fill="#111">PBS</text>
<text transform="translate(145.89,604.00) scale(0.920,1)" font-size="8.41" fill="#111">0.01U/mL</text>
<text transform="translate(146.04,613.90) scale(0.913,1)" font-size="8.84" fill="#111">Thrombin</text>
<text transform="translate(199.37,604.00) scale(0.984,1)" font-size="8.41" fill="#111">0.1U/mL</text>
<text transform="translate(199.04,613.90) scale(0.904,1)" font-size="8.84" fill="#111">Thrombin</text>
<text transform="translate(252.93,604.00) scale(0.899,1)" font-size="8.41" fill="#111">1µM ADP</text>
<text transform="translate(303.63,604.00) scale(0.911,1)" font-size="8.41" fill="#111">10µM ADP</text>
<text transform="translate(358.49,603.90) scale(0.934,1)" font-size="8.41" fill="#111">50 ng/mL</text>
<text transform="translate(357.20,613.90) scale(0.912,1)" font-size="8.70" fill="#111">Convulxin</text>
<text transform="translate(409.19,606.60) scale(0.907,1)" font-size="8.41" fill="#111">500 ng/mL</text>
<text transform="translate(410.10,616.40) scale(0.917,1)" font-size="8.70" fill="#111">Convulxin</text>
<text transform="translate(52.67,623.80) scale(0.897,1)" font-size="8.26" fill="#111">OxLDL</text>
<text transform="translate(44.33,633.40) scale(0.939,1)" font-size="8.41" fill="#111">(50µg/mL) :</text>
</svg>
</body></html>
